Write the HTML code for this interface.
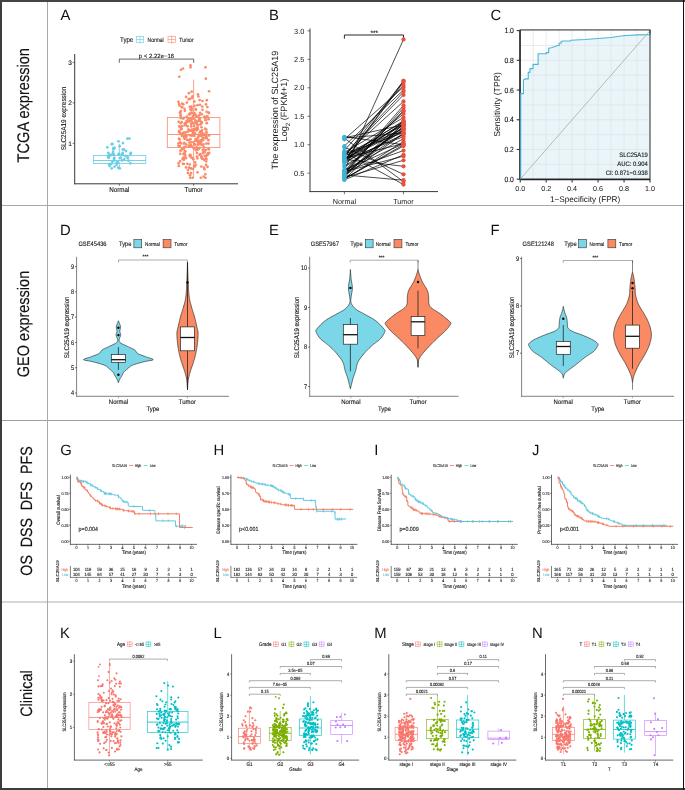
<!DOCTYPE html>
<html><head><meta charset="utf-8"><style>
html,body{margin:0;padding:0;background:#fff;width:685px;height:790px;overflow:hidden}
svg{display:block;will-change:transform}
text{font-family:"Liberation Sans",sans-serif;text-rendering:geometricPrecision}
</style></head><body>
<svg width="685" height="790" viewBox="0 0 685 790">
<rect x="0" y="0" width="685" height="790" fill="#fff" stroke="none" stroke-width="0.8"/>
<line x1="0" y1="205.5" x2="684" y2="205.5" stroke="#a8a8a8" stroke-width="1"/>
<line x1="0" y1="420.5" x2="684" y2="420.5" stroke="#a0a0a0" stroke-width="1"/>
<line x1="0" y1="602" x2="684" y2="602" stroke="#c8c8c8" stroke-width="1.6"/>
<line x1="47.5" y1="0" x2="47.5" y2="790" stroke="#a8a8a8" stroke-width="1"/>
<text transform="translate(60.4 20.4)" font-size="14.8" text-anchor="start" fill="#111">A</text>
<text transform="translate(120 42) scale(0.6100 0.7015)" font-size="10" text-anchor="start" fill="#151515" stroke="#151515" stroke-width="0.171">Type</text>
<rect x="136.3" y="36.4" width="7.4" height="6.2" fill="none" stroke="#6acce5" stroke-width="0.6"/>
<line x1="136.3" y1="39.5" x2="143.7" y2="39.5" stroke="#6acce5" stroke-width="0.6"/>
<line x1="140" y1="35.4" x2="140" y2="43.6" stroke="#6acce5" stroke-width="0.6"/>
<text transform="translate(147.6 42) scale(0.5000 0.6250)" font-size="10" text-anchor="start" fill="#151515" stroke="#151515" stroke-width="0.192">Normal</text>
<rect x="168" y="36.4" width="7.4" height="6.2" fill="none" stroke="#f98b6a" stroke-width="0.6"/>
<line x1="168" y1="39.5" x2="175.4" y2="39.5" stroke="#f98b6a" stroke-width="0.6"/>
<line x1="171.7" y1="35.4" x2="171.7" y2="43.6" stroke="#f98b6a" stroke-width="0.6"/>
<text transform="translate(179.3 42) scale(0.5000 0.6250)" font-size="10" text-anchor="start" fill="#151515" stroke="#151515" stroke-width="0.192">Tumor</text>
<line x1="74.7" y1="54" x2="74.7" y2="184.3" stroke="#383838" stroke-width="1.0"/>
<line x1="74.2" y1="183.8" x2="238" y2="183.8" stroke="#383838" stroke-width="1.0"/>
<line x1="72.6" y1="62.45" x2="74.7" y2="62.45" stroke="#383838" stroke-width="0.7"/>
<text transform="translate(71.8 64.75) scale(0.6600 0.6600)" font-size="10" text-anchor="end" fill="#151515" stroke="#151515" stroke-width="0.182">3</text>
<line x1="72.6" y1="102.9" x2="74.7" y2="102.9" stroke="#383838" stroke-width="0.7"/>
<text transform="translate(71.8 105.2) scale(0.6600 0.6600)" font-size="10" text-anchor="end" fill="#151515" stroke="#151515" stroke-width="0.182">2</text>
<line x1="72.6" y1="143.35" x2="74.7" y2="143.35" stroke="#383838" stroke-width="0.7"/>
<text transform="translate(71.8 145.65) scale(0.6600 0.6600)" font-size="10" text-anchor="end" fill="#151515" stroke="#151515" stroke-width="0.182">1</text>
<line x1="119.3" y1="183.8" x2="119.3" y2="185.8" stroke="#383838" stroke-width="0.7"/>
<line x1="193.6" y1="183.8" x2="193.6" y2="185.8" stroke="#383838" stroke-width="0.7"/>
<text transform="translate(119.3 192) scale(0.6300 0.7056)" font-size="10" text-anchor="middle" fill="#151515" stroke="#151515" stroke-width="0.170">Normal</text>
<text transform="translate(193.6 192) scale(0.6300 0.7056)" font-size="10" text-anchor="middle" fill="#151515" stroke="#151515" stroke-width="0.170">Tumor</text>
<text transform="translate(66.2 118.5) rotate(-90) scale(0.6400 0.7040)" font-size="10" text-anchor="middle" fill="#151515" stroke="#151515" stroke-width="0.170">SLC25A19 expression</text>
<path d="M119.3 62.8 V59.1 H193.7 V62.8" fill="none" stroke="#444" stroke-width="0.8"/>
<text transform="translate(156.5 58.2) scale(0.6000 0.6000)" font-size="10" text-anchor="middle" fill="#151515" stroke="#151515" stroke-width="0.200">p &lt; 2.22e−16</text>
<rect x="93.4" y="155.4" width="52.4" height="8" fill="none" stroke="#6acce5" stroke-width="0.8"/>
<line x1="93.4" y1="160.5" x2="145.8" y2="160.5" stroke="#6acce5" stroke-width="0.9"/>
<line x1="119.3" y1="143.7" x2="119.3" y2="155.4" stroke="#6acce5" stroke-width="0.8"/>
<line x1="119.3" y1="163.4" x2="119.3" y2="168.5" stroke="#6acce5" stroke-width="0.8"/>
<circle cx="129.48" cy="138.5" r="1.35" fill="#6acce5"/>
<circle cx="118.48" cy="141.33" r="1.35" fill="#6acce5"/>
<circle cx="111.73" cy="144.16" r="1.35" fill="#6acce5"/>
<circle cx="119.59" cy="146.18" r="1.35" fill="#6acce5"/>
<circle cx="109.56" cy="166.1" r="1.35" fill="#6acce5"/>
<circle cx="114.58" cy="166.57" r="1.35" fill="#6acce5"/>
<circle cx="123.94" cy="149.41" r="1.35" fill="#6acce5"/>
<circle cx="108.31" cy="152.76" r="1.35" fill="#6acce5"/>
<circle cx="122.99" cy="143.12" r="1.35" fill="#6acce5"/>
<circle cx="122.07" cy="160.47" r="1.35" fill="#6acce5"/>
<circle cx="119.98" cy="158.14" r="1.35" fill="#6acce5"/>
<circle cx="108.73" cy="157.84" r="1.35" fill="#6acce5"/>
<circle cx="108.02" cy="157.06" r="1.35" fill="#6acce5"/>
<circle cx="118.43" cy="154.52" r="1.35" fill="#6acce5"/>
<circle cx="119.76" cy="168.43" r="1.35" fill="#6acce5"/>
<circle cx="122.67" cy="154.46" r="1.35" fill="#6acce5"/>
<circle cx="118.28" cy="167.66" r="1.35" fill="#6acce5"/>
<circle cx="113.98" cy="158.71" r="1.35" fill="#6acce5"/>
<circle cx="127.47" cy="138.7" r="1.35" fill="#6acce5"/>
<circle cx="124.29" cy="159.02" r="1.35" fill="#6acce5"/>
<circle cx="114.24" cy="160.47" r="1.35" fill="#6acce5"/>
<circle cx="108.99" cy="154.7" r="1.35" fill="#6acce5"/>
<circle cx="127.62" cy="158.09" r="1.35" fill="#6acce5"/>
<circle cx="116.58" cy="164.83" r="1.35" fill="#6acce5"/>
<circle cx="107.31" cy="147.36" r="1.35" fill="#6acce5"/>
<circle cx="112.33" cy="161.79" r="1.35" fill="#6acce5"/>
<circle cx="130.83" cy="152.94" r="1.35" fill="#6acce5"/>
<circle cx="116.84" cy="162.37" r="1.35" fill="#6acce5"/>
<circle cx="125.98" cy="151.06" r="1.35" fill="#6acce5"/>
<circle cx="113.77" cy="154.93" r="1.35" fill="#6acce5"/>
<circle cx="130.44" cy="154.06" r="1.35" fill="#6acce5"/>
<circle cx="125.49" cy="155.88" r="1.35" fill="#6acce5"/>
<circle cx="109.73" cy="155.35" r="1.35" fill="#6acce5"/>
<circle cx="108.74" cy="155.64" r="1.35" fill="#6acce5"/>
<circle cx="120.72" cy="157.62" r="1.35" fill="#6acce5"/>
<circle cx="118.04" cy="162.35" r="1.35" fill="#6acce5"/>
<circle cx="110.44" cy="155.14" r="1.35" fill="#6acce5"/>
<circle cx="122.75" cy="149.55" r="1.35" fill="#6acce5"/>
<circle cx="112.41" cy="154" r="1.35" fill="#6acce5"/>
<circle cx="113.78" cy="154.48" r="1.35" fill="#6acce5"/>
<circle cx="114.6" cy="147.96" r="1.35" fill="#6acce5"/>
<circle cx="128.54" cy="160.71" r="1.35" fill="#6acce5"/>
<circle cx="127.81" cy="157.24" r="1.35" fill="#6acce5"/>
<circle cx="122.7" cy="152.83" r="1.35" fill="#6acce5"/>
<circle cx="112.42" cy="143.96" r="1.35" fill="#6acce5"/>
<circle cx="113.5" cy="147.95" r="1.35" fill="#6acce5"/>
<circle cx="114.41" cy="157.95" r="1.35" fill="#6acce5"/>
<circle cx="109.06" cy="164.09" r="1.35" fill="#6acce5"/>
<circle cx="113.13" cy="151.95" r="1.35" fill="#6acce5"/>
<circle cx="121.73" cy="154.42" r="1.35" fill="#6acce5"/>
<circle cx="130.32" cy="163.34" r="1.35" fill="#6acce5"/>
<circle cx="118.91" cy="153.91" r="1.35" fill="#6acce5"/>
<circle cx="111.69" cy="168.43" r="1.35" fill="#6acce5"/>
<circle cx="111" cy="164.22" r="1.35" fill="#6acce5"/>
<circle cx="113.29" cy="149.33" r="1.35" fill="#6acce5"/>
<rect x="167.3" y="117.4" width="52.6" height="30.2" fill="none" stroke="#f98b6a" stroke-width="0.8"/>
<line x1="167.3" y1="134.5" x2="219.9" y2="134.5" stroke="#f98b6a" stroke-width="0.9"/>
<line x1="193.6" y1="79.6" x2="193.6" y2="117.4" stroke="#f98b6a" stroke-width="0.8"/>
<line x1="193.6" y1="147.6" x2="193.6" y2="177.3" stroke="#f98b6a" stroke-width="0.8"/>
<circle cx="183.98" cy="153.55" r="1.35" fill="#f98b6a"/>
<circle cx="184.19" cy="136.43" r="1.35" fill="#f98b6a"/>
<circle cx="205.45" cy="177.73" r="1.35" fill="#f98b6a"/>
<circle cx="181.32" cy="150.08" r="1.35" fill="#f98b6a"/>
<circle cx="179.3" cy="146.05" r="1.35" fill="#f98b6a"/>
<circle cx="199.94" cy="118.72" r="1.35" fill="#f98b6a"/>
<circle cx="186.07" cy="136.71" r="1.35" fill="#f98b6a"/>
<circle cx="187.2" cy="121.06" r="1.35" fill="#f98b6a"/>
<circle cx="183.54" cy="157.61" r="1.35" fill="#f98b6a"/>
<circle cx="185.18" cy="134.65" r="1.35" fill="#f98b6a"/>
<circle cx="195.44" cy="140.74" r="1.35" fill="#f98b6a"/>
<circle cx="186.79" cy="116.49" r="1.35" fill="#f98b6a"/>
<circle cx="206.54" cy="155.57" r="1.35" fill="#f98b6a"/>
<circle cx="186.45" cy="132.18" r="1.35" fill="#f98b6a"/>
<circle cx="191.92" cy="129.69" r="1.35" fill="#f98b6a"/>
<circle cx="189.53" cy="121.54" r="1.35" fill="#f98b6a"/>
<circle cx="195.84" cy="128.57" r="1.35" fill="#f98b6a"/>
<circle cx="205.72" cy="120.25" r="1.35" fill="#f98b6a"/>
<circle cx="208.5" cy="119.13" r="1.35" fill="#f98b6a"/>
<circle cx="196.22" cy="150.35" r="1.35" fill="#f98b6a"/>
<circle cx="182.45" cy="159.09" r="1.35" fill="#f98b6a"/>
<circle cx="206.32" cy="129.49" r="1.35" fill="#f98b6a"/>
<circle cx="199.83" cy="132.4" r="1.35" fill="#f98b6a"/>
<circle cx="197.82" cy="129.16" r="1.35" fill="#f98b6a"/>
<circle cx="193.05" cy="134.21" r="1.35" fill="#f98b6a"/>
<circle cx="209.08" cy="135.4" r="1.35" fill="#f98b6a"/>
<circle cx="180.43" cy="150.83" r="1.35" fill="#f98b6a"/>
<circle cx="206.01" cy="164.92" r="1.35" fill="#f98b6a"/>
<circle cx="200.95" cy="142.68" r="1.35" fill="#f98b6a"/>
<circle cx="206.47" cy="143.54" r="1.35" fill="#f98b6a"/>
<circle cx="189.01" cy="167.64" r="1.35" fill="#f98b6a"/>
<circle cx="205.1" cy="150.47" r="1.35" fill="#f98b6a"/>
<circle cx="191.03" cy="173.16" r="1.35" fill="#f98b6a"/>
<circle cx="195.86" cy="123.07" r="1.35" fill="#f98b6a"/>
<circle cx="197.47" cy="172.3" r="1.35" fill="#f98b6a"/>
<circle cx="196.97" cy="153" r="1.35" fill="#f98b6a"/>
<circle cx="180.59" cy="115.22" r="1.35" fill="#f98b6a"/>
<circle cx="205.37" cy="174.23" r="1.35" fill="#f98b6a"/>
<circle cx="190.14" cy="177.73" r="1.35" fill="#f98b6a"/>
<circle cx="191.76" cy="135.74" r="1.35" fill="#f98b6a"/>
<circle cx="204.09" cy="159.79" r="1.35" fill="#f98b6a"/>
<circle cx="179.02" cy="104.11" r="1.35" fill="#f98b6a"/>
<circle cx="196.74" cy="116.31" r="1.35" fill="#f98b6a"/>
<circle cx="199.75" cy="147.76" r="1.35" fill="#f98b6a"/>
<circle cx="193.51" cy="131.49" r="1.35" fill="#f98b6a"/>
<circle cx="186.03" cy="167.47" r="1.35" fill="#f98b6a"/>
<circle cx="178.45" cy="163.23" r="1.35" fill="#f98b6a"/>
<circle cx="184.38" cy="142.84" r="1.35" fill="#f98b6a"/>
<circle cx="183.36" cy="104.34" r="1.35" fill="#f98b6a"/>
<circle cx="191.8" cy="108.59" r="1.35" fill="#f98b6a"/>
<circle cx="205.74" cy="149.82" r="1.35" fill="#f98b6a"/>
<circle cx="184.25" cy="147.16" r="1.35" fill="#f98b6a"/>
<circle cx="191.46" cy="106.72" r="1.35" fill="#f98b6a"/>
<circle cx="205.39" cy="117.79" r="1.35" fill="#f98b6a"/>
<circle cx="190.02" cy="175.32" r="1.35" fill="#f98b6a"/>
<circle cx="182.32" cy="148.53" r="1.35" fill="#f98b6a"/>
<circle cx="193.49" cy="142.04" r="1.35" fill="#f98b6a"/>
<circle cx="200.15" cy="112.78" r="1.35" fill="#f98b6a"/>
<circle cx="207.55" cy="166.8" r="1.35" fill="#f98b6a"/>
<circle cx="192.07" cy="135.3" r="1.35" fill="#f98b6a"/>
<circle cx="186.63" cy="121.1" r="1.35" fill="#f98b6a"/>
<circle cx="197.5" cy="128.56" r="1.35" fill="#f98b6a"/>
<circle cx="193.41" cy="112.86" r="1.35" fill="#f98b6a"/>
<circle cx="208.54" cy="148.67" r="1.35" fill="#f98b6a"/>
<circle cx="192.13" cy="97.79" r="1.35" fill="#f98b6a"/>
<circle cx="205.16" cy="128.67" r="1.35" fill="#f98b6a"/>
<circle cx="179.39" cy="130.92" r="1.35" fill="#f98b6a"/>
<circle cx="187.68" cy="140" r="1.35" fill="#f98b6a"/>
<circle cx="202.64" cy="158.65" r="1.35" fill="#f98b6a"/>
<circle cx="192.2" cy="122.39" r="1.35" fill="#f98b6a"/>
<circle cx="178.87" cy="131.93" r="1.35" fill="#f98b6a"/>
<circle cx="182.47" cy="126.09" r="1.35" fill="#f98b6a"/>
<circle cx="179.56" cy="146.3" r="1.35" fill="#f98b6a"/>
<circle cx="197.63" cy="148.38" r="1.35" fill="#f98b6a"/>
<circle cx="198.41" cy="149.19" r="1.35" fill="#f98b6a"/>
<circle cx="199.32" cy="115.24" r="1.35" fill="#f98b6a"/>
<circle cx="178.43" cy="143.27" r="1.35" fill="#f98b6a"/>
<circle cx="192.74" cy="131.26" r="1.35" fill="#f98b6a"/>
<circle cx="186.54" cy="136.07" r="1.35" fill="#f98b6a"/>
<circle cx="188.82" cy="145.62" r="1.35" fill="#f98b6a"/>
<circle cx="197.15" cy="141.21" r="1.35" fill="#f98b6a"/>
<circle cx="201.54" cy="156.43" r="1.35" fill="#f98b6a"/>
<circle cx="206.19" cy="161.35" r="1.35" fill="#f98b6a"/>
<circle cx="180.8" cy="111.01" r="1.35" fill="#f98b6a"/>
<circle cx="182.13" cy="103.72" r="1.35" fill="#f98b6a"/>
<circle cx="192.16" cy="146.54" r="1.35" fill="#f98b6a"/>
<circle cx="189.78" cy="164.51" r="1.35" fill="#f98b6a"/>
<circle cx="195.73" cy="164.73" r="1.35" fill="#f98b6a"/>
<circle cx="207.37" cy="107.02" r="1.35" fill="#f98b6a"/>
<circle cx="192.47" cy="158.07" r="1.35" fill="#f98b6a"/>
<circle cx="200.48" cy="141.2" r="1.35" fill="#f98b6a"/>
<circle cx="203.47" cy="144.38" r="1.35" fill="#f98b6a"/>
<circle cx="184.71" cy="153.49" r="1.35" fill="#f98b6a"/>
<circle cx="206" cy="158.23" r="1.35" fill="#f98b6a"/>
<circle cx="202.61" cy="138.68" r="1.35" fill="#f98b6a"/>
<circle cx="204.63" cy="152.23" r="1.35" fill="#f98b6a"/>
<circle cx="188.9" cy="93.13" r="1.35" fill="#f98b6a"/>
<circle cx="195.16" cy="114.31" r="1.35" fill="#f98b6a"/>
<circle cx="201.92" cy="122.4" r="1.35" fill="#f98b6a"/>
<circle cx="203.18" cy="138.08" r="1.35" fill="#f98b6a"/>
<circle cx="180.09" cy="132.85" r="1.35" fill="#f98b6a"/>
<circle cx="188.49" cy="129.4" r="1.35" fill="#f98b6a"/>
<circle cx="202.53" cy="145.09" r="1.35" fill="#f98b6a"/>
<circle cx="194.11" cy="125.95" r="1.35" fill="#f98b6a"/>
<circle cx="200.53" cy="124.37" r="1.35" fill="#f98b6a"/>
<circle cx="207.42" cy="116.67" r="1.35" fill="#f98b6a"/>
<circle cx="193.37" cy="159.35" r="1.35" fill="#f98b6a"/>
<circle cx="184.96" cy="125.09" r="1.35" fill="#f98b6a"/>
<circle cx="194.43" cy="135.93" r="1.35" fill="#f98b6a"/>
<circle cx="197.91" cy="141.4" r="1.35" fill="#f98b6a"/>
<circle cx="194.31" cy="101.6" r="1.35" fill="#f98b6a"/>
<circle cx="187.76" cy="118.86" r="1.35" fill="#f98b6a"/>
<circle cx="189.92" cy="154.8" r="1.35" fill="#f98b6a"/>
<circle cx="184.56" cy="108.76" r="1.35" fill="#f98b6a"/>
<circle cx="204.47" cy="169.14" r="1.35" fill="#f98b6a"/>
<circle cx="195.86" cy="109.07" r="1.35" fill="#f98b6a"/>
<circle cx="184.33" cy="138.09" r="1.35" fill="#f98b6a"/>
<circle cx="196.86" cy="156.55" r="1.35" fill="#f98b6a"/>
<circle cx="178.96" cy="138.59" r="1.35" fill="#f98b6a"/>
<circle cx="190.52" cy="109.32" r="1.35" fill="#f98b6a"/>
<circle cx="202.93" cy="137.89" r="1.35" fill="#f98b6a"/>
<circle cx="199.52" cy="154.93" r="1.35" fill="#f98b6a"/>
<circle cx="180.14" cy="142.28" r="1.35" fill="#f98b6a"/>
<circle cx="207.76" cy="153.52" r="1.35" fill="#f98b6a"/>
<circle cx="206.73" cy="138.27" r="1.35" fill="#f98b6a"/>
<circle cx="182.04" cy="136" r="1.35" fill="#f98b6a"/>
<circle cx="191.54" cy="110.51" r="1.35" fill="#f98b6a"/>
<circle cx="192.87" cy="115.8" r="1.35" fill="#f98b6a"/>
<circle cx="187.93" cy="173.04" r="1.35" fill="#f98b6a"/>
<circle cx="206.78" cy="123.15" r="1.35" fill="#f98b6a"/>
<circle cx="182.11" cy="107.06" r="1.35" fill="#f98b6a"/>
<circle cx="184.12" cy="132.44" r="1.35" fill="#f98b6a"/>
<circle cx="185.15" cy="137.51" r="1.35" fill="#f98b6a"/>
<circle cx="189.12" cy="140.11" r="1.35" fill="#f98b6a"/>
<circle cx="197.31" cy="149.69" r="1.35" fill="#f98b6a"/>
<circle cx="181.91" cy="107.33" r="1.35" fill="#f98b6a"/>
<circle cx="193.92" cy="113.17" r="1.35" fill="#f98b6a"/>
<circle cx="194.54" cy="133.28" r="1.35" fill="#f98b6a"/>
<circle cx="191.64" cy="119.81" r="1.35" fill="#f98b6a"/>
<circle cx="194.51" cy="148.08" r="1.35" fill="#f98b6a"/>
<circle cx="183.05" cy="118.53" r="1.35" fill="#f98b6a"/>
<circle cx="197.89" cy="125.14" r="1.35" fill="#f98b6a"/>
<circle cx="194.52" cy="105.84" r="1.35" fill="#f98b6a"/>
<circle cx="204.66" cy="116.71" r="1.35" fill="#f98b6a"/>
<circle cx="185.31" cy="155.61" r="1.35" fill="#f98b6a"/>
<circle cx="206.08" cy="135.38" r="1.35" fill="#f98b6a"/>
<circle cx="187.89" cy="170.07" r="1.35" fill="#f98b6a"/>
<circle cx="184.86" cy="151.41" r="1.35" fill="#f98b6a"/>
<circle cx="209.05" cy="91.23" r="1.35" fill="#f98b6a"/>
<circle cx="185.52" cy="124.99" r="1.35" fill="#f98b6a"/>
<circle cx="200.62" cy="140.28" r="1.35" fill="#f98b6a"/>
<circle cx="203.9" cy="133.78" r="1.35" fill="#f98b6a"/>
<circle cx="191.17" cy="124.12" r="1.35" fill="#f98b6a"/>
<circle cx="190.59" cy="130.63" r="1.35" fill="#f98b6a"/>
<circle cx="199.34" cy="143.41" r="1.35" fill="#f98b6a"/>
<circle cx="199.25" cy="119.78" r="1.35" fill="#f98b6a"/>
<circle cx="206.35" cy="131.73" r="1.35" fill="#f98b6a"/>
<circle cx="193.78" cy="123.42" r="1.35" fill="#f98b6a"/>
<circle cx="201.6" cy="135.21" r="1.35" fill="#f98b6a"/>
<circle cx="183.96" cy="164" r="1.35" fill="#f98b6a"/>
<circle cx="180.29" cy="133.78" r="1.35" fill="#f98b6a"/>
<circle cx="195.2" cy="128.85" r="1.35" fill="#f98b6a"/>
<circle cx="194.06" cy="129.78" r="1.35" fill="#f98b6a"/>
<circle cx="183.82" cy="143.58" r="1.35" fill="#f98b6a"/>
<circle cx="184.42" cy="138" r="1.35" fill="#f98b6a"/>
<circle cx="206.83" cy="100.17" r="1.35" fill="#f98b6a"/>
<circle cx="192.42" cy="96.41" r="1.35" fill="#f98b6a"/>
<circle cx="201.81" cy="114.36" r="1.35" fill="#f98b6a"/>
<circle cx="194.07" cy="143.77" r="1.35" fill="#f98b6a"/>
<circle cx="191.43" cy="113.14" r="1.35" fill="#f98b6a"/>
<circle cx="199.83" cy="135.9" r="1.35" fill="#f98b6a"/>
<circle cx="204.27" cy="135.19" r="1.35" fill="#f98b6a"/>
<circle cx="201.02" cy="123.93" r="1.35" fill="#f98b6a"/>
<circle cx="190.66" cy="113.03" r="1.35" fill="#f98b6a"/>
<circle cx="193.99" cy="129.13" r="1.35" fill="#f98b6a"/>
<circle cx="178.58" cy="121.8" r="1.35" fill="#f98b6a"/>
<circle cx="199.94" cy="104.75" r="1.35" fill="#f98b6a"/>
<circle cx="204.78" cy="155.86" r="1.35" fill="#f98b6a"/>
<circle cx="196.69" cy="147.39" r="1.35" fill="#f98b6a"/>
<circle cx="193.73" cy="148.19" r="1.35" fill="#f98b6a"/>
<circle cx="186.11" cy="96.89" r="1.35" fill="#f98b6a"/>
<circle cx="206.35" cy="137.21" r="1.35" fill="#f98b6a"/>
<circle cx="203.35" cy="134.46" r="1.35" fill="#f98b6a"/>
<circle cx="190.67" cy="168.31" r="1.35" fill="#f98b6a"/>
<circle cx="199.64" cy="100.09" r="1.35" fill="#f98b6a"/>
<circle cx="201.89" cy="158.44" r="1.35" fill="#f98b6a"/>
<circle cx="200.5" cy="131.27" r="1.35" fill="#f98b6a"/>
<circle cx="180.29" cy="153.78" r="1.35" fill="#f98b6a"/>
<circle cx="178.43" cy="145.63" r="1.35" fill="#f98b6a"/>
<circle cx="189.12" cy="114.16" r="1.35" fill="#f98b6a"/>
<circle cx="185.3" cy="151.45" r="1.35" fill="#f98b6a"/>
<circle cx="207.38" cy="154.89" r="1.35" fill="#f98b6a"/>
<circle cx="198.55" cy="142.48" r="1.35" fill="#f98b6a"/>
<circle cx="195.76" cy="149.11" r="1.35" fill="#f98b6a"/>
<circle cx="209.1" cy="152.9" r="1.35" fill="#f98b6a"/>
<circle cx="198.01" cy="137.38" r="1.35" fill="#f98b6a"/>
<circle cx="208.48" cy="143.57" r="1.35" fill="#f98b6a"/>
<circle cx="178.81" cy="165.9" r="1.35" fill="#f98b6a"/>
<circle cx="186.06" cy="158.04" r="1.35" fill="#f98b6a"/>
<circle cx="190.55" cy="155.22" r="1.35" fill="#f98b6a"/>
<circle cx="189.75" cy="120.56" r="1.35" fill="#f98b6a"/>
<circle cx="181.15" cy="129.08" r="1.35" fill="#f98b6a"/>
<circle cx="195.15" cy="133.48" r="1.35" fill="#f98b6a"/>
<circle cx="208.95" cy="112.72" r="1.35" fill="#f98b6a"/>
<circle cx="197.88" cy="138.61" r="1.35" fill="#f98b6a"/>
<circle cx="196.62" cy="130.3" r="1.35" fill="#f98b6a"/>
<circle cx="201.64" cy="140.73" r="1.35" fill="#f98b6a"/>
<circle cx="192.72" cy="122.8" r="1.35" fill="#f98b6a"/>
<circle cx="197.05" cy="121.73" r="1.35" fill="#f98b6a"/>
<circle cx="179.91" cy="112.57" r="1.35" fill="#f98b6a"/>
<circle cx="194.43" cy="113.34" r="1.35" fill="#f98b6a"/>
<circle cx="196.63" cy="140.36" r="1.35" fill="#f98b6a"/>
<circle cx="198.41" cy="144.26" r="1.35" fill="#f98b6a"/>
<circle cx="195.48" cy="120.83" r="1.35" fill="#f98b6a"/>
<circle cx="187.28" cy="139.95" r="1.35" fill="#f98b6a"/>
<circle cx="178.53" cy="101.83" r="1.35" fill="#f98b6a"/>
<circle cx="182.95" cy="133.05" r="1.35" fill="#f98b6a"/>
<circle cx="201.49" cy="127.26" r="1.35" fill="#f98b6a"/>
<circle cx="201.3" cy="166.49" r="1.35" fill="#f98b6a"/>
<circle cx="179.65" cy="105.71" r="1.35" fill="#f98b6a"/>
<circle cx="206.17" cy="135.98" r="1.35" fill="#f98b6a"/>
<circle cx="208.27" cy="154.06" r="1.35" fill="#f98b6a"/>
<circle cx="185.65" cy="123.36" r="1.35" fill="#f98b6a"/>
<circle cx="192.62" cy="177.73" r="1.35" fill="#f98b6a"/>
<circle cx="208.44" cy="140.2" r="1.35" fill="#f98b6a"/>
<circle cx="181.67" cy="122.04" r="1.35" fill="#f98b6a"/>
<circle cx="197.45" cy="158.37" r="1.35" fill="#f98b6a"/>
<circle cx="179.71" cy="146.36" r="1.35" fill="#f98b6a"/>
<circle cx="194.47" cy="129.49" r="1.35" fill="#f98b6a"/>
<circle cx="198.8" cy="117.7" r="1.35" fill="#f98b6a"/>
<circle cx="192.22" cy="117.83" r="1.35" fill="#f98b6a"/>
<circle cx="191.11" cy="135.27" r="1.35" fill="#f98b6a"/>
<circle cx="202.22" cy="106.59" r="1.35" fill="#f98b6a"/>
<circle cx="200.86" cy="177.73" r="1.35" fill="#f98b6a"/>
<circle cx="185.49" cy="146.75" r="1.35" fill="#f98b6a"/>
<circle cx="202.41" cy="100.98" r="1.35" fill="#f98b6a"/>
<circle cx="197.47" cy="105.21" r="1.35" fill="#f98b6a"/>
<circle cx="199.34" cy="143.44" r="1.35" fill="#f98b6a"/>
<circle cx="195.61" cy="120.78" r="1.35" fill="#f98b6a"/>
<circle cx="201.45" cy="157.26" r="1.35" fill="#f98b6a"/>
<circle cx="183.98" cy="148.84" r="1.35" fill="#f98b6a"/>
<circle cx="206.49" cy="132.87" r="1.35" fill="#f98b6a"/>
<circle cx="179.32" cy="76.77" r="1.35" fill="#f98b6a"/>
<circle cx="191.28" cy="118.32" r="1.35" fill="#f98b6a"/>
<circle cx="197.42" cy="127.24" r="1.35" fill="#f98b6a"/>
<circle cx="180.35" cy="113.03" r="1.35" fill="#f98b6a"/>
<circle cx="180.78" cy="118.07" r="1.35" fill="#f98b6a"/>
<circle cx="197.66" cy="144.67" r="1.35" fill="#f98b6a"/>
<circle cx="189.67" cy="156.12" r="1.35" fill="#f98b6a"/>
<circle cx="188.75" cy="147.02" r="1.35" fill="#f98b6a"/>
<circle cx="201.19" cy="131.37" r="1.35" fill="#f98b6a"/>
<circle cx="181.81" cy="129.04" r="1.35" fill="#f98b6a"/>
<circle cx="203.18" cy="139.99" r="1.35" fill="#f98b6a"/>
<circle cx="184.71" cy="157.91" r="1.35" fill="#f98b6a"/>
<circle cx="191.26" cy="157.52" r="1.35" fill="#f98b6a"/>
<circle cx="189.54" cy="135.11" r="1.35" fill="#f98b6a"/>
<circle cx="198.36" cy="96.43" r="1.35" fill="#f98b6a"/>
<circle cx="195.11" cy="115.33" r="1.35" fill="#f98b6a"/>
<circle cx="201.23" cy="134.46" r="1.35" fill="#f98b6a"/>
<circle cx="189.55" cy="114.46" r="1.35" fill="#f98b6a"/>
<circle cx="181.11" cy="143.43" r="1.35" fill="#f98b6a"/>
<circle cx="180.67" cy="127.45" r="1.35" fill="#f98b6a"/>
<circle cx="195.59" cy="139.01" r="1.35" fill="#f98b6a"/>
<circle cx="187.36" cy="163.85" r="1.35" fill="#f98b6a"/>
<circle cx="202.14" cy="130.32" r="1.35" fill="#f98b6a"/>
<circle cx="198.63" cy="120.8" r="1.35" fill="#f98b6a"/>
<circle cx="180.63" cy="126.79" r="1.35" fill="#f98b6a"/>
<circle cx="199.61" cy="144.02" r="1.35" fill="#f98b6a"/>
<circle cx="186.87" cy="102.58" r="1.35" fill="#f98b6a"/>
<circle cx="200.61" cy="121.38" r="1.35" fill="#f98b6a"/>
<circle cx="189.46" cy="118.35" r="1.35" fill="#f98b6a"/>
<circle cx="195.75" cy="109.71" r="1.35" fill="#f98b6a"/>
<circle cx="206.58" cy="111.86" r="1.35" fill="#f98b6a"/>
<circle cx="191.68" cy="91.65" r="1.35" fill="#f98b6a"/>
<circle cx="202.99" cy="149.72" r="1.35" fill="#f98b6a"/>
<circle cx="190.49" cy="139.2" r="1.35" fill="#f98b6a"/>
<circle cx="207.07" cy="116.59" r="1.35" fill="#f98b6a"/>
<circle cx="189.31" cy="121.18" r="1.35" fill="#f98b6a"/>
<circle cx="189.43" cy="142.62" r="1.35" fill="#f98b6a"/>
<circle cx="190.11" cy="146.5" r="1.35" fill="#f98b6a"/>
<circle cx="184.14" cy="117.87" r="1.35" fill="#f98b6a"/>
<circle cx="194.86" cy="166.5" r="1.35" fill="#f98b6a"/>
<circle cx="204.03" cy="147.33" r="1.35" fill="#f98b6a"/>
<circle cx="201.63" cy="144.88" r="1.35" fill="#f98b6a"/>
<circle cx="205.41" cy="138.08" r="1.35" fill="#f98b6a"/>
<circle cx="194.08" cy="134.08" r="1.35" fill="#f98b6a"/>
<circle cx="194.97" cy="129.03" r="1.35" fill="#f98b6a"/>
<circle cx="203.03" cy="150.58" r="1.35" fill="#f98b6a"/>
<circle cx="202.53" cy="109.82" r="1.35" fill="#f98b6a"/>
<circle cx="180.71" cy="123.27" r="1.35" fill="#f98b6a"/>
<circle cx="205.97" cy="104.44" r="1.35" fill="#f98b6a"/>
<circle cx="180.73" cy="117.01" r="1.35" fill="#f98b6a"/>
<circle cx="201.22" cy="140.74" r="1.35" fill="#f98b6a"/>
<circle cx="198.22" cy="141.65" r="1.35" fill="#f98b6a"/>
<circle cx="201.83" cy="132.83" r="1.35" fill="#f98b6a"/>
<circle cx="194.27" cy="118.97" r="1.35" fill="#f98b6a"/>
<circle cx="188.57" cy="131.37" r="1.35" fill="#f98b6a"/>
<circle cx="208.12" cy="153.41" r="1.35" fill="#f98b6a"/>
<circle cx="194.76" cy="144.29" r="1.35" fill="#f98b6a"/>
<circle cx="200.45" cy="154.08" r="1.35" fill="#f98b6a"/>
<circle cx="190.83" cy="144.91" r="1.35" fill="#f98b6a"/>
<circle cx="203.71" cy="176.6" r="1.35" fill="#f98b6a"/>
<circle cx="203.08" cy="153.04" r="1.35" fill="#f98b6a"/>
<circle cx="203.95" cy="167.58" r="1.35" fill="#f98b6a"/>
<circle cx="197.95" cy="94.31" r="1.35" fill="#f98b6a"/>
<circle cx="194.34" cy="166.01" r="1.35" fill="#f98b6a"/>
<circle cx="191.17" cy="142.27" r="1.35" fill="#f98b6a"/>
<circle cx="191.13" cy="168.51" r="1.35" fill="#f98b6a"/>
<circle cx="208.82" cy="113.05" r="1.35" fill="#f98b6a"/>
<circle cx="189.74" cy="106.81" r="1.35" fill="#f98b6a"/>
<circle cx="191.27" cy="126.47" r="1.35" fill="#f98b6a"/>
<circle cx="187.15" cy="121.35" r="1.35" fill="#f98b6a"/>
<circle cx="187.66" cy="126.3" r="1.35" fill="#f98b6a"/>
<circle cx="181.66" cy="134.57" r="1.35" fill="#f98b6a"/>
<circle cx="183.66" cy="154.16" r="1.35" fill="#f98b6a"/>
<circle cx="180.03" cy="161.28" r="1.35" fill="#f98b6a"/>
<circle cx="206.29" cy="159.13" r="1.35" fill="#f98b6a"/>
<circle cx="179.23" cy="126.37" r="1.35" fill="#f98b6a"/>
<circle cx="184.84" cy="123.22" r="1.35" fill="#f98b6a"/>
<circle cx="185.4" cy="125.09" r="1.35" fill="#f98b6a"/>
<circle cx="185.04" cy="138.79" r="1.35" fill="#f98b6a"/>
<circle cx="183.83" cy="159.85" r="1.35" fill="#f98b6a"/>
<circle cx="201.58" cy="135.65" r="1.35" fill="#f98b6a"/>
<circle cx="187.76" cy="121.03" r="1.35" fill="#f98b6a"/>
<circle cx="192.96" cy="168.82" r="1.35" fill="#f98b6a"/>
<circle cx="186.17" cy="144.36" r="1.35" fill="#f98b6a"/>
<circle cx="188.7" cy="99.16" r="1.35" fill="#f98b6a"/>
<circle cx="195.07" cy="162.37" r="1.35" fill="#f98b6a"/>
<circle cx="184.95" cy="110.86" r="1.35" fill="#f98b6a"/>
<circle cx="179.64" cy="139.43" r="1.35" fill="#f98b6a"/>
<circle cx="190.03" cy="98.83" r="1.35" fill="#f98b6a"/>
<circle cx="194.46" cy="145.01" r="1.35" fill="#f98b6a"/>
<circle cx="208.8" cy="149.36" r="1.35" fill="#f98b6a"/>
<circle cx="198.48" cy="134.85" r="1.35" fill="#f98b6a"/>
<circle cx="192.75" cy="133" r="1.35" fill="#f98b6a"/>
<circle cx="189.62" cy="130.26" r="1.35" fill="#f98b6a"/>
<circle cx="196.89" cy="123.98" r="1.35" fill="#f98b6a"/>
<circle cx="182.98" cy="163.84" r="1.35" fill="#f98b6a"/>
<circle cx="186.14" cy="123.4" r="1.35" fill="#f98b6a"/>
<circle cx="205.05" cy="118.38" r="1.35" fill="#f98b6a"/>
<circle cx="181" cy="69.73" r="1.35" fill="#f98b6a"/>
<circle cx="183" cy="68.52" r="1.35" fill="#f98b6a"/>
<circle cx="190.5" cy="65.28" r="1.35" fill="#f98b6a"/>
<circle cx="190.5" cy="67.3" r="1.35" fill="#f98b6a"/>
<circle cx="205.5" cy="67.3" r="1.35" fill="#f98b6a"/>
<circle cx="205.8" cy="78.63" r="1.35" fill="#f98b6a"/>
<text transform="translate(269 20.4)" font-size="14.8" text-anchor="start" fill="#111">B</text>
<line x1="310" y1="28.5" x2="310" y2="192.1" stroke="#383838" stroke-width="1.0"/>
<line x1="309.5" y1="191.6" x2="438" y2="191.6" stroke="#383838" stroke-width="1.0"/>
<line x1="307.5" y1="30.9" x2="310" y2="30.9" stroke="#383838" stroke-width="0.7"/>
<text transform="translate(304.4 33.5)" font-size="7.4" text-anchor="end" fill="#151515">3.0</text>
<line x1="307.5" y1="59.35" x2="310" y2="59.35" stroke="#383838" stroke-width="0.7"/>
<text transform="translate(304.4 61.95)" font-size="7.4" text-anchor="end" fill="#151515">2.5</text>
<line x1="307.5" y1="87.8" x2="310" y2="87.8" stroke="#383838" stroke-width="0.7"/>
<text transform="translate(304.4 90.4)" font-size="7.4" text-anchor="end" fill="#151515">2.0</text>
<line x1="307.5" y1="116.25" x2="310" y2="116.25" stroke="#383838" stroke-width="0.7"/>
<text transform="translate(304.4 118.85)" font-size="7.4" text-anchor="end" fill="#151515">1.5</text>
<line x1="307.5" y1="144.7" x2="310" y2="144.7" stroke="#383838" stroke-width="0.7"/>
<text transform="translate(304.4 147.3)" font-size="7.4" text-anchor="end" fill="#151515">1.0</text>
<line x1="307.5" y1="173.15" x2="310" y2="173.15" stroke="#383838" stroke-width="0.7"/>
<text transform="translate(304.4 175.75)" font-size="7.4" text-anchor="end" fill="#151515">0.5</text>
<line x1="344.4" y1="191.6" x2="344.4" y2="194.2" stroke="#383838" stroke-width="0.7"/>
<line x1="403.5" y1="191.6" x2="403.5" y2="194.2" stroke="#383838" stroke-width="0.7"/>
<text transform="translate(344.4 204)" font-size="7.2" text-anchor="middle" fill="#151515">Normal</text>
<text transform="translate(403.5 204)" font-size="7.2" text-anchor="middle" fill="#151515">Tumor</text>
<text transform="translate(278.2 110) rotate(-90)" font-size="9.1" text-anchor="middle" fill="#151515">The expression of SLC25A19</text>
<text transform="translate(287.3 110) rotate(-90)" font-size="9.1" text-anchor="middle" fill="#222">Log<tspan font-size="6.2" dy="2.2">2</tspan><tspan dy="-2.2"> (FPKM+1)</tspan></text>
<path d="M344.4 38.7 V35 H403.5 V37.7" fill="none" stroke="#111" stroke-width="0.9"/>
<text transform="translate(374.3 35.2) scale(0.6500 0.6500)" font-size="10" text-anchor="middle" fill="#151515" stroke="#151515" stroke-width="0.185">***</text>
<line x1="344.4" y1="152.33" x2="403.5" y2="184.53" stroke="#000" stroke-width="0.7"/>
<line x1="344.4" y1="138.15" x2="403.5" y2="181.69" stroke="#000" stroke-width="0.7"/>
<line x1="344.4" y1="147.14" x2="403.5" y2="174.29" stroke="#000" stroke-width="0.7"/>
<line x1="344.4" y1="159.31" x2="403.5" y2="166.32" stroke="#000" stroke-width="0.7"/>
<line x1="344.4" y1="138.11" x2="403.5" y2="132.99" stroke="#000" stroke-width="0.7"/>
<line x1="344.4" y1="174.95" x2="403.5" y2="180.22" stroke="#000" stroke-width="0.7"/>
<line x1="344.4" y1="159.16" x2="403.5" y2="124.41" stroke="#000" stroke-width="0.7"/>
<line x1="344.4" y1="154.51" x2="403.5" y2="91.86" stroke="#000" stroke-width="0.7"/>
<line x1="344.4" y1="179.4" x2="403.5" y2="141.43" stroke="#000" stroke-width="0.7"/>
<line x1="344.4" y1="139.31" x2="403.5" y2="87.14" stroke="#000" stroke-width="0.7"/>
<line x1="344.4" y1="145.99" x2="403.5" y2="89.98" stroke="#000" stroke-width="0.7"/>
<line x1="344.4" y1="173.82" x2="403.5" y2="105.41" stroke="#000" stroke-width="0.7"/>
<line x1="344.4" y1="152.57" x2="403.5" y2="117.49" stroke="#000" stroke-width="0.7"/>
<line x1="344.4" y1="156.67" x2="403.5" y2="121.56" stroke="#000" stroke-width="0.7"/>
<line x1="344.4" y1="174.38" x2="403.5" y2="126.31" stroke="#000" stroke-width="0.7"/>
<line x1="344.4" y1="156.65" x2="403.5" y2="80.97" stroke="#000" stroke-width="0.7"/>
<line x1="344.4" y1="172.24" x2="403.5" y2="110.59" stroke="#000" stroke-width="0.7"/>
<line x1="344.4" y1="161.85" x2="403.5" y2="134.5" stroke="#000" stroke-width="0.7"/>
<line x1="344.4" y1="174.5" x2="403.5" y2="107.87" stroke="#000" stroke-width="0.7"/>
<line x1="344.4" y1="154.13" x2="403.5" y2="132.62" stroke="#000" stroke-width="0.7"/>
<line x1="344.4" y1="156.08" x2="403.5" y2="128.44" stroke="#000" stroke-width="0.7"/>
<line x1="344.4" y1="175.54" x2="403.5" y2="120.86" stroke="#000" stroke-width="0.7"/>
<line x1="344.4" y1="176.08" x2="403.5" y2="124.26" stroke="#000" stroke-width="0.7"/>
<line x1="344.4" y1="163.85" x2="403.5" y2="122.04" stroke="#000" stroke-width="0.7"/>
<line x1="344.4" y1="179.89" x2="403.5" y2="154.79" stroke="#000" stroke-width="0.7"/>
<line x1="344.4" y1="171.69" x2="403.5" y2="156.13" stroke="#000" stroke-width="0.7"/>
<line x1="344.4" y1="158.09" x2="403.5" y2="143.63" stroke="#000" stroke-width="0.7"/>
<line x1="344.4" y1="167.11" x2="403.5" y2="130.58" stroke="#000" stroke-width="0.7"/>
<line x1="344.4" y1="161.13" x2="403.5" y2="80.97" stroke="#000" stroke-width="0.7"/>
<line x1="344.4" y1="179.37" x2="403.5" y2="123.54" stroke="#000" stroke-width="0.7"/>
<line x1="344.4" y1="159.93" x2="403.5" y2="123.35" stroke="#000" stroke-width="0.7"/>
<line x1="344.4" y1="158.91" x2="403.5" y2="128.37" stroke="#000" stroke-width="0.7"/>
<line x1="344.4" y1="170.19" x2="403.5" y2="138.75" stroke="#000" stroke-width="0.7"/>
<line x1="344.4" y1="178.73" x2="403.5" y2="146.04" stroke="#000" stroke-width="0.7"/>
<line x1="344.4" y1="175.14" x2="403.5" y2="126.54" stroke="#000" stroke-width="0.7"/>
<line x1="344.4" y1="159.77" x2="403.5" y2="129.81" stroke="#000" stroke-width="0.7"/>
<line x1="344.4" y1="155.12" x2="403.5" y2="101.43" stroke="#000" stroke-width="0.7"/>
<line x1="344.4" y1="170.49" x2="403.5" y2="143.8" stroke="#000" stroke-width="0.7"/>
<line x1="344.4" y1="165.95" x2="403.5" y2="130.06" stroke="#000" stroke-width="0.7"/>
<line x1="344.4" y1="159.96" x2="403.5" y2="136.57" stroke="#000" stroke-width="0.7"/>
<line x1="344.4" y1="158.66" x2="403.5" y2="120.56" stroke="#000" stroke-width="0.7"/>
<line x1="344.4" y1="154.68" x2="403.5" y2="125.34" stroke="#000" stroke-width="0.7"/>
<line x1="344.4" y1="177.54" x2="403.5" y2="160.28" stroke="#000" stroke-width="0.7"/>
<line x1="344.4" y1="155.43" x2="403.5" y2="94.96" stroke="#000" stroke-width="0.7"/>
<line x1="344.4" y1="170.89" x2="403.5" y2="111.36" stroke="#000" stroke-width="0.7"/>
<line x1="344.4" y1="171.62" x2="403.5" y2="150.58" stroke="#000" stroke-width="0.7"/>
<line x1="344.4" y1="171.51" x2="403.5" y2="133.32" stroke="#000" stroke-width="0.7"/>
<line x1="344.4" y1="176" x2="403.5" y2="133.61" stroke="#000" stroke-width="0.7"/>
<line x1="344.4" y1="161.55" x2="403.5" y2="113.9" stroke="#000" stroke-width="0.7"/>
<line x1="344.4" y1="178.68" x2="403.5" y2="144.82" stroke="#000" stroke-width="0.7"/>
<line x1="344.4" y1="170.3" x2="403.5" y2="39.43" stroke="#000" stroke-width="0.7"/>
<line x1="344.4" y1="150.39" x2="403.5" y2="84.95" stroke="#000" stroke-width="0.7"/>
<line x1="344.4" y1="161.77" x2="403.5" y2="82.11" stroke="#000" stroke-width="0.7"/>
<line x1="344.4" y1="136.73" x2="403.5" y2="144.7" stroke="#000" stroke-width="0.7"/>
<line x1="344.4" y1="137.87" x2="403.5" y2="124.78" stroke="#000" stroke-width="0.7"/>
<circle cx="344.4" cy="152.33" r="2.1" fill="#3fb2d6"/>
<circle cx="344.4" cy="138.15" r="2.1" fill="#3fb2d6"/>
<circle cx="344.4" cy="147.14" r="2.1" fill="#3fb2d6"/>
<circle cx="344.4" cy="159.31" r="2.1" fill="#3fb2d6"/>
<circle cx="344.4" cy="138.11" r="2.1" fill="#3fb2d6"/>
<circle cx="344.4" cy="174.95" r="2.1" fill="#3fb2d6"/>
<circle cx="344.4" cy="159.16" r="2.1" fill="#3fb2d6"/>
<circle cx="344.4" cy="154.51" r="2.1" fill="#3fb2d6"/>
<circle cx="344.4" cy="179.4" r="2.1" fill="#3fb2d6"/>
<circle cx="344.4" cy="139.31" r="2.1" fill="#3fb2d6"/>
<circle cx="344.4" cy="145.99" r="2.1" fill="#3fb2d6"/>
<circle cx="344.4" cy="173.82" r="2.1" fill="#3fb2d6"/>
<circle cx="344.4" cy="152.57" r="2.1" fill="#3fb2d6"/>
<circle cx="344.4" cy="156.67" r="2.1" fill="#3fb2d6"/>
<circle cx="344.4" cy="174.38" r="2.1" fill="#3fb2d6"/>
<circle cx="344.4" cy="156.65" r="2.1" fill="#3fb2d6"/>
<circle cx="344.4" cy="172.24" r="2.1" fill="#3fb2d6"/>
<circle cx="344.4" cy="161.85" r="2.1" fill="#3fb2d6"/>
<circle cx="344.4" cy="174.5" r="2.1" fill="#3fb2d6"/>
<circle cx="344.4" cy="154.13" r="2.1" fill="#3fb2d6"/>
<circle cx="344.4" cy="156.08" r="2.1" fill="#3fb2d6"/>
<circle cx="344.4" cy="175.54" r="2.1" fill="#3fb2d6"/>
<circle cx="344.4" cy="176.08" r="2.1" fill="#3fb2d6"/>
<circle cx="344.4" cy="163.85" r="2.1" fill="#3fb2d6"/>
<circle cx="344.4" cy="179.89" r="2.1" fill="#3fb2d6"/>
<circle cx="344.4" cy="171.69" r="2.1" fill="#3fb2d6"/>
<circle cx="344.4" cy="158.09" r="2.1" fill="#3fb2d6"/>
<circle cx="344.4" cy="167.11" r="2.1" fill="#3fb2d6"/>
<circle cx="344.4" cy="161.13" r="2.1" fill="#3fb2d6"/>
<circle cx="344.4" cy="179.37" r="2.1" fill="#3fb2d6"/>
<circle cx="344.4" cy="159.93" r="2.1" fill="#3fb2d6"/>
<circle cx="344.4" cy="158.91" r="2.1" fill="#3fb2d6"/>
<circle cx="344.4" cy="170.19" r="2.1" fill="#3fb2d6"/>
<circle cx="344.4" cy="178.73" r="2.1" fill="#3fb2d6"/>
<circle cx="344.4" cy="175.14" r="2.1" fill="#3fb2d6"/>
<circle cx="344.4" cy="159.77" r="2.1" fill="#3fb2d6"/>
<circle cx="344.4" cy="155.12" r="2.1" fill="#3fb2d6"/>
<circle cx="344.4" cy="170.49" r="2.1" fill="#3fb2d6"/>
<circle cx="344.4" cy="165.95" r="2.1" fill="#3fb2d6"/>
<circle cx="344.4" cy="159.96" r="2.1" fill="#3fb2d6"/>
<circle cx="344.4" cy="158.66" r="2.1" fill="#3fb2d6"/>
<circle cx="344.4" cy="154.68" r="2.1" fill="#3fb2d6"/>
<circle cx="344.4" cy="177.54" r="2.1" fill="#3fb2d6"/>
<circle cx="344.4" cy="155.43" r="2.1" fill="#3fb2d6"/>
<circle cx="344.4" cy="170.89" r="2.1" fill="#3fb2d6"/>
<circle cx="344.4" cy="171.62" r="2.1" fill="#3fb2d6"/>
<circle cx="344.4" cy="171.51" r="2.1" fill="#3fb2d6"/>
<circle cx="344.4" cy="176" r="2.1" fill="#3fb2d6"/>
<circle cx="344.4" cy="161.55" r="2.1" fill="#3fb2d6"/>
<circle cx="344.4" cy="178.68" r="2.1" fill="#3fb2d6"/>
<circle cx="344.4" cy="170.3" r="2.1" fill="#3fb2d6"/>
<circle cx="344.4" cy="150.39" r="2.1" fill="#3fb2d6"/>
<circle cx="344.4" cy="161.77" r="2.1" fill="#3fb2d6"/>
<circle cx="344.4" cy="136.73" r="2.1" fill="#3fb2d6"/>
<circle cx="344.4" cy="137.87" r="2.1" fill="#3fb2d6"/>
<circle cx="403.5" cy="184.53" r="2.1" fill="#e8513e"/>
<circle cx="403.5" cy="181.69" r="2.1" fill="#e8513e"/>
<circle cx="403.5" cy="174.29" r="2.1" fill="#e8513e"/>
<circle cx="403.5" cy="166.32" r="2.1" fill="#e8513e"/>
<circle cx="403.5" cy="132.99" r="2.1" fill="#e8513e"/>
<circle cx="403.5" cy="180.22" r="2.1" fill="#e8513e"/>
<circle cx="403.5" cy="124.41" r="2.1" fill="#e8513e"/>
<circle cx="403.5" cy="91.86" r="2.1" fill="#e8513e"/>
<circle cx="403.5" cy="141.43" r="2.1" fill="#e8513e"/>
<circle cx="403.5" cy="87.14" r="2.1" fill="#e8513e"/>
<circle cx="403.5" cy="89.98" r="2.1" fill="#e8513e"/>
<circle cx="403.5" cy="105.41" r="2.1" fill="#e8513e"/>
<circle cx="403.5" cy="117.49" r="2.1" fill="#e8513e"/>
<circle cx="403.5" cy="121.56" r="2.1" fill="#e8513e"/>
<circle cx="403.5" cy="126.31" r="2.1" fill="#e8513e"/>
<circle cx="403.5" cy="80.97" r="2.1" fill="#e8513e"/>
<circle cx="403.5" cy="110.59" r="2.1" fill="#e8513e"/>
<circle cx="403.5" cy="134.5" r="2.1" fill="#e8513e"/>
<circle cx="403.5" cy="107.87" r="2.1" fill="#e8513e"/>
<circle cx="403.5" cy="132.62" r="2.1" fill="#e8513e"/>
<circle cx="403.5" cy="128.44" r="2.1" fill="#e8513e"/>
<circle cx="403.5" cy="120.86" r="2.1" fill="#e8513e"/>
<circle cx="403.5" cy="124.26" r="2.1" fill="#e8513e"/>
<circle cx="403.5" cy="122.04" r="2.1" fill="#e8513e"/>
<circle cx="403.5" cy="154.79" r="2.1" fill="#e8513e"/>
<circle cx="403.5" cy="156.13" r="2.1" fill="#e8513e"/>
<circle cx="403.5" cy="143.63" r="2.1" fill="#e8513e"/>
<circle cx="403.5" cy="130.58" r="2.1" fill="#e8513e"/>
<circle cx="403.5" cy="80.97" r="2.1" fill="#e8513e"/>
<circle cx="403.5" cy="123.54" r="2.1" fill="#e8513e"/>
<circle cx="403.5" cy="123.35" r="2.1" fill="#e8513e"/>
<circle cx="403.5" cy="128.37" r="2.1" fill="#e8513e"/>
<circle cx="403.5" cy="138.75" r="2.1" fill="#e8513e"/>
<circle cx="403.5" cy="146.04" r="2.1" fill="#e8513e"/>
<circle cx="403.5" cy="126.54" r="2.1" fill="#e8513e"/>
<circle cx="403.5" cy="129.81" r="2.1" fill="#e8513e"/>
<circle cx="403.5" cy="101.43" r="2.1" fill="#e8513e"/>
<circle cx="403.5" cy="143.8" r="2.1" fill="#e8513e"/>
<circle cx="403.5" cy="130.06" r="2.1" fill="#e8513e"/>
<circle cx="403.5" cy="136.57" r="2.1" fill="#e8513e"/>
<circle cx="403.5" cy="120.56" r="2.1" fill="#e8513e"/>
<circle cx="403.5" cy="125.34" r="2.1" fill="#e8513e"/>
<circle cx="403.5" cy="160.28" r="2.1" fill="#e8513e"/>
<circle cx="403.5" cy="94.96" r="2.1" fill="#e8513e"/>
<circle cx="403.5" cy="111.36" r="2.1" fill="#e8513e"/>
<circle cx="403.5" cy="150.58" r="2.1" fill="#e8513e"/>
<circle cx="403.5" cy="133.32" r="2.1" fill="#e8513e"/>
<circle cx="403.5" cy="133.61" r="2.1" fill="#e8513e"/>
<circle cx="403.5" cy="113.9" r="2.1" fill="#e8513e"/>
<circle cx="403.5" cy="144.82" r="2.1" fill="#e8513e"/>
<circle cx="403.5" cy="39.43" r="2.1" fill="#e8513e"/>
<circle cx="403.5" cy="84.95" r="2.1" fill="#e8513e"/>
<circle cx="403.5" cy="82.11" r="2.1" fill="#e8513e"/>
<circle cx="403.5" cy="144.7" r="2.1" fill="#e8513e"/>
<circle cx="403.5" cy="124.78" r="2.1" fill="#e8513e"/>
<text transform="translate(490.6 20.4)" font-size="14.8" text-anchor="start" fill="#111">C</text>
<path d="M520.2 179.2 L520.2 93.61 L523.45 93.61 L523.45 79.79 L525.52 78.89 L528.25 78.89 L528.25 72.36 L529.94 72.36 L529.94 68.64 L533.05 68.64 L533.05 64.33 L538.11 64.33 L538.11 53.78 L546.16 53.78 L546.16 52.59 L548.63 52.59 L548.63 48.28 L551.35 47.69 L557.84 45.46 L559.14 45.46 L559.14 43.23 L561.09 43.23 L561.09 41.74 L563.03 41 L570.17 41 L570.82 40.26 L585.1 39.52 L598.08 38.48 L611.06 37.44 L622.74 35.8 L637.67 34.91 L650 34.61 L650 30.6 L650 179.2" fill="#e9f5f9" stroke="none" stroke-width="0"/>
<line x1="520.2" y1="29.9" x2="520.2" y2="179.2" stroke="#dfe3e6" stroke-width="0.7"/>
<line x1="520.2" y1="179.2" x2="650" y2="179.2" stroke="#dfe3e6" stroke-width="0.7"/>
<line x1="533.18" y1="29.9" x2="533.18" y2="179.2" stroke="#dfe3e6" stroke-width="0.7"/>
<line x1="520.2" y1="164.34" x2="650" y2="164.34" stroke="#dfe3e6" stroke-width="0.7"/>
<line x1="546.16" y1="29.9" x2="546.16" y2="179.2" stroke="#dfe3e6" stroke-width="0.7"/>
<line x1="520.2" y1="149.48" x2="650" y2="149.48" stroke="#dfe3e6" stroke-width="0.7"/>
<line x1="559.14" y1="29.9" x2="559.14" y2="179.2" stroke="#dfe3e6" stroke-width="0.7"/>
<line x1="520.2" y1="134.62" x2="650" y2="134.62" stroke="#dfe3e6" stroke-width="0.7"/>
<line x1="572.12" y1="29.9" x2="572.12" y2="179.2" stroke="#dfe3e6" stroke-width="0.7"/>
<line x1="520.2" y1="119.76" x2="650" y2="119.76" stroke="#dfe3e6" stroke-width="0.7"/>
<line x1="585.1" y1="29.9" x2="585.1" y2="179.2" stroke="#dfe3e6" stroke-width="0.7"/>
<line x1="520.2" y1="104.9" x2="650" y2="104.9" stroke="#dfe3e6" stroke-width="0.7"/>
<line x1="598.08" y1="29.9" x2="598.08" y2="179.2" stroke="#dfe3e6" stroke-width="0.7"/>
<line x1="520.2" y1="90.04" x2="650" y2="90.04" stroke="#dfe3e6" stroke-width="0.7"/>
<line x1="611.06" y1="29.9" x2="611.06" y2="179.2" stroke="#dfe3e6" stroke-width="0.7"/>
<line x1="520.2" y1="75.18" x2="650" y2="75.18" stroke="#dfe3e6" stroke-width="0.7"/>
<line x1="624.04" y1="29.9" x2="624.04" y2="179.2" stroke="#dfe3e6" stroke-width="0.7"/>
<line x1="520.2" y1="60.32" x2="650" y2="60.32" stroke="#dfe3e6" stroke-width="0.7"/>
<line x1="637.02" y1="29.9" x2="637.02" y2="179.2" stroke="#dfe3e6" stroke-width="0.7"/>
<line x1="520.2" y1="45.46" x2="650" y2="45.46" stroke="#dfe3e6" stroke-width="0.7"/>
<line x1="650" y1="29.9" x2="650" y2="179.2" stroke="#dfe3e6" stroke-width="0.7"/>
<line x1="520.2" y1="30.6" x2="650" y2="30.6" stroke="#dfe3e6" stroke-width="0.7"/>
<line x1="520.2" y1="179.2" x2="650" y2="30.6" stroke="#a9a9a9" stroke-width="0.8"/>
<rect x="520.2" y="29.9" width="129.8" height="149.3" fill="none" stroke="#333" stroke-width="1.0"/>
<line x1="519.9" y1="29.9" x2="519.9" y2="179.2" stroke="#222" stroke-width="1.3"/>
<line x1="520.2" y1="179.5" x2="650" y2="179.5" stroke="#222" stroke-width="1.3"/>
<path d="M520.7 179.2 L520.7 93.61 L523.45 93.61 L523.45 79.79 L525.52 78.89 L528.25 78.89 L528.25 72.36 L529.94 72.36 L529.94 68.64 L533.05 68.64 L533.05 64.33 L538.11 64.33 L538.11 53.78 L546.16 53.78 L546.16 52.59 L548.63 52.59 L548.63 48.28 L551.35 47.69 L557.84 45.46 L559.14 45.46 L559.14 43.23 L561.09 43.23 L561.09 41.74 L563.03 41 L570.17 41 L570.82 40.26 L585.1 39.52 L598.08 38.48 L611.06 37.44 L622.74 35.8 L637.67 34.91 L650 34.61 L650 30.6" fill="none" stroke="#4ab6d6" stroke-width="1.1"/>
<line x1="650" y1="29.9" x2="650" y2="34.61" stroke="#333" stroke-width="1.0"/>
<line x1="516.7" y1="179.2" x2="520.2" y2="179.2" stroke="#333" stroke-width="1.1"/>
<text transform="translate(513.9 181.7) scale(0.6800 0.7480)" font-size="10" text-anchor="end" fill="#151515" stroke="#151515" stroke-width="0.160">0.0</text>
<line x1="520.2" y1="179.2" x2="520.2" y2="182.4" stroke="#333" stroke-width="1.1"/>
<text transform="translate(520.2 190.8)" font-size="7.2" text-anchor="middle" fill="#151515">0.0</text>
<line x1="516.7" y1="149.48" x2="520.2" y2="149.48" stroke="#333" stroke-width="1.1"/>
<text transform="translate(513.9 151.98) scale(0.6800 0.7480)" font-size="10" text-anchor="end" fill="#151515" stroke="#151515" stroke-width="0.160">0.2</text>
<line x1="546.16" y1="179.2" x2="546.16" y2="182.4" stroke="#333" stroke-width="1.1"/>
<text transform="translate(546.16 190.8)" font-size="7.2" text-anchor="middle" fill="#151515">0.2</text>
<line x1="516.7" y1="119.76" x2="520.2" y2="119.76" stroke="#333" stroke-width="1.1"/>
<text transform="translate(513.9 122.26) scale(0.6800 0.7480)" font-size="10" text-anchor="end" fill="#151515" stroke="#151515" stroke-width="0.160">0.4</text>
<line x1="572.12" y1="179.2" x2="572.12" y2="182.4" stroke="#333" stroke-width="1.1"/>
<text transform="translate(572.12 190.8)" font-size="7.2" text-anchor="middle" fill="#151515">0.4</text>
<line x1="516.7" y1="90.04" x2="520.2" y2="90.04" stroke="#333" stroke-width="1.1"/>
<text transform="translate(513.9 92.54) scale(0.6800 0.7480)" font-size="10" text-anchor="end" fill="#151515" stroke="#151515" stroke-width="0.160">0.6</text>
<line x1="598.08" y1="179.2" x2="598.08" y2="182.4" stroke="#333" stroke-width="1.1"/>
<text transform="translate(598.08 190.8)" font-size="7.2" text-anchor="middle" fill="#151515">0.6</text>
<line x1="516.7" y1="60.32" x2="520.2" y2="60.32" stroke="#333" stroke-width="1.1"/>
<text transform="translate(513.9 62.82) scale(0.6800 0.7480)" font-size="10" text-anchor="end" fill="#151515" stroke="#151515" stroke-width="0.160">0.8</text>
<line x1="624.04" y1="179.2" x2="624.04" y2="182.4" stroke="#333" stroke-width="1.1"/>
<text transform="translate(624.04 190.8)" font-size="7.2" text-anchor="middle" fill="#151515">0.8</text>
<line x1="516.7" y1="30.6" x2="520.2" y2="30.6" stroke="#333" stroke-width="1.1"/>
<text transform="translate(513.9 33.1) scale(0.6800 0.7480)" font-size="10" text-anchor="end" fill="#151515" stroke="#151515" stroke-width="0.160">1.0</text>
<line x1="650" y1="179.2" x2="650" y2="182.4" stroke="#333" stroke-width="1.1"/>
<text transform="translate(650 190.8)" font-size="7.2" text-anchor="middle" fill="#151515">1.0</text>
<text transform="translate(585.1 202.2)" font-size="8.2" text-anchor="middle" fill="#151515">1−Specificity (FPR)</text>
<text transform="translate(499.5 104.5) rotate(-90)" font-size="8.7" text-anchor="middle" fill="#151515">Sensitivity (TPR)</text>
<text transform="translate(647.8 156.8) scale(0.5900 0.6490)" font-size="10" text-anchor="end" fill="#151515" stroke="#151515" stroke-width="0.185">SLC25A19</text>
<text transform="translate(647.8 165.8) scale(0.5900 0.6490)" font-size="10" text-anchor="end" fill="#151515" stroke="#151515" stroke-width="0.185">AUC: 0.904</text>
<text transform="translate(647.8 174.7) scale(0.5900 0.6490)" font-size="10" text-anchor="end" fill="#151515" stroke="#151515" stroke-width="0.185">CI: 0.871−0.938</text>
<text transform="translate(59.9 234.6)" font-size="14.8" text-anchor="start" fill="#111">D</text>
<text transform="translate(78.4 245.9) scale(0.5750 0.6440)" font-size="10" text-anchor="start" fill="#151515" stroke="#151515" stroke-width="0.186">GSE45436</text>
<text transform="translate(119 245.9) scale(0.5800 0.6496)" font-size="10" text-anchor="start" fill="#151515" stroke="#151515" stroke-width="0.185">Type</text>
<rect x="133.9" y="239.4" width="7.8" height="8.4" fill="#7bd7e8" stroke="#333" stroke-width="0.6"/>
<text transform="translate(145.1 245.7) scale(0.4600 0.5520)" font-size="10" text-anchor="start" fill="#151515" stroke="#151515" stroke-width="0.217">Normal</text>
<rect x="163.1" y="239.4" width="7.9" height="8.4" fill="#f98a63" stroke="#333" stroke-width="0.6"/>
<text transform="translate(174.3 245.7) scale(0.4600 0.5520)" font-size="10" text-anchor="start" fill="#151515" stroke="#151515" stroke-width="0.217">Tumor</text>
<line x1="76.6" y1="256.8" x2="76.6" y2="396.75" stroke="#7a7a7a" stroke-width="0.95"/>
<line x1="76.15" y1="396.3" x2="229" y2="396.3" stroke="#7a7a7a" stroke-width="0.95"/>
<line x1="75" y1="266.6" x2="76.6" y2="266.6" stroke="#333" stroke-width="0.7"/>
<text transform="translate(74.1 268.85) scale(0.5600 0.6720)" font-size="10" text-anchor="end" fill="#151515" stroke="#151515" stroke-width="0.179">9</text>
<line x1="75" y1="291.88" x2="76.6" y2="291.88" stroke="#333" stroke-width="0.7"/>
<text transform="translate(74.1 294.13) scale(0.5600 0.6720)" font-size="10" text-anchor="end" fill="#151515" stroke="#151515" stroke-width="0.179">8</text>
<line x1="75" y1="317.16" x2="76.6" y2="317.16" stroke="#333" stroke-width="0.7"/>
<text transform="translate(74.1 319.41) scale(0.5600 0.6720)" font-size="10" text-anchor="end" fill="#151515" stroke="#151515" stroke-width="0.179">7</text>
<line x1="75" y1="342.44" x2="76.6" y2="342.44" stroke="#333" stroke-width="0.7"/>
<text transform="translate(74.1 344.69) scale(0.5600 0.6720)" font-size="10" text-anchor="end" fill="#151515" stroke="#151515" stroke-width="0.179">6</text>
<line x1="75" y1="367.72" x2="76.6" y2="367.72" stroke="#333" stroke-width="0.7"/>
<text transform="translate(74.1 369.97) scale(0.5600 0.6720)" font-size="10" text-anchor="end" fill="#151515" stroke="#151515" stroke-width="0.179">5</text>
<line x1="75" y1="393" x2="76.6" y2="393" stroke="#333" stroke-width="0.7"/>
<text transform="translate(74.1 395.25) scale(0.5600 0.6720)" font-size="10" text-anchor="end" fill="#151515" stroke="#151515" stroke-width="0.179">4</text>
<line x1="118.5" y1="396.3" x2="118.5" y2="398.3" stroke="#7a7a7a" stroke-width="0.6"/>
<line x1="187.4" y1="396.3" x2="187.4" y2="398.3" stroke="#7a7a7a" stroke-width="0.6"/>
<text transform="translate(118.5 403.8) scale(0.6000 0.6600)" font-size="10" text-anchor="middle" fill="#151515" stroke="#151515" stroke-width="0.182">Normal</text>
<text transform="translate(187.4 403.8) scale(0.6000 0.6600)" font-size="10" text-anchor="middle" fill="#151515" stroke="#151515" stroke-width="0.182">Tumor</text>
<text transform="translate(152.95 411.3) scale(0.6000 0.6600)" font-size="10" text-anchor="middle" fill="#151515" stroke="#151515" stroke-width="0.182">Type</text>
<path d="M118.5 262.4 V260 H187.4 V262.4" fill="none" stroke="#8a8a8a" stroke-width="0.7"/>
<text transform="translate(145.5 258.4) scale(0.5000 0.5000)" font-size="10" text-anchor="middle" fill="#151515" stroke="#151515" stroke-width="0.240">***</text>
<text transform="translate(68.7 327.3) rotate(-90) scale(0.6200 0.6820)" font-size="10" text-anchor="middle" fill="#151515" stroke="#151515" stroke-width="0.176">SLC25A19 expression</text>
<path d="M118.4 320.8 L118.58 321.26 L118.84 321.89 L119.16 322.63 L119.49 323.46 L119.83 324.32 L120.12 325.17 L120.36 325.98 L120.5 326.7 L120.54 327.35 L120.48 327.99 L120.37 328.6 L120.23 329.2 L120.07 329.78 L119.93 330.34 L119.83 330.88 L119.8 331.4 L119.85 331.88 L119.97 332.32 L120.13 332.73 L120.31 333.12 L120.48 333.52 L120.61 333.93 L120.7 334.39 L120.7 334.9 L120.6 335.48 L120.4 336.13 L120.14 336.83 L119.86 337.54 L119.58 338.24 L119.33 338.92 L119.16 339.55 L119.1 340.1 L119.11 340.57 L119.15 340.97 L119.23 341.33 L119.36 341.66 L119.56 341.97 L119.85 342.29 L120.22 342.62 L120.7 343 L121.32 343.41 L122.07 343.83 L122.93 344.27 L123.86 344.71 L124.83 345.16 L125.82 345.61 L126.78 346.06 L127.7 346.5 L128.61 346.94 L129.57 347.38 L130.54 347.81 L131.51 348.25 L132.44 348.69 L133.32 349.12 L134.11 349.56 L134.8 350 L135.32 350.44 L135.68 350.88 L135.94 351.31 L136.15 351.75 L136.37 352.19 L136.67 352.62 L137.09 353.06 L137.7 353.5 L138.52 353.94 L139.51 354.39 L140.62 354.85 L141.81 355.3 L143.02 355.75 L144.22 356.18 L145.36 356.6 L146.4 357 L147.45 357.38 L148.61 357.75 L149.79 358.1 L150.91 358.44 L151.9 358.77 L152.66 359.09 L153.12 359.4 L153.2 359.7 L152.84 359.97 L152.1 360.21 L151.07 360.44 L149.81 360.65 L148.4 360.87 L146.93 361.11 L145.47 361.38 L144.1 361.7 L142.71 362.07 L141.19 362.47 L139.6 362.9 L137.97 363.36 L136.39 363.82 L134.89 364.29 L133.55 364.75 L132.4 365.2 L131.47 365.64 L130.72 366.07 L130.09 366.51 L129.57 366.95 L129.1 367.39 L128.66 367.82 L128.21 368.26 L127.7 368.7 L127.15 369.14 L126.6 369.57 L126.05 370.01 L125.52 370.45 L125.01 370.89 L124.53 371.32 L124.09 371.76 L123.7 372.2 L123.37 372.64 L123.1 373.07 L122.88 373.51 L122.68 373.95 L122.5 374.39 L122.32 374.82 L122.12 375.26 L121.9 375.7 L121.65 376.14 L121.38 376.57 L121.1 377.01 L120.83 377.45 L120.55 377.89 L120.28 378.32 L120.03 378.76 L119.8 379.2 L119.58 379.66 L119.37 380.16 L119.16 380.67 L118.97 381.17 L118.79 381.64 L118.64 382.07 L118.5 382.43 L118.4 382.7 L118.4 382.7 L118.3 382.43 L118.16 382.07 L118.01 381.64 L117.83 381.17 L117.64 380.67 L117.43 380.16 L117.22 379.66 L117 379.2 L116.77 378.76 L116.52 378.32 L116.25 377.89 L115.98 377.45 L115.7 377.01 L115.42 376.57 L115.15 376.14 L114.9 375.7 L114.68 375.26 L114.48 374.82 L114.3 374.39 L114.12 373.95 L113.92 373.51 L113.7 373.07 L113.43 372.64 L113.1 372.2 L112.71 371.76 L112.27 371.32 L111.79 370.89 L111.28 370.45 L110.75 370.01 L110.2 369.57 L109.65 369.14 L109.1 368.7 L108.59 368.26 L108.14 367.82 L107.7 367.39 L107.23 366.95 L106.71 366.51 L106.08 366.07 L105.33 365.64 L104.4 365.2 L103.25 364.75 L101.91 364.29 L100.41 363.82 L98.83 363.36 L97.2 362.9 L95.61 362.47 L94.09 362.07 L92.7 361.7 L91.33 361.38 L89.87 361.11 L88.4 360.87 L86.99 360.65 L85.73 360.44 L84.7 360.21 L83.96 359.97 L83.6 359.7 L83.68 359.4 L84.14 359.09 L84.9 358.77 L85.89 358.44 L87.01 358.1 L88.19 357.75 L89.35 357.38 L90.4 357 L91.44 356.6 L92.58 356.18 L93.78 355.75 L94.99 355.3 L96.18 354.85 L97.29 354.39 L98.28 353.94 L99.1 353.5 L99.71 353.06 L100.13 352.62 L100.43 352.19 L100.65 351.75 L100.86 351.31 L101.12 350.88 L101.48 350.44 L102 350 L102.69 349.56 L103.48 349.12 L104.36 348.69 L105.29 348.25 L106.26 347.81 L107.23 347.38 L108.19 346.94 L109.1 346.5 L110.02 346.06 L110.98 345.61 L111.97 345.16 L112.94 344.71 L113.87 344.27 L114.73 343.83 L115.48 343.41 L116.1 343 L116.58 342.62 L116.95 342.29 L117.24 341.97 L117.44 341.66 L117.57 341.33 L117.65 340.97 L117.69 340.57 L117.7 340.1 L117.64 339.55 L117.47 338.92 L117.22 338.24 L116.94 337.54 L116.66 336.83 L116.4 336.13 L116.2 335.48 L116.1 334.9 L116.1 334.39 L116.19 333.93 L116.32 333.52 L116.49 333.12 L116.67 332.73 L116.83 332.32 L116.95 331.88 L117 331.4 L116.97 330.88 L116.87 330.34 L116.73 329.78 L116.58 329.2 L116.43 328.6 L116.32 327.99 L116.26 327.35 L116.3 326.7 L116.44 325.98 L116.68 325.17 L116.97 324.32 L117.31 323.46 L117.64 322.63 L117.96 321.89 L118.22 321.26 L118.4 320.8 Z" fill="#7bd7e8" stroke="#1a1a1a" stroke-width="0.6"/>
<line x1="118.4" y1="347.1" x2="118.4" y2="369.9" stroke="#111" stroke-width="0.7"/>
<rect x="111.3" y="354.5" width="14.2" height="7.8" fill="#fff" stroke="#222" stroke-width="0.7"/>
<line x1="111.3" y1="359.7" x2="125.5" y2="359.7" stroke="#111" stroke-width="1.3"/>
<circle cx="118.4" cy="327.8" r="1.2" fill="#000"/>
<circle cx="118.4" cy="335.1" r="1.2" fill="#000"/>
<circle cx="118.4" cy="374.8" r="1.2" fill="#000"/>
<path d="M187.5 262.1 L187.53 262.93 L187.56 264.04 L187.61 265.37 L187.65 266.84 L187.7 268.38 L187.75 269.92 L187.8 271.38 L187.85 272.7 L187.89 273.89 L187.94 275.04 L187.98 276.16 L188.02 277.26 L188.07 278.34 L188.11 279.41 L188.15 280.5 L188.2 281.6 L188.24 282.71 L188.28 283.83 L188.32 284.94 L188.36 286.05 L188.4 287.16 L188.46 288.28 L188.52 289.39 L188.6 290.5 L188.69 291.61 L188.78 292.73 L188.87 293.84 L188.98 294.96 L189.1 296.07 L189.24 297.18 L189.41 298.29 L189.6 299.4 L189.82 300.5 L190.07 301.6 L190.35 302.7 L190.64 303.8 L190.95 304.9 L191.27 306 L191.58 307.1 L191.9 308.2 L192.22 309.31 L192.56 310.42 L192.91 311.53 L193.26 312.64 L193.61 313.76 L193.96 314.87 L194.29 315.99 L194.6 317.1 L194.9 318.22 L195.18 319.37 L195.46 320.52 L195.73 321.66 L195.99 322.79 L196.24 323.9 L196.48 324.97 L196.7 326 L196.92 326.95 L197.15 327.82 L197.37 328.64 L197.57 329.44 L197.76 330.26 L197.91 331.12 L198.03 332.06 L198.1 333.1 L198.12 334.27 L198.09 335.54 L198.02 336.89 L197.93 338.29 L197.81 339.7 L197.67 341.09 L197.54 342.43 L197.4 343.7 L197.26 344.89 L197.12 346.04 L196.97 347.16 L196.8 348.26 L196.62 349.34 L196.43 350.41 L196.22 351.5 L196 352.6 L195.76 353.71 L195.5 354.83 L195.23 355.94 L194.95 357.06 L194.65 358.17 L194.35 359.28 L194.03 360.39 L193.7 361.5 L193.35 362.6 L192.98 363.7 L192.6 364.8 L192.2 365.9 L191.8 367 L191.42 368.1 L191.05 369.2 L190.7 370.3 L190.37 371.4 L190.04 372.48 L189.72 373.56 L189.42 374.64 L189.13 375.73 L188.86 376.85 L188.62 378.01 L188.4 379.2 L188.21 380.52 L188.06 381.98 L187.92 383.52 L187.81 385.06 L187.71 386.53 L187.63 387.86 L187.56 388.97 L187.5 389.8 L187.5 389.8 L187.44 388.97 L187.37 387.86 L187.29 386.53 L187.19 385.06 L187.08 383.52 L186.94 381.98 L186.79 380.52 L186.6 379.2 L186.38 378.01 L186.14 376.85 L185.87 375.73 L185.58 374.64 L185.28 373.56 L184.96 372.48 L184.63 371.4 L184.3 370.3 L183.95 369.2 L183.58 368.1 L183.2 367 L182.8 365.9 L182.4 364.8 L182.02 363.7 L181.65 362.6 L181.3 361.5 L180.97 360.39 L180.65 359.28 L180.35 358.17 L180.05 357.06 L179.77 355.94 L179.5 354.83 L179.24 353.71 L179 352.6 L178.78 351.5 L178.57 350.41 L178.38 349.34 L178.2 348.26 L178.03 347.16 L177.88 346.04 L177.74 344.89 L177.6 343.7 L177.46 342.43 L177.33 341.09 L177.19 339.7 L177.07 338.29 L176.98 336.89 L176.91 335.54 L176.88 334.27 L176.9 333.1 L176.97 332.06 L177.09 331.12 L177.24 330.26 L177.43 329.44 L177.63 328.64 L177.85 327.82 L178.08 326.95 L178.3 326 L178.52 324.97 L178.76 323.9 L179.01 322.79 L179.27 321.66 L179.54 320.52 L179.82 319.37 L180.1 318.22 L180.4 317.1 L180.71 315.99 L181.04 314.87 L181.39 313.76 L181.74 312.64 L182.09 311.53 L182.44 310.42 L182.78 309.31 L183.1 308.2 L183.42 307.1 L183.73 306 L184.05 304.9 L184.36 303.8 L184.65 302.7 L184.93 301.6 L185.18 300.5 L185.4 299.4 L185.59 298.29 L185.76 297.18 L185.9 296.07 L186.02 294.96 L186.13 293.84 L186.22 292.73 L186.31 291.61 L186.4 290.5 L186.48 289.39 L186.54 288.28 L186.6 287.16 L186.64 286.05 L186.68 284.94 L186.72 283.83 L186.76 282.71 L186.8 281.6 L186.85 280.5 L186.89 279.41 L186.93 278.34 L186.98 277.26 L187.02 276.16 L187.06 275.04 L187.11 273.89 L187.15 272.7 L187.2 271.38 L187.25 269.92 L187.3 268.38 L187.35 266.84 L187.39 265.37 L187.44 264.04 L187.47 262.93 L187.5 262.1 Z" fill="#f98a63" stroke="#1a1a1a" stroke-width="0.6"/>
<line x1="187.5" y1="262" x2="187.5" y2="389.8" stroke="#111" stroke-width="0.7"/>
<rect x="180.4" y="326.9" width="14.2" height="23.9" fill="#fff" stroke="#222" stroke-width="0.7"/>
<line x1="180.4" y1="337.5" x2="194.6" y2="337.5" stroke="#111" stroke-width="1.3"/>
<circle cx="187.5" cy="282.5" r="1.2" fill="#000"/>
<text transform="translate(268.9 234.6)" font-size="14.8" text-anchor="start" fill="#111">E</text>
<text transform="translate(310.8 245.9) scale(0.5750 0.6440)" font-size="10" text-anchor="start" fill="#151515" stroke="#151515" stroke-width="0.186">GSE57967</text>
<text transform="translate(350.2 245.9) scale(0.5800 0.6496)" font-size="10" text-anchor="start" fill="#151515" stroke="#151515" stroke-width="0.185">Type</text>
<rect x="365.3" y="239.4" width="7.8" height="8.4" fill="#7bd7e8" stroke="#333" stroke-width="0.6"/>
<text transform="translate(375.8 245.7) scale(0.4600 0.5520)" font-size="10" text-anchor="start" fill="#151515" stroke="#151515" stroke-width="0.217">Normal</text>
<rect x="394" y="239.4" width="7.9" height="8.4" fill="#f98a63" stroke="#333" stroke-width="0.6"/>
<text transform="translate(405.4 245.7) scale(0.4600 0.5520)" font-size="10" text-anchor="start" fill="#151515" stroke="#151515" stroke-width="0.217">Tumor</text>
<line x1="309.7" y1="256.8" x2="309.7" y2="396.75" stroke="#7a7a7a" stroke-width="0.95"/>
<line x1="309.25" y1="396.3" x2="458.5" y2="396.3" stroke="#7a7a7a" stroke-width="0.95"/>
<line x1="308.1" y1="268" x2="309.7" y2="268" stroke="#333" stroke-width="0.7"/>
<text transform="translate(307.2 270.25) scale(0.5600 0.6720)" font-size="10" text-anchor="end" fill="#151515" stroke="#151515" stroke-width="0.179">10</text>
<line x1="308.1" y1="307.5" x2="309.7" y2="307.5" stroke="#333" stroke-width="0.7"/>
<text transform="translate(307.2 309.75) scale(0.5600 0.6720)" font-size="10" text-anchor="end" fill="#151515" stroke="#151515" stroke-width="0.179">9</text>
<line x1="308.1" y1="347" x2="309.7" y2="347" stroke="#333" stroke-width="0.7"/>
<text transform="translate(307.2 349.25) scale(0.5600 0.6720)" font-size="10" text-anchor="end" fill="#151515" stroke="#151515" stroke-width="0.179">8</text>
<line x1="308.1" y1="386.5" x2="309.7" y2="386.5" stroke="#333" stroke-width="0.7"/>
<text transform="translate(307.2 388.75) scale(0.5600 0.6720)" font-size="10" text-anchor="end" fill="#151515" stroke="#151515" stroke-width="0.179">7</text>
<line x1="350.8" y1="396.3" x2="350.8" y2="398.3" stroke="#7a7a7a" stroke-width="0.6"/>
<line x1="418.1" y1="396.3" x2="418.1" y2="398.3" stroke="#7a7a7a" stroke-width="0.6"/>
<text transform="translate(350.8 403.8) scale(0.6000 0.6600)" font-size="10" text-anchor="middle" fill="#151515" stroke="#151515" stroke-width="0.182">Normal</text>
<text transform="translate(418.1 403.8) scale(0.6000 0.6600)" font-size="10" text-anchor="middle" fill="#151515" stroke="#151515" stroke-width="0.182">Tumor</text>
<text transform="translate(384.45 411.3) scale(0.6000 0.6600)" font-size="10" text-anchor="middle" fill="#151515" stroke="#151515" stroke-width="0.182">Type</text>
<path d="M350.2 262.6 V260.2 H418.1 V262.6" fill="none" stroke="#8a8a8a" stroke-width="0.7"/>
<text transform="translate(381.6 258.6) scale(0.5000 0.5000)" font-size="10" text-anchor="middle" fill="#151515" stroke="#151515" stroke-width="0.240">***</text>
<text transform="translate(299 327.3) rotate(-90) scale(0.6200 0.6820)" font-size="10" text-anchor="middle" fill="#151515" stroke="#151515" stroke-width="0.176">SLC25A19 expression</text>
<path d="M350.4 269.5 L350.45 270.21 L350.51 271.15 L350.58 272.28 L350.67 273.53 L350.76 274.85 L350.87 276.18 L350.98 277.49 L351.1 278.7 L351.25 279.85 L351.44 281 L351.66 282.15 L351.88 283.3 L352.08 284.45 L352.24 285.6 L352.36 286.75 L352.4 287.9 L352.35 289.07 L352.23 290.28 L352.05 291.5 L351.83 292.71 L351.61 293.9 L351.39 295.04 L351.22 296.11 L351.1 297.1 L351.01 297.99 L350.91 298.79 L350.82 299.52 L350.75 300.21 L350.73 300.87 L350.77 301.52 L350.89 302.19 L351.1 302.9 L351.4 303.64 L351.78 304.39 L352.22 305.14 L352.72 305.9 L353.3 306.65 L353.94 307.39 L354.64 308.1 L355.4 308.8 L356.23 309.46 L357.14 310.07 L358.11 310.67 L359.14 311.25 L360.24 311.84 L361.38 312.45 L362.57 313.1 L363.8 313.8 L365.12 314.55 L366.55 315.32 L368.06 316.12 L369.6 316.94 L371.14 317.8 L372.65 318.67 L374.08 319.57 L375.4 320.5 L376.66 321.5 L377.9 322.58 L379.12 323.72 L380.27 324.86 L381.35 325.98 L382.31 327.04 L383.14 327.99 L383.8 328.8 L384.3 329.43 L384.65 329.9 L384.88 330.25 L384.99 330.55 L385 330.83 L384.93 331.15 L384.79 331.56 L384.6 332.1 L384.34 332.77 L384 333.54 L383.57 334.36 L383.07 335.24 L382.5 336.14 L381.86 337.05 L381.16 337.94 L380.4 338.8 L379.56 339.63 L378.61 340.44 L377.59 341.24 L376.51 342.04 L375.39 342.86 L374.27 343.71 L373.17 344.58 L372.1 345.5 L371.05 346.47 L369.97 347.48 L368.88 348.53 L367.8 349.6 L366.74 350.68 L365.71 351.77 L364.72 352.84 L363.8 353.9 L362.92 354.94 L362.07 355.98 L361.25 357.02 L360.47 358.05 L359.74 359.08 L359.06 360.12 L358.44 361.16 L357.9 362.2 L357.45 363.25 L357.1 364.3 L356.83 365.35 L356.61 366.4 L356.41 367.45 L356.21 368.5 L355.98 369.55 L355.7 370.6 L355.38 371.63 L355.04 372.64 L354.68 373.65 L354.32 374.65 L353.95 375.67 L353.59 376.71 L353.24 377.78 L352.9 378.9 L352.56 380.14 L352.2 381.51 L351.83 382.96 L351.47 384.42 L351.14 385.81 L350.84 387.06 L350.59 388.12 L350.4 388.9 L350.4 388.9 L350.21 388.12 L349.96 387.06 L349.66 385.81 L349.32 384.42 L348.97 382.96 L348.6 381.51 L348.24 380.14 L347.9 378.9 L347.56 377.78 L347.21 376.71 L346.85 375.67 L346.48 374.65 L346.12 373.65 L345.76 372.64 L345.42 371.63 L345.1 370.6 L344.82 369.55 L344.59 368.5 L344.39 367.45 L344.19 366.4 L343.97 365.35 L343.7 364.3 L343.35 363.25 L342.9 362.2 L342.36 361.16 L341.74 360.12 L341.06 359.08 L340.33 358.05 L339.55 357.02 L338.73 355.98 L337.88 354.94 L337 353.9 L336.08 352.84 L335.09 351.77 L334.06 350.68 L333 349.6 L331.92 348.53 L330.83 347.48 L329.75 346.47 L328.7 345.5 L327.63 344.58 L326.53 343.71 L325.41 342.86 L324.29 342.04 L323.21 341.24 L322.19 340.44 L321.24 339.63 L320.4 338.8 L319.64 337.94 L318.94 337.05 L318.3 336.14 L317.73 335.24 L317.23 334.36 L316.8 333.54 L316.46 332.77 L316.2 332.1 L316.01 331.56 L315.87 331.15 L315.8 330.83 L315.81 330.55 L315.92 330.25 L316.15 329.9 L316.5 329.43 L317 328.8 L317.66 327.99 L318.49 327.04 L319.45 325.98 L320.52 324.86 L321.68 323.72 L322.9 322.58 L324.14 321.5 L325.4 320.5 L326.72 319.57 L328.15 318.67 L329.66 317.8 L331.2 316.94 L332.74 316.12 L334.25 315.32 L335.68 314.55 L337 313.8 L338.23 313.1 L339.42 312.45 L340.56 311.84 L341.66 311.25 L342.69 310.67 L343.66 310.07 L344.57 309.46 L345.4 308.8 L346.16 308.1 L346.86 307.39 L347.5 306.65 L348.07 305.9 L348.58 305.14 L349.02 304.39 L349.4 303.64 L349.7 302.9 L349.91 302.19 L350.03 301.52 L350.07 300.87 L350.05 300.21 L349.98 299.52 L349.89 298.79 L349.79 297.99 L349.7 297.1 L349.58 296.11 L349.41 295.04 L349.19 293.9 L348.97 292.71 L348.75 291.5 L348.57 290.28 L348.45 289.07 L348.4 287.9 L348.44 286.75 L348.56 285.6 L348.72 284.45 L348.92 283.3 L349.14 282.15 L349.36 281 L349.55 279.85 L349.7 278.7 L349.82 277.49 L349.93 276.18 L350.04 274.85 L350.13 273.53 L350.22 272.28 L350.29 271.15 L350.35 270.21 L350.4 269.5 Z" fill="#7bd7e8" stroke="#1a1a1a" stroke-width="0.6"/>
<line x1="350.4" y1="318" x2="350.4" y2="371.4" stroke="#111" stroke-width="0.7"/>
<rect x="343.3" y="324.6" width="14.2" height="19.6" fill="#fff" stroke="#222" stroke-width="0.7"/>
<line x1="343.3" y1="334.7" x2="357.5" y2="334.7" stroke="#111" stroke-width="1.3"/>
<circle cx="350.4" cy="287.9" r="1.2" fill="#000"/>
<path d="M418 269.4 L418.1 269.79 L418.23 270.3 L418.38 270.9 L418.56 271.57 L418.75 272.31 L418.98 273.09 L419.23 273.89 L419.5 274.7 L419.8 275.54 L420.13 276.44 L420.48 277.38 L420.86 278.36 L421.26 279.35 L421.69 280.35 L422.13 281.33 L422.6 282.3 L423.12 283.26 L423.7 284.24 L424.32 285.22 L424.95 286.19 L425.57 287.16 L426.15 288.11 L426.67 289.02 L427.1 289.9 L427.44 290.72 L427.71 291.5 L427.93 292.23 L428.11 292.95 L428.26 293.67 L428.38 294.4 L428.49 295.18 L428.6 296 L428.68 296.9 L428.7 297.87 L428.69 298.88 L428.67 299.9 L428.66 300.91 L428.68 301.88 L428.75 302.79 L428.9 303.6 L429.09 304.3 L429.28 304.91 L429.49 305.44 L429.75 305.94 L430.08 306.43 L430.5 306.94 L431.03 307.48 L431.7 308.1 L432.54 308.78 L433.53 309.48 L434.65 310.2 L435.86 310.96 L437.11 311.73 L438.38 312.53 L439.62 313.35 L440.8 314.2 L442 315.11 L443.28 316.1 L444.6 317.14 L445.9 318.19 L447.13 319.22 L448.24 320.19 L449.18 321.06 L449.9 321.8 L450.39 322.37 L450.72 322.8 L450.89 323.13 L450.93 323.39 L450.86 323.65 L450.7 323.94 L450.47 324.31 L450.2 324.8 L449.86 325.4 L449.42 326.07 L448.89 326.79 L448.29 327.56 L447.62 328.37 L446.89 329.2 L446.11 330.04 L445.3 330.9 L444.42 331.78 L443.45 332.69 L442.41 333.64 L441.32 334.61 L440.21 335.58 L439.11 336.56 L438.03 337.54 L437 338.5 L436.01 339.45 L435.03 340.4 L434.06 341.35 L433.11 342.3 L432.16 343.25 L431.23 344.2 L430.31 345.15 L429.4 346.1 L428.49 347.06 L427.57 348.04 L426.66 349.02 L425.76 350 L424.9 350.97 L424.07 351.91 L423.3 352.83 L422.6 353.7 L421.96 354.52 L421.37 355.27 L420.82 356 L420.32 356.7 L419.87 357.4 L419.47 358.12 L419.11 358.88 L418.8 359.7 L418.55 360.63 L418.37 361.67 L418.25 362.77 L418.16 363.88 L418.11 364.94 L418.07 365.9 L418.04 366.7 L418 367.3 L418 367.3 L417.96 366.7 L417.93 365.9 L417.89 364.94 L417.84 363.88 L417.75 362.77 L417.63 361.67 L417.45 360.63 L417.2 359.7 L416.89 358.88 L416.53 358.12 L416.13 357.4 L415.68 356.7 L415.18 356 L414.63 355.27 L414.04 354.52 L413.4 353.7 L412.7 352.83 L411.93 351.91 L411.1 350.97 L410.24 350 L409.34 349.02 L408.43 348.04 L407.51 347.06 L406.6 346.1 L405.69 345.15 L404.77 344.2 L403.84 343.25 L402.89 342.3 L401.94 341.35 L400.97 340.4 L399.99 339.45 L399 338.5 L397.97 337.54 L396.89 336.56 L395.79 335.58 L394.68 334.61 L393.59 333.64 L392.55 332.69 L391.58 331.78 L390.7 330.9 L389.89 330.04 L389.11 329.2 L388.38 328.37 L387.71 327.56 L387.11 326.79 L386.58 326.07 L386.14 325.4 L385.8 324.8 L385.53 324.31 L385.3 323.94 L385.14 323.65 L385.07 323.39 L385.11 323.13 L385.28 322.8 L385.61 322.37 L386.1 321.8 L386.82 321.06 L387.76 320.19 L388.87 319.22 L390.1 318.19 L391.4 317.14 L392.72 316.1 L394 315.11 L395.2 314.2 L396.38 313.35 L397.62 312.53 L398.89 311.73 L400.14 310.96 L401.35 310.2 L402.47 309.48 L403.46 308.78 L404.3 308.1 L404.97 307.48 L405.5 306.94 L405.92 306.43 L406.25 305.94 L406.51 305.44 L406.72 304.91 L406.91 304.3 L407.1 303.6 L407.25 302.79 L407.32 301.88 L407.34 300.91 L407.33 299.9 L407.31 298.88 L407.3 297.87 L407.32 296.9 L407.4 296 L407.51 295.18 L407.62 294.4 L407.74 293.67 L407.89 292.95 L408.07 292.23 L408.29 291.5 L408.56 290.72 L408.9 289.9 L409.33 289.02 L409.85 288.11 L410.43 287.16 L411.05 286.19 L411.68 285.22 L412.3 284.24 L412.88 283.26 L413.4 282.3 L413.87 281.33 L414.31 280.35 L414.74 279.35 L415.14 278.36 L415.52 277.38 L415.87 276.44 L416.2 275.54 L416.5 274.7 L416.77 273.89 L417.02 273.09 L417.25 272.31 L417.44 271.57 L417.62 270.9 L417.77 270.3 L417.9 269.79 L418 269.4 Z" fill="#f98a63" stroke="#1a1a1a" stroke-width="0.6"/>
<line x1="418" y1="260.2" x2="418" y2="269.4" stroke="#333" stroke-width="0.6"/>
<line x1="418" y1="359.7" x2="418" y2="367.3" stroke="#333" stroke-width="0.6"/>
<line x1="418" y1="290.7" x2="418" y2="348.4" stroke="#111" stroke-width="0.7"/>
<rect x="411.15" y="316.5" width="13.7" height="19" fill="#fff" stroke="#222" stroke-width="0.7"/>
<line x1="411.15" y1="321.8" x2="424.85" y2="321.8" stroke="#111" stroke-width="1.3"/>
<circle cx="418" cy="282" r="1.2" fill="#000"/>
<text transform="translate(490.4 234.6)" font-size="14.8" text-anchor="start" fill="#111">F</text>
<text transform="translate(522.6 245.9) scale(0.5750 0.6440)" font-size="10" text-anchor="start" fill="#151515" stroke="#151515" stroke-width="0.186">GSE121248</text>
<text transform="translate(564.2 245.9) scale(0.5800 0.6496)" font-size="10" text-anchor="start" fill="#151515" stroke="#151515" stroke-width="0.185">Type</text>
<rect x="578.5" y="239.4" width="7.8" height="8.4" fill="#7bd7e8" stroke="#333" stroke-width="0.6"/>
<text transform="translate(589.5 245.7) scale(0.4600 0.5520)" font-size="10" text-anchor="start" fill="#151515" stroke="#151515" stroke-width="0.217">Normal</text>
<rect x="607.9" y="239.4" width="7.9" height="8.4" fill="#f98a63" stroke="#333" stroke-width="0.6"/>
<text transform="translate(619.1 245.7) scale(0.4600 0.5520)" font-size="10" text-anchor="start" fill="#151515" stroke="#151515" stroke-width="0.217">Tumor</text>
<line x1="521.6" y1="256.8" x2="521.6" y2="396.75" stroke="#7a7a7a" stroke-width="0.95"/>
<line x1="521.15" y1="396.3" x2="674" y2="396.3" stroke="#7a7a7a" stroke-width="0.95"/>
<line x1="520" y1="258.6" x2="521.6" y2="258.6" stroke="#333" stroke-width="0.7"/>
<text transform="translate(519.1 260.85) scale(0.5600 0.6720)" font-size="10" text-anchor="end" fill="#151515" stroke="#151515" stroke-width="0.179">9</text>
<line x1="520" y1="305.9" x2="521.6" y2="305.9" stroke="#333" stroke-width="0.7"/>
<text transform="translate(519.1 308.15) scale(0.5600 0.6720)" font-size="10" text-anchor="end" fill="#151515" stroke="#151515" stroke-width="0.179">8</text>
<line x1="520" y1="353.2" x2="521.6" y2="353.2" stroke="#333" stroke-width="0.7"/>
<text transform="translate(519.1 355.45) scale(0.5600 0.6720)" font-size="10" text-anchor="end" fill="#151515" stroke="#151515" stroke-width="0.179">7</text>
<line x1="563.2" y1="396.3" x2="563.2" y2="398.3" stroke="#7a7a7a" stroke-width="0.6"/>
<line x1="632.4" y1="396.3" x2="632.4" y2="398.3" stroke="#7a7a7a" stroke-width="0.6"/>
<text transform="translate(563.2 403.8) scale(0.6000 0.6600)" font-size="10" text-anchor="middle" fill="#151515" stroke="#151515" stroke-width="0.182">Normal</text>
<text transform="translate(632.4 403.8) scale(0.6000 0.6600)" font-size="10" text-anchor="middle" fill="#151515" stroke="#151515" stroke-width="0.182">Tumor</text>
<text transform="translate(597.8 411.3) scale(0.6000 0.6600)" font-size="10" text-anchor="middle" fill="#151515" stroke="#151515" stroke-width="0.182">Type</text>
<path d="M563.2 262.9 V260.5 H632.6 V262.9" fill="none" stroke="#8a8a8a" stroke-width="0.7"/>
<text transform="translate(595.3 258.9) scale(0.5000 0.5000)" font-size="10" text-anchor="middle" fill="#151515" stroke="#151515" stroke-width="0.240">***</text>
<text transform="translate(513.7 327.3) rotate(-90) scale(0.6200 0.6820)" font-size="10" text-anchor="middle" fill="#151515" stroke="#151515" stroke-width="0.176">SLC25A19 expression</text>
<path d="M563.3 306.4 L563.39 306.81 L563.49 307.34 L563.62 307.98 L563.77 308.69 L563.93 309.44 L564.11 310.22 L564.3 310.98 L564.5 311.7 L564.73 312.4 L564.99 313.11 L565.28 313.83 L565.57 314.56 L565.87 315.3 L566.15 316.03 L566.39 316.77 L566.6 317.5 L566.76 318.24 L566.9 319 L567 319.76 L567.09 320.53 L567.17 321.28 L567.24 322.01 L567.32 322.72 L567.4 323.4 L567.46 324.04 L567.47 324.67 L567.46 325.27 L567.46 325.85 L567.49 326.41 L567.57 326.96 L567.73 327.49 L568 328 L568.35 328.49 L568.76 328.95 L569.22 329.39 L569.75 329.82 L570.35 330.24 L571.02 330.65 L571.77 331.07 L572.6 331.5 L573.54 331.93 L574.59 332.35 L575.73 332.76 L576.93 333.18 L578.18 333.6 L579.46 334.04 L580.74 334.51 L582 335 L583.3 335.53 L584.67 336.1 L586.09 336.7 L587.51 337.31 L588.9 337.93 L590.21 338.54 L591.43 339.13 L592.5 339.7 L593.45 340.25 L594.33 340.8 L595.13 341.33 L595.84 341.86 L596.47 342.38 L597.01 342.87 L597.46 343.35 L597.8 343.8 L598.03 344.21 L598.13 344.57 L598.13 344.9 L598.05 345.21 L597.9 345.53 L597.69 345.88 L597.45 346.26 L597.2 346.7 L596.93 347.2 L596.61 347.75 L596.25 348.33 L595.85 348.94 L595.4 349.56 L594.89 350.18 L594.32 350.8 L593.7 351.4 L592.98 351.99 L592.17 352.58 L591.28 353.17 L590.35 353.76 L589.4 354.34 L588.45 354.93 L587.55 355.52 L586.7 356.1 L585.91 356.68 L585.15 357.25 L584.4 357.83 L583.67 358.4 L582.96 358.97 L582.24 359.55 L581.53 360.12 L580.8 360.7 L580.07 361.28 L579.36 361.87 L578.64 362.46 L577.93 363.04 L577.21 363.63 L576.49 364.22 L575.75 364.81 L575 365.4 L574.21 366 L573.38 366.6 L572.53 367.22 L571.68 367.82 L570.84 368.43 L570.04 369.01 L569.28 369.57 L568.6 370.1 L567.98 370.59 L567.39 371.03 L566.84 371.45 L566.34 371.86 L565.87 372.26 L565.44 372.68 L565.05 373.12 L564.7 373.6 L564.4 374.15 L564.14 374.78 L563.93 375.45 L563.76 376.12 L563.61 376.76 L563.49 377.35 L563.39 377.84 L563.3 378.2 L563.3 378.2 L563.21 377.84 L563.11 377.35 L562.99 376.76 L562.84 376.12 L562.67 375.45 L562.46 374.78 L562.2 374.15 L561.9 373.6 L561.55 373.12 L561.16 372.68 L560.73 372.26 L560.26 371.86 L559.76 371.45 L559.21 371.03 L558.62 370.59 L558 370.1 L557.32 369.57 L556.56 369.01 L555.76 368.43 L554.92 367.82 L554.07 367.22 L553.22 366.6 L552.39 366 L551.6 365.4 L550.85 364.81 L550.11 364.22 L549.39 363.63 L548.67 363.04 L547.96 362.46 L547.24 361.87 L546.53 361.28 L545.8 360.7 L545.07 360.12 L544.36 359.55 L543.64 358.97 L542.92 358.4 L542.2 357.83 L541.45 357.25 L540.69 356.68 L539.9 356.1 L539.05 355.52 L538.15 354.93 L537.2 354.34 L536.25 353.76 L535.32 353.17 L534.43 352.58 L533.62 351.99 L532.9 351.4 L532.28 350.8 L531.71 350.18 L531.2 349.56 L530.75 348.94 L530.35 348.33 L529.99 347.75 L529.67 347.2 L529.4 346.7 L529.15 346.26 L528.91 345.88 L528.7 345.53 L528.55 345.21 L528.47 344.9 L528.47 344.57 L528.57 344.21 L528.8 343.8 L529.14 343.35 L529.59 342.87 L530.13 342.38 L530.76 341.86 L531.47 341.33 L532.27 340.8 L533.15 340.25 L534.1 339.7 L535.17 339.13 L536.39 338.54 L537.7 337.93 L539.09 337.31 L540.51 336.7 L541.93 336.1 L543.3 335.53 L544.6 335 L545.86 334.51 L547.14 334.04 L548.42 333.6 L549.67 333.18 L550.87 332.76 L552.01 332.35 L553.06 331.93 L554 331.5 L554.83 331.07 L555.58 330.65 L556.25 330.24 L556.85 329.82 L557.38 329.39 L557.84 328.95 L558.25 328.49 L558.6 328 L558.87 327.49 L559.03 326.96 L559.11 326.41 L559.14 325.85 L559.14 325.27 L559.13 324.67 L559.14 324.04 L559.2 323.4 L559.28 322.72 L559.36 322.01 L559.43 321.28 L559.51 320.53 L559.6 319.76 L559.7 319 L559.84 318.24 L560 317.5 L560.21 316.77 L560.45 316.03 L560.73 315.3 L561.02 314.56 L561.32 313.83 L561.61 313.11 L561.87 312.4 L562.1 311.7 L562.3 310.98 L562.49 310.22 L562.67 309.44 L562.83 308.69 L562.98 307.98 L563.11 307.34 L563.21 306.81 L563.3 306.4 Z" fill="#7bd7e8" stroke="#1a1a1a" stroke-width="0.6"/>
<line x1="563.3" y1="325.1" x2="563.3" y2="366" stroke="#111" stroke-width="0.7"/>
<rect x="556.3" y="341.5" width="14" height="12.8" fill="#fff" stroke="#222" stroke-width="0.7"/>
<line x1="556.3" y1="346.5" x2="570.3" y2="346.5" stroke="#111" stroke-width="1.3"/>
<circle cx="563.3" cy="318.7" r="1.2" fill="#000"/>
<path d="M632.5 271.9 L632.61 272.36 L632.76 272.95 L632.94 273.66 L633.13 274.45 L633.34 275.31 L633.54 276.22 L633.73 277.16 L633.9 278.1 L634.05 279.07 L634.21 280.11 L634.35 281.21 L634.49 282.33 L634.63 283.48 L634.76 284.63 L634.88 285.78 L635 286.9 L635.09 288.01 L635.15 289.12 L635.19 290.23 L635.23 291.34 L635.29 292.46 L635.37 293.57 L635.51 294.69 L635.7 295.8 L635.95 296.91 L636.23 298.03 L636.56 299.14 L636.91 300.25 L637.31 301.36 L637.73 302.48 L638.2 303.59 L638.7 304.7 L639.26 305.81 L639.88 306.93 L640.55 308.04 L641.26 309.16 L641.97 310.27 L642.68 311.38 L643.36 312.49 L644 313.6 L644.61 314.7 L645.23 315.8 L645.83 316.9 L646.42 318 L646.99 319.1 L647.53 320.2 L648.03 321.3 L648.5 322.4 L648.93 323.52 L649.34 324.66 L649.73 325.81 L650.08 326.96 L650.4 328.09 L650.68 329.2 L650.91 330.27 L651.1 331.3 L651.24 332.26 L651.34 333.16 L651.4 334.02 L651.42 334.85 L651.4 335.68 L651.34 336.54 L651.24 337.44 L651.1 338.4 L650.91 339.43 L650.68 340.5 L650.4 341.61 L650.08 342.74 L649.73 343.89 L649.34 345.04 L648.93 346.18 L648.5 347.3 L648.03 348.4 L647.53 349.5 L646.99 350.6 L646.42 351.7 L645.83 352.8 L645.23 353.9 L644.61 355 L644 356.1 L643.37 357.2 L642.72 358.28 L642.05 359.35 L641.37 360.43 L640.69 361.53 L640.01 362.65 L639.34 363.8 L638.7 365 L638.05 366.28 L637.39 367.63 L636.71 369.04 L636.06 370.46 L635.43 371.87 L634.85 373.24 L634.33 374.52 L633.9 375.7 L633.55 376.81 L633.28 377.89 L633.06 378.94 L632.9 379.92 L632.77 380.82 L632.67 381.61 L632.58 382.28 L632.5 382.8 L632.5 382.8 L632.42 382.28 L632.33 381.61 L632.23 380.82 L632.1 379.92 L631.94 378.94 L631.72 377.89 L631.45 376.81 L631.1 375.7 L630.67 374.52 L630.15 373.24 L629.57 371.87 L628.94 370.46 L628.29 369.04 L627.61 367.63 L626.95 366.28 L626.3 365 L625.66 363.8 L624.99 362.65 L624.31 361.53 L623.63 360.43 L622.95 359.35 L622.28 358.28 L621.63 357.2 L621 356.1 L620.39 355 L619.77 353.9 L619.17 352.8 L618.58 351.7 L618.01 350.6 L617.47 349.5 L616.97 348.4 L616.5 347.3 L616.07 346.18 L615.66 345.04 L615.27 343.89 L614.92 342.74 L614.6 341.61 L614.32 340.5 L614.09 339.43 L613.9 338.4 L613.76 337.44 L613.66 336.54 L613.6 335.68 L613.58 334.85 L613.6 334.02 L613.66 333.16 L613.76 332.26 L613.9 331.3 L614.09 330.27 L614.32 329.2 L614.6 328.09 L614.92 326.96 L615.27 325.81 L615.66 324.66 L616.07 323.52 L616.5 322.4 L616.97 321.3 L617.47 320.2 L618.01 319.1 L618.58 318 L619.17 316.9 L619.77 315.8 L620.39 314.7 L621 313.6 L621.64 312.49 L622.32 311.38 L623.03 310.27 L623.74 309.16 L624.45 308.04 L625.12 306.93 L625.74 305.81 L626.3 304.7 L626.8 303.59 L627.27 302.48 L627.69 301.36 L628.09 300.25 L628.44 299.14 L628.77 298.03 L629.05 296.91 L629.3 295.8 L629.49 294.69 L629.63 293.57 L629.71 292.46 L629.77 291.34 L629.81 290.23 L629.85 289.12 L629.91 288.01 L630 286.9 L630.12 285.78 L630.24 284.63 L630.37 283.48 L630.51 282.33 L630.65 281.21 L630.79 280.11 L630.95 279.07 L631.1 278.1 L631.27 277.16 L631.46 276.22 L631.66 275.31 L631.87 274.45 L632.06 273.66 L632.24 272.95 L632.39 272.36 L632.5 271.9 Z" fill="#f98a63" stroke="#1a1a1a" stroke-width="0.6"/>
<line x1="632.5" y1="260.5" x2="632.5" y2="271.9" stroke="#333" stroke-width="0.6"/>
<line x1="632.5" y1="382.8" x2="632.5" y2="389.8" stroke="#333" stroke-width="0.6"/>
<line x1="632.5" y1="290.5" x2="632.5" y2="368.6" stroke="#111" stroke-width="0.7"/>
<rect x="625.65" y="325.1" width="13.7" height="23.1" fill="#fff" stroke="#222" stroke-width="0.7"/>
<line x1="625.65" y1="336.3" x2="639.35" y2="336.3" stroke="#111" stroke-width="1.3"/>
<circle cx="632.5" cy="283" r="1.2" fill="#000"/>
<circle cx="632.5" cy="288.2" r="1.2" fill="#000"/>
<text transform="translate(60.3 455.3)" font-size="14.8" text-anchor="start" fill="#111">G</text>
<text transform="translate(111.9 466.9) scale(0.3100 0.4030)" font-size="10" text-anchor="start" fill="#151515" stroke="#151515" stroke-width="0.298">SLC25A19</text>
<line x1="129.1" y1="465.5" x2="133.1" y2="465.5" stroke="#f5775a" stroke-width="0.8"/>
<text transform="translate(134.9 466.9) scale(0.3100 0.4030)" font-size="10" text-anchor="start" fill="#151515" stroke="#151515" stroke-width="0.298">High</text>
<line x1="143.7" y1="465.5" x2="147.7" y2="465.5" stroke="#5bc6df" stroke-width="0.8"/>
<text transform="translate(149.8 466.9) scale(0.3100 0.4030)" font-size="10" text-anchor="start" fill="#151515" stroke="#151515" stroke-width="0.298">Low</text>
<line x1="70.4" y1="474.7" x2="70.4" y2="544.7" stroke="#2a2a2a" stroke-width="0.7"/>
<line x1="70.05" y1="544.35" x2="197" y2="544.35" stroke="#2a2a2a" stroke-width="0.7"/>
<line x1="68.9" y1="477.4" x2="70.4" y2="477.4" stroke="#2a2a2a" stroke-width="0.5"/>
<text transform="translate(68.4 478.7) scale(0.3600 0.3960)" font-size="10" text-anchor="end" fill="#151515" stroke="#151515" stroke-width="0.303">1.00</text>
<line x1="68.9" y1="493.37" x2="70.4" y2="493.37" stroke="#2a2a2a" stroke-width="0.5"/>
<text transform="translate(68.4 494.67) scale(0.3600 0.3960)" font-size="10" text-anchor="end" fill="#151515" stroke="#151515" stroke-width="0.303">0.75</text>
<line x1="68.9" y1="509.35" x2="70.4" y2="509.35" stroke="#2a2a2a" stroke-width="0.5"/>
<text transform="translate(68.4 510.65) scale(0.3600 0.3960)" font-size="10" text-anchor="end" fill="#151515" stroke="#151515" stroke-width="0.303">0.50</text>
<line x1="68.9" y1="525.32" x2="70.4" y2="525.32" stroke="#2a2a2a" stroke-width="0.5"/>
<text transform="translate(68.4 526.62) scale(0.3600 0.3960)" font-size="10" text-anchor="end" fill="#151515" stroke="#151515" stroke-width="0.303">0.25</text>
<line x1="68.9" y1="541.3" x2="70.4" y2="541.3" stroke="#2a2a2a" stroke-width="0.5"/>
<text transform="translate(68.4 542.6) scale(0.3600 0.3960)" font-size="10" text-anchor="end" fill="#151515" stroke="#151515" stroke-width="0.303">0.00</text>
<line x1="76.4" y1="544.1" x2="76.4" y2="545.6" stroke="#2a2a2a" stroke-width="0.5"/>
<text transform="translate(76.4 548.8) scale(0.3600 0.3960)" font-size="10" text-anchor="middle" fill="#151515" stroke="#151515" stroke-width="0.303">0</text>
<line x1="76.4" y1="577.4" x2="76.4" y2="578.6" stroke="#2a2a2a" stroke-width="0.5"/>
<text transform="translate(76.4 581.7) scale(0.3600 0.3960)" font-size="10" text-anchor="middle" fill="#151515" stroke="#151515" stroke-width="0.303">0</text>
<line x1="87.92" y1="544.1" x2="87.92" y2="545.6" stroke="#2a2a2a" stroke-width="0.5"/>
<text transform="translate(87.92 548.8) scale(0.3600 0.3960)" font-size="10" text-anchor="middle" fill="#151515" stroke="#151515" stroke-width="0.303">1</text>
<line x1="87.92" y1="577.4" x2="87.92" y2="578.6" stroke="#2a2a2a" stroke-width="0.5"/>
<text transform="translate(87.92 581.7) scale(0.3600 0.3960)" font-size="10" text-anchor="middle" fill="#151515" stroke="#151515" stroke-width="0.303">1</text>
<line x1="99.44" y1="544.1" x2="99.44" y2="545.6" stroke="#2a2a2a" stroke-width="0.5"/>
<text transform="translate(99.44 548.8) scale(0.3600 0.3960)" font-size="10" text-anchor="middle" fill="#151515" stroke="#151515" stroke-width="0.303">2</text>
<line x1="99.44" y1="577.4" x2="99.44" y2="578.6" stroke="#2a2a2a" stroke-width="0.5"/>
<text transform="translate(99.44 581.7) scale(0.3600 0.3960)" font-size="10" text-anchor="middle" fill="#151515" stroke="#151515" stroke-width="0.303">2</text>
<line x1="110.96" y1="544.1" x2="110.96" y2="545.6" stroke="#2a2a2a" stroke-width="0.5"/>
<text transform="translate(110.96 548.8) scale(0.3600 0.3960)" font-size="10" text-anchor="middle" fill="#151515" stroke="#151515" stroke-width="0.303">3</text>
<line x1="110.96" y1="577.4" x2="110.96" y2="578.6" stroke="#2a2a2a" stroke-width="0.5"/>
<text transform="translate(110.96 581.7) scale(0.3600 0.3960)" font-size="10" text-anchor="middle" fill="#151515" stroke="#151515" stroke-width="0.303">3</text>
<line x1="122.48" y1="544.1" x2="122.48" y2="545.6" stroke="#2a2a2a" stroke-width="0.5"/>
<text transform="translate(122.48 548.8) scale(0.3600 0.3960)" font-size="10" text-anchor="middle" fill="#151515" stroke="#151515" stroke-width="0.303">4</text>
<line x1="122.48" y1="577.4" x2="122.48" y2="578.6" stroke="#2a2a2a" stroke-width="0.5"/>
<text transform="translate(122.48 581.7) scale(0.3600 0.3960)" font-size="10" text-anchor="middle" fill="#151515" stroke="#151515" stroke-width="0.303">4</text>
<line x1="134" y1="544.1" x2="134" y2="545.6" stroke="#2a2a2a" stroke-width="0.5"/>
<text transform="translate(134 548.8) scale(0.3600 0.3960)" font-size="10" text-anchor="middle" fill="#151515" stroke="#151515" stroke-width="0.303">5</text>
<line x1="134" y1="577.4" x2="134" y2="578.6" stroke="#2a2a2a" stroke-width="0.5"/>
<text transform="translate(134 581.7) scale(0.3600 0.3960)" font-size="10" text-anchor="middle" fill="#151515" stroke="#151515" stroke-width="0.303">5</text>
<line x1="145.52" y1="544.1" x2="145.52" y2="545.6" stroke="#2a2a2a" stroke-width="0.5"/>
<text transform="translate(145.52 548.8) scale(0.3600 0.3960)" font-size="10" text-anchor="middle" fill="#151515" stroke="#151515" stroke-width="0.303">6</text>
<line x1="145.52" y1="577.4" x2="145.52" y2="578.6" stroke="#2a2a2a" stroke-width="0.5"/>
<text transform="translate(145.52 581.7) scale(0.3600 0.3960)" font-size="10" text-anchor="middle" fill="#151515" stroke="#151515" stroke-width="0.303">6</text>
<line x1="157.04" y1="544.1" x2="157.04" y2="545.6" stroke="#2a2a2a" stroke-width="0.5"/>
<text transform="translate(157.04 548.8) scale(0.3600 0.3960)" font-size="10" text-anchor="middle" fill="#151515" stroke="#151515" stroke-width="0.303">7</text>
<line x1="157.04" y1="577.4" x2="157.04" y2="578.6" stroke="#2a2a2a" stroke-width="0.5"/>
<text transform="translate(157.04 581.7) scale(0.3600 0.3960)" font-size="10" text-anchor="middle" fill="#151515" stroke="#151515" stroke-width="0.303">7</text>
<line x1="168.56" y1="544.1" x2="168.56" y2="545.6" stroke="#2a2a2a" stroke-width="0.5"/>
<text transform="translate(168.56 548.8) scale(0.3600 0.3960)" font-size="10" text-anchor="middle" fill="#151515" stroke="#151515" stroke-width="0.303">8</text>
<line x1="168.56" y1="577.4" x2="168.56" y2="578.6" stroke="#2a2a2a" stroke-width="0.5"/>
<text transform="translate(168.56 581.7) scale(0.3600 0.3960)" font-size="10" text-anchor="middle" fill="#151515" stroke="#151515" stroke-width="0.303">8</text>
<line x1="180.08" y1="544.1" x2="180.08" y2="545.6" stroke="#2a2a2a" stroke-width="0.5"/>
<text transform="translate(180.08 548.8) scale(0.3600 0.3960)" font-size="10" text-anchor="middle" fill="#151515" stroke="#151515" stroke-width="0.303">9</text>
<line x1="180.08" y1="577.4" x2="180.08" y2="578.6" stroke="#2a2a2a" stroke-width="0.5"/>
<text transform="translate(180.08 581.7) scale(0.3600 0.3960)" font-size="10" text-anchor="middle" fill="#151515" stroke="#151515" stroke-width="0.303">9</text>
<line x1="191.6" y1="544.1" x2="191.6" y2="545.6" stroke="#2a2a2a" stroke-width="0.5"/>
<text transform="translate(191.6 548.8) scale(0.3600 0.3960)" font-size="10" text-anchor="middle" fill="#151515" stroke="#151515" stroke-width="0.303">10</text>
<line x1="191.6" y1="577.4" x2="191.6" y2="578.6" stroke="#2a2a2a" stroke-width="0.5"/>
<text transform="translate(191.6 581.7) scale(0.3600 0.3960)" font-size="10" text-anchor="middle" fill="#151515" stroke="#151515" stroke-width="0.303">10</text>
<text transform="translate(133.9 554) scale(0.4300 0.4945)" font-size="10" text-anchor="middle" fill="#151515" stroke="#151515" stroke-width="0.243">Time (years)</text>
<text transform="translate(133.9 587.8) scale(0.4300 0.4945)" font-size="10" text-anchor="middle" fill="#151515" stroke="#151515" stroke-width="0.243">Time (years)</text>
<text transform="translate(59.8 510) rotate(-90) scale(0.4300 0.4945)" font-size="10" text-anchor="middle" fill="#151515" stroke="#151515" stroke-width="0.243">Overall survival</text>
<text transform="translate(78.6 530.8) scale(0.5300 0.5936)" font-size="10" text-anchor="start" fill="#151515" stroke="#151515" stroke-width="0.202">p=0.004</text>
<path d="M76.4 477.4 L76.93 477.4 L76.93 477.55 L77.57 477.55 L77.57 479.19 L78.35 479.19 L78.35 480.54 L79.62 480.54 L79.62 480.79 L79.63 480.79 L80.23 480.79 L80.23 480.82 L81.3 480.82 L81.3 481.12 L82.51 481.12 L82.51 481.39 L83.16 481.39 L83.16 481.41 L84.32 481.41 L84.32 481.43 L84.46 481.43 L84.79 481.43 L84.79 481.58 L85.69 481.58 L85.69 481.64 L86.39 481.64 L86.39 482.53 L87.37 482.53 L87.37 482.95 L88.07 482.95 L88.07 483.49 L89.11 483.49 L89.11 483.59 L90.2 483.59 L90.2 484.81 L90.22 484.81 L90.77 484.81 L90.77 485.1 L91.49 485.1 L91.49 485.21 L92.39 485.21 L92.39 485.66 L93.28 485.66 L93.28 486.37 L93.96 486.37 L93.96 487.03 L94.75 487.03 L94.75 487.28 L95.53 487.28 L95.53 487.6 L96.66 487.6 L96.66 488 L97.2 488 L97.2 488.85 L98.12 488.85 L98.12 489.27 L99.01 489.27 L99.01 489.54 L99.44 489.54 L99.99 489.54 L99.99 490.23 L100.97 490.23 L100.97 491.02 L101.86 491.02 L101.86 491.52 L102.73 491.52 L102.73 491.63 L104.03 491.63 L104.03 493.37 L104.05 493.37 L104.86 493.37 L104.86 493.43 L105.32 493.43 L105.32 493.54 L106.26 493.54 L106.26 493.63 L107.41 493.63 L107.41 493.73 L108.27 493.73 L108.27 493.82 L108.96 493.82 L108.96 493.84 L110.08 493.84 L110.08 493.94 L110.85 493.94 L110.85 494.01 L110.96 494.01 L111.73 494.01 L111.73 494.23 L112.28 494.23 L112.28 494.3 L113.42 494.3 L113.42 494.59 L113.93 494.59 L113.93 495.09 L115.15 495.09 L115.15 495.13 L115.91 495.13 L115.91 495.16 L116.81 495.16 L116.81 495.21 L117.84 495.21 L117.84 495.61 L117.87 495.61 L118.27 495.61 L118.27 497 L119.53 497 L119.53 497.24 L120.34 497.24 L120.34 498.57 L120.63 498.57 L120.63 498.82 L121.92 498.82 L121.92 500.4 L122.02 500.4 L122.6 500.4 L122.6 501.15 L123.31 501.15 L123.31 501.56 L124.35 501.56 L124.35 501.79 L124.85 501.79 L124.85 501.94 L126.02 501.94 L126.02 502.07 L126.6 502.07 L126.6 502.13 L127.5 502.13 L127.5 502.51 L127.89 502.51 L128.25 502.51 L128.25 505.86 L129.43 505.86 L129.43 506.47 L129.74 506.47 L141.72 506.47 L142.53 506.47 L142.53 510.08 L143.42 510.08 L143.42 510.44 L143.56 510.44 L154.51 510.44 L154.9 510.44 L154.9 514.34 L155.32 514.34 L155.32 515.29 L155.54 515.29 L155.89 515.29 L155.89 520.85 L175.24 520.85 L175.47 520.85 L175.47 526.22 L176.2 526.22 L176.2 526.2 L176.66 526.2 L176.66 526.2 L177.5 526.2 L177.5 526.19 L178.76 526.19 L178.76 526.19 L179.29 526.19 L179.29 526.15 L180.6 526.15 L180.6 526.11 L181.5 526.11 L181.5 526.07 L182.13 526.07 L182.13 526.06 L183.1 526.06 L183.1 526.03 L184.05 526.03 L184.05 526 L184.75 526 L184.75 525.99 L185.29 525.99 L185.29 525.96 L185.84 525.96" fill="none" stroke="#5bc6df" stroke-width="0.95"/>
<line x1="77.46" y1="476.25" x2="77.46" y2="478.85" stroke="#5bc6df" stroke-width="0.7"/>
<line x1="77.81" y1="477.89" x2="77.81" y2="480.49" stroke="#5bc6df" stroke-width="0.7"/>
<line x1="78.93" y1="479.24" x2="78.93" y2="481.84" stroke="#5bc6df" stroke-width="0.7"/>
<line x1="80.19" y1="479.49" x2="80.19" y2="482.09" stroke="#5bc6df" stroke-width="0.7"/>
<line x1="81.73" y1="479.82" x2="81.73" y2="482.42" stroke="#5bc6df" stroke-width="0.7"/>
<line x1="82.94" y1="480.09" x2="82.94" y2="482.69" stroke="#5bc6df" stroke-width="0.7"/>
<line x1="83.5" y1="480.11" x2="83.5" y2="482.71" stroke="#5bc6df" stroke-width="0.7"/>
<line x1="85.18" y1="480.28" x2="85.18" y2="482.88" stroke="#5bc6df" stroke-width="0.7"/>
<line x1="87.01" y1="481.23" x2="87.01" y2="483.83" stroke="#5bc6df" stroke-width="0.7"/>
<line x1="87.87" y1="481.65" x2="87.87" y2="484.25" stroke="#5bc6df" stroke-width="0.7"/>
<line x1="90.8" y1="483.51" x2="90.8" y2="486.11" stroke="#5bc6df" stroke-width="0.7"/>
<line x1="91.03" y1="483.8" x2="91.03" y2="486.4" stroke="#5bc6df" stroke-width="0.7"/>
<line x1="92.7" y1="484.36" x2="92.7" y2="486.96" stroke="#5bc6df" stroke-width="0.7"/>
<line x1="95.21" y1="485.98" x2="95.21" y2="488.58" stroke="#5bc6df" stroke-width="0.7"/>
<line x1="97.14" y1="486.7" x2="97.14" y2="489.3" stroke="#5bc6df" stroke-width="0.7"/>
<line x1="97.79" y1="487.55" x2="97.79" y2="490.15" stroke="#5bc6df" stroke-width="0.7"/>
<line x1="100.46" y1="488.93" x2="100.46" y2="491.53" stroke="#5bc6df" stroke-width="0.7"/>
<line x1="101.36" y1="489.72" x2="101.36" y2="492.32" stroke="#5bc6df" stroke-width="0.7"/>
<line x1="104.34" y1="492.07" x2="104.34" y2="494.67" stroke="#5bc6df" stroke-width="0.7"/>
<line x1="105.1" y1="492.13" x2="105.1" y2="494.73" stroke="#5bc6df" stroke-width="0.7"/>
<line x1="105.6" y1="492.24" x2="105.6" y2="494.84" stroke="#5bc6df" stroke-width="0.7"/>
<line x1="106.52" y1="492.33" x2="106.52" y2="494.93" stroke="#5bc6df" stroke-width="0.7"/>
<line x1="108.82" y1="492.52" x2="108.82" y2="495.12" stroke="#5bc6df" stroke-width="0.7"/>
<line x1="109.41" y1="492.54" x2="109.41" y2="495.14" stroke="#5bc6df" stroke-width="0.7"/>
<line x1="110.51" y1="492.64" x2="110.51" y2="495.24" stroke="#5bc6df" stroke-width="0.7"/>
<line x1="111.49" y1="492.71" x2="111.49" y2="495.31" stroke="#5bc6df" stroke-width="0.7"/>
<line x1="118.51" y1="494.31" x2="118.51" y2="496.91" stroke="#5bc6df" stroke-width="0.7"/>
<line x1="118.62" y1="495.7" x2="118.62" y2="498.3" stroke="#5bc6df" stroke-width="0.7"/>
<line x1="122.88" y1="499.85" x2="122.88" y2="502.45" stroke="#5bc6df" stroke-width="0.7"/>
<line x1="123.77" y1="500.26" x2="123.77" y2="502.86" stroke="#5bc6df" stroke-width="0.7"/>
<line x1="125.17" y1="500.64" x2="125.17" y2="503.24" stroke="#5bc6df" stroke-width="0.7"/>
<line x1="126.92" y1="500.83" x2="126.92" y2="503.43" stroke="#5bc6df" stroke-width="0.7"/>
<line x1="133.82" y1="505.17" x2="133.82" y2="507.77" stroke="#5bc6df" stroke-width="0.7"/>
<line x1="149.69" y1="509.14" x2="149.69" y2="511.74" stroke="#5bc6df" stroke-width="0.7"/>
<line x1="155.53" y1="513.04" x2="155.53" y2="515.64" stroke="#5bc6df" stroke-width="0.7"/>
<line x1="162.97" y1="519.55" x2="162.97" y2="522.15" stroke="#5bc6df" stroke-width="0.7"/>
<line x1="168.29" y1="519.55" x2="168.29" y2="522.15" stroke="#5bc6df" stroke-width="0.7"/>
<line x1="176.55" y1="524.9" x2="176.55" y2="527.5" stroke="#5bc6df" stroke-width="0.7"/>
<line x1="179.83" y1="524.85" x2="179.83" y2="527.45" stroke="#5bc6df" stroke-width="0.7"/>
<line x1="181.24" y1="524.81" x2="181.24" y2="527.41" stroke="#5bc6df" stroke-width="0.7"/>
<line x1="182.18" y1="524.77" x2="182.18" y2="527.37" stroke="#5bc6df" stroke-width="0.7"/>
<line x1="182.44" y1="524.76" x2="182.44" y2="527.36" stroke="#5bc6df" stroke-width="0.7"/>
<line x1="185.64" y1="524.66" x2="185.64" y2="527.26" stroke="#5bc6df" stroke-width="0.7"/>
<path d="M76.4 477.4 L76.75 477.4 L76.75 479.53 L77.68 479.53 L77.68 481.63 L78.55 481.63 L78.55 481.75 L79.65 481.75 L79.65 481.87 L79.74 481.87 L80.51 481.87 L80.51 482.92 L81.32 482.92 L81.32 484.81 L81.99 484.81 L81.99 486.54 L83.15 486.54 L83.15 487.17 L84.25 487.17 L84.25 487.62 L84.46 487.62 L84.86 487.62 L84.86 489.43 L85.96 489.43 L85.96 490.3 L86.46 490.3 L86.46 490.45 L87.46 490.45 L87.46 491.91 L88.43 491.91 L88.43 493.09 L89.04 493.09 L89.04 494.11 L89.96 494.11 L89.96 495.61 L90.45 495.61 L91.22 495.61 L91.22 496.9 L92.03 496.9 L92.03 497.29 L92.88 497.29 L92.88 497.85 L93.51 497.85 L93.51 499.2 L94.49 499.2 L94.49 500.06 L95.32 500.06 L95.32 500.49 L96.24 500.49 L96.24 500.64 L97.04 500.64 L97.04 500.87 L97.85 500.87 L97.85 501.68 L98.29 501.68 L98.61 501.68 L98.61 501.91 L99.45 501.91 L99.45 503.51 L100.26 503.51 L100.26 503.66 L101.57 503.66 L101.57 504.92 L102.03 504.92 L102.03 505.25 L103.23 505.25 L103.23 505.52 L103.24 505.52 L103.85 505.52 L103.85 505.56 L104.44 505.56 L104.44 505.68 L105.64 505.68 L105.64 506.37 L106.05 506.37 L106.05 506.44 L106.85 506.44 L106.85 506.52 L107.68 506.52 L107.68 507.03 L108.76 507.03 L108.76 507.22 L109.51 507.22 L109.51 507.27 L110.01 507.27 L110.01 508.27 L111.08 508.27 L111.08 508.34 L112.03 508.34 L112.03 508.39 L112.11 508.39 L112.37 508.39 L112.37 508.45 L113.64 508.45 L113.64 508.65 L114.26 508.65 L114.26 508.76 L115.05 508.76 L115.05 508.79 L116 508.79 L116 508.96 L116.91 508.96 L116.91 509 L117.85 509 L117.85 509.02 L118.69 509.02 L118.69 509.05 L119.39 509.05 L119.39 509.09 L120.38 509.09 L120.38 509.12 L120.78 509.12 L120.78 509.34 L121.93 509.34 L121.93 509.49 L122.68 509.49 L122.68 509.99 L123.55 509.99 L123.55 510.44 L123.86 510.44 L124.2 510.44 L124.2 510.58 L125.5 510.58 L125.5 510.62 L126.1 510.62 L126.1 510.68 L127.04 510.68 L127.04 510.87 L127.95 510.87 L127.95 510.96 L128.28 510.96 L128.28 510.99 L129.53 510.99 L129.53 511.2 L130.24 511.2 L130.24 511.23 L130.86 511.23 L130.86 511.25 L132.05 511.25 L132.05 511.35 L132.57 511.35 L132.57 511.37 L133.37 511.37 L133.37 511.39 L133.77 511.39 L134.11 511.39 L134.11 512.69 L134.52 512.69 L134.52 513.82 L134.81 513.82 L178.93 513.82 L179.5 513.82 L179.5 527.5 L192.75 527.5" fill="none" stroke="#f5775a" stroke-width="0.95"/>
<line x1="78.19" y1="480.33" x2="78.19" y2="482.93" stroke="#f5775a" stroke-width="0.7"/>
<line x1="80.06" y1="480.57" x2="80.06" y2="483.17" stroke="#f5775a" stroke-width="0.7"/>
<line x1="80.75" y1="481.62" x2="80.75" y2="484.22" stroke="#f5775a" stroke-width="0.7"/>
<line x1="81.73" y1="483.51" x2="81.73" y2="486.11" stroke="#f5775a" stroke-width="0.7"/>
<line x1="83.39" y1="485.87" x2="83.39" y2="488.47" stroke="#f5775a" stroke-width="0.7"/>
<line x1="84.71" y1="486.32" x2="84.71" y2="488.92" stroke="#f5775a" stroke-width="0.7"/>
<line x1="87.03" y1="489.15" x2="87.03" y2="491.75" stroke="#f5775a" stroke-width="0.7"/>
<line x1="90.59" y1="494.31" x2="90.59" y2="496.91" stroke="#f5775a" stroke-width="0.7"/>
<line x1="95.64" y1="499.19" x2="95.64" y2="501.79" stroke="#f5775a" stroke-width="0.7"/>
<line x1="97.65" y1="499.57" x2="97.65" y2="502.17" stroke="#f5775a" stroke-width="0.7"/>
<line x1="99.08" y1="500.61" x2="99.08" y2="503.21" stroke="#f5775a" stroke-width="0.7"/>
<line x1="99.77" y1="502.21" x2="99.77" y2="504.81" stroke="#f5775a" stroke-width="0.7"/>
<line x1="100.82" y1="502.36" x2="100.82" y2="504.96" stroke="#f5775a" stroke-width="0.7"/>
<line x1="101.88" y1="503.62" x2="101.88" y2="506.22" stroke="#f5775a" stroke-width="0.7"/>
<line x1="102.7" y1="503.95" x2="102.7" y2="506.55" stroke="#f5775a" stroke-width="0.7"/>
<line x1="104.82" y1="504.38" x2="104.82" y2="506.98" stroke="#f5775a" stroke-width="0.7"/>
<line x1="106.23" y1="505.07" x2="106.23" y2="507.67" stroke="#f5775a" stroke-width="0.7"/>
<line x1="109.95" y1="505.97" x2="109.95" y2="508.57" stroke="#f5775a" stroke-width="0.7"/>
<line x1="110.51" y1="506.97" x2="110.51" y2="509.57" stroke="#f5775a" stroke-width="0.7"/>
<line x1="112.8" y1="507.15" x2="112.8" y2="509.75" stroke="#f5775a" stroke-width="0.7"/>
<line x1="115.48" y1="507.49" x2="115.48" y2="510.09" stroke="#f5775a" stroke-width="0.7"/>
<line x1="116.25" y1="507.66" x2="116.25" y2="510.26" stroke="#f5775a" stroke-width="0.7"/>
<line x1="117.47" y1="507.7" x2="117.47" y2="510.3" stroke="#f5775a" stroke-width="0.7"/>
<line x1="118.16" y1="507.72" x2="118.16" y2="510.32" stroke="#f5775a" stroke-width="0.7"/>
<line x1="119.16" y1="507.75" x2="119.16" y2="510.35" stroke="#f5775a" stroke-width="0.7"/>
<line x1="119.92" y1="507.79" x2="119.92" y2="510.39" stroke="#f5775a" stroke-width="0.7"/>
<line x1="123.1" y1="508.69" x2="123.1" y2="511.29" stroke="#f5775a" stroke-width="0.7"/>
<line x1="123.83" y1="509.14" x2="123.83" y2="511.74" stroke="#f5775a" stroke-width="0.7"/>
<line x1="128.35" y1="509.66" x2="128.35" y2="512.26" stroke="#f5775a" stroke-width="0.7"/>
<line x1="128.85" y1="509.69" x2="128.85" y2="512.29" stroke="#f5775a" stroke-width="0.7"/>
<line x1="131.14" y1="509.95" x2="131.14" y2="512.55" stroke="#f5775a" stroke-width="0.7"/>
<line x1="132.67" y1="510.05" x2="132.67" y2="512.65" stroke="#f5775a" stroke-width="0.7"/>
<line x1="133.9" y1="510.09" x2="133.9" y2="512.69" stroke="#f5775a" stroke-width="0.7"/>
<line x1="134.55" y1="511.39" x2="134.55" y2="513.99" stroke="#f5775a" stroke-width="0.7"/>
<line x1="134.99" y1="512.52" x2="134.99" y2="515.12" stroke="#f5775a" stroke-width="0.7"/>
<line x1="139.1" y1="512.52" x2="139.1" y2="515.12" stroke="#f5775a" stroke-width="0.7"/>
<line x1="150.45" y1="512.52" x2="150.45" y2="515.12" stroke="#f5775a" stroke-width="0.7"/>
<line x1="158.48" y1="512.52" x2="158.48" y2="515.12" stroke="#f5775a" stroke-width="0.7"/>
<line x1="167.98" y1="512.52" x2="167.98" y2="515.12" stroke="#f5775a" stroke-width="0.7"/>
<line x1="176.29" y1="512.52" x2="176.29" y2="515.12" stroke="#f5775a" stroke-width="0.7"/>
<line x1="184.51" y1="526.2" x2="184.51" y2="528.8" stroke="#f5775a" stroke-width="0.7"/>
<text transform="translate(58.5 571.2) rotate(-90) scale(0.4500 0.4275)" font-size="10" text-anchor="middle" fill="#151515" stroke="#151515" stroke-width="0.281">SLC25A19</text>
<text transform="translate(68.2 570.8) scale(0.3300 0.3960)" font-size="10" text-anchor="end" fill="#f5775a" stroke="#f5775a" stroke-width="0.303">High</text>
<text transform="translate(68.2 575.6) scale(0.3300 0.3960)" font-size="10" text-anchor="end" fill="#5bc6df" stroke="#5bc6df" stroke-width="0.303">Low</text>
<line x1="70.4" y1="566" x2="70.4" y2="577.6" stroke="#2a2a2a" stroke-width="0.6"/>
<line x1="70.1" y1="577.4" x2="196.6" y2="577.4" stroke="#2a2a2a" stroke-width="0.6"/>
<text transform="translate(76.4 571) scale(0.4100 0.4715)" font-size="10" text-anchor="middle" fill="#151515" stroke="#151515" stroke-width="0.255">104</text>
<text transform="translate(76.4 576.1) scale(0.4100 0.4715)" font-size="10" text-anchor="middle" fill="#151515" stroke="#151515" stroke-width="0.255">104</text>
<text transform="translate(87.92 571) scale(0.4100 0.4715)" font-size="10" text-anchor="middle" fill="#151515" stroke="#151515" stroke-width="0.255">119</text>
<text transform="translate(87.92 576.1) scale(0.4100 0.4715)" font-size="10" text-anchor="middle" fill="#151515" stroke="#151515" stroke-width="0.255">145</text>
<text transform="translate(99.44 571) scale(0.4100 0.4715)" font-size="10" text-anchor="middle" fill="#151515" stroke="#151515" stroke-width="0.255">59</text>
<text transform="translate(99.44 576.1) scale(0.4100 0.4715)" font-size="10" text-anchor="middle" fill="#151515" stroke="#151515" stroke-width="0.255">84</text>
<text transform="translate(110.96 571) scale(0.4100 0.4715)" font-size="10" text-anchor="middle" fill="#151515" stroke="#151515" stroke-width="0.255">36</text>
<text transform="translate(110.96 576.1) scale(0.4100 0.4715)" font-size="10" text-anchor="middle" fill="#151515" stroke="#151515" stroke-width="0.255">57</text>
<text transform="translate(122.48 571) scale(0.4100 0.4715)" font-size="10" text-anchor="middle" fill="#151515" stroke="#151515" stroke-width="0.255">25</text>
<text transform="translate(122.48 576.1) scale(0.4100 0.4715)" font-size="10" text-anchor="middle" fill="#151515" stroke="#151515" stroke-width="0.255">41</text>
<text transform="translate(134 571) scale(0.4100 0.4715)" font-size="10" text-anchor="middle" fill="#151515" stroke="#151515" stroke-width="0.255">16</text>
<text transform="translate(134 576.1) scale(0.4100 0.4715)" font-size="10" text-anchor="middle" fill="#151515" stroke="#151515" stroke-width="0.255">27</text>
<text transform="translate(145.52 571) scale(0.4100 0.4715)" font-size="10" text-anchor="middle" fill="#151515" stroke="#151515" stroke-width="0.255">9</text>
<text transform="translate(145.52 576.1) scale(0.4100 0.4715)" font-size="10" text-anchor="middle" fill="#151515" stroke="#151515" stroke-width="0.255">20</text>
<text transform="translate(157.04 571) scale(0.4100 0.4715)" font-size="10" text-anchor="middle" fill="#151515" stroke="#151515" stroke-width="0.255">2</text>
<text transform="translate(157.04 576.1) scale(0.4100 0.4715)" font-size="10" text-anchor="middle" fill="#151515" stroke="#151515" stroke-width="0.255">7</text>
<text transform="translate(168.56 571) scale(0.4100 0.4715)" font-size="10" text-anchor="middle" fill="#151515" stroke="#151515" stroke-width="0.255">2</text>
<text transform="translate(168.56 576.1) scale(0.4100 0.4715)" font-size="10" text-anchor="middle" fill="#151515" stroke="#151515" stroke-width="0.255">4</text>
<text transform="translate(180.08 571) scale(0.4100 0.4715)" font-size="10" text-anchor="middle" fill="#151515" stroke="#151515" stroke-width="0.255">1</text>
<text transform="translate(180.08 576.1) scale(0.4100 0.4715)" font-size="10" text-anchor="middle" fill="#151515" stroke="#151515" stroke-width="0.255">3</text>
<text transform="translate(191.6 571) scale(0.4100 0.4715)" font-size="10" text-anchor="middle" fill="#151515" stroke="#151515" stroke-width="0.255">1</text>
<text transform="translate(191.6 576.1) scale(0.4100 0.4715)" font-size="10" text-anchor="middle" fill="#151515" stroke="#151515" stroke-width="0.255">0</text>
<text transform="translate(213.5 455.3)" font-size="14.8" text-anchor="start" fill="#111">H</text>
<text transform="translate(272.4 466.9) scale(0.3100 0.4030)" font-size="10" text-anchor="start" fill="#151515" stroke="#151515" stroke-width="0.298">SLC25A19</text>
<line x1="289.6" y1="465.5" x2="293.6" y2="465.5" stroke="#f5775a" stroke-width="0.8"/>
<text transform="translate(295.4 466.9) scale(0.3100 0.4030)" font-size="10" text-anchor="start" fill="#151515" stroke="#151515" stroke-width="0.298">High</text>
<line x1="304.2" y1="465.5" x2="308.2" y2="465.5" stroke="#5bc6df" stroke-width="0.8"/>
<text transform="translate(310.3 466.9) scale(0.3100 0.4030)" font-size="10" text-anchor="start" fill="#151515" stroke="#151515" stroke-width="0.298">Low</text>
<line x1="230.9" y1="474.7" x2="230.9" y2="544.7" stroke="#2a2a2a" stroke-width="0.7"/>
<line x1="230.55" y1="544.35" x2="357.5" y2="544.35" stroke="#2a2a2a" stroke-width="0.7"/>
<line x1="229.4" y1="477.4" x2="230.9" y2="477.4" stroke="#2a2a2a" stroke-width="0.5"/>
<text transform="translate(228.9 478.7) scale(0.3600 0.3960)" font-size="10" text-anchor="end" fill="#151515" stroke="#151515" stroke-width="0.303">1.00</text>
<line x1="229.4" y1="493.37" x2="230.9" y2="493.37" stroke="#2a2a2a" stroke-width="0.5"/>
<text transform="translate(228.9 494.67) scale(0.3600 0.3960)" font-size="10" text-anchor="end" fill="#151515" stroke="#151515" stroke-width="0.303">0.75</text>
<line x1="229.4" y1="509.35" x2="230.9" y2="509.35" stroke="#2a2a2a" stroke-width="0.5"/>
<text transform="translate(228.9 510.65) scale(0.3600 0.3960)" font-size="10" text-anchor="end" fill="#151515" stroke="#151515" stroke-width="0.303">0.50</text>
<line x1="229.4" y1="525.32" x2="230.9" y2="525.32" stroke="#2a2a2a" stroke-width="0.5"/>
<text transform="translate(228.9 526.62) scale(0.3600 0.3960)" font-size="10" text-anchor="end" fill="#151515" stroke="#151515" stroke-width="0.303">0.25</text>
<line x1="229.4" y1="541.3" x2="230.9" y2="541.3" stroke="#2a2a2a" stroke-width="0.5"/>
<text transform="translate(228.9 542.6) scale(0.3600 0.3960)" font-size="10" text-anchor="end" fill="#151515" stroke="#151515" stroke-width="0.303">0.00</text>
<line x1="236.9" y1="544.1" x2="236.9" y2="545.6" stroke="#2a2a2a" stroke-width="0.5"/>
<text transform="translate(236.9 548.8) scale(0.3600 0.3960)" font-size="10" text-anchor="middle" fill="#151515" stroke="#151515" stroke-width="0.303">0</text>
<line x1="236.9" y1="577.4" x2="236.9" y2="578.6" stroke="#2a2a2a" stroke-width="0.5"/>
<text transform="translate(236.9 581.7) scale(0.3600 0.3960)" font-size="10" text-anchor="middle" fill="#151515" stroke="#151515" stroke-width="0.303">0</text>
<line x1="248.42" y1="544.1" x2="248.42" y2="545.6" stroke="#2a2a2a" stroke-width="0.5"/>
<text transform="translate(248.42 548.8) scale(0.3600 0.3960)" font-size="10" text-anchor="middle" fill="#151515" stroke="#151515" stroke-width="0.303">1</text>
<line x1="248.42" y1="577.4" x2="248.42" y2="578.6" stroke="#2a2a2a" stroke-width="0.5"/>
<text transform="translate(248.42 581.7) scale(0.3600 0.3960)" font-size="10" text-anchor="middle" fill="#151515" stroke="#151515" stroke-width="0.303">1</text>
<line x1="259.94" y1="544.1" x2="259.94" y2="545.6" stroke="#2a2a2a" stroke-width="0.5"/>
<text transform="translate(259.94 548.8) scale(0.3600 0.3960)" font-size="10" text-anchor="middle" fill="#151515" stroke="#151515" stroke-width="0.303">2</text>
<line x1="259.94" y1="577.4" x2="259.94" y2="578.6" stroke="#2a2a2a" stroke-width="0.5"/>
<text transform="translate(259.94 581.7) scale(0.3600 0.3960)" font-size="10" text-anchor="middle" fill="#151515" stroke="#151515" stroke-width="0.303">2</text>
<line x1="271.46" y1="544.1" x2="271.46" y2="545.6" stroke="#2a2a2a" stroke-width="0.5"/>
<text transform="translate(271.46 548.8) scale(0.3600 0.3960)" font-size="10" text-anchor="middle" fill="#151515" stroke="#151515" stroke-width="0.303">3</text>
<line x1="271.46" y1="577.4" x2="271.46" y2="578.6" stroke="#2a2a2a" stroke-width="0.5"/>
<text transform="translate(271.46 581.7) scale(0.3600 0.3960)" font-size="10" text-anchor="middle" fill="#151515" stroke="#151515" stroke-width="0.303">3</text>
<line x1="282.98" y1="544.1" x2="282.98" y2="545.6" stroke="#2a2a2a" stroke-width="0.5"/>
<text transform="translate(282.98 548.8) scale(0.3600 0.3960)" font-size="10" text-anchor="middle" fill="#151515" stroke="#151515" stroke-width="0.303">4</text>
<line x1="282.98" y1="577.4" x2="282.98" y2="578.6" stroke="#2a2a2a" stroke-width="0.5"/>
<text transform="translate(282.98 581.7) scale(0.3600 0.3960)" font-size="10" text-anchor="middle" fill="#151515" stroke="#151515" stroke-width="0.303">4</text>
<line x1="294.5" y1="544.1" x2="294.5" y2="545.6" stroke="#2a2a2a" stroke-width="0.5"/>
<text transform="translate(294.5 548.8) scale(0.3600 0.3960)" font-size="10" text-anchor="middle" fill="#151515" stroke="#151515" stroke-width="0.303">5</text>
<line x1="294.5" y1="577.4" x2="294.5" y2="578.6" stroke="#2a2a2a" stroke-width="0.5"/>
<text transform="translate(294.5 581.7) scale(0.3600 0.3960)" font-size="10" text-anchor="middle" fill="#151515" stroke="#151515" stroke-width="0.303">5</text>
<line x1="306.02" y1="544.1" x2="306.02" y2="545.6" stroke="#2a2a2a" stroke-width="0.5"/>
<text transform="translate(306.02 548.8) scale(0.3600 0.3960)" font-size="10" text-anchor="middle" fill="#151515" stroke="#151515" stroke-width="0.303">6</text>
<line x1="306.02" y1="577.4" x2="306.02" y2="578.6" stroke="#2a2a2a" stroke-width="0.5"/>
<text transform="translate(306.02 581.7) scale(0.3600 0.3960)" font-size="10" text-anchor="middle" fill="#151515" stroke="#151515" stroke-width="0.303">6</text>
<line x1="317.54" y1="544.1" x2="317.54" y2="545.6" stroke="#2a2a2a" stroke-width="0.5"/>
<text transform="translate(317.54 548.8) scale(0.3600 0.3960)" font-size="10" text-anchor="middle" fill="#151515" stroke="#151515" stroke-width="0.303">7</text>
<line x1="317.54" y1="577.4" x2="317.54" y2="578.6" stroke="#2a2a2a" stroke-width="0.5"/>
<text transform="translate(317.54 581.7) scale(0.3600 0.3960)" font-size="10" text-anchor="middle" fill="#151515" stroke="#151515" stroke-width="0.303">7</text>
<line x1="329.06" y1="544.1" x2="329.06" y2="545.6" stroke="#2a2a2a" stroke-width="0.5"/>
<text transform="translate(329.06 548.8) scale(0.3600 0.3960)" font-size="10" text-anchor="middle" fill="#151515" stroke="#151515" stroke-width="0.303">8</text>
<line x1="329.06" y1="577.4" x2="329.06" y2="578.6" stroke="#2a2a2a" stroke-width="0.5"/>
<text transform="translate(329.06 581.7) scale(0.3600 0.3960)" font-size="10" text-anchor="middle" fill="#151515" stroke="#151515" stroke-width="0.303">8</text>
<line x1="340.58" y1="544.1" x2="340.58" y2="545.6" stroke="#2a2a2a" stroke-width="0.5"/>
<text transform="translate(340.58 548.8) scale(0.3600 0.3960)" font-size="10" text-anchor="middle" fill="#151515" stroke="#151515" stroke-width="0.303">9</text>
<line x1="340.58" y1="577.4" x2="340.58" y2="578.6" stroke="#2a2a2a" stroke-width="0.5"/>
<text transform="translate(340.58 581.7) scale(0.3600 0.3960)" font-size="10" text-anchor="middle" fill="#151515" stroke="#151515" stroke-width="0.303">9</text>
<line x1="352.1" y1="544.1" x2="352.1" y2="545.6" stroke="#2a2a2a" stroke-width="0.5"/>
<text transform="translate(352.1 548.8) scale(0.3600 0.3960)" font-size="10" text-anchor="middle" fill="#151515" stroke="#151515" stroke-width="0.303">10</text>
<line x1="352.1" y1="577.4" x2="352.1" y2="578.6" stroke="#2a2a2a" stroke-width="0.5"/>
<text transform="translate(352.1 581.7) scale(0.3600 0.3960)" font-size="10" text-anchor="middle" fill="#151515" stroke="#151515" stroke-width="0.303">10</text>
<text transform="translate(294.4 554) scale(0.4300 0.4945)" font-size="10" text-anchor="middle" fill="#151515" stroke="#151515" stroke-width="0.243">Time (years)</text>
<text transform="translate(294.4 587.8) scale(0.4300 0.4945)" font-size="10" text-anchor="middle" fill="#151515" stroke="#151515" stroke-width="0.243">Time (years)</text>
<text transform="translate(220.3 510) rotate(-90) scale(0.4300 0.4945)" font-size="10" text-anchor="middle" fill="#151515" stroke="#151515" stroke-width="0.243">Disease specific survival</text>
<text transform="translate(239.1 530.8) scale(0.5300 0.5936)" font-size="10" text-anchor="start" fill="#151515" stroke="#151515" stroke-width="0.202">p&lt;0.001</text>
<path d="M236.9 477.4 L237.62 477.4 L237.62 477.43 L238.33 477.43 L238.33 477.52 L239.19 477.52 L239.19 477.57 L240.24 477.57 L240.24 477.67 L240.67 477.67 L240.67 477.79 L241.6 477.79 L241.6 477.8 L242.86 477.8 L242.86 477.81 L243.41 477.81 L243.41 478.01 L244.1 478.01 L244.1 478.04 L244.62 478.04 L244.91 478.04 L244.91 478.43 L246.24 478.43 L246.24 478.99 L246.57 478.99 L246.57 479.38 L247.8 479.38 L247.8 480 L248.59 480 L248.59 480.14 L249.31 480.14 L249.31 480.62 L250.09 480.62 L250.09 480.79 L250.49 480.79 L250.98 480.79 L250.98 481.13 L251.62 481.13 L251.62 481.59 L252.86 481.59 L252.86 481.81 L253.49 481.81 L253.49 481.84 L254.09 481.84 L254.09 482.19 L255.31 482.19 L255.31 482.63 L256.11 482.63 L256.11 483.01 L256.76 483.01 L256.76 483.17 L257.2 483.17 L257.2 483.42 L257.99 483.42 L257.99 483.46 L259.03 483.46 L259.03 483.79 L259.36 483.79 L259.84 483.79 L259.84 483.86 L260.76 483.86 L260.76 484.01 L261.77 484.01 L261.77 484.04 L262.44 484.04 L262.44 484.05 L263.59 484.05 L263.59 484.33 L264.44 484.33 L264.44 484.38 L264.92 484.38 L264.92 484.72 L265.87 484.72 L265.87 485.01 L266.78 485.01 L266.78 485.08 L267.4 485.08 L267.4 485.17 L268.29 485.17 L268.29 485.28 L269.39 485.28 L269.39 485.44 L270.03 485.44 L270.03 485.58 L271.04 485.58 L271.04 485.71 L271.23 485.71 L272 485.71 L272 485.92 L272.41 485.92 L272.41 486.22 L273.63 486.22 L273.63 487.21 L274.05 487.21 L274.05 487.29 L275.26 487.29 L275.26 487.87 L276.12 487.87 L276.12 488.77 L276.57 488.77 L276.57 489 L277.42 489 L277.42 489.15 L278.26 489.15 L278.26 490.22 L279.39 490.22 L279.39 490.39 L280.23 490.39 L280.23 490.52 L280.98 490.52 L280.98 490.89 L281.97 490.89 L281.97 491.71 L282.06 491.71 L282.61 491.71 L282.61 492.12 L283.66 492.12 L283.66 492.64 L284.49 492.64 L284.49 492.75 L285.51 492.75 L285.51 493.23 L285.99 493.23 L285.99 493.68 L286.73 493.68 L286.73 493.73 L287.8 493.73 L287.8 494.03 L288.92 494.03 L288.92 494.41 L289.57 494.41 L289.57 494.65 L289.89 494.65 L290.32 494.65 L290.32 497.41 L290.76 497.41 L290.76 498.49 L290.93 498.49 L302.68 498.49 L302.9 498.49 L302.9 498.89 L303.38 498.89 L303.38 500.4 L303.72 500.4 L314.54 500.4 L314.75 500.4 L314.75 500.73 L315.48 500.73 L315.48 503.6 L315.58 503.6 L315.79 503.6 L315.79 507.09 L316.46 507.09 L316.46 511.27 L316.5 511.27 L334.24 511.27 L334.65 511.27 L334.65 512.54 L335.05 512.54 L335.05 519.25 L335.28 519.25 L335.65 519.25 L335.65 519.24 L336.7 519.24 L336.7 519.23 L337.37 519.23 L337.37 519.21 L338.34 519.21 L338.34 519.21 L339.04 519.21 L339.04 519.17 L340.03 519.17 L340.03 519.11 L340.57 519.11 L340.57 519.09 L341.48 519.09 L341.48 519.09 L342.71 519.09 L342.71 519.08 L343.22 519.08 L343.22 519.06 L343.98 519.06 L343.98 519.02 L344.85 519.02 L344.85 518.95 L346.05 518.95 L346.05 518.93 L346.11 518.93" fill="none" stroke="#5bc6df" stroke-width="0.95"/>
<line x1="243.65" y1="476.71" x2="243.65" y2="479.31" stroke="#5bc6df" stroke-width="0.7"/>
<line x1="246.57" y1="477.69" x2="246.57" y2="480.29" stroke="#5bc6df" stroke-width="0.7"/>
<line x1="247.09" y1="478.08" x2="247.09" y2="480.68" stroke="#5bc6df" stroke-width="0.7"/>
<line x1="249.09" y1="478.84" x2="249.09" y2="481.44" stroke="#5bc6df" stroke-width="0.7"/>
<line x1="251.24" y1="479.83" x2="251.24" y2="482.43" stroke="#5bc6df" stroke-width="0.7"/>
<line x1="253.85" y1="480.54" x2="253.85" y2="483.14" stroke="#5bc6df" stroke-width="0.7"/>
<line x1="258.26" y1="482.16" x2="258.26" y2="484.76" stroke="#5bc6df" stroke-width="0.7"/>
<line x1="259.35" y1="482.49" x2="259.35" y2="485.09" stroke="#5bc6df" stroke-width="0.7"/>
<line x1="261.32" y1="482.71" x2="261.32" y2="485.31" stroke="#5bc6df" stroke-width="0.7"/>
<line x1="262.45" y1="482.74" x2="262.45" y2="485.34" stroke="#5bc6df" stroke-width="0.7"/>
<line x1="264.09" y1="483.03" x2="264.09" y2="485.63" stroke="#5bc6df" stroke-width="0.7"/>
<line x1="265.44" y1="483.42" x2="265.44" y2="486.02" stroke="#5bc6df" stroke-width="0.7"/>
<line x1="267.66" y1="483.87" x2="267.66" y2="486.47" stroke="#5bc6df" stroke-width="0.7"/>
<line x1="270.43" y1="484.28" x2="270.43" y2="486.88" stroke="#5bc6df" stroke-width="0.7"/>
<line x1="271.55" y1="484.41" x2="271.55" y2="487.01" stroke="#5bc6df" stroke-width="0.7"/>
<line x1="272.39" y1="484.62" x2="272.39" y2="487.22" stroke="#5bc6df" stroke-width="0.7"/>
<line x1="273.03" y1="484.92" x2="273.03" y2="487.52" stroke="#5bc6df" stroke-width="0.7"/>
<line x1="274.16" y1="485.91" x2="274.16" y2="488.51" stroke="#5bc6df" stroke-width="0.7"/>
<line x1="275.74" y1="486.57" x2="275.74" y2="489.17" stroke="#5bc6df" stroke-width="0.7"/>
<line x1="276.93" y1="487.7" x2="276.93" y2="490.3" stroke="#5bc6df" stroke-width="0.7"/>
<line x1="278.55" y1="488.92" x2="278.55" y2="491.52" stroke="#5bc6df" stroke-width="0.7"/>
<line x1="280.66" y1="489.22" x2="280.66" y2="491.82" stroke="#5bc6df" stroke-width="0.7"/>
<line x1="281.64" y1="489.59" x2="281.64" y2="492.19" stroke="#5bc6df" stroke-width="0.7"/>
<line x1="282.63" y1="490.41" x2="282.63" y2="493.01" stroke="#5bc6df" stroke-width="0.7"/>
<line x1="283" y1="490.82" x2="283" y2="493.42" stroke="#5bc6df" stroke-width="0.7"/>
<line x1="284.16" y1="491.34" x2="284.16" y2="493.94" stroke="#5bc6df" stroke-width="0.7"/>
<line x1="288.37" y1="492.73" x2="288.37" y2="495.33" stroke="#5bc6df" stroke-width="0.7"/>
<line x1="289.45" y1="493.11" x2="289.45" y2="495.71" stroke="#5bc6df" stroke-width="0.7"/>
<line x1="290.24" y1="493.35" x2="290.24" y2="495.95" stroke="#5bc6df" stroke-width="0.7"/>
<line x1="295.76" y1="497.19" x2="295.76" y2="499.79" stroke="#5bc6df" stroke-width="0.7"/>
<line x1="303.5" y1="497.59" x2="303.5" y2="500.19" stroke="#5bc6df" stroke-width="0.7"/>
<line x1="311.23" y1="499.1" x2="311.23" y2="501.7" stroke="#5bc6df" stroke-width="0.7"/>
<line x1="315.11" y1="499.43" x2="315.11" y2="502.03" stroke="#5bc6df" stroke-width="0.7"/>
<line x1="316.05" y1="505.79" x2="316.05" y2="508.39" stroke="#5bc6df" stroke-width="0.7"/>
<line x1="316.72" y1="509.97" x2="316.72" y2="512.57" stroke="#5bc6df" stroke-width="0.7"/>
<line x1="323.46" y1="509.97" x2="323.46" y2="512.57" stroke="#5bc6df" stroke-width="0.7"/>
<line x1="331.7" y1="509.97" x2="331.7" y2="512.57" stroke="#5bc6df" stroke-width="0.7"/>
<line x1="335.04" y1="511.24" x2="335.04" y2="513.84" stroke="#5bc6df" stroke-width="0.7"/>
<line x1="337.15" y1="517.93" x2="337.15" y2="520.53" stroke="#5bc6df" stroke-width="0.7"/>
<line x1="337.92" y1="517.91" x2="337.92" y2="520.51" stroke="#5bc6df" stroke-width="0.7"/>
<line x1="338.82" y1="517.91" x2="338.82" y2="520.51" stroke="#5bc6df" stroke-width="0.7"/>
<line x1="339.47" y1="517.87" x2="339.47" y2="520.47" stroke="#5bc6df" stroke-width="0.7"/>
<line x1="341.21" y1="517.79" x2="341.21" y2="520.39" stroke="#5bc6df" stroke-width="0.7"/>
<line x1="341.93" y1="517.79" x2="341.93" y2="520.39" stroke="#5bc6df" stroke-width="0.7"/>
<path d="M236.9 477.4 L237.62 477.4 L237.62 477.47 L238.45 477.47 L238.45 477.51 L239.34 477.51 L239.34 477.64 L239.83 477.64 L239.83 477.69 L240.71 477.69 L240.71 477.73 L241.67 477.73 L241.67 477.87 L242.39 477.87 L242.39 478.45 L243.71 478.45 L243.71 478.9 L244.22 478.9 L244.22 479.32 L244.62 479.32 L244.96 479.32 L244.96 480.39 L246.23 480.39 L246.23 483.99 L247.21 483.99 L247.21 484.75 L247.61 484.75 L248.45 484.75 L248.45 485.86 L249.17 485.86 L249.17 486.31 L249.92 486.31 L249.92 486.63 L250.95 486.63 L250.95 487.22 L251.55 487.22 L251.55 487.56 L252.35 487.56 L252.35 487.67 L253.11 487.67 L253.11 487.88 L254.39 487.88 L254.39 488.9 L254.53 488.9 L255.46 488.9 L255.46 491.68 L255.85 491.68 L255.85 492.36 L256.93 492.36 L256.93 493.4 L258.38 493.4 L258.38 493.92 L258.84 493.92 L258.84 495.61 L259.36 495.61 L260.04 495.61 L260.04 497.13 L260.66 497.13 L260.66 499.63 L262.27 499.63 L262.27 500.1 L263.03 500.1 L263.03 500.4 L263.28 500.4 L263.52 500.4 L263.52 501.24 L264.46 501.24 L264.46 501.43 L265.43 501.43 L265.43 501.51 L266.49 501.51 L266.49 501.55 L266.81 501.55 L266.81 501.59 L267.84 501.59 L267.84 501.66 L268.79 501.66 L268.79 502.08 L269.24 502.08 L269.24 502.14 L270.01 502.14 L270.01 502.18 L270.79 502.18 L270.79 502.42 L271.78 502.42 L271.78 502.51 L272.15 502.51 L272.67 502.51 L272.67 502.71 L273.41 502.71 L273.41 502.8 L274.08 502.8 L274.08 502.82 L274.9 502.82 L274.9 502.85 L276.25 502.85 L276.25 503.11 L277.03 503.11 L277.03 503.39 L277.54 503.39 L277.54 503.68 L278.39 503.68 L278.39 503.74 L279.15 503.74 L279.15 503.89 L280.28 503.89 L280.28 504.11 L281.23 504.11 L281.23 504.26 L281.99 504.26 L281.99 504.49 L282.06 504.49 L282.54 504.49 L282.54 504.61 L283.22 504.61 L283.22 504.76 L284.48 504.76 L284.48 504.83 L285.09 504.83 L285.09 504.98 L285.74 504.98 L285.74 505 L286.83 505 L286.83 505.09 L287.71 505.09 L287.71 505.12 L288.16 505.12 L288.16 505.27 L289.19 505.27 L289.19 505.39 L290.09 505.39 L290.09 505.44 L290.77 505.44 L290.77 505.5 L291.94 505.5 L291.94 505.51 L292.64 505.51 L292.64 505.52 L292.89 505.52 L293.75 505.52 L293.75 505.85 L294.61 505.85 L294.61 509.35 L294.85 509.35 L353.25 509.35" fill="none" stroke="#f5775a" stroke-width="0.95"/>
<line x1="238.73" y1="476.21" x2="238.73" y2="478.81" stroke="#f5775a" stroke-width="0.7"/>
<line x1="241.08" y1="476.43" x2="241.08" y2="479.03" stroke="#f5775a" stroke-width="0.7"/>
<line x1="246.88" y1="482.69" x2="246.88" y2="485.29" stroke="#f5775a" stroke-width="0.7"/>
<line x1="248.97" y1="484.56" x2="248.97" y2="487.16" stroke="#f5775a" stroke-width="0.7"/>
<line x1="250.61" y1="485.33" x2="250.61" y2="487.93" stroke="#f5775a" stroke-width="0.7"/>
<line x1="251.28" y1="485.92" x2="251.28" y2="488.52" stroke="#f5775a" stroke-width="0.7"/>
<line x1="251.95" y1="486.26" x2="251.95" y2="488.86" stroke="#f5775a" stroke-width="0.7"/>
<line x1="252.83" y1="486.37" x2="252.83" y2="488.97" stroke="#f5775a" stroke-width="0.7"/>
<line x1="253.37" y1="486.58" x2="253.37" y2="489.18" stroke="#f5775a" stroke-width="0.7"/>
<line x1="259.06" y1="492.62" x2="259.06" y2="495.22" stroke="#f5775a" stroke-width="0.7"/>
<line x1="259.5" y1="494.31" x2="259.5" y2="496.91" stroke="#f5775a" stroke-width="0.7"/>
<line x1="260.45" y1="495.83" x2="260.45" y2="498.43" stroke="#f5775a" stroke-width="0.7"/>
<line x1="260.9" y1="498.33" x2="260.9" y2="500.93" stroke="#f5775a" stroke-width="0.7"/>
<line x1="262.86" y1="498.8" x2="262.86" y2="501.4" stroke="#f5775a" stroke-width="0.7"/>
<line x1="263.31" y1="499.1" x2="263.31" y2="501.7" stroke="#f5775a" stroke-width="0.7"/>
<line x1="264" y1="499.94" x2="264" y2="502.54" stroke="#f5775a" stroke-width="0.7"/>
<line x1="265.14" y1="500.13" x2="265.14" y2="502.73" stroke="#f5775a" stroke-width="0.7"/>
<line x1="265.85" y1="500.21" x2="265.85" y2="502.81" stroke="#f5775a" stroke-width="0.7"/>
<line x1="266.83" y1="500.25" x2="266.83" y2="502.85" stroke="#f5775a" stroke-width="0.7"/>
<line x1="268.19" y1="500.36" x2="268.19" y2="502.96" stroke="#f5775a" stroke-width="0.7"/>
<line x1="269.13" y1="500.78" x2="269.13" y2="503.38" stroke="#f5775a" stroke-width="0.7"/>
<line x1="269.5" y1="500.84" x2="269.5" y2="503.44" stroke="#f5775a" stroke-width="0.7"/>
<line x1="271.43" y1="501.12" x2="271.43" y2="503.72" stroke="#f5775a" stroke-width="0.7"/>
<line x1="274.06" y1="501.5" x2="274.06" y2="504.1" stroke="#f5775a" stroke-width="0.7"/>
<line x1="274.75" y1="501.52" x2="274.75" y2="504.12" stroke="#f5775a" stroke-width="0.7"/>
<line x1="277.85" y1="502.38" x2="277.85" y2="504.98" stroke="#f5775a" stroke-width="0.7"/>
<line x1="280.94" y1="502.81" x2="280.94" y2="505.41" stroke="#f5775a" stroke-width="0.7"/>
<line x1="285.06" y1="503.53" x2="285.06" y2="506.13" stroke="#f5775a" stroke-width="0.7"/>
<line x1="285.7" y1="503.68" x2="285.7" y2="506.28" stroke="#f5775a" stroke-width="0.7"/>
<line x1="286.22" y1="503.7" x2="286.22" y2="506.3" stroke="#f5775a" stroke-width="0.7"/>
<line x1="288.16" y1="503.82" x2="288.16" y2="506.42" stroke="#f5775a" stroke-width="0.7"/>
<line x1="288.44" y1="503.97" x2="288.44" y2="506.57" stroke="#f5775a" stroke-width="0.7"/>
<line x1="290.72" y1="504.14" x2="290.72" y2="506.74" stroke="#f5775a" stroke-width="0.7"/>
<line x1="291.4" y1="504.2" x2="291.4" y2="506.8" stroke="#f5775a" stroke-width="0.7"/>
<line x1="292.56" y1="504.21" x2="292.56" y2="506.81" stroke="#f5775a" stroke-width="0.7"/>
<line x1="294.2" y1="504.55" x2="294.2" y2="507.15" stroke="#f5775a" stroke-width="0.7"/>
<line x1="301.04" y1="508.05" x2="301.04" y2="510.65" stroke="#f5775a" stroke-width="0.7"/>
<line x1="308.42" y1="508.05" x2="308.42" y2="510.65" stroke="#f5775a" stroke-width="0.7"/>
<line x1="313.23" y1="508.05" x2="313.23" y2="510.65" stroke="#f5775a" stroke-width="0.7"/>
<line x1="323.11" y1="508.05" x2="323.11" y2="510.65" stroke="#f5775a" stroke-width="0.7"/>
<line x1="332.62" y1="508.05" x2="332.62" y2="510.65" stroke="#f5775a" stroke-width="0.7"/>
<line x1="340.67" y1="508.05" x2="340.67" y2="510.65" stroke="#f5775a" stroke-width="0.7"/>
<line x1="350.16" y1="508.05" x2="350.16" y2="510.65" stroke="#f5775a" stroke-width="0.7"/>
<text transform="translate(219 571.2) rotate(-90) scale(0.4500 0.4275)" font-size="10" text-anchor="middle" fill="#151515" stroke="#151515" stroke-width="0.281">SLC25A19</text>
<text transform="translate(228.7 570.8) scale(0.3300 0.3960)" font-size="10" text-anchor="end" fill="#f5775a" stroke="#f5775a" stroke-width="0.303">High</text>
<text transform="translate(228.7 575.6) scale(0.3300 0.3960)" font-size="10" text-anchor="end" fill="#5bc6df" stroke="#5bc6df" stroke-width="0.303">Low</text>
<line x1="230.9" y1="566" x2="230.9" y2="577.6" stroke="#2a2a2a" stroke-width="0.6"/>
<line x1="230.6" y1="577.4" x2="357.1" y2="577.4" stroke="#2a2a2a" stroke-width="0.6"/>
<text transform="translate(236.9 571) scale(0.4100 0.4715)" font-size="10" text-anchor="middle" fill="#151515" stroke="#151515" stroke-width="0.255">182</text>
<text transform="translate(236.9 576.1) scale(0.4100 0.4715)" font-size="10" text-anchor="middle" fill="#151515" stroke="#151515" stroke-width="0.255">182</text>
<text transform="translate(248.42 571) scale(0.4100 0.4715)" font-size="10" text-anchor="middle" fill="#151515" stroke="#151515" stroke-width="0.255">116</text>
<text transform="translate(248.42 576.1) scale(0.4100 0.4715)" font-size="10" text-anchor="middle" fill="#151515" stroke="#151515" stroke-width="0.255">144</text>
<text transform="translate(259.94 571) scale(0.4100 0.4715)" font-size="10" text-anchor="middle" fill="#151515" stroke="#151515" stroke-width="0.255">57</text>
<text transform="translate(259.94 576.1) scale(0.4100 0.4715)" font-size="10" text-anchor="middle" fill="#151515" stroke="#151515" stroke-width="0.255">83</text>
<text transform="translate(271.46 571) scale(0.4100 0.4715)" font-size="10" text-anchor="middle" fill="#151515" stroke="#151515" stroke-width="0.255">34</text>
<text transform="translate(271.46 576.1) scale(0.4100 0.4715)" font-size="10" text-anchor="middle" fill="#151515" stroke="#151515" stroke-width="0.255">50</text>
<text transform="translate(282.98 571) scale(0.4100 0.4715)" font-size="10" text-anchor="middle" fill="#151515" stroke="#151515" stroke-width="0.255">23</text>
<text transform="translate(282.98 576.1) scale(0.4100 0.4715)" font-size="10" text-anchor="middle" fill="#151515" stroke="#151515" stroke-width="0.255">42</text>
<text transform="translate(294.5 571) scale(0.4100 0.4715)" font-size="10" text-anchor="middle" fill="#151515" stroke="#151515" stroke-width="0.255">14</text>
<text transform="translate(294.5 576.1) scale(0.4100 0.4715)" font-size="10" text-anchor="middle" fill="#151515" stroke="#151515" stroke-width="0.255">20</text>
<text transform="translate(306.02 571) scale(0.4100 0.4715)" font-size="10" text-anchor="middle" fill="#151515" stroke="#151515" stroke-width="0.255">8</text>
<text transform="translate(306.02 576.1) scale(0.4100 0.4715)" font-size="10" text-anchor="middle" fill="#151515" stroke="#151515" stroke-width="0.255">20</text>
<text transform="translate(317.54 571) scale(0.4100 0.4715)" font-size="10" text-anchor="middle" fill="#151515" stroke="#151515" stroke-width="0.255">2</text>
<text transform="translate(317.54 576.1) scale(0.4100 0.4715)" font-size="10" text-anchor="middle" fill="#151515" stroke="#151515" stroke-width="0.255">7</text>
<text transform="translate(329.06 571) scale(0.4100 0.4715)" font-size="10" text-anchor="middle" fill="#151515" stroke="#151515" stroke-width="0.255">2</text>
<text transform="translate(329.06 576.1) scale(0.4100 0.4715)" font-size="10" text-anchor="middle" fill="#151515" stroke="#151515" stroke-width="0.255">4</text>
<text transform="translate(340.58 571) scale(0.4100 0.4715)" font-size="10" text-anchor="middle" fill="#151515" stroke="#151515" stroke-width="0.255">1</text>
<text transform="translate(340.58 576.1) scale(0.4100 0.4715)" font-size="10" text-anchor="middle" fill="#151515" stroke="#151515" stroke-width="0.255">3</text>
<text transform="translate(352.1 571) scale(0.4100 0.4715)" font-size="10" text-anchor="middle" fill="#151515" stroke="#151515" stroke-width="0.255">1</text>
<text transform="translate(352.1 576.1) scale(0.4100 0.4715)" font-size="10" text-anchor="middle" fill="#151515" stroke="#151515" stroke-width="0.255">0</text>
<text transform="translate(374.2 455.3)" font-size="14.8" text-anchor="start" fill="#111">I</text>
<text transform="translate(432.7 466.9) scale(0.3100 0.4030)" font-size="10" text-anchor="start" fill="#151515" stroke="#151515" stroke-width="0.298">SLC25A19</text>
<line x1="449.9" y1="465.5" x2="453.9" y2="465.5" stroke="#f5775a" stroke-width="0.8"/>
<text transform="translate(455.7 466.9) scale(0.3100 0.4030)" font-size="10" text-anchor="start" fill="#151515" stroke="#151515" stroke-width="0.298">High</text>
<line x1="464.5" y1="465.5" x2="468.5" y2="465.5" stroke="#5bc6df" stroke-width="0.8"/>
<text transform="translate(470.6 466.9) scale(0.3100 0.4030)" font-size="10" text-anchor="start" fill="#151515" stroke="#151515" stroke-width="0.298">Low</text>
<line x1="391.2" y1="474.7" x2="391.2" y2="544.7" stroke="#2a2a2a" stroke-width="0.7"/>
<line x1="390.85" y1="544.35" x2="517.8" y2="544.35" stroke="#2a2a2a" stroke-width="0.7"/>
<line x1="389.7" y1="477.4" x2="391.2" y2="477.4" stroke="#2a2a2a" stroke-width="0.5"/>
<text transform="translate(389.2 478.7) scale(0.3600 0.3960)" font-size="10" text-anchor="end" fill="#151515" stroke="#151515" stroke-width="0.303">1.00</text>
<line x1="389.7" y1="493.37" x2="391.2" y2="493.37" stroke="#2a2a2a" stroke-width="0.5"/>
<text transform="translate(389.2 494.67) scale(0.3600 0.3960)" font-size="10" text-anchor="end" fill="#151515" stroke="#151515" stroke-width="0.303">0.75</text>
<line x1="389.7" y1="509.35" x2="391.2" y2="509.35" stroke="#2a2a2a" stroke-width="0.5"/>
<text transform="translate(389.2 510.65) scale(0.3600 0.3960)" font-size="10" text-anchor="end" fill="#151515" stroke="#151515" stroke-width="0.303">0.50</text>
<line x1="389.7" y1="525.32" x2="391.2" y2="525.32" stroke="#2a2a2a" stroke-width="0.5"/>
<text transform="translate(389.2 526.62) scale(0.3600 0.3960)" font-size="10" text-anchor="end" fill="#151515" stroke="#151515" stroke-width="0.303">0.25</text>
<line x1="389.7" y1="541.3" x2="391.2" y2="541.3" stroke="#2a2a2a" stroke-width="0.5"/>
<text transform="translate(389.2 542.6) scale(0.3600 0.3960)" font-size="10" text-anchor="end" fill="#151515" stroke="#151515" stroke-width="0.303">0.00</text>
<line x1="397.2" y1="544.1" x2="397.2" y2="545.6" stroke="#2a2a2a" stroke-width="0.5"/>
<text transform="translate(397.2 548.8) scale(0.3600 0.3960)" font-size="10" text-anchor="middle" fill="#151515" stroke="#151515" stroke-width="0.303">0</text>
<line x1="397.2" y1="577.4" x2="397.2" y2="578.6" stroke="#2a2a2a" stroke-width="0.5"/>
<text transform="translate(397.2 581.7) scale(0.3600 0.3960)" font-size="10" text-anchor="middle" fill="#151515" stroke="#151515" stroke-width="0.303">0</text>
<line x1="408.72" y1="544.1" x2="408.72" y2="545.6" stroke="#2a2a2a" stroke-width="0.5"/>
<text transform="translate(408.72 548.8) scale(0.3600 0.3960)" font-size="10" text-anchor="middle" fill="#151515" stroke="#151515" stroke-width="0.303">1</text>
<line x1="408.72" y1="577.4" x2="408.72" y2="578.6" stroke="#2a2a2a" stroke-width="0.5"/>
<text transform="translate(408.72 581.7) scale(0.3600 0.3960)" font-size="10" text-anchor="middle" fill="#151515" stroke="#151515" stroke-width="0.303">1</text>
<line x1="420.24" y1="544.1" x2="420.24" y2="545.6" stroke="#2a2a2a" stroke-width="0.5"/>
<text transform="translate(420.24 548.8) scale(0.3600 0.3960)" font-size="10" text-anchor="middle" fill="#151515" stroke="#151515" stroke-width="0.303">2</text>
<line x1="420.24" y1="577.4" x2="420.24" y2="578.6" stroke="#2a2a2a" stroke-width="0.5"/>
<text transform="translate(420.24 581.7) scale(0.3600 0.3960)" font-size="10" text-anchor="middle" fill="#151515" stroke="#151515" stroke-width="0.303">2</text>
<line x1="431.76" y1="544.1" x2="431.76" y2="545.6" stroke="#2a2a2a" stroke-width="0.5"/>
<text transform="translate(431.76 548.8) scale(0.3600 0.3960)" font-size="10" text-anchor="middle" fill="#151515" stroke="#151515" stroke-width="0.303">3</text>
<line x1="431.76" y1="577.4" x2="431.76" y2="578.6" stroke="#2a2a2a" stroke-width="0.5"/>
<text transform="translate(431.76 581.7) scale(0.3600 0.3960)" font-size="10" text-anchor="middle" fill="#151515" stroke="#151515" stroke-width="0.303">3</text>
<line x1="443.28" y1="544.1" x2="443.28" y2="545.6" stroke="#2a2a2a" stroke-width="0.5"/>
<text transform="translate(443.28 548.8) scale(0.3600 0.3960)" font-size="10" text-anchor="middle" fill="#151515" stroke="#151515" stroke-width="0.303">4</text>
<line x1="443.28" y1="577.4" x2="443.28" y2="578.6" stroke="#2a2a2a" stroke-width="0.5"/>
<text transform="translate(443.28 581.7) scale(0.3600 0.3960)" font-size="10" text-anchor="middle" fill="#151515" stroke="#151515" stroke-width="0.303">4</text>
<line x1="454.8" y1="544.1" x2="454.8" y2="545.6" stroke="#2a2a2a" stroke-width="0.5"/>
<text transform="translate(454.8 548.8) scale(0.3600 0.3960)" font-size="10" text-anchor="middle" fill="#151515" stroke="#151515" stroke-width="0.303">5</text>
<line x1="454.8" y1="577.4" x2="454.8" y2="578.6" stroke="#2a2a2a" stroke-width="0.5"/>
<text transform="translate(454.8 581.7) scale(0.3600 0.3960)" font-size="10" text-anchor="middle" fill="#151515" stroke="#151515" stroke-width="0.303">5</text>
<line x1="466.32" y1="544.1" x2="466.32" y2="545.6" stroke="#2a2a2a" stroke-width="0.5"/>
<text transform="translate(466.32 548.8) scale(0.3600 0.3960)" font-size="10" text-anchor="middle" fill="#151515" stroke="#151515" stroke-width="0.303">6</text>
<line x1="466.32" y1="577.4" x2="466.32" y2="578.6" stroke="#2a2a2a" stroke-width="0.5"/>
<text transform="translate(466.32 581.7) scale(0.3600 0.3960)" font-size="10" text-anchor="middle" fill="#151515" stroke="#151515" stroke-width="0.303">6</text>
<line x1="477.84" y1="544.1" x2="477.84" y2="545.6" stroke="#2a2a2a" stroke-width="0.5"/>
<text transform="translate(477.84 548.8) scale(0.3600 0.3960)" font-size="10" text-anchor="middle" fill="#151515" stroke="#151515" stroke-width="0.303">7</text>
<line x1="477.84" y1="577.4" x2="477.84" y2="578.6" stroke="#2a2a2a" stroke-width="0.5"/>
<text transform="translate(477.84 581.7) scale(0.3600 0.3960)" font-size="10" text-anchor="middle" fill="#151515" stroke="#151515" stroke-width="0.303">7</text>
<line x1="489.36" y1="544.1" x2="489.36" y2="545.6" stroke="#2a2a2a" stroke-width="0.5"/>
<text transform="translate(489.36 548.8) scale(0.3600 0.3960)" font-size="10" text-anchor="middle" fill="#151515" stroke="#151515" stroke-width="0.303">8</text>
<line x1="489.36" y1="577.4" x2="489.36" y2="578.6" stroke="#2a2a2a" stroke-width="0.5"/>
<text transform="translate(489.36 581.7) scale(0.3600 0.3960)" font-size="10" text-anchor="middle" fill="#151515" stroke="#151515" stroke-width="0.303">8</text>
<line x1="500.88" y1="544.1" x2="500.88" y2="545.6" stroke="#2a2a2a" stroke-width="0.5"/>
<text transform="translate(500.88 548.8) scale(0.3600 0.3960)" font-size="10" text-anchor="middle" fill="#151515" stroke="#151515" stroke-width="0.303">9</text>
<line x1="500.88" y1="577.4" x2="500.88" y2="578.6" stroke="#2a2a2a" stroke-width="0.5"/>
<text transform="translate(500.88 581.7) scale(0.3600 0.3960)" font-size="10" text-anchor="middle" fill="#151515" stroke="#151515" stroke-width="0.303">9</text>
<line x1="512.4" y1="544.1" x2="512.4" y2="545.6" stroke="#2a2a2a" stroke-width="0.5"/>
<text transform="translate(512.4 548.8) scale(0.3600 0.3960)" font-size="10" text-anchor="middle" fill="#151515" stroke="#151515" stroke-width="0.303">10</text>
<line x1="512.4" y1="577.4" x2="512.4" y2="578.6" stroke="#2a2a2a" stroke-width="0.5"/>
<text transform="translate(512.4 581.7) scale(0.3600 0.3960)" font-size="10" text-anchor="middle" fill="#151515" stroke="#151515" stroke-width="0.303">10</text>
<text transform="translate(454.7 554) scale(0.4300 0.4945)" font-size="10" text-anchor="middle" fill="#151515" stroke="#151515" stroke-width="0.243">Time (years)</text>
<text transform="translate(454.7 587.8) scale(0.4300 0.4945)" font-size="10" text-anchor="middle" fill="#151515" stroke="#151515" stroke-width="0.243">Time (years)</text>
<text transform="translate(380.6 510) rotate(-90) scale(0.4300 0.4945)" font-size="10" text-anchor="middle" fill="#151515" stroke="#151515" stroke-width="0.243">Disease Free Survival</text>
<text transform="translate(399.4 530.8) scale(0.5300 0.5936)" font-size="10" text-anchor="start" fill="#151515" stroke="#151515" stroke-width="0.202">p=0.009</text>
<path d="M397.2 477.4 L398.05 477.4 L398.05 480.35 L398.93 480.35 L398.93 483.51 L400.04 483.51 L400.04 484.75 L400.31 484.75 L400.9 484.75 L400.9 485.58 L402.08 485.58 L402.08 490.22 L402.63 490.22 L402.63 494.13 L403.66 494.13 L403.66 495.61 L404.11 495.61 L404.81 495.61 L404.81 496.61 L405.68 496.61 L405.68 496.97 L406.72 496.97 L406.72 501.22 L407.89 501.22 L407.89 505.52 L408.14 505.52 L408.83 505.52 L408.83 506.47 L409.83 506.47 L409.83 506.81 L410.44 506.81 L410.44 507.31 L411.44 507.31 L411.44 507.89 L412.41 507.89 L412.41 508.65 L412.94 508.65 L412.94 509.74 L414.23 509.74 L414.23 509.79 L414.73 509.79 L414.73 509.99 L415.74 509.99 L415.74 510.44 L415.98 510.44 L416.24 510.44 L416.24 510.51 L417.24 510.51 L417.24 510.82 L418.2 510.82 L418.2 511.64 L418.82 511.64 L418.82 511.92 L419.83 511.92 L419.83 513.29 L420.69 513.29 L420.69 513.44 L420.93 513.44 L421.67 513.44 L421.67 513.46 L422.11 513.46 L422.11 513.52 L422.83 513.52 L422.83 513.64 L423.99 513.64 L423.99 513.66 L424.84 513.66 L424.84 513.67 L425.39 513.67 L425.39 513.68 L426.5 513.68 L426.5 513.76 L427.45 513.76 L427.45 513.79 L428.24 513.79 L428.24 513.81 L428.92 513.81 L428.92 513.86 L429.45 513.86 L429.45 514.03 L430.22 514.03 L430.22 514.06 L431.34 514.06 L431.34 514.1 L431.93 514.1 L431.93 514.25 L432.95 514.25 L432.95 514.33 L433.96 514.33 L433.96 514.36 L434.51 514.36 L434.51 514.41 L435.62 514.41 L435.62 514.46 L435.68 514.46 L436.16 514.46 L436.16 514.69 L436.84 514.69 L436.84 515.43 L437.97 515.43 L437.97 515.81 L438.63 515.81 L438.63 516.27 L439.41 516.27 L439.41 516.33 L440.54 516.33 L440.54 516.97 L441.63 516.97 L441.63 517.02 L441.67 517.02 L442.25 517.02 L442.25 517.34 L443.33 517.34 L443.33 517.38 L443.81 517.38 L443.81 517.68 L445.01 517.68 L445.01 517.69 L445.83 517.69 L445.83 517.94 L446.25 517.94 L446.25 517.98 L447.13 517.98 L447.13 518.3 L447.54 518.3 L448.15 518.3 L448.15 521.18 L449.16 521.18 L449.16 521.49 L449.5 521.49 L512.98 521.49" fill="none" stroke="#f5775a" stroke-width="0.95"/>
<line x1="398.58" y1="479.05" x2="398.58" y2="481.65" stroke="#f5775a" stroke-width="0.7"/>
<line x1="403.23" y1="492.83" x2="403.23" y2="495.43" stroke="#f5775a" stroke-width="0.7"/>
<line x1="405.13" y1="495.31" x2="405.13" y2="497.91" stroke="#f5775a" stroke-width="0.7"/>
<line x1="406.35" y1="495.67" x2="406.35" y2="498.27" stroke="#f5775a" stroke-width="0.7"/>
<line x1="407.25" y1="499.92" x2="407.25" y2="502.52" stroke="#f5775a" stroke-width="0.7"/>
<line x1="410.97" y1="506.01" x2="410.97" y2="508.61" stroke="#f5775a" stroke-width="0.7"/>
<line x1="411.89" y1="506.59" x2="411.89" y2="509.19" stroke="#f5775a" stroke-width="0.7"/>
<line x1="413.04" y1="507.35" x2="413.04" y2="509.95" stroke="#f5775a" stroke-width="0.7"/>
<line x1="413.53" y1="508.44" x2="413.53" y2="511.04" stroke="#f5775a" stroke-width="0.7"/>
<line x1="414.87" y1="508.49" x2="414.87" y2="511.09" stroke="#f5775a" stroke-width="0.7"/>
<line x1="415.13" y1="508.69" x2="415.13" y2="511.29" stroke="#f5775a" stroke-width="0.7"/>
<line x1="416.43" y1="509.14" x2="416.43" y2="511.74" stroke="#f5775a" stroke-width="0.7"/>
<line x1="421.27" y1="512.14" x2="421.27" y2="514.74" stroke="#f5775a" stroke-width="0.7"/>
<line x1="422.04" y1="512.16" x2="422.04" y2="514.76" stroke="#f5775a" stroke-width="0.7"/>
<line x1="422.64" y1="512.22" x2="422.64" y2="514.82" stroke="#f5775a" stroke-width="0.7"/>
<line x1="425.3" y1="512.37" x2="425.3" y2="514.97" stroke="#f5775a" stroke-width="0.7"/>
<line x1="426.94" y1="512.46" x2="426.94" y2="515.06" stroke="#f5775a" stroke-width="0.7"/>
<line x1="428.04" y1="512.49" x2="428.04" y2="515.09" stroke="#f5775a" stroke-width="0.7"/>
<line x1="429.77" y1="512.73" x2="429.77" y2="515.33" stroke="#f5775a" stroke-width="0.7"/>
<line x1="433.35" y1="513.03" x2="433.35" y2="515.63" stroke="#f5775a" stroke-width="0.7"/>
<line x1="435.03" y1="513.11" x2="435.03" y2="515.71" stroke="#f5775a" stroke-width="0.7"/>
<line x1="436.15" y1="513.16" x2="436.15" y2="515.76" stroke="#f5775a" stroke-width="0.7"/>
<line x1="439.29" y1="514.97" x2="439.29" y2="517.57" stroke="#f5775a" stroke-width="0.7"/>
<line x1="440" y1="515.03" x2="440" y2="517.63" stroke="#f5775a" stroke-width="0.7"/>
<line x1="441.1" y1="515.67" x2="441.1" y2="518.27" stroke="#f5775a" stroke-width="0.7"/>
<line x1="443.93" y1="516.08" x2="443.93" y2="518.68" stroke="#f5775a" stroke-width="0.7"/>
<line x1="445.41" y1="516.39" x2="445.41" y2="518.99" stroke="#f5775a" stroke-width="0.7"/>
<line x1="447.4" y1="517" x2="447.4" y2="519.6" stroke="#f5775a" stroke-width="0.7"/>
<line x1="449.43" y1="520.19" x2="449.43" y2="522.79" stroke="#f5775a" stroke-width="0.7"/>
<line x1="454.15" y1="520.19" x2="454.15" y2="522.79" stroke="#f5775a" stroke-width="0.7"/>
<line x1="460.55" y1="520.19" x2="460.55" y2="522.79" stroke="#f5775a" stroke-width="0.7"/>
<line x1="472.31" y1="520.19" x2="472.31" y2="522.79" stroke="#f5775a" stroke-width="0.7"/>
<line x1="479.34" y1="520.19" x2="479.34" y2="522.79" stroke="#f5775a" stroke-width="0.7"/>
<line x1="489.12" y1="520.19" x2="489.12" y2="522.79" stroke="#f5775a" stroke-width="0.7"/>
<line x1="497.48" y1="520.19" x2="497.48" y2="522.79" stroke="#f5775a" stroke-width="0.7"/>
<line x1="508.81" y1="520.19" x2="508.81" y2="522.79" stroke="#f5775a" stroke-width="0.7"/>
<path d="M397.2 477.4 L397.55 477.4 L397.55 478.26 L398.6 478.26 L398.6 479.44 L399.63 479.44 L399.63 480.79 L400.31 480.79 L400.62 480.79 L400.62 484.06 L401.95 484.06 L401.95 484.3 L402.84 484.3 L402.84 485.32 L403.71 485.32 L403.71 485.74 L404.53 485.74 L404.53 487.06 L405 487.06 L405 488.5 L406.07 488.5 L406.07 488.69 L407.15 488.69 L407.15 489.05 L407.72 489.05 L407.72 489.54 L408.14 489.54 L408.6 489.54 L408.6 493.85 L409.39 493.85 L409.39 494.56 L410.56 494.56 L410.56 495.47 L411.2 495.47 L411.2 495.87 L412.48 495.87 L412.48 496.23 L412.85 496.23 L412.85 496.5 L414.01 496.5 L414.01 497.22 L415.1 497.22 L415.1 499.32 L415.4 499.32 L415.4 499.57 L415.98 499.57 L416.33 499.57 L416.33 500.57 L417.69 500.57 L417.69 501.58 L418.06 501.58 L418.06 501.77 L419.17 501.77 L419.17 501.96 L420.28 501.96 L420.28 502.31 L420.85 502.31 L420.85 503.02 L422.06 503.02 L422.06 503.09 L422.71 503.09 L422.71 503.75 L423.56 503.75 L423.56 504.49 L423.93 504.49 L424.22 504.49 L424.22 505.05 L425.19 505.05 L425.19 505.55 L426.45 505.55 L426.45 505.66 L427.23 505.66 L427.23 507.59 L427.67 507.59 L427.67 507.71 L428.55 507.71 L428.55 508.34 L429.72 508.34 L429.72 509.98 L430.6 509.98 L430.6 510.12 L431.67 510.12 L431.67 511.39 L431.76 511.39 L432.39 511.39 L432.39 512.25 L433.29 512.25 L433.29 512.64 L433.85 512.64 L433.85 512.9 L434.98 512.9 L434.98 513.05 L435.61 513.05 L435.61 513.1 L436.84 513.1 L436.84 513.21 L437.54 513.21 L437.54 513.79 L438.27 513.79 L438.27 514.5 L439 514.5 L439 514.66 L440.03 514.66 L440.03 515.25 L440.65 515.25 L440.65 515.82 L441.72 515.82 L441.72 516.29 L442.26 516.29 L442.26 516.72 L443.05 516.72 L443.05 517.27 L443.63 517.27 L444.39 517.27 L444.39 517.42 L445.01 517.42 L445.01 517.58 L445.98 517.58 L445.98 517.61 L446.64 517.61 L446.64 517.97 L447.54 517.97 L447.54 518.4 L448.58 518.4 L448.58 518.53 L449.58 518.53 L449.58 518.78 L450.2 518.78 L450.2 519.04 L451.32 519.04 L451.32 519.32 L451.46 519.32 L452.12 519.32 L452.12 519.43 L452.63 519.43 L452.63 519.49 L453.58 519.49 L453.58 519.56 L454.57 519.56 L454.57 519.6 L455.03 519.6 L455.03 519.8 L456.17 519.8 L456.17 519.94 L456.87 519.94 L456.87 520.26 L457.72 520.26 L457.72 520.56 L458.34 520.56 L458.34 520.64 L459.36 520.64 L459.36 521.29 L460.54 521.29 L460.54 521.33 L461.01 521.33 L461.01 521.49 L461.37 521.49 L512.4 521.49" fill="none" stroke="#5bc6df" stroke-width="0.95"/>
<line x1="399.05" y1="478.14" x2="399.05" y2="480.74" stroke="#5bc6df" stroke-width="0.7"/>
<line x1="404.35" y1="484.44" x2="404.35" y2="487.04" stroke="#5bc6df" stroke-width="0.7"/>
<line x1="405.22" y1="485.76" x2="405.22" y2="488.36" stroke="#5bc6df" stroke-width="0.7"/>
<line x1="405.67" y1="487.2" x2="405.67" y2="489.8" stroke="#5bc6df" stroke-width="0.7"/>
<line x1="408.97" y1="492.55" x2="408.97" y2="495.15" stroke="#5bc6df" stroke-width="0.7"/>
<line x1="411.88" y1="494.57" x2="411.88" y2="497.17" stroke="#5bc6df" stroke-width="0.7"/>
<line x1="413.45" y1="495.2" x2="413.45" y2="497.8" stroke="#5bc6df" stroke-width="0.7"/>
<line x1="415.42" y1="498.02" x2="415.42" y2="500.62" stroke="#5bc6df" stroke-width="0.7"/>
<line x1="415.97" y1="498.27" x2="415.97" y2="500.87" stroke="#5bc6df" stroke-width="0.7"/>
<line x1="417" y1="499.27" x2="417" y2="501.87" stroke="#5bc6df" stroke-width="0.7"/>
<line x1="418.2" y1="500.28" x2="418.2" y2="502.88" stroke="#5bc6df" stroke-width="0.7"/>
<line x1="418.72" y1="500.47" x2="418.72" y2="503.07" stroke="#5bc6df" stroke-width="0.7"/>
<line x1="419.55" y1="500.66" x2="419.55" y2="503.26" stroke="#5bc6df" stroke-width="0.7"/>
<line x1="420.58" y1="501.01" x2="420.58" y2="503.61" stroke="#5bc6df" stroke-width="0.7"/>
<line x1="422.75" y1="501.79" x2="422.75" y2="504.39" stroke="#5bc6df" stroke-width="0.7"/>
<line x1="423.05" y1="502.45" x2="423.05" y2="505.05" stroke="#5bc6df" stroke-width="0.7"/>
<line x1="425.62" y1="504.25" x2="425.62" y2="506.85" stroke="#5bc6df" stroke-width="0.7"/>
<line x1="431.01" y1="508.82" x2="431.01" y2="511.42" stroke="#5bc6df" stroke-width="0.7"/>
<line x1="432.36" y1="510.09" x2="432.36" y2="512.69" stroke="#5bc6df" stroke-width="0.7"/>
<line x1="447.84" y1="517.1" x2="447.84" y2="519.7" stroke="#5bc6df" stroke-width="0.7"/>
<line x1="450.65" y1="517.74" x2="450.65" y2="520.34" stroke="#5bc6df" stroke-width="0.7"/>
<line x1="451.61" y1="518.02" x2="451.61" y2="520.62" stroke="#5bc6df" stroke-width="0.7"/>
<line x1="452.41" y1="518.13" x2="452.41" y2="520.73" stroke="#5bc6df" stroke-width="0.7"/>
<line x1="452.88" y1="518.19" x2="452.88" y2="520.79" stroke="#5bc6df" stroke-width="0.7"/>
<line x1="454.06" y1="518.26" x2="454.06" y2="520.86" stroke="#5bc6df" stroke-width="0.7"/>
<line x1="457.16" y1="518.96" x2="457.16" y2="521.56" stroke="#5bc6df" stroke-width="0.7"/>
<line x1="460.01" y1="519.99" x2="460.01" y2="522.59" stroke="#5bc6df" stroke-width="0.7"/>
<line x1="461.03" y1="520.03" x2="461.03" y2="522.63" stroke="#5bc6df" stroke-width="0.7"/>
<line x1="461.53" y1="520.19" x2="461.53" y2="522.79" stroke="#5bc6df" stroke-width="0.7"/>
<line x1="467.62" y1="520.19" x2="467.62" y2="522.79" stroke="#5bc6df" stroke-width="0.7"/>
<line x1="473.49" y1="520.19" x2="473.49" y2="522.79" stroke="#5bc6df" stroke-width="0.7"/>
<line x1="482.28" y1="520.19" x2="482.28" y2="522.79" stroke="#5bc6df" stroke-width="0.7"/>
<line x1="489.74" y1="520.19" x2="489.74" y2="522.79" stroke="#5bc6df" stroke-width="0.7"/>
<line x1="498.58" y1="520.19" x2="498.58" y2="522.79" stroke="#5bc6df" stroke-width="0.7"/>
<line x1="510.56" y1="520.19" x2="510.56" y2="522.79" stroke="#5bc6df" stroke-width="0.7"/>
<text transform="translate(379.3 571.2) rotate(-90) scale(0.4500 0.4275)" font-size="10" text-anchor="middle" fill="#151515" stroke="#151515" stroke-width="0.281">SLC25A19</text>
<text transform="translate(389 570.8) scale(0.3300 0.3960)" font-size="10" text-anchor="end" fill="#f5775a" stroke="#f5775a" stroke-width="0.303">High</text>
<text transform="translate(389 575.6) scale(0.3300 0.3960)" font-size="10" text-anchor="end" fill="#5bc6df" stroke="#5bc6df" stroke-width="0.303">Low</text>
<line x1="391.2" y1="566" x2="391.2" y2="577.6" stroke="#2a2a2a" stroke-width="0.6"/>
<line x1="390.9" y1="577.4" x2="517.4" y2="577.4" stroke="#2a2a2a" stroke-width="0.6"/>
<text transform="translate(397.2 571) scale(0.4100 0.4715)" font-size="10" text-anchor="middle" fill="#151515" stroke="#151515" stroke-width="0.255">159</text>
<text transform="translate(397.2 576.1) scale(0.4100 0.4715)" font-size="10" text-anchor="middle" fill="#151515" stroke="#151515" stroke-width="0.255">159</text>
<text transform="translate(408.72 571) scale(0.4100 0.4715)" font-size="10" text-anchor="middle" fill="#151515" stroke="#151515" stroke-width="0.255">67</text>
<text transform="translate(408.72 576.1) scale(0.4100 0.4715)" font-size="10" text-anchor="middle" fill="#151515" stroke="#151515" stroke-width="0.255">106</text>
<text transform="translate(420.24 571) scale(0.4100 0.4715)" font-size="10" text-anchor="middle" fill="#151515" stroke="#151515" stroke-width="0.255">30</text>
<text transform="translate(420.24 576.1) scale(0.4100 0.4715)" font-size="10" text-anchor="middle" fill="#151515" stroke="#151515" stroke-width="0.255">53</text>
<text transform="translate(431.76 571) scale(0.4100 0.4715)" font-size="10" text-anchor="middle" fill="#151515" stroke="#151515" stroke-width="0.255">21</text>
<text transform="translate(431.76 576.1) scale(0.4100 0.4715)" font-size="10" text-anchor="middle" fill="#151515" stroke="#151515" stroke-width="0.255">30</text>
<text transform="translate(443.28 571) scale(0.4100 0.4715)" font-size="10" text-anchor="middle" fill="#151515" stroke="#151515" stroke-width="0.255">13</text>
<text transform="translate(443.28 576.1) scale(0.4100 0.4715)" font-size="10" text-anchor="middle" fill="#151515" stroke="#151515" stroke-width="0.255">18</text>
<text transform="translate(454.8 571) scale(0.4100 0.4715)" font-size="10" text-anchor="middle" fill="#151515" stroke="#151515" stroke-width="0.255">6</text>
<text transform="translate(454.8 576.1) scale(0.4100 0.4715)" font-size="10" text-anchor="middle" fill="#151515" stroke="#151515" stroke-width="0.255">12</text>
<text transform="translate(466.32 571) scale(0.4100 0.4715)" font-size="10" text-anchor="middle" fill="#151515" stroke="#151515" stroke-width="0.255">3</text>
<text transform="translate(466.32 576.1) scale(0.4100 0.4715)" font-size="10" text-anchor="middle" fill="#151515" stroke="#151515" stroke-width="0.255">6</text>
<text transform="translate(477.84 571) scale(0.4100 0.4715)" font-size="10" text-anchor="middle" fill="#151515" stroke="#151515" stroke-width="0.255">2</text>
<text transform="translate(477.84 576.1) scale(0.4100 0.4715)" font-size="10" text-anchor="middle" fill="#151515" stroke="#151515" stroke-width="0.255">2</text>
<text transform="translate(489.36 571) scale(0.4100 0.4715)" font-size="10" text-anchor="middle" fill="#151515" stroke="#151515" stroke-width="0.255">2</text>
<text transform="translate(489.36 576.1) scale(0.4100 0.4715)" font-size="10" text-anchor="middle" fill="#151515" stroke="#151515" stroke-width="0.255">1</text>
<text transform="translate(500.88 571) scale(0.4100 0.4715)" font-size="10" text-anchor="middle" fill="#151515" stroke="#151515" stroke-width="0.255">1</text>
<text transform="translate(500.88 576.1) scale(0.4100 0.4715)" font-size="10" text-anchor="middle" fill="#151515" stroke="#151515" stroke-width="0.255">1</text>
<text transform="translate(512.4 571) scale(0.4100 0.4715)" font-size="10" text-anchor="middle" fill="#151515" stroke="#151515" stroke-width="0.255">1</text>
<text transform="translate(512.4 576.1) scale(0.4100 0.4715)" font-size="10" text-anchor="middle" fill="#151515" stroke="#151515" stroke-width="0.255">0</text>
<text transform="translate(531.9 455.3)" font-size="14.8" text-anchor="start" fill="#111">J</text>
<text transform="translate(593 466.9) scale(0.3100 0.4030)" font-size="10" text-anchor="start" fill="#151515" stroke="#151515" stroke-width="0.298">SLC25A19</text>
<line x1="610.2" y1="465.5" x2="614.2" y2="465.5" stroke="#f5775a" stroke-width="0.8"/>
<text transform="translate(616 466.9) scale(0.3100 0.4030)" font-size="10" text-anchor="start" fill="#151515" stroke="#151515" stroke-width="0.298">High</text>
<line x1="624.8" y1="465.5" x2="628.8" y2="465.5" stroke="#5bc6df" stroke-width="0.8"/>
<text transform="translate(630.9 466.9) scale(0.3100 0.4030)" font-size="10" text-anchor="start" fill="#151515" stroke="#151515" stroke-width="0.298">Low</text>
<line x1="551.5" y1="474.7" x2="551.5" y2="544.7" stroke="#2a2a2a" stroke-width="0.7"/>
<line x1="551.15" y1="544.35" x2="678.1" y2="544.35" stroke="#2a2a2a" stroke-width="0.7"/>
<line x1="550" y1="477.4" x2="551.5" y2="477.4" stroke="#2a2a2a" stroke-width="0.5"/>
<text transform="translate(549.5 478.7) scale(0.3600 0.3960)" font-size="10" text-anchor="end" fill="#151515" stroke="#151515" stroke-width="0.303">1.00</text>
<line x1="550" y1="493.37" x2="551.5" y2="493.37" stroke="#2a2a2a" stroke-width="0.5"/>
<text transform="translate(549.5 494.67) scale(0.3600 0.3960)" font-size="10" text-anchor="end" fill="#151515" stroke="#151515" stroke-width="0.303">0.75</text>
<line x1="550" y1="509.35" x2="551.5" y2="509.35" stroke="#2a2a2a" stroke-width="0.5"/>
<text transform="translate(549.5 510.65) scale(0.3600 0.3960)" font-size="10" text-anchor="end" fill="#151515" stroke="#151515" stroke-width="0.303">0.50</text>
<line x1="550" y1="525.32" x2="551.5" y2="525.32" stroke="#2a2a2a" stroke-width="0.5"/>
<text transform="translate(549.5 526.62) scale(0.3600 0.3960)" font-size="10" text-anchor="end" fill="#151515" stroke="#151515" stroke-width="0.303">0.25</text>
<line x1="550" y1="541.3" x2="551.5" y2="541.3" stroke="#2a2a2a" stroke-width="0.5"/>
<text transform="translate(549.5 542.6) scale(0.3600 0.3960)" font-size="10" text-anchor="end" fill="#151515" stroke="#151515" stroke-width="0.303">0.00</text>
<line x1="557.5" y1="544.1" x2="557.5" y2="545.6" stroke="#2a2a2a" stroke-width="0.5"/>
<text transform="translate(557.5 548.8) scale(0.3600 0.3960)" font-size="10" text-anchor="middle" fill="#151515" stroke="#151515" stroke-width="0.303">0</text>
<line x1="557.5" y1="577.4" x2="557.5" y2="578.6" stroke="#2a2a2a" stroke-width="0.5"/>
<text transform="translate(557.5 581.7) scale(0.3600 0.3960)" font-size="10" text-anchor="middle" fill="#151515" stroke="#151515" stroke-width="0.303">0</text>
<line x1="569.02" y1="544.1" x2="569.02" y2="545.6" stroke="#2a2a2a" stroke-width="0.5"/>
<text transform="translate(569.02 548.8) scale(0.3600 0.3960)" font-size="10" text-anchor="middle" fill="#151515" stroke="#151515" stroke-width="0.303">1</text>
<line x1="569.02" y1="577.4" x2="569.02" y2="578.6" stroke="#2a2a2a" stroke-width="0.5"/>
<text transform="translate(569.02 581.7) scale(0.3600 0.3960)" font-size="10" text-anchor="middle" fill="#151515" stroke="#151515" stroke-width="0.303">1</text>
<line x1="580.54" y1="544.1" x2="580.54" y2="545.6" stroke="#2a2a2a" stroke-width="0.5"/>
<text transform="translate(580.54 548.8) scale(0.3600 0.3960)" font-size="10" text-anchor="middle" fill="#151515" stroke="#151515" stroke-width="0.303">2</text>
<line x1="580.54" y1="577.4" x2="580.54" y2="578.6" stroke="#2a2a2a" stroke-width="0.5"/>
<text transform="translate(580.54 581.7) scale(0.3600 0.3960)" font-size="10" text-anchor="middle" fill="#151515" stroke="#151515" stroke-width="0.303">2</text>
<line x1="592.06" y1="544.1" x2="592.06" y2="545.6" stroke="#2a2a2a" stroke-width="0.5"/>
<text transform="translate(592.06 548.8) scale(0.3600 0.3960)" font-size="10" text-anchor="middle" fill="#151515" stroke="#151515" stroke-width="0.303">3</text>
<line x1="592.06" y1="577.4" x2="592.06" y2="578.6" stroke="#2a2a2a" stroke-width="0.5"/>
<text transform="translate(592.06 581.7) scale(0.3600 0.3960)" font-size="10" text-anchor="middle" fill="#151515" stroke="#151515" stroke-width="0.303">3</text>
<line x1="603.58" y1="544.1" x2="603.58" y2="545.6" stroke="#2a2a2a" stroke-width="0.5"/>
<text transform="translate(603.58 548.8) scale(0.3600 0.3960)" font-size="10" text-anchor="middle" fill="#151515" stroke="#151515" stroke-width="0.303">4</text>
<line x1="603.58" y1="577.4" x2="603.58" y2="578.6" stroke="#2a2a2a" stroke-width="0.5"/>
<text transform="translate(603.58 581.7) scale(0.3600 0.3960)" font-size="10" text-anchor="middle" fill="#151515" stroke="#151515" stroke-width="0.303">4</text>
<line x1="615.1" y1="544.1" x2="615.1" y2="545.6" stroke="#2a2a2a" stroke-width="0.5"/>
<text transform="translate(615.1 548.8) scale(0.3600 0.3960)" font-size="10" text-anchor="middle" fill="#151515" stroke="#151515" stroke-width="0.303">5</text>
<line x1="615.1" y1="577.4" x2="615.1" y2="578.6" stroke="#2a2a2a" stroke-width="0.5"/>
<text transform="translate(615.1 581.7) scale(0.3600 0.3960)" font-size="10" text-anchor="middle" fill="#151515" stroke="#151515" stroke-width="0.303">5</text>
<line x1="626.62" y1="544.1" x2="626.62" y2="545.6" stroke="#2a2a2a" stroke-width="0.5"/>
<text transform="translate(626.62 548.8) scale(0.3600 0.3960)" font-size="10" text-anchor="middle" fill="#151515" stroke="#151515" stroke-width="0.303">6</text>
<line x1="626.62" y1="577.4" x2="626.62" y2="578.6" stroke="#2a2a2a" stroke-width="0.5"/>
<text transform="translate(626.62 581.7) scale(0.3600 0.3960)" font-size="10" text-anchor="middle" fill="#151515" stroke="#151515" stroke-width="0.303">6</text>
<line x1="638.14" y1="544.1" x2="638.14" y2="545.6" stroke="#2a2a2a" stroke-width="0.5"/>
<text transform="translate(638.14 548.8) scale(0.3600 0.3960)" font-size="10" text-anchor="middle" fill="#151515" stroke="#151515" stroke-width="0.303">7</text>
<line x1="638.14" y1="577.4" x2="638.14" y2="578.6" stroke="#2a2a2a" stroke-width="0.5"/>
<text transform="translate(638.14 581.7) scale(0.3600 0.3960)" font-size="10" text-anchor="middle" fill="#151515" stroke="#151515" stroke-width="0.303">7</text>
<line x1="649.66" y1="544.1" x2="649.66" y2="545.6" stroke="#2a2a2a" stroke-width="0.5"/>
<text transform="translate(649.66 548.8) scale(0.3600 0.3960)" font-size="10" text-anchor="middle" fill="#151515" stroke="#151515" stroke-width="0.303">8</text>
<line x1="649.66" y1="577.4" x2="649.66" y2="578.6" stroke="#2a2a2a" stroke-width="0.5"/>
<text transform="translate(649.66 581.7) scale(0.3600 0.3960)" font-size="10" text-anchor="middle" fill="#151515" stroke="#151515" stroke-width="0.303">8</text>
<line x1="661.18" y1="544.1" x2="661.18" y2="545.6" stroke="#2a2a2a" stroke-width="0.5"/>
<text transform="translate(661.18 548.8) scale(0.3600 0.3960)" font-size="10" text-anchor="middle" fill="#151515" stroke="#151515" stroke-width="0.303">9</text>
<line x1="661.18" y1="577.4" x2="661.18" y2="578.6" stroke="#2a2a2a" stroke-width="0.5"/>
<text transform="translate(661.18 581.7) scale(0.3600 0.3960)" font-size="10" text-anchor="middle" fill="#151515" stroke="#151515" stroke-width="0.303">9</text>
<line x1="672.7" y1="544.1" x2="672.7" y2="545.6" stroke="#2a2a2a" stroke-width="0.5"/>
<text transform="translate(672.7 548.8) scale(0.3600 0.3960)" font-size="10" text-anchor="middle" fill="#151515" stroke="#151515" stroke-width="0.303">10</text>
<line x1="672.7" y1="577.4" x2="672.7" y2="578.6" stroke="#2a2a2a" stroke-width="0.5"/>
<text transform="translate(672.7 581.7) scale(0.3600 0.3960)" font-size="10" text-anchor="middle" fill="#151515" stroke="#151515" stroke-width="0.303">10</text>
<text transform="translate(615 554) scale(0.4300 0.4945)" font-size="10" text-anchor="middle" fill="#151515" stroke="#151515" stroke-width="0.243">Time (years)</text>
<text transform="translate(615 587.8) scale(0.4300 0.4945)" font-size="10" text-anchor="middle" fill="#151515" stroke="#151515" stroke-width="0.243">Time (years)</text>
<text transform="translate(540.9 510) rotate(-90) scale(0.4300 0.4945)" font-size="10" text-anchor="middle" fill="#151515" stroke="#151515" stroke-width="0.243">Progression free survival</text>
<text transform="translate(559.7 530.8) scale(0.5300 0.5936)" font-size="10" text-anchor="start" fill="#151515" stroke="#151515" stroke-width="0.202">p&lt;0.001</text>
<path d="M557.5 477.4 L558.02 477.4 L558.02 478.18 L558.87 478.18 L558.87 478.55 L559.96 478.55 L559.96 480.95 L560.36 480.95 L560.36 481.23 L560.84 481.23 L561.66 481.23 L561.66 482.22 L562.52 482.22 L562.52 484.32 L563.13 484.32 L563.13 485.17 L564.39 485.17 L564.39 485.64 L564.89 485.64 L564.89 487.86 L565.85 487.86 L565.85 487.98 L566.92 487.98 L566.92 489.73 L567.57 489.73 L567.57 490.02 L568.58 490.02 L568.58 490.18 L568.9 490.18 L569.29 490.18 L569.29 491.75 L570.06 491.75 L570.06 492.11 L571.05 492.11 L571.05 494.84 L571.96 494.84 L571.96 495.01 L572.5 495.01 L572.5 495.62 L573.5 495.62 L573.5 497.31 L574.34 497.31 L574.34 497.5 L575.06 497.5 L575.06 498.28 L575.98 498.28 L575.98 498.42 L577.1 498.42 L577.1 499.76 L577.2 499.76 L577.52 499.76 L577.52 500.88 L578.63 500.88 L578.63 500.99 L579.1 500.99 L579.1 501.19 L580.34 501.19 L580.34 501.54 L580.95 501.54 L580.95 502.95 L581.87 502.95 L581.87 503.05 L582.38 503.05 L582.38 503.48 L583.45 503.48 L583.45 504.1 L584.17 504.1 L584.17 505.54 L584.93 505.54 L584.93 506.79 L585.38 506.79 L586.18 506.79 L586.18 509.28 L586.66 509.28 L586.66 510.01 L587.62 510.01 L587.62 510.77 L588.15 510.77 L588.15 510.99 L589.18 510.99 L589.18 512.62 L590.21 512.62 L590.21 512.82 L590.93 512.82 L590.93 513.02 L591.8 513.02 L591.8 513.35 L592.4 513.35 L592.4 513.63 L593.5 513.63 L593.5 514.23 L593.78 514.23 L593.78 514.42 L594.75 514.42 L594.75 514.6 L595.87 514.6 L595.87 514.86 L596.47 514.86 L596.47 515.08 L597.4 515.08 L597.4 515.74 L597.59 515.74 L597.87 515.74 L597.87 516.39 L599.14 516.39 L599.14 516.88 L599.74 516.88 L599.74 517.33 L600.46 517.33 L600.46 517.78 L601.41 517.78 L601.41 518.16 L602.58 518.16 L602.58 518.23 L602.94 518.23 L602.94 518.43 L603.87 518.43 L603.87 518.54 L605.05 518.54 L605.05 518.57 L605.8 518.57 L605.8 518.6 L606.26 518.6 L606.26 518.69 L607.12 518.69 L607.12 518.76 L608.41 518.76 L608.41 519.1 L608.82 519.1 L608.82 519.71 L610.11 519.71 L610.11 519.87 L610.46 519.87 L610.46 520.46 L611.67 520.46 L611.67 521.11 L611.87 521.11 L612.58 521.11 L612.58 521.15 L613.41 521.15 L613.41 521.18 L613.87 521.18 L613.87 521.77 L614.91 521.77 L614.91 522.05 L615.85 522.05 L615.85 522.24 L616.65 522.24 L616.65 522.79 L617.48 522.79 L617.48 522.93 L618.52 522.93 L618.52 523.41 L619.38 523.41 L619.38 523.84 L619.89 523.84 L619.89 523.9 L620.97 523.9 L620.97 523.97 L621.68 523.97 L621.68 524.05 L622.01 524.05 L622.59 524.05 L622.59 525.32 L666.94 525.32" fill="none" stroke="#5bc6df" stroke-width="0.95"/>
<line x1="558.28" y1="476.88" x2="558.28" y2="479.48" stroke="#5bc6df" stroke-width="0.7"/>
<line x1="559.3" y1="477.25" x2="559.3" y2="479.85" stroke="#5bc6df" stroke-width="0.7"/>
<line x1="560.39" y1="479.65" x2="560.39" y2="482.25" stroke="#5bc6df" stroke-width="0.7"/>
<line x1="560.69" y1="479.93" x2="560.69" y2="482.53" stroke="#5bc6df" stroke-width="0.7"/>
<line x1="562.27" y1="480.92" x2="562.27" y2="483.52" stroke="#5bc6df" stroke-width="0.7"/>
<line x1="563.61" y1="483.87" x2="563.61" y2="486.47" stroke="#5bc6df" stroke-width="0.7"/>
<line x1="564.71" y1="484.34" x2="564.71" y2="486.94" stroke="#5bc6df" stroke-width="0.7"/>
<line x1="565.27" y1="486.56" x2="565.27" y2="489.16" stroke="#5bc6df" stroke-width="0.7"/>
<line x1="568.07" y1="488.72" x2="568.07" y2="491.32" stroke="#5bc6df" stroke-width="0.7"/>
<line x1="570.61" y1="490.81" x2="570.61" y2="493.41" stroke="#5bc6df" stroke-width="0.7"/>
<line x1="574.05" y1="496.01" x2="574.05" y2="498.61" stroke="#5bc6df" stroke-width="0.7"/>
<line x1="575.47" y1="496.98" x2="575.47" y2="499.58" stroke="#5bc6df" stroke-width="0.7"/>
<line x1="576.42" y1="497.12" x2="576.42" y2="499.72" stroke="#5bc6df" stroke-width="0.7"/>
<line x1="577.36" y1="498.46" x2="577.36" y2="501.06" stroke="#5bc6df" stroke-width="0.7"/>
<line x1="577.94" y1="499.58" x2="577.94" y2="502.18" stroke="#5bc6df" stroke-width="0.7"/>
<line x1="579.42" y1="499.89" x2="579.42" y2="502.49" stroke="#5bc6df" stroke-width="0.7"/>
<line x1="580.79" y1="500.24" x2="580.79" y2="502.84" stroke="#5bc6df" stroke-width="0.7"/>
<line x1="581.18" y1="501.65" x2="581.18" y2="504.25" stroke="#5bc6df" stroke-width="0.7"/>
<line x1="582.36" y1="501.75" x2="582.36" y2="504.35" stroke="#5bc6df" stroke-width="0.7"/>
<line x1="584.82" y1="504.24" x2="584.82" y2="506.84" stroke="#5bc6df" stroke-width="0.7"/>
<line x1="587" y1="508.71" x2="587" y2="511.31" stroke="#5bc6df" stroke-width="0.7"/>
<line x1="587.91" y1="509.47" x2="587.91" y2="512.07" stroke="#5bc6df" stroke-width="0.7"/>
<line x1="590.6" y1="511.52" x2="590.6" y2="514.12" stroke="#5bc6df" stroke-width="0.7"/>
<line x1="592.47" y1="512.05" x2="592.47" y2="514.65" stroke="#5bc6df" stroke-width="0.7"/>
<line x1="592.88" y1="512.33" x2="592.88" y2="514.93" stroke="#5bc6df" stroke-width="0.7"/>
<line x1="595.15" y1="513.3" x2="595.15" y2="515.9" stroke="#5bc6df" stroke-width="0.7"/>
<line x1="598.01" y1="514.44" x2="598.01" y2="517.04" stroke="#5bc6df" stroke-width="0.7"/>
<line x1="598.2" y1="515.09" x2="598.2" y2="517.69" stroke="#5bc6df" stroke-width="0.7"/>
<line x1="599.46" y1="515.58" x2="599.46" y2="518.18" stroke="#5bc6df" stroke-width="0.7"/>
<line x1="606.68" y1="517.39" x2="606.68" y2="519.99" stroke="#5bc6df" stroke-width="0.7"/>
<line x1="608.71" y1="517.8" x2="608.71" y2="520.4" stroke="#5bc6df" stroke-width="0.7"/>
<line x1="613.7" y1="519.88" x2="613.7" y2="522.48" stroke="#5bc6df" stroke-width="0.7"/>
<line x1="614.31" y1="520.47" x2="614.31" y2="523.07" stroke="#5bc6df" stroke-width="0.7"/>
<line x1="617.91" y1="521.63" x2="617.91" y2="524.23" stroke="#5bc6df" stroke-width="0.7"/>
<line x1="619.12" y1="522.11" x2="619.12" y2="524.71" stroke="#5bc6df" stroke-width="0.7"/>
<line x1="624.93" y1="524.02" x2="624.93" y2="526.62" stroke="#5bc6df" stroke-width="0.7"/>
<line x1="636.21" y1="524.02" x2="636.21" y2="526.62" stroke="#5bc6df" stroke-width="0.7"/>
<line x1="643.43" y1="524.02" x2="643.43" y2="526.62" stroke="#5bc6df" stroke-width="0.7"/>
<line x1="652.45" y1="524.02" x2="652.45" y2="526.62" stroke="#5bc6df" stroke-width="0.7"/>
<line x1="663.95" y1="524.02" x2="663.95" y2="526.62" stroke="#5bc6df" stroke-width="0.7"/>
<path d="M557.5 477.4 L558.29 477.4 L558.29 477.94 L559.05 477.94 L559.05 483.1 L559.74 483.1 L559.74 483.45 L560.55 483.45 L560.55 486.35 L560.84 486.35 L561.14 486.35 L561.14 487.63 L562.31 487.63 L562.31 489.94 L563.22 489.94 L563.22 491.05 L563.85 491.05 L563.85 493.72 L564.68 493.72 L564.68 498.49 L564.87 498.49 L565.78 498.49 L565.78 499.99 L566.54 499.99 L566.54 502.38 L567.49 502.38 L567.49 506.75 L568.28 506.75 L568.28 508.71 L568.9 508.71 L569.65 508.71 L569.65 509.97 L570.27 509.97 L570.27 510.07 L571.1 510.07 L571.1 511.04 L572.09 511.04 L572.09 511.13 L572.85 511.13 L572.85 511.94 L573.66 511.94 L573.66 512.77 L574.19 512.77 L574.19 514.23 L575.44 514.23 L575.44 515.39 L575.8 515.39 L575.8 515.86 L577.02 515.86 L577.02 516 L577.2 516 L577.97 516 L577.97 516.45 L578.63 516.45 L578.63 516.67 L579.36 516.67 L579.36 517.32 L579.91 517.32 L579.91 517.61 L581.21 517.61 L581.21 518.2 L581.68 518.2 L581.68 518.88 L582.92 518.88 L582.92 519.5 L583.62 519.5 L583.62 520.58 L584.54 520.58 L584.54 520.95 L584.94 520.95 L584.94 521.11 L585.38 521.11 L586.15 521.11 L586.15 521.17 L586.64 521.17 L586.64 521.18 L587.68 521.18 L587.68 521.35 L588.64 521.35 L588.64 521.39 L589.17 521.39 L589.17 521.39 L590.09 521.39 L590.09 521.46 L591.04 521.46 L591.04 521.51 L591.69 521.51 L591.69 521.56 L592.56 521.56 L592.56 521.57 L593.52 521.57 L593.52 521.58 L594.29 521.58 L594.29 521.64 L594.98 521.64 L594.98 521.68 L595.52 521.68 L595.98 521.68 L595.98 522.08 L596.72 522.08 L596.72 522.52 L597.89 522.52 L597.89 522.56 L598.34 522.56 L598.34 522.62 L599.31 522.62 L599.31 522.78 L600.1 522.78 L600.1 523.21 L600.9 523.21 L600.9 523.29 L601.8 523.29 L601.8 523.7 L602.7 523.7 L602.7 524.04 L603.32 524.04 L603.32 524.17 L603.81 524.17 L604.19 524.17 L604.19 524.79 L605.39 524.79 L605.39 524.92 L606.18 524.92 L606.18 525.16 L606.82 525.16 L606.82 525.23 L608.02 525.23 L608.02 526.01 L608.68 526.01 L608.68 526.14 L609.69 526.14 L609.69 526.28 L609.92 526.28 L673.28 526.28" fill="none" stroke="#f5775a" stroke-width="0.95"/>
<line x1="558.98" y1="476.64" x2="558.98" y2="479.24" stroke="#f5775a" stroke-width="0.7"/>
<line x1="561.16" y1="485.05" x2="561.16" y2="487.65" stroke="#f5775a" stroke-width="0.7"/>
<line x1="561.42" y1="486.33" x2="561.42" y2="488.93" stroke="#f5775a" stroke-width="0.7"/>
<line x1="566.45" y1="498.69" x2="566.45" y2="501.29" stroke="#f5775a" stroke-width="0.7"/>
<line x1="567.21" y1="501.08" x2="567.21" y2="503.68" stroke="#f5775a" stroke-width="0.7"/>
<line x1="568.68" y1="507.41" x2="568.68" y2="510.01" stroke="#f5775a" stroke-width="0.7"/>
<line x1="570.91" y1="508.77" x2="570.91" y2="511.37" stroke="#f5775a" stroke-width="0.7"/>
<line x1="572.33" y1="509.83" x2="572.33" y2="512.43" stroke="#f5775a" stroke-width="0.7"/>
<line x1="573.28" y1="510.64" x2="573.28" y2="513.24" stroke="#f5775a" stroke-width="0.7"/>
<line x1="574.61" y1="512.93" x2="574.61" y2="515.53" stroke="#f5775a" stroke-width="0.7"/>
<line x1="576.39" y1="514.56" x2="576.39" y2="517.16" stroke="#f5775a" stroke-width="0.7"/>
<line x1="577.61" y1="514.7" x2="577.61" y2="517.3" stroke="#f5775a" stroke-width="0.7"/>
<line x1="578.44" y1="515.15" x2="578.44" y2="517.75" stroke="#f5775a" stroke-width="0.7"/>
<line x1="580.15" y1="516.31" x2="580.15" y2="518.91" stroke="#f5775a" stroke-width="0.7"/>
<line x1="581.7" y1="516.9" x2="581.7" y2="519.5" stroke="#f5775a" stroke-width="0.7"/>
<line x1="582.36" y1="517.58" x2="582.36" y2="520.18" stroke="#f5775a" stroke-width="0.7"/>
<line x1="586.71" y1="519.87" x2="586.71" y2="522.47" stroke="#f5775a" stroke-width="0.7"/>
<line x1="588.01" y1="520.05" x2="588.01" y2="522.65" stroke="#f5775a" stroke-width="0.7"/>
<line x1="588.92" y1="520.09" x2="588.92" y2="522.69" stroke="#f5775a" stroke-width="0.7"/>
<line x1="590.48" y1="520.16" x2="590.48" y2="522.76" stroke="#f5775a" stroke-width="0.7"/>
<line x1="591.71" y1="520.21" x2="591.71" y2="522.81" stroke="#f5775a" stroke-width="0.7"/>
<line x1="592.9" y1="520.27" x2="592.9" y2="522.87" stroke="#f5775a" stroke-width="0.7"/>
<line x1="594.8" y1="520.34" x2="594.8" y2="522.94" stroke="#f5775a" stroke-width="0.7"/>
<line x1="597.34" y1="521.22" x2="597.34" y2="523.82" stroke="#f5775a" stroke-width="0.7"/>
<line x1="598.56" y1="521.26" x2="598.56" y2="523.86" stroke="#f5775a" stroke-width="0.7"/>
<line x1="598.71" y1="521.32" x2="598.71" y2="523.92" stroke="#f5775a" stroke-width="0.7"/>
<line x1="602.23" y1="522.4" x2="602.23" y2="525" stroke="#f5775a" stroke-width="0.7"/>
<line x1="603.59" y1="522.87" x2="603.59" y2="525.47" stroke="#f5775a" stroke-width="0.7"/>
<line x1="606.85" y1="523.86" x2="606.85" y2="526.46" stroke="#f5775a" stroke-width="0.7"/>
<line x1="616.04" y1="524.98" x2="616.04" y2="527.58" stroke="#f5775a" stroke-width="0.7"/>
<line x1="622.88" y1="524.98" x2="622.88" y2="527.58" stroke="#f5775a" stroke-width="0.7"/>
<line x1="633.38" y1="524.98" x2="633.38" y2="527.58" stroke="#f5775a" stroke-width="0.7"/>
<line x1="643.12" y1="524.98" x2="643.12" y2="527.58" stroke="#f5775a" stroke-width="0.7"/>
<line x1="653.33" y1="524.98" x2="653.33" y2="527.58" stroke="#f5775a" stroke-width="0.7"/>
<line x1="661.98" y1="524.98" x2="661.98" y2="527.58" stroke="#f5775a" stroke-width="0.7"/>
<line x1="670.3" y1="524.98" x2="670.3" y2="527.58" stroke="#f5775a" stroke-width="0.7"/>
<text transform="translate(539.6 571.2) rotate(-90) scale(0.4500 0.4275)" font-size="10" text-anchor="middle" fill="#151515" stroke="#151515" stroke-width="0.281">SLC25A19</text>
<text transform="translate(549.3 570.8) scale(0.3300 0.3960)" font-size="10" text-anchor="end" fill="#f5775a" stroke="#f5775a" stroke-width="0.303">High</text>
<text transform="translate(549.3 575.6) scale(0.3300 0.3960)" font-size="10" text-anchor="end" fill="#5bc6df" stroke="#5bc6df" stroke-width="0.303">Low</text>
<line x1="551.5" y1="566" x2="551.5" y2="577.6" stroke="#2a2a2a" stroke-width="0.6"/>
<line x1="551.2" y1="577.4" x2="677.7" y2="577.4" stroke="#2a2a2a" stroke-width="0.6"/>
<text transform="translate(557.5 571) scale(0.4100 0.4715)" font-size="10" text-anchor="middle" fill="#151515" stroke="#151515" stroke-width="0.255">165</text>
<text transform="translate(557.5 576.1) scale(0.4100 0.4715)" font-size="10" text-anchor="middle" fill="#151515" stroke="#151515" stroke-width="0.255">166</text>
<text transform="translate(569.02 571) scale(0.4100 0.4715)" font-size="10" text-anchor="middle" fill="#151515" stroke="#151515" stroke-width="0.255">71</text>
<text transform="translate(569.02 576.1) scale(0.4100 0.4715)" font-size="10" text-anchor="middle" fill="#151515" stroke="#151515" stroke-width="0.255">117</text>
<text transform="translate(580.54 571) scale(0.4100 0.4715)" font-size="10" text-anchor="middle" fill="#151515" stroke="#151515" stroke-width="0.255">30</text>
<text transform="translate(580.54 576.1) scale(0.4100 0.4715)" font-size="10" text-anchor="middle" fill="#151515" stroke="#151515" stroke-width="0.255">56</text>
<text transform="translate(592.06 571) scale(0.4100 0.4715)" font-size="10" text-anchor="middle" fill="#151515" stroke="#151515" stroke-width="0.255">26</text>
<text transform="translate(592.06 576.1) scale(0.4100 0.4715)" font-size="10" text-anchor="middle" fill="#151515" stroke="#151515" stroke-width="0.255">31</text>
<text transform="translate(603.58 571) scale(0.4100 0.4715)" font-size="10" text-anchor="middle" fill="#151515" stroke="#151515" stroke-width="0.255">12</text>
<text transform="translate(603.58 576.1) scale(0.4100 0.4715)" font-size="10" text-anchor="middle" fill="#151515" stroke="#151515" stroke-width="0.255">20</text>
<text transform="translate(615.1 571) scale(0.4100 0.4715)" font-size="10" text-anchor="middle" fill="#151515" stroke="#151515" stroke-width="0.255">5</text>
<text transform="translate(615.1 576.1) scale(0.4100 0.4715)" font-size="10" text-anchor="middle" fill="#151515" stroke="#151515" stroke-width="0.255">13</text>
<text transform="translate(626.62 571) scale(0.4100 0.4715)" font-size="10" text-anchor="middle" fill="#151515" stroke="#151515" stroke-width="0.255">3</text>
<text transform="translate(626.62 576.1) scale(0.4100 0.4715)" font-size="10" text-anchor="middle" fill="#151515" stroke="#151515" stroke-width="0.255">7</text>
<text transform="translate(638.14 571) scale(0.4100 0.4715)" font-size="10" text-anchor="middle" fill="#151515" stroke="#151515" stroke-width="0.255">2</text>
<text transform="translate(638.14 576.1) scale(0.4100 0.4715)" font-size="10" text-anchor="middle" fill="#151515" stroke="#151515" stroke-width="0.255">1</text>
<text transform="translate(649.66 571) scale(0.4100 0.4715)" font-size="10" text-anchor="middle" fill="#151515" stroke="#151515" stroke-width="0.255">2</text>
<text transform="translate(649.66 576.1) scale(0.4100 0.4715)" font-size="10" text-anchor="middle" fill="#151515" stroke="#151515" stroke-width="0.255">1</text>
<text transform="translate(661.18 571) scale(0.4100 0.4715)" font-size="10" text-anchor="middle" fill="#151515" stroke="#151515" stroke-width="0.255">1</text>
<text transform="translate(661.18 576.1) scale(0.4100 0.4715)" font-size="10" text-anchor="middle" fill="#151515" stroke="#151515" stroke-width="0.255">1</text>
<text transform="translate(672.7 571) scale(0.4100 0.4715)" font-size="10" text-anchor="middle" fill="#151515" stroke="#151515" stroke-width="0.255">1</text>
<text transform="translate(672.7 576.1) scale(0.4100 0.4715)" font-size="10" text-anchor="middle" fill="#151515" stroke="#151515" stroke-width="0.255">0</text>
<text transform="translate(59.9 637.5)" font-size="14.8" text-anchor="start" fill="#111">K</text>
<text transform="translate(117 645.7) scale(0.4500 0.5400)" font-size="10" text-anchor="start" fill="#151515" stroke="#151515" stroke-width="0.222">Age</text>
<rect x="127.2" y="642" width="4.9" height="4.4" fill="none" stroke="#f8766d" stroke-width="0.5"/>
<line x1="127.2" y1="644.4" x2="132.1" y2="644.4" stroke="#f8766d" stroke-width="0.5"/>
<line x1="129.65" y1="641.3" x2="129.65" y2="647.1" stroke="#f8766d" stroke-width="0.5"/>
<text transform="translate(135.3 645.7) scale(0.3900 0.4680)" font-size="10" text-anchor="start" fill="#151515" stroke="#151515" stroke-width="0.256">&lt;=65</text>
<rect x="146" y="642" width="4.9" height="4.4" fill="none" stroke="#00bfc4" stroke-width="0.5"/>
<line x1="146" y1="644.4" x2="150.9" y2="644.4" stroke="#00bfc4" stroke-width="0.5"/>
<line x1="148.45" y1="641.3" x2="148.45" y2="647.1" stroke="#00bfc4" stroke-width="0.5"/>
<text transform="translate(153.9 645.7) scale(0.3900 0.4680)" font-size="10" text-anchor="start" fill="#151515" stroke="#151515" stroke-width="0.256">&gt;65</text>
<line x1="74.4" y1="654.2" x2="74.4" y2="760.4" stroke="#444" stroke-width="0.8"/>
<line x1="74" y1="760.1" x2="202.8" y2="760.1" stroke="#444" stroke-width="0.8"/>
<line x1="72.8" y1="661.2" x2="74.4" y2="661.2" stroke="#444" stroke-width="0.5"/>
<text transform="translate(72.1 662.8) scale(0.4400 0.4840)" font-size="10" text-anchor="end" fill="#151515" stroke="#151515" stroke-width="0.248">3</text>
<line x1="72.8" y1="694.3" x2="74.4" y2="694.3" stroke="#444" stroke-width="0.5"/>
<text transform="translate(72.1 695.9) scale(0.4400 0.4840)" font-size="10" text-anchor="end" fill="#151515" stroke="#151515" stroke-width="0.248">2</text>
<line x1="72.8" y1="727.4" x2="74.4" y2="727.4" stroke="#444" stroke-width="0.5"/>
<text transform="translate(72.1 729) scale(0.4400 0.4840)" font-size="10" text-anchor="end" fill="#151515" stroke="#151515" stroke-width="0.248">1</text>
<line x1="109.5" y1="760.1" x2="109.5" y2="761.7" stroke="#444" stroke-width="0.5"/>
<text transform="translate(109.5 765.9) scale(0.4500 0.5175)" font-size="10" text-anchor="middle" fill="#151515" stroke="#151515" stroke-width="0.232">&lt;=65</text>
<line x1="167.7" y1="760.1" x2="167.7" y2="761.7" stroke="#444" stroke-width="0.5"/>
<text transform="translate(167.7 765.9) scale(0.4500 0.5175)" font-size="10" text-anchor="middle" fill="#151515" stroke="#151515" stroke-width="0.232">&gt;65</text>
<text transform="translate(138.4 771.2) scale(0.4500 0.5175)" font-size="10" text-anchor="middle" fill="#151515" stroke="#151515" stroke-width="0.232">Age</text>
<text transform="translate(66.2 712) rotate(-90) scale(0.3900 0.4875)" font-size="10" text-anchor="middle" fill="#151515" stroke="#151515" stroke-width="0.246">SLC25A19 expression</text>
<path d="M109.5 660.9 V659.1 H167.4 V660.9" fill="none" stroke="#777" stroke-width="0.6"/>
<text transform="translate(138.45 657.9) scale(0.3900 0.4680)" font-size="10" text-anchor="middle" fill="#151515" stroke="#151515" stroke-width="0.256">0.0082</text>
<circle cx="112.74" cy="701.8" r="1.05" fill="#f8766d"/>
<circle cx="109" cy="691" r="1.05" fill="#f8766d"/>
<circle cx="116.89" cy="709.91" r="1.05" fill="#f8766d"/>
<circle cx="109.8" cy="682.62" r="1.05" fill="#f8766d"/>
<circle cx="97.58" cy="732.22" r="1.05" fill="#f8766d"/>
<circle cx="106.41" cy="717.94" r="1.05" fill="#f8766d"/>
<circle cx="116.55" cy="724.02" r="1.05" fill="#f8766d"/>
<circle cx="103.07" cy="721.36" r="1.05" fill="#f8766d"/>
<circle cx="121.44" cy="716.83" r="1.05" fill="#f8766d"/>
<circle cx="115.23" cy="711.59" r="1.05" fill="#f8766d"/>
<circle cx="98.32" cy="697.8" r="1.05" fill="#f8766d"/>
<circle cx="105.39" cy="737.13" r="1.05" fill="#f8766d"/>
<circle cx="120.35" cy="727.44" r="1.05" fill="#f8766d"/>
<circle cx="106.34" cy="717.32" r="1.05" fill="#f8766d"/>
<circle cx="100.5" cy="696.59" r="1.05" fill="#f8766d"/>
<circle cx="119.77" cy="686.82" r="1.05" fill="#f8766d"/>
<circle cx="105.73" cy="741.85" r="1.05" fill="#f8766d"/>
<circle cx="109.13" cy="710.07" r="1.05" fill="#f8766d"/>
<circle cx="118.28" cy="715.33" r="1.05" fill="#f8766d"/>
<circle cx="103.14" cy="712.37" r="1.05" fill="#f8766d"/>
<circle cx="120.75" cy="714.87" r="1.05" fill="#f8766d"/>
<circle cx="118.96" cy="730.97" r="1.05" fill="#f8766d"/>
<circle cx="111.44" cy="716.44" r="1.05" fill="#f8766d"/>
<circle cx="115.01" cy="751.56" r="1.05" fill="#f8766d"/>
<circle cx="117.35" cy="701.05" r="1.05" fill="#f8766d"/>
<circle cx="102.33" cy="701.56" r="1.05" fill="#f8766d"/>
<circle cx="107.33" cy="680.24" r="1.05" fill="#f8766d"/>
<circle cx="106.27" cy="736.98" r="1.05" fill="#f8766d"/>
<circle cx="121.38" cy="736.4" r="1.05" fill="#f8766d"/>
<circle cx="106.78" cy="711.49" r="1.05" fill="#f8766d"/>
<circle cx="114.73" cy="708.7" r="1.05" fill="#f8766d"/>
<circle cx="121.33" cy="715.98" r="1.05" fill="#f8766d"/>
<circle cx="110.71" cy="740.85" r="1.05" fill="#f8766d"/>
<circle cx="115.46" cy="716.88" r="1.05" fill="#f8766d"/>
<circle cx="110.86" cy="712.65" r="1.05" fill="#f8766d"/>
<circle cx="112.44" cy="690.35" r="1.05" fill="#f8766d"/>
<circle cx="105.86" cy="712.29" r="1.05" fill="#f8766d"/>
<circle cx="119.75" cy="706.34" r="1.05" fill="#f8766d"/>
<circle cx="104.86" cy="732.94" r="1.05" fill="#f8766d"/>
<circle cx="99.98" cy="695.2" r="1.05" fill="#f8766d"/>
<circle cx="116.15" cy="683.7" r="1.05" fill="#f8766d"/>
<circle cx="106.5" cy="702.7" r="1.05" fill="#f8766d"/>
<circle cx="119.07" cy="729.74" r="1.05" fill="#f8766d"/>
<circle cx="120.5" cy="745.04" r="1.05" fill="#f8766d"/>
<circle cx="111.67" cy="694.13" r="1.05" fill="#f8766d"/>
<circle cx="106.51" cy="700.12" r="1.05" fill="#f8766d"/>
<circle cx="103.43" cy="733.12" r="1.05" fill="#f8766d"/>
<circle cx="99.16" cy="708.95" r="1.05" fill="#f8766d"/>
<circle cx="116.83" cy="725.87" r="1.05" fill="#f8766d"/>
<circle cx="117.59" cy="714.01" r="1.05" fill="#f8766d"/>
<circle cx="98.75" cy="740.31" r="1.05" fill="#f8766d"/>
<circle cx="107.57" cy="718.3" r="1.05" fill="#f8766d"/>
<circle cx="101.6" cy="700.86" r="1.05" fill="#f8766d"/>
<circle cx="119.08" cy="700.92" r="1.05" fill="#f8766d"/>
<circle cx="121.1" cy="709.75" r="1.05" fill="#f8766d"/>
<circle cx="103.55" cy="718.07" r="1.05" fill="#f8766d"/>
<circle cx="120.51" cy="740.42" r="1.05" fill="#f8766d"/>
<circle cx="98.18" cy="749.52" r="1.05" fill="#f8766d"/>
<circle cx="102.59" cy="722.68" r="1.05" fill="#f8766d"/>
<circle cx="118.65" cy="698.62" r="1.05" fill="#f8766d"/>
<circle cx="111.93" cy="747.91" r="1.05" fill="#f8766d"/>
<circle cx="117.88" cy="741.18" r="1.05" fill="#f8766d"/>
<circle cx="104.89" cy="705.59" r="1.05" fill="#f8766d"/>
<circle cx="115.94" cy="733.25" r="1.05" fill="#f8766d"/>
<circle cx="97.75" cy="720.93" r="1.05" fill="#f8766d"/>
<circle cx="98.06" cy="737.2" r="1.05" fill="#f8766d"/>
<circle cx="111.52" cy="734.48" r="1.05" fill="#f8766d"/>
<circle cx="103.67" cy="748.33" r="1.05" fill="#f8766d"/>
<circle cx="100.7" cy="697.61" r="1.05" fill="#f8766d"/>
<circle cx="98.11" cy="710.08" r="1.05" fill="#f8766d"/>
<circle cx="108.22" cy="712.46" r="1.05" fill="#f8766d"/>
<circle cx="113.23" cy="691.87" r="1.05" fill="#f8766d"/>
<circle cx="100.54" cy="686.2" r="1.05" fill="#f8766d"/>
<circle cx="109.35" cy="734.75" r="1.05" fill="#f8766d"/>
<circle cx="102.77" cy="721.75" r="1.05" fill="#f8766d"/>
<circle cx="106.57" cy="711.02" r="1.05" fill="#f8766d"/>
<circle cx="114.54" cy="706.39" r="1.05" fill="#f8766d"/>
<circle cx="114.56" cy="723.35" r="1.05" fill="#f8766d"/>
<circle cx="118.47" cy="719.38" r="1.05" fill="#f8766d"/>
<circle cx="97.69" cy="712.07" r="1.05" fill="#f8766d"/>
<circle cx="108.63" cy="752.62" r="1.05" fill="#f8766d"/>
<circle cx="101.71" cy="685.99" r="1.05" fill="#f8766d"/>
<circle cx="114.58" cy="704.2" r="1.05" fill="#f8766d"/>
<circle cx="105.03" cy="718.04" r="1.05" fill="#f8766d"/>
<circle cx="98.51" cy="686.42" r="1.05" fill="#f8766d"/>
<circle cx="119.12" cy="730.72" r="1.05" fill="#f8766d"/>
<circle cx="104.58" cy="706.35" r="1.05" fill="#f8766d"/>
<circle cx="120.26" cy="742.85" r="1.05" fill="#f8766d"/>
<circle cx="99.87" cy="717.97" r="1.05" fill="#f8766d"/>
<circle cx="115.13" cy="736.74" r="1.05" fill="#f8766d"/>
<circle cx="120.71" cy="731.69" r="1.05" fill="#f8766d"/>
<circle cx="110.12" cy="728.97" r="1.05" fill="#f8766d"/>
<circle cx="110.96" cy="688.5" r="1.05" fill="#f8766d"/>
<circle cx="120.94" cy="683.47" r="1.05" fill="#f8766d"/>
<circle cx="106.03" cy="703.08" r="1.05" fill="#f8766d"/>
<circle cx="100.08" cy="743.83" r="1.05" fill="#f8766d"/>
<circle cx="117.04" cy="748.74" r="1.05" fill="#f8766d"/>
<circle cx="112.41" cy="716.11" r="1.05" fill="#f8766d"/>
<circle cx="97.97" cy="739.35" r="1.05" fill="#f8766d"/>
<circle cx="109.92" cy="730.83" r="1.05" fill="#f8766d"/>
<circle cx="106.85" cy="734.62" r="1.05" fill="#f8766d"/>
<circle cx="98.67" cy="729.18" r="1.05" fill="#f8766d"/>
<circle cx="107.91" cy="709.13" r="1.05" fill="#f8766d"/>
<circle cx="117.12" cy="716.89" r="1.05" fill="#f8766d"/>
<circle cx="114.87" cy="686.1" r="1.05" fill="#f8766d"/>
<circle cx="106.75" cy="731.68" r="1.05" fill="#f8766d"/>
<circle cx="109.18" cy="713.44" r="1.05" fill="#f8766d"/>
<circle cx="99.55" cy="752.4" r="1.05" fill="#f8766d"/>
<circle cx="109.01" cy="755.53" r="1.05" fill="#f8766d"/>
<circle cx="118.87" cy="749.38" r="1.05" fill="#f8766d"/>
<circle cx="116.21" cy="715.84" r="1.05" fill="#f8766d"/>
<circle cx="113.53" cy="741.16" r="1.05" fill="#f8766d"/>
<circle cx="118.11" cy="741.71" r="1.05" fill="#f8766d"/>
<circle cx="103.39" cy="727.06" r="1.05" fill="#f8766d"/>
<circle cx="119.5" cy="746.4" r="1.05" fill="#f8766d"/>
<circle cx="117.3" cy="738.41" r="1.05" fill="#f8766d"/>
<circle cx="120.63" cy="699.23" r="1.05" fill="#f8766d"/>
<circle cx="105" cy="715.2" r="1.05" fill="#f8766d"/>
<circle cx="104.98" cy="717.62" r="1.05" fill="#f8766d"/>
<circle cx="110.78" cy="726.21" r="1.05" fill="#f8766d"/>
<circle cx="99.41" cy="710.35" r="1.05" fill="#f8766d"/>
<circle cx="115.32" cy="733.11" r="1.05" fill="#f8766d"/>
<circle cx="108.6" cy="671.88" r="1.05" fill="#f8766d"/>
<circle cx="114.39" cy="678.39" r="1.05" fill="#f8766d"/>
<circle cx="102.44" cy="685.87" r="1.05" fill="#f8766d"/>
<circle cx="113.86" cy="732.18" r="1.05" fill="#f8766d"/>
<circle cx="103.76" cy="692.71" r="1.05" fill="#f8766d"/>
<circle cx="103.6" cy="700.57" r="1.05" fill="#f8766d"/>
<circle cx="117.79" cy="722.82" r="1.05" fill="#f8766d"/>
<circle cx="102.3" cy="700.13" r="1.05" fill="#f8766d"/>
<circle cx="111.85" cy="692.5" r="1.05" fill="#f8766d"/>
<circle cx="120.08" cy="720.83" r="1.05" fill="#f8766d"/>
<circle cx="108.71" cy="698.14" r="1.05" fill="#f8766d"/>
<circle cx="104.24" cy="743.17" r="1.05" fill="#f8766d"/>
<circle cx="101.68" cy="706.71" r="1.05" fill="#f8766d"/>
<circle cx="102.02" cy="729.47" r="1.05" fill="#f8766d"/>
<circle cx="120.56" cy="706.84" r="1.05" fill="#f8766d"/>
<circle cx="119.93" cy="681.66" r="1.05" fill="#f8766d"/>
<circle cx="114.41" cy="709.61" r="1.05" fill="#f8766d"/>
<circle cx="98.44" cy="693.93" r="1.05" fill="#f8766d"/>
<circle cx="112.09" cy="714.65" r="1.05" fill="#f8766d"/>
<circle cx="97.68" cy="722.04" r="1.05" fill="#f8766d"/>
<circle cx="110.57" cy="731.66" r="1.05" fill="#f8766d"/>
<circle cx="108.4" cy="703.14" r="1.05" fill="#f8766d"/>
<circle cx="118.97" cy="707.8" r="1.05" fill="#f8766d"/>
<circle cx="116.5" cy="724.88" r="1.05" fill="#f8766d"/>
<circle cx="117.24" cy="709.58" r="1.05" fill="#f8766d"/>
<circle cx="102" cy="723.75" r="1.05" fill="#f8766d"/>
<circle cx="107.17" cy="718.64" r="1.05" fill="#f8766d"/>
<circle cx="116.76" cy="731.07" r="1.05" fill="#f8766d"/>
<circle cx="117.74" cy="722.07" r="1.05" fill="#f8766d"/>
<circle cx="97.92" cy="680.3" r="1.05" fill="#f8766d"/>
<circle cx="111.47" cy="736.36" r="1.05" fill="#f8766d"/>
<circle cx="115.43" cy="679.75" r="1.05" fill="#f8766d"/>
<circle cx="115.72" cy="696.59" r="1.05" fill="#f8766d"/>
<circle cx="117.06" cy="714.8" r="1.05" fill="#f8766d"/>
<circle cx="112.06" cy="710.94" r="1.05" fill="#f8766d"/>
<circle cx="116.7" cy="733.98" r="1.05" fill="#f8766d"/>
<circle cx="105.61" cy="733.03" r="1.05" fill="#f8766d"/>
<circle cx="104.65" cy="719.79" r="1.05" fill="#f8766d"/>
<circle cx="112.55" cy="698.85" r="1.05" fill="#f8766d"/>
<circle cx="99.12" cy="711.52" r="1.05" fill="#f8766d"/>
<circle cx="109.78" cy="722.38" r="1.05" fill="#f8766d"/>
<circle cx="103.98" cy="723.17" r="1.05" fill="#f8766d"/>
<circle cx="98.91" cy="729.2" r="1.05" fill="#f8766d"/>
<circle cx="113.84" cy="694.6" r="1.05" fill="#f8766d"/>
<circle cx="113.18" cy="712.03" r="1.05" fill="#f8766d"/>
<circle cx="119.84" cy="712.33" r="1.05" fill="#f8766d"/>
<circle cx="110.43" cy="709.57" r="1.05" fill="#f8766d"/>
<circle cx="114.97" cy="743.32" r="1.05" fill="#f8766d"/>
<circle cx="110.09" cy="700.7" r="1.05" fill="#f8766d"/>
<circle cx="102.63" cy="684.26" r="1.05" fill="#f8766d"/>
<circle cx="98.47" cy="699.67" r="1.05" fill="#f8766d"/>
<circle cx="112.58" cy="732.33" r="1.05" fill="#f8766d"/>
<circle cx="101.68" cy="697.62" r="1.05" fill="#f8766d"/>
<circle cx="101.39" cy="723.36" r="1.05" fill="#f8766d"/>
<circle cx="117.92" cy="740.18" r="1.05" fill="#f8766d"/>
<circle cx="113.81" cy="702.2" r="1.05" fill="#f8766d"/>
<circle cx="119.17" cy="683.46" r="1.05" fill="#f8766d"/>
<circle cx="106.86" cy="723.85" r="1.05" fill="#f8766d"/>
<circle cx="116.55" cy="673.34" r="1.05" fill="#f8766d"/>
<circle cx="97.77" cy="734.36" r="1.05" fill="#f8766d"/>
<circle cx="112.07" cy="734.04" r="1.05" fill="#f8766d"/>
<circle cx="115.64" cy="695.24" r="1.05" fill="#f8766d"/>
<circle cx="119.84" cy="724.67" r="1.05" fill="#f8766d"/>
<circle cx="110.37" cy="726.98" r="1.05" fill="#f8766d"/>
<circle cx="121.45" cy="707.39" r="1.05" fill="#f8766d"/>
<circle cx="110.82" cy="726.73" r="1.05" fill="#f8766d"/>
<circle cx="118.69" cy="712.19" r="1.05" fill="#f8766d"/>
<circle cx="106.2" cy="750.04" r="1.05" fill="#f8766d"/>
<circle cx="101.78" cy="699.68" r="1.05" fill="#f8766d"/>
<circle cx="110.46" cy="707.27" r="1.05" fill="#f8766d"/>
<circle cx="100.65" cy="709.9" r="1.05" fill="#f8766d"/>
<circle cx="98.15" cy="734.97" r="1.05" fill="#f8766d"/>
<circle cx="98.13" cy="740.92" r="1.05" fill="#f8766d"/>
<circle cx="113.47" cy="705.14" r="1.05" fill="#f8766d"/>
<circle cx="119.76" cy="715.14" r="1.05" fill="#f8766d"/>
<circle cx="110.05" cy="708.19" r="1.05" fill="#f8766d"/>
<circle cx="100.45" cy="698.38" r="1.05" fill="#f8766d"/>
<circle cx="103.26" cy="732.26" r="1.05" fill="#f8766d"/>
<circle cx="116" cy="743.05" r="1.05" fill="#f8766d"/>
<circle cx="115.53" cy="704.29" r="1.05" fill="#f8766d"/>
<circle cx="107.82" cy="726.43" r="1.05" fill="#f8766d"/>
<circle cx="106.57" cy="729.94" r="1.05" fill="#f8766d"/>
<circle cx="110.41" cy="733.23" r="1.05" fill="#f8766d"/>
<circle cx="108.51" cy="716.44" r="1.05" fill="#f8766d"/>
<circle cx="111.57" cy="680.99" r="1.05" fill="#f8766d"/>
<circle cx="116.77" cy="709.18" r="1.05" fill="#f8766d"/>
<circle cx="121.34" cy="720.22" r="1.05" fill="#f8766d"/>
<circle cx="106.54" cy="749.93" r="1.05" fill="#f8766d"/>
<circle cx="113.44" cy="718.84" r="1.05" fill="#f8766d"/>
<circle cx="111.46" cy="716.39" r="1.05" fill="#f8766d"/>
<circle cx="115.12" cy="734.47" r="1.05" fill="#f8766d"/>
<circle cx="117" cy="749.79" r="1.05" fill="#f8766d"/>
<circle cx="106.39" cy="724.19" r="1.05" fill="#f8766d"/>
<circle cx="117.33" cy="716.74" r="1.05" fill="#f8766d"/>
<circle cx="106.85" cy="739.84" r="1.05" fill="#f8766d"/>
<circle cx="112.58" cy="717.45" r="1.05" fill="#f8766d"/>
<circle cx="118.27" cy="742.64" r="1.05" fill="#f8766d"/>
<circle cx="115.53" cy="735.39" r="1.05" fill="#f8766d"/>
<circle cx="116.27" cy="728.26" r="1.05" fill="#f8766d"/>
<circle cx="116.53" cy="706.67" r="1.05" fill="#f8766d"/>
<circle cx="117.84" cy="705.43" r="1.05" fill="#f8766d"/>
<circle cx="118.87" cy="723.31" r="1.05" fill="#f8766d"/>
<circle cx="112.71" cy="702.21" r="1.05" fill="#f8766d"/>
<circle cx="101.01" cy="709.42" r="1.05" fill="#f8766d"/>
<circle cx="113.88" cy="709.77" r="1.05" fill="#f8766d"/>
<circle cx="104.6" cy="731.23" r="1.05" fill="#f8766d"/>
<circle cx="109.44" cy="714.75" r="1.05" fill="#f8766d"/>
<circle cx="114.61" cy="704.05" r="1.05" fill="#f8766d"/>
<circle cx="100" cy="664.51" r="0.95" fill="#f8766d"/>
<circle cx="98.5" cy="666.83" r="0.95" fill="#f8766d"/>
<circle cx="99" cy="676.1" r="0.95" fill="#f8766d"/>
<circle cx="109.8" cy="663.85" r="0.95" fill="#f8766d"/>
<circle cx="109.8" cy="665.17" r="0.95" fill="#f8766d"/>
<line x1="109.5" y1="661.5" x2="109.5" y2="702.4" stroke="#f8766d" stroke-width="0.6"/>
<line x1="109.5" y1="729.4" x2="109.5" y2="755" stroke="#f8766d" stroke-width="0.6"/>
<rect x="88.9" y="702.4" width="41.2" height="27" fill="none" stroke="#f8766d" stroke-width="0.6"/>
<line x1="88.9" y1="717.4" x2="130.1" y2="717.4" stroke="#f8766d" stroke-width="0.8"/>
<circle cx="156.74" cy="713.9" r="1.05" fill="#00bfc4"/>
<circle cx="179.17" cy="724.31" r="1.05" fill="#00bfc4"/>
<circle cx="171.18" cy="718.96" r="1.05" fill="#00bfc4"/>
<circle cx="164.15" cy="714.93" r="1.05" fill="#00bfc4"/>
<circle cx="178.27" cy="713.48" r="1.05" fill="#00bfc4"/>
<circle cx="163.55" cy="729.28" r="1.05" fill="#00bfc4"/>
<circle cx="177.45" cy="736.99" r="1.05" fill="#00bfc4"/>
<circle cx="176.47" cy="723.37" r="1.05" fill="#00bfc4"/>
<circle cx="169.76" cy="726.8" r="1.05" fill="#00bfc4"/>
<circle cx="175.75" cy="725.84" r="1.05" fill="#00bfc4"/>
<circle cx="169.6" cy="712.79" r="1.05" fill="#00bfc4"/>
<circle cx="178.31" cy="697.46" r="1.05" fill="#00bfc4"/>
<circle cx="169.23" cy="732.22" r="1.05" fill="#00bfc4"/>
<circle cx="162.14" cy="728.88" r="1.05" fill="#00bfc4"/>
<circle cx="178.2" cy="742.26" r="1.05" fill="#00bfc4"/>
<circle cx="178.16" cy="732.4" r="1.05" fill="#00bfc4"/>
<circle cx="171.17" cy="697.23" r="1.05" fill="#00bfc4"/>
<circle cx="171.55" cy="704.03" r="1.05" fill="#00bfc4"/>
<circle cx="160.46" cy="699.62" r="1.05" fill="#00bfc4"/>
<circle cx="156.94" cy="703.97" r="1.05" fill="#00bfc4"/>
<circle cx="177.48" cy="716.32" r="1.05" fill="#00bfc4"/>
<circle cx="165.62" cy="740.73" r="1.05" fill="#00bfc4"/>
<circle cx="171.4" cy="722.84" r="1.05" fill="#00bfc4"/>
<circle cx="164.8" cy="710.65" r="1.05" fill="#00bfc4"/>
<circle cx="169.6" cy="728.74" r="1.05" fill="#00bfc4"/>
<circle cx="168.69" cy="728.19" r="1.05" fill="#00bfc4"/>
<circle cx="166.17" cy="702.23" r="1.05" fill="#00bfc4"/>
<circle cx="158.23" cy="730.89" r="1.05" fill="#00bfc4"/>
<circle cx="179.12" cy="738.88" r="1.05" fill="#00bfc4"/>
<circle cx="165.46" cy="732.23" r="1.05" fill="#00bfc4"/>
<circle cx="177.58" cy="709.17" r="1.05" fill="#00bfc4"/>
<circle cx="165.42" cy="704.43" r="1.05" fill="#00bfc4"/>
<circle cx="158.42" cy="727.58" r="1.05" fill="#00bfc4"/>
<circle cx="168.77" cy="714.6" r="1.05" fill="#00bfc4"/>
<circle cx="164.23" cy="727.89" r="1.05" fill="#00bfc4"/>
<circle cx="160.6" cy="728.96" r="1.05" fill="#00bfc4"/>
<circle cx="157.05" cy="709.3" r="1.05" fill="#00bfc4"/>
<circle cx="171.08" cy="748.96" r="1.05" fill="#00bfc4"/>
<circle cx="160.83" cy="728.19" r="1.05" fill="#00bfc4"/>
<circle cx="165.65" cy="723.86" r="1.05" fill="#00bfc4"/>
<circle cx="175.25" cy="726.84" r="1.05" fill="#00bfc4"/>
<circle cx="175.67" cy="707.01" r="1.05" fill="#00bfc4"/>
<circle cx="167.67" cy="730.28" r="1.05" fill="#00bfc4"/>
<circle cx="179" cy="742.35" r="1.05" fill="#00bfc4"/>
<circle cx="173.3" cy="725.17" r="1.05" fill="#00bfc4"/>
<circle cx="171" cy="746.65" r="1.05" fill="#00bfc4"/>
<circle cx="164.34" cy="717.91" r="1.05" fill="#00bfc4"/>
<circle cx="170.19" cy="716.01" r="1.05" fill="#00bfc4"/>
<circle cx="170.8" cy="709.46" r="1.05" fill="#00bfc4"/>
<circle cx="164.03" cy="720.03" r="1.05" fill="#00bfc4"/>
<circle cx="166.19" cy="710.86" r="1.05" fill="#00bfc4"/>
<circle cx="162.39" cy="701.23" r="1.05" fill="#00bfc4"/>
<circle cx="164.3" cy="683.12" r="1.05" fill="#00bfc4"/>
<circle cx="158.92" cy="711.61" r="1.05" fill="#00bfc4"/>
<circle cx="176.12" cy="719.62" r="1.05" fill="#00bfc4"/>
<circle cx="160.36" cy="710.52" r="1.05" fill="#00bfc4"/>
<circle cx="167.01" cy="723.26" r="1.05" fill="#00bfc4"/>
<circle cx="160.98" cy="715.21" r="1.05" fill="#00bfc4"/>
<circle cx="177.48" cy="736.14" r="1.05" fill="#00bfc4"/>
<circle cx="175.39" cy="701.21" r="1.05" fill="#00bfc4"/>
<circle cx="175.73" cy="707.49" r="1.05" fill="#00bfc4"/>
<circle cx="156.96" cy="718.52" r="1.05" fill="#00bfc4"/>
<circle cx="165" cy="716.91" r="1.05" fill="#00bfc4"/>
<circle cx="173.46" cy="704.95" r="1.05" fill="#00bfc4"/>
<circle cx="161.93" cy="725.54" r="1.05" fill="#00bfc4"/>
<circle cx="161.51" cy="739.02" r="1.05" fill="#00bfc4"/>
<circle cx="171.51" cy="722.68" r="1.05" fill="#00bfc4"/>
<circle cx="159.83" cy="716.46" r="1.05" fill="#00bfc4"/>
<circle cx="157.51" cy="705.01" r="1.05" fill="#00bfc4"/>
<circle cx="167.67" cy="736.36" r="1.05" fill="#00bfc4"/>
<circle cx="167.39" cy="725.71" r="1.05" fill="#00bfc4"/>
<circle cx="156.89" cy="724.86" r="1.05" fill="#00bfc4"/>
<circle cx="170.74" cy="721.96" r="1.05" fill="#00bfc4"/>
<circle cx="178.87" cy="723.49" r="1.05" fill="#00bfc4"/>
<circle cx="168.49" cy="715.69" r="1.05" fill="#00bfc4"/>
<circle cx="159.42" cy="731.36" r="1.05" fill="#00bfc4"/>
<circle cx="175.01" cy="739.01" r="1.05" fill="#00bfc4"/>
<circle cx="156.41" cy="696.3" r="1.05" fill="#00bfc4"/>
<circle cx="160.24" cy="738.19" r="1.05" fill="#00bfc4"/>
<circle cx="174.66" cy="706.97" r="1.05" fill="#00bfc4"/>
<circle cx="164.53" cy="706.8" r="1.05" fill="#00bfc4"/>
<circle cx="175.72" cy="734.28" r="1.05" fill="#00bfc4"/>
<circle cx="162.59" cy="732.05" r="1.05" fill="#00bfc4"/>
<circle cx="159.86" cy="722.91" r="1.05" fill="#00bfc4"/>
<circle cx="172.22" cy="712.35" r="1.05" fill="#00bfc4"/>
<circle cx="175" cy="737.76" r="1.05" fill="#00bfc4"/>
<circle cx="165.53" cy="712.2" r="1.05" fill="#00bfc4"/>
<circle cx="176.31" cy="723.75" r="1.05" fill="#00bfc4"/>
<circle cx="171.28" cy="720.98" r="1.05" fill="#00bfc4"/>
<circle cx="160.68" cy="737.34" r="1.05" fill="#00bfc4"/>
<circle cx="164.93" cy="719.48" r="1.05" fill="#00bfc4"/>
<circle cx="161.63" cy="717.87" r="1.05" fill="#00bfc4"/>
<circle cx="176.09" cy="709.67" r="1.05" fill="#00bfc4"/>
<circle cx="169.96" cy="726.63" r="1.05" fill="#00bfc4"/>
<circle cx="156.7" cy="748.12" r="1.05" fill="#00bfc4"/>
<circle cx="178.02" cy="726.59" r="1.05" fill="#00bfc4"/>
<circle cx="175.18" cy="732.99" r="1.05" fill="#00bfc4"/>
<circle cx="158.47" cy="747.91" r="1.05" fill="#00bfc4"/>
<circle cx="167.81" cy="713.26" r="1.05" fill="#00bfc4"/>
<circle cx="177.78" cy="718.17" r="1.05" fill="#00bfc4"/>
<circle cx="170.52" cy="708.7" r="1.05" fill="#00bfc4"/>
<circle cx="173.22" cy="730.69" r="1.05" fill="#00bfc4"/>
<circle cx="177.86" cy="742.4" r="1.05" fill="#00bfc4"/>
<circle cx="172.92" cy="686.47" r="1.05" fill="#00bfc4"/>
<circle cx="171.2" cy="699.51" r="1.05" fill="#00bfc4"/>
<circle cx="163.59" cy="738.21" r="1.05" fill="#00bfc4"/>
<circle cx="157.52" cy="724.34" r="1.05" fill="#00bfc4"/>
<circle cx="177.49" cy="710.92" r="1.05" fill="#00bfc4"/>
<circle cx="163.47" cy="723.12" r="1.05" fill="#00bfc4"/>
<circle cx="158.57" cy="718.86" r="1.05" fill="#00bfc4"/>
<circle cx="160.24" cy="735.17" r="1.05" fill="#00bfc4"/>
<circle cx="167.17" cy="717.41" r="1.05" fill="#00bfc4"/>
<circle cx="174.91" cy="734.53" r="1.05" fill="#00bfc4"/>
<circle cx="163.26" cy="714.74" r="1.05" fill="#00bfc4"/>
<circle cx="164.82" cy="727.79" r="1.05" fill="#00bfc4"/>
<circle cx="168.03" cy="685.45" r="1.05" fill="#00bfc4"/>
<circle cx="161.2" cy="712.57" r="1.05" fill="#00bfc4"/>
<circle cx="163.34" cy="714.19" r="1.05" fill="#00bfc4"/>
<circle cx="159.39" cy="713.87" r="1.05" fill="#00bfc4"/>
<circle cx="158.81" cy="711.55" r="1.05" fill="#00bfc4"/>
<circle cx="167.8" cy="749.67" r="1.05" fill="#00bfc4"/>
<circle cx="157.79" cy="718.75" r="1.05" fill="#00bfc4"/>
<circle cx="177.23" cy="730.18" r="1.05" fill="#00bfc4"/>
<circle cx="169.61" cy="709.32" r="1.05" fill="#00bfc4"/>
<circle cx="157.32" cy="743.19" r="1.05" fill="#00bfc4"/>
<circle cx="171.98" cy="716.55" r="1.05" fill="#00bfc4"/>
<circle cx="164.5" cy="713.9" r="1.05" fill="#00bfc4"/>
<circle cx="162.78" cy="743.62" r="1.05" fill="#00bfc4"/>
<circle cx="159.76" cy="715.73" r="1.05" fill="#00bfc4"/>
<circle cx="166.63" cy="721.7" r="1.05" fill="#00bfc4"/>
<circle cx="167.06" cy="720.19" r="1.05" fill="#00bfc4"/>
<circle cx="170.83" cy="732.74" r="1.05" fill="#00bfc4"/>
<circle cx="177.37" cy="724.27" r="1.05" fill="#00bfc4"/>
<circle cx="169.66" cy="724.39" r="1.05" fill="#00bfc4"/>
<circle cx="172.05" cy="725.86" r="1.05" fill="#00bfc4"/>
<circle cx="177.65" cy="711.31" r="1.05" fill="#00bfc4"/>
<circle cx="169.01" cy="730.22" r="1.05" fill="#00bfc4"/>
<circle cx="160.22" cy="708.83" r="1.05" fill="#00bfc4"/>
<circle cx="175.13" cy="708.64" r="1.05" fill="#00bfc4"/>
<circle cx="174.2" cy="724.42" r="1.05" fill="#00bfc4"/>
<circle cx="161.38" cy="691.06" r="1.05" fill="#00bfc4"/>
<circle cx="169.38" cy="745.07" r="1.05" fill="#00bfc4"/>
<circle cx="170.04" cy="726.48" r="1.05" fill="#00bfc4"/>
<circle cx="164.35" cy="720.88" r="1.05" fill="#00bfc4"/>
<circle cx="174.55" cy="702.52" r="1.05" fill="#00bfc4"/>
<line x1="167.7" y1="681" x2="167.7" y2="711.5" stroke="#00bfc4" stroke-width="0.6"/>
<line x1="167.7" y1="732.3" x2="167.7" y2="749.9" stroke="#00bfc4" stroke-width="0.6"/>
<rect x="147.4" y="711.5" width="40.6" height="20.8" fill="none" stroke="#00bfc4" stroke-width="0.6"/>
<line x1="147.4" y1="722.1" x2="188" y2="722.1" stroke="#00bfc4" stroke-width="0.8"/>
<text transform="translate(213.5 637.5)" font-size="14.8" text-anchor="start" fill="#111">L</text>
<text transform="translate(258.9 645.7) scale(0.4500 0.5400)" font-size="10" text-anchor="start" fill="#151515" stroke="#151515" stroke-width="0.222">Grade</text>
<rect x="273.4" y="642" width="4.9" height="4.4" fill="none" stroke="#f8766d" stroke-width="0.5"/>
<line x1="273.4" y1="644.4" x2="278.3" y2="644.4" stroke="#f8766d" stroke-width="0.5"/>
<line x1="275.85" y1="641.3" x2="275.85" y2="647.1" stroke="#f8766d" stroke-width="0.5"/>
<text transform="translate(281.2 645.7) scale(0.3900 0.4680)" font-size="10" text-anchor="start" fill="#151515" stroke="#151515" stroke-width="0.256">G1</text>
<rect x="289" y="642" width="4.9" height="4.4" fill="none" stroke="#7cae00" stroke-width="0.5"/>
<line x1="289" y1="644.4" x2="293.9" y2="644.4" stroke="#7cae00" stroke-width="0.5"/>
<line x1="291.45" y1="641.3" x2="291.45" y2="647.1" stroke="#7cae00" stroke-width="0.5"/>
<text transform="translate(296.5 645.7) scale(0.3900 0.4680)" font-size="10" text-anchor="start" fill="#151515" stroke="#151515" stroke-width="0.256">G2</text>
<rect x="304" y="642" width="4.9" height="4.4" fill="none" stroke="#00bfc4" stroke-width="0.5"/>
<line x1="304" y1="644.4" x2="308.9" y2="644.4" stroke="#00bfc4" stroke-width="0.5"/>
<line x1="306.45" y1="641.3" x2="306.45" y2="647.1" stroke="#00bfc4" stroke-width="0.5"/>
<text transform="translate(311.9 645.7) scale(0.3900 0.4680)" font-size="10" text-anchor="start" fill="#151515" stroke="#151515" stroke-width="0.256">G3</text>
<rect x="319.2" y="642" width="4.9" height="4.4" fill="none" stroke="#c77cff" stroke-width="0.5"/>
<line x1="319.2" y1="644.4" x2="324.1" y2="644.4" stroke="#c77cff" stroke-width="0.5"/>
<line x1="321.65" y1="641.3" x2="321.65" y2="647.1" stroke="#c77cff" stroke-width="0.5"/>
<text transform="translate(327 645.7) scale(0.3900 0.4680)" font-size="10" text-anchor="start" fill="#151515" stroke="#151515" stroke-width="0.256">G4</text>
<line x1="231.6" y1="654.2" x2="231.6" y2="760.4" stroke="#444" stroke-width="0.8"/>
<line x1="231.2" y1="760.1" x2="359.1" y2="760.1" stroke="#444" stroke-width="0.8"/>
<line x1="230" y1="674" x2="231.6" y2="674" stroke="#444" stroke-width="0.5"/>
<text transform="translate(229.3 675.6) scale(0.4400 0.4840)" font-size="10" text-anchor="end" fill="#151515" stroke="#151515" stroke-width="0.248">4</text>
<line x1="230" y1="695.1" x2="231.6" y2="695.1" stroke="#444" stroke-width="0.5"/>
<text transform="translate(229.3 696.7) scale(0.4400 0.4840)" font-size="10" text-anchor="end" fill="#151515" stroke="#151515" stroke-width="0.248">3</text>
<line x1="230" y1="716.2" x2="231.6" y2="716.2" stroke="#444" stroke-width="0.5"/>
<text transform="translate(229.3 717.8) scale(0.4400 0.4840)" font-size="10" text-anchor="end" fill="#151515" stroke="#151515" stroke-width="0.248">2</text>
<line x1="230" y1="737.3" x2="231.6" y2="737.3" stroke="#444" stroke-width="0.5"/>
<text transform="translate(229.3 738.9) scale(0.4400 0.4840)" font-size="10" text-anchor="end" fill="#151515" stroke="#151515" stroke-width="0.248">1</text>
<line x1="230" y1="758.4" x2="231.6" y2="758.4" stroke="#444" stroke-width="0.5"/>
<text transform="translate(229.3 760) scale(0.4400 0.4840)" font-size="10" text-anchor="end" fill="#151515" stroke="#151515" stroke-width="0.248">0</text>
<line x1="249.4" y1="760.1" x2="249.4" y2="761.7" stroke="#444" stroke-width="0.5"/>
<text transform="translate(249.4 765.9) scale(0.4500 0.5175)" font-size="10" text-anchor="middle" fill="#151515" stroke="#151515" stroke-width="0.232">G1</text>
<line x1="280.2" y1="760.1" x2="280.2" y2="761.7" stroke="#444" stroke-width="0.5"/>
<text transform="translate(280.2 765.9) scale(0.4500 0.5175)" font-size="10" text-anchor="middle" fill="#151515" stroke="#151515" stroke-width="0.232">G2</text>
<line x1="310.4" y1="760.1" x2="310.4" y2="761.7" stroke="#444" stroke-width="0.5"/>
<text transform="translate(310.4 765.9) scale(0.4500 0.5175)" font-size="10" text-anchor="middle" fill="#151515" stroke="#151515" stroke-width="0.232">G3</text>
<line x1="341.6" y1="760.1" x2="341.6" y2="761.7" stroke="#444" stroke-width="0.5"/>
<text transform="translate(341.6 765.9) scale(0.4500 0.5175)" font-size="10" text-anchor="middle" fill="#151515" stroke="#151515" stroke-width="0.232">G4</text>
<text transform="translate(295.4 771.2) scale(0.4500 0.5175)" font-size="10" text-anchor="middle" fill="#151515" stroke="#151515" stroke-width="0.232">Grade</text>
<text transform="translate(223.4 712) rotate(-90) scale(0.3900 0.4875)" font-size="10" text-anchor="middle" fill="#151515" stroke="#151515" stroke-width="0.246">SLC25A19 expression</text>
<path d="M249.4 696 V694.2 H280.2 V696" fill="none" stroke="#777" stroke-width="0.6"/>
<text transform="translate(264.8 693) scale(0.3900 0.4680)" font-size="10" text-anchor="middle" fill="#151515" stroke="#151515" stroke-width="0.256">0.15</text>
<path d="M249.4 689.2 V687.4 H310.4 V689.2" fill="none" stroke="#777" stroke-width="0.6"/>
<text transform="translate(279.9 686.2) scale(0.3900 0.4680)" font-size="10" text-anchor="middle" fill="#151515" stroke="#151515" stroke-width="0.256">7.6e−05</text>
<path d="M249.4 682.5 V680.7 H341.6 V682.5" fill="none" stroke="#777" stroke-width="0.6"/>
<text transform="translate(295.5 679.5) scale(0.3900 0.4680)" font-size="10" text-anchor="middle" fill="#151515" stroke="#151515" stroke-width="0.256">0.099</text>
<path d="M280.2 675.2 V673.4 H310.4 V675.2" fill="none" stroke="#777" stroke-width="0.6"/>
<text transform="translate(295.3 672.2) scale(0.3900 0.4680)" font-size="10" text-anchor="middle" fill="#151515" stroke="#151515" stroke-width="0.256">3.5e−05</text>
<path d="M280.2 668.3 V666.5 H341.6 V668.3" fill="none" stroke="#777" stroke-width="0.6"/>
<text transform="translate(310.9 665.3) scale(0.3900 0.4680)" font-size="10" text-anchor="middle" fill="#151515" stroke="#151515" stroke-width="0.256">0.07</text>
<path d="M310.4 661.4 V659.6 H341.6 V661.4" fill="none" stroke="#777" stroke-width="0.6"/>
<text transform="translate(326 658.4) scale(0.3900 0.4680)" font-size="10" text-anchor="middle" fill="#151515" stroke="#151515" stroke-width="0.256">0.88</text>
<circle cx="253.46" cy="728.94" r="1.05" fill="#f8766d"/>
<circle cx="252.48" cy="726.67" r="1.05" fill="#f8766d"/>
<circle cx="253.9" cy="737.86" r="1.05" fill="#f8766d"/>
<circle cx="249.89" cy="748.43" r="1.05" fill="#f8766d"/>
<circle cx="242.62" cy="725.62" r="1.05" fill="#f8766d"/>
<circle cx="255.89" cy="730.5" r="1.05" fill="#f8766d"/>
<circle cx="246.54" cy="726.88" r="1.05" fill="#f8766d"/>
<circle cx="253.42" cy="739.82" r="1.05" fill="#f8766d"/>
<circle cx="244.73" cy="734.48" r="1.05" fill="#f8766d"/>
<circle cx="247.11" cy="729.73" r="1.05" fill="#f8766d"/>
<circle cx="250.23" cy="707.6" r="1.05" fill="#f8766d"/>
<circle cx="251.63" cy="734.57" r="1.05" fill="#f8766d"/>
<circle cx="243.76" cy="742.56" r="1.05" fill="#f8766d"/>
<circle cx="253.5" cy="725.21" r="1.05" fill="#f8766d"/>
<circle cx="250.39" cy="736.1" r="1.05" fill="#f8766d"/>
<circle cx="255.61" cy="728.88" r="1.05" fill="#f8766d"/>
<circle cx="245.46" cy="716.29" r="1.05" fill="#f8766d"/>
<circle cx="243.8" cy="732.91" r="1.05" fill="#f8766d"/>
<circle cx="252.66" cy="743.39" r="1.05" fill="#f8766d"/>
<circle cx="246.25" cy="734.41" r="1.05" fill="#f8766d"/>
<circle cx="250.76" cy="749.73" r="1.05" fill="#f8766d"/>
<circle cx="254.71" cy="746.66" r="1.05" fill="#f8766d"/>
<circle cx="247.34" cy="738.32" r="1.05" fill="#f8766d"/>
<circle cx="255.26" cy="735.12" r="1.05" fill="#f8766d"/>
<circle cx="254.61" cy="741.48" r="1.05" fill="#f8766d"/>
<circle cx="255.54" cy="743.5" r="1.05" fill="#f8766d"/>
<circle cx="249.6" cy="740.72" r="1.05" fill="#f8766d"/>
<circle cx="252.04" cy="740.36" r="1.05" fill="#f8766d"/>
<circle cx="254.82" cy="739.65" r="1.05" fill="#f8766d"/>
<circle cx="252.49" cy="726.87" r="1.05" fill="#f8766d"/>
<circle cx="243.72" cy="720.29" r="1.05" fill="#f8766d"/>
<circle cx="245.19" cy="722.12" r="1.05" fill="#f8766d"/>
<circle cx="246.55" cy="731.75" r="1.05" fill="#f8766d"/>
<circle cx="253.13" cy="748.32" r="1.05" fill="#f8766d"/>
<circle cx="250.42" cy="747.77" r="1.05" fill="#f8766d"/>
<circle cx="243.61" cy="737.4" r="1.05" fill="#f8766d"/>
<circle cx="244.79" cy="734.95" r="1.05" fill="#f8766d"/>
<circle cx="255.95" cy="732.69" r="1.05" fill="#f8766d"/>
<circle cx="247.91" cy="739.34" r="1.05" fill="#f8766d"/>
<circle cx="251.8" cy="740.08" r="1.05" fill="#f8766d"/>
<circle cx="244.32" cy="748.26" r="1.05" fill="#f8766d"/>
<circle cx="253.88" cy="741.39" r="1.05" fill="#f8766d"/>
<circle cx="244.87" cy="734.06" r="1.05" fill="#f8766d"/>
<circle cx="245.63" cy="739.01" r="1.05" fill="#f8766d"/>
<circle cx="251.52" cy="731.37" r="1.05" fill="#f8766d"/>
<circle cx="243.75" cy="733.05" r="1.05" fill="#f8766d"/>
<circle cx="247.93" cy="711.67" r="1.05" fill="#f8766d"/>
<circle cx="250.01" cy="725.42" r="1.05" fill="#f8766d"/>
<circle cx="248.71" cy="746.7" r="1.05" fill="#f8766d"/>
<circle cx="244.81" cy="734.83" r="1.05" fill="#f8766d"/>
<circle cx="244.08" cy="744.01" r="1.05" fill="#f8766d"/>
<circle cx="245.03" cy="740.61" r="1.05" fill="#f8766d"/>
<circle cx="256.61" cy="727.02" r="1.05" fill="#f8766d"/>
<circle cx="252.56" cy="743.6" r="1.05" fill="#f8766d"/>
<circle cx="244.76" cy="731.39" r="1.05" fill="#f8766d"/>
<circle cx="245.97" cy="725.3" r="1.05" fill="#f8766d"/>
<circle cx="245.97" cy="736.64" r="1.05" fill="#f8766d"/>
<circle cx="256.78" cy="745.38" r="1.05" fill="#f8766d"/>
<circle cx="250.28" cy="711.58" r="1.05" fill="#f8766d"/>
<circle cx="243.1" cy="736.32" r="1.05" fill="#f8766d"/>
<circle cx="246.37" cy="734.93" r="1.05" fill="#f8766d"/>
<circle cx="254.7" cy="746.36" r="1.05" fill="#f8766d"/>
<circle cx="254.22" cy="748.85" r="1.05" fill="#f8766d"/>
<circle cx="248.56" cy="746.63" r="1.05" fill="#f8766d"/>
<circle cx="252.82" cy="723.03" r="1.05" fill="#f8766d"/>
<circle cx="242.24" cy="724.12" r="1.05" fill="#f8766d"/>
<circle cx="251.16" cy="708.25" r="1.05" fill="#f8766d"/>
<circle cx="244.05" cy="748.64" r="1.05" fill="#f8766d"/>
<circle cx="255.26" cy="720.32" r="1.05" fill="#f8766d"/>
<circle cx="252.45" cy="718.15" r="1.05" fill="#f8766d"/>
<line x1="249.4" y1="706.6" x2="249.4" y2="728.2" stroke="#f8766d" stroke-width="0.6"/>
<line x1="249.4" y1="743.4" x2="249.4" y2="750.4" stroke="#f8766d" stroke-width="0.6"/>
<rect x="238.45" y="728.2" width="21.9" height="15.2" fill="none" stroke="#f8766d" stroke-width="0.6"/>
<line x1="238.45" y1="736.5" x2="260.35" y2="736.5" stroke="#f8766d" stroke-width="0.8"/>
<circle cx="287.18" cy="738.83" r="1.05" fill="#7cae00"/>
<circle cx="286.56" cy="736.39" r="1.05" fill="#7cae00"/>
<circle cx="275.92" cy="747.21" r="1.05" fill="#7cae00"/>
<circle cx="276.03" cy="730.39" r="1.05" fill="#7cae00"/>
<circle cx="275.89" cy="736.84" r="1.05" fill="#7cae00"/>
<circle cx="287.27" cy="718.94" r="1.05" fill="#7cae00"/>
<circle cx="274.03" cy="727.6" r="1.05" fill="#7cae00"/>
<circle cx="284.25" cy="730.6" r="1.05" fill="#7cae00"/>
<circle cx="277.59" cy="740.57" r="1.05" fill="#7cae00"/>
<circle cx="282.26" cy="725.21" r="1.05" fill="#7cae00"/>
<circle cx="279.15" cy="738.72" r="1.05" fill="#7cae00"/>
<circle cx="277.26" cy="729.56" r="1.05" fill="#7cae00"/>
<circle cx="282.9" cy="719.54" r="1.05" fill="#7cae00"/>
<circle cx="282.67" cy="721.8" r="1.05" fill="#7cae00"/>
<circle cx="278.39" cy="726.17" r="1.05" fill="#7cae00"/>
<circle cx="279.04" cy="739.8" r="1.05" fill="#7cae00"/>
<circle cx="272.8" cy="745.12" r="1.05" fill="#7cae00"/>
<circle cx="279.66" cy="725.22" r="1.05" fill="#7cae00"/>
<circle cx="273.03" cy="741.95" r="1.05" fill="#7cae00"/>
<circle cx="283.27" cy="735.24" r="1.05" fill="#7cae00"/>
<circle cx="275" cy="720.91" r="1.05" fill="#7cae00"/>
<circle cx="273.22" cy="732.56" r="1.05" fill="#7cae00"/>
<circle cx="274.96" cy="731.8" r="1.05" fill="#7cae00"/>
<circle cx="282.97" cy="730.08" r="1.05" fill="#7cae00"/>
<circle cx="282.49" cy="734.54" r="1.05" fill="#7cae00"/>
<circle cx="279.83" cy="742.36" r="1.05" fill="#7cae00"/>
<circle cx="277.37" cy="752.97" r="1.05" fill="#7cae00"/>
<circle cx="285.75" cy="733.11" r="1.05" fill="#7cae00"/>
<circle cx="272.79" cy="738.58" r="1.05" fill="#7cae00"/>
<circle cx="273.96" cy="746.92" r="1.05" fill="#7cae00"/>
<circle cx="286.89" cy="724.61" r="1.05" fill="#7cae00"/>
<circle cx="285.84" cy="731.53" r="1.05" fill="#7cae00"/>
<circle cx="283.29" cy="730.74" r="1.05" fill="#7cae00"/>
<circle cx="284.32" cy="737.41" r="1.05" fill="#7cae00"/>
<circle cx="274.8" cy="727.09" r="1.05" fill="#7cae00"/>
<circle cx="275.38" cy="749.2" r="1.05" fill="#7cae00"/>
<circle cx="286.09" cy="729.13" r="1.05" fill="#7cae00"/>
<circle cx="279.4" cy="748.51" r="1.05" fill="#7cae00"/>
<circle cx="287.06" cy="729.24" r="1.05" fill="#7cae00"/>
<circle cx="285.97" cy="736.67" r="1.05" fill="#7cae00"/>
<circle cx="280.93" cy="735.18" r="1.05" fill="#7cae00"/>
<circle cx="283.04" cy="730.23" r="1.05" fill="#7cae00"/>
<circle cx="276.88" cy="735.25" r="1.05" fill="#7cae00"/>
<circle cx="285.07" cy="730.62" r="1.05" fill="#7cae00"/>
<circle cx="276.45" cy="714.22" r="1.05" fill="#7cae00"/>
<circle cx="275.77" cy="721.08" r="1.05" fill="#7cae00"/>
<circle cx="286.22" cy="712.65" r="1.05" fill="#7cae00"/>
<circle cx="277.49" cy="715.73" r="1.05" fill="#7cae00"/>
<circle cx="286.01" cy="721.74" r="1.05" fill="#7cae00"/>
<circle cx="272.88" cy="725.38" r="1.05" fill="#7cae00"/>
<circle cx="279.58" cy="746.03" r="1.05" fill="#7cae00"/>
<circle cx="281.24" cy="747.38" r="1.05" fill="#7cae00"/>
<circle cx="276.8" cy="730.92" r="1.05" fill="#7cae00"/>
<circle cx="282.61" cy="740" r="1.05" fill="#7cae00"/>
<circle cx="277.72" cy="744.58" r="1.05" fill="#7cae00"/>
<circle cx="286.75" cy="737.15" r="1.05" fill="#7cae00"/>
<circle cx="286.11" cy="736.75" r="1.05" fill="#7cae00"/>
<circle cx="278.71" cy="719.2" r="1.05" fill="#7cae00"/>
<circle cx="273.69" cy="726.9" r="1.05" fill="#7cae00"/>
<circle cx="274.92" cy="731.03" r="1.05" fill="#7cae00"/>
<circle cx="278.25" cy="726.89" r="1.05" fill="#7cae00"/>
<circle cx="279.41" cy="727.25" r="1.05" fill="#7cae00"/>
<circle cx="283.01" cy="740.66" r="1.05" fill="#7cae00"/>
<circle cx="278.17" cy="745.76" r="1.05" fill="#7cae00"/>
<circle cx="274.61" cy="739.63" r="1.05" fill="#7cae00"/>
<circle cx="280.89" cy="743.69" r="1.05" fill="#7cae00"/>
<circle cx="283.72" cy="739.32" r="1.05" fill="#7cae00"/>
<circle cx="276.31" cy="720.16" r="1.05" fill="#7cae00"/>
<circle cx="277.15" cy="743.04" r="1.05" fill="#7cae00"/>
<circle cx="273.31" cy="729.09" r="1.05" fill="#7cae00"/>
<circle cx="283.8" cy="704.5" r="1.05" fill="#7cae00"/>
<circle cx="279.28" cy="724.02" r="1.05" fill="#7cae00"/>
<circle cx="283.36" cy="737.11" r="1.05" fill="#7cae00"/>
<circle cx="286.96" cy="739.9" r="1.05" fill="#7cae00"/>
<circle cx="287.45" cy="731.73" r="1.05" fill="#7cae00"/>
<circle cx="286.53" cy="743.96" r="1.05" fill="#7cae00"/>
<circle cx="279.48" cy="724.04" r="1.05" fill="#7cae00"/>
<circle cx="276.81" cy="729.75" r="1.05" fill="#7cae00"/>
<circle cx="283.91" cy="737.29" r="1.05" fill="#7cae00"/>
<circle cx="285.57" cy="736.88" r="1.05" fill="#7cae00"/>
<circle cx="276.69" cy="719.61" r="1.05" fill="#7cae00"/>
<circle cx="282.27" cy="727.72" r="1.05" fill="#7cae00"/>
<circle cx="284.67" cy="742.83" r="1.05" fill="#7cae00"/>
<circle cx="283.4" cy="733.78" r="1.05" fill="#7cae00"/>
<circle cx="278.96" cy="738.68" r="1.05" fill="#7cae00"/>
<circle cx="275.95" cy="733.98" r="1.05" fill="#7cae00"/>
<circle cx="284.65" cy="726.22" r="1.05" fill="#7cae00"/>
<circle cx="275.58" cy="727.54" r="1.05" fill="#7cae00"/>
<circle cx="275.07" cy="729.32" r="1.05" fill="#7cae00"/>
<circle cx="282.67" cy="734.91" r="1.05" fill="#7cae00"/>
<circle cx="286.2" cy="746.01" r="1.05" fill="#7cae00"/>
<circle cx="275.54" cy="735.84" r="1.05" fill="#7cae00"/>
<circle cx="280.45" cy="732.45" r="1.05" fill="#7cae00"/>
<circle cx="280.37" cy="737.96" r="1.05" fill="#7cae00"/>
<circle cx="276.1" cy="754.35" r="1.05" fill="#7cae00"/>
<circle cx="277.69" cy="752.09" r="1.05" fill="#7cae00"/>
<circle cx="286.67" cy="745.67" r="1.05" fill="#7cae00"/>
<circle cx="279.92" cy="722.91" r="1.05" fill="#7cae00"/>
<circle cx="274.63" cy="740.48" r="1.05" fill="#7cae00"/>
<circle cx="281.87" cy="731.16" r="1.05" fill="#7cae00"/>
<circle cx="283.39" cy="731.52" r="1.05" fill="#7cae00"/>
<circle cx="287.61" cy="720.23" r="1.05" fill="#7cae00"/>
<circle cx="278.74" cy="733.84" r="1.05" fill="#7cae00"/>
<circle cx="277.02" cy="731.05" r="1.05" fill="#7cae00"/>
<circle cx="280.66" cy="730.78" r="1.05" fill="#7cae00"/>
<circle cx="276.23" cy="725.24" r="1.05" fill="#7cae00"/>
<circle cx="283.55" cy="734" r="1.05" fill="#7cae00"/>
<circle cx="274.97" cy="742.71" r="1.05" fill="#7cae00"/>
<circle cx="285.5" cy="725.36" r="1.05" fill="#7cae00"/>
<circle cx="286.74" cy="719.18" r="1.05" fill="#7cae00"/>
<circle cx="277.69" cy="741.14" r="1.05" fill="#7cae00"/>
<circle cx="286.17" cy="725.26" r="1.05" fill="#7cae00"/>
<circle cx="279.74" cy="731.64" r="1.05" fill="#7cae00"/>
<circle cx="275.16" cy="731.61" r="1.05" fill="#7cae00"/>
<circle cx="279.29" cy="728.05" r="1.05" fill="#7cae00"/>
<circle cx="284.07" cy="715.45" r="1.05" fill="#7cae00"/>
<circle cx="284.04" cy="742.29" r="1.05" fill="#7cae00"/>
<circle cx="276.06" cy="727.24" r="1.05" fill="#7cae00"/>
<circle cx="280.59" cy="717.74" r="1.05" fill="#7cae00"/>
<circle cx="274.63" cy="713.42" r="1.05" fill="#7cae00"/>
<circle cx="281.59" cy="729.05" r="1.05" fill="#7cae00"/>
<circle cx="282.93" cy="740.55" r="1.05" fill="#7cae00"/>
<circle cx="278.24" cy="745.09" r="1.05" fill="#7cae00"/>
<circle cx="281.96" cy="727.33" r="1.05" fill="#7cae00"/>
<circle cx="282.77" cy="731.96" r="1.05" fill="#7cae00"/>
<circle cx="274.07" cy="735.94" r="1.05" fill="#7cae00"/>
<circle cx="285.52" cy="738.21" r="1.05" fill="#7cae00"/>
<circle cx="273.37" cy="741.17" r="1.05" fill="#7cae00"/>
<circle cx="273.55" cy="730.59" r="1.05" fill="#7cae00"/>
<circle cx="272.74" cy="734.25" r="1.05" fill="#7cae00"/>
<circle cx="285.23" cy="713.44" r="1.05" fill="#7cae00"/>
<circle cx="286.45" cy="713.32" r="1.05" fill="#7cae00"/>
<circle cx="284.63" cy="727.58" r="1.05" fill="#7cae00"/>
<circle cx="283.6" cy="719.77" r="1.05" fill="#7cae00"/>
<circle cx="283.62" cy="736.45" r="1.05" fill="#7cae00"/>
<circle cx="282.96" cy="707.89" r="1.05" fill="#7cae00"/>
<circle cx="284.07" cy="735.39" r="1.05" fill="#7cae00"/>
<circle cx="280.45" cy="723.84" r="1.05" fill="#7cae00"/>
<circle cx="279.01" cy="754.87" r="1.05" fill="#7cae00"/>
<circle cx="285.58" cy="731.66" r="1.05" fill="#7cae00"/>
<circle cx="283.4" cy="721.97" r="1.05" fill="#7cae00"/>
<circle cx="272.86" cy="729.87" r="1.05" fill="#7cae00"/>
<circle cx="282.08" cy="735.92" r="1.05" fill="#7cae00"/>
<circle cx="282.05" cy="740.76" r="1.05" fill="#7cae00"/>
<circle cx="276.34" cy="718.18" r="1.05" fill="#7cae00"/>
<circle cx="274.75" cy="715.83" r="1.05" fill="#7cae00"/>
<circle cx="274.22" cy="736.58" r="1.05" fill="#7cae00"/>
<circle cx="284.12" cy="732.07" r="1.05" fill="#7cae00"/>
<circle cx="285.98" cy="723.47" r="1.05" fill="#7cae00"/>
<circle cx="279.51" cy="726.38" r="1.05" fill="#7cae00"/>
<circle cx="275.17" cy="726.15" r="1.05" fill="#7cae00"/>
<circle cx="273.85" cy="749.97" r="1.05" fill="#7cae00"/>
<circle cx="285.49" cy="729.18" r="1.05" fill="#7cae00"/>
<circle cx="283.41" cy="752.18" r="1.05" fill="#7cae00"/>
<circle cx="284.14" cy="734.35" r="1.05" fill="#7cae00"/>
<circle cx="283.82" cy="730.56" r="1.05" fill="#7cae00"/>
<circle cx="281.46" cy="735" r="1.05" fill="#7cae00"/>
<circle cx="283.44" cy="725.93" r="1.05" fill="#7cae00"/>
<circle cx="280.64" cy="732.71" r="1.05" fill="#7cae00"/>
<circle cx="281.2" cy="740.62" r="1.05" fill="#7cae00"/>
<circle cx="285.88" cy="736.33" r="1.05" fill="#7cae00"/>
<circle cx="283.67" cy="721.19" r="1.05" fill="#7cae00"/>
<circle cx="274.01" cy="734.84" r="1.05" fill="#7cae00"/>
<circle cx="285.1" cy="725.46" r="1.05" fill="#7cae00"/>
<circle cx="274.49" cy="723.78" r="1.05" fill="#7cae00"/>
<circle cx="277.28" cy="726.49" r="1.05" fill="#7cae00"/>
<circle cx="274.81" cy="724.24" r="1.05" fill="#7cae00"/>
<circle cx="284.59" cy="727.8" r="1.05" fill="#7cae00"/>
<circle cx="275.27" cy="724.8" r="1.05" fill="#7cae00"/>
<circle cx="276.46" cy="731.99" r="1.05" fill="#7cae00"/>
<circle cx="282.73" cy="736.86" r="1.05" fill="#7cae00"/>
<circle cx="275.02" cy="724.82" r="1.05" fill="#7cae00"/>
<circle cx="276.16" cy="732.92" r="1.05" fill="#7cae00"/>
<circle cx="283.5" cy="729" r="1.05" fill="#7cae00"/>
<circle cx="286.35" cy="737" r="1.05" fill="#7cae00"/>
<circle cx="277.51" cy="732.83" r="1.05" fill="#7cae00"/>
<circle cx="284.29" cy="714.12" r="1.05" fill="#7cae00"/>
<circle cx="285.99" cy="741.11" r="1.05" fill="#7cae00"/>
<circle cx="283.14" cy="737.65" r="1.05" fill="#7cae00"/>
<circle cx="277.12" cy="738.59" r="1.05" fill="#7cae00"/>
<circle cx="276.99" cy="721.9" r="1.05" fill="#7cae00"/>
<circle cx="275.07" cy="709.02" r="1.05" fill="#7cae00"/>
<circle cx="286.45" cy="743.21" r="1.05" fill="#7cae00"/>
<circle cx="274.32" cy="733.62" r="1.05" fill="#7cae00"/>
<circle cx="279.24" cy="734.7" r="1.05" fill="#7cae00"/>
<circle cx="276.46" cy="718.41" r="1.05" fill="#7cae00"/>
<circle cx="279.38" cy="746.03" r="1.05" fill="#7cae00"/>
<circle cx="274.27" cy="727.41" r="1.05" fill="#7cae00"/>
<circle cx="278.92" cy="736.29" r="1.05" fill="#7cae00"/>
<circle cx="285.85" cy="741.55" r="1.05" fill="#7cae00"/>
<line x1="280.2" y1="711" x2="280.2" y2="727.4" stroke="#7cae00" stroke-width="0.6"/>
<line x1="280.2" y1="740.4" x2="280.2" y2="755.2" stroke="#7cae00" stroke-width="0.6"/>
<rect x="269.25" y="727.4" width="21.9" height="13" fill="none" stroke="#7cae00" stroke-width="0.6"/>
<line x1="269.25" y1="733.3" x2="291.15" y2="733.3" stroke="#7cae00" stroke-width="0.8"/>
<circle cx="305.45" cy="718.03" r="1.05" fill="#00bfc4"/>
<circle cx="313.59" cy="714.6" r="1.05" fill="#00bfc4"/>
<circle cx="312.16" cy="737.27" r="1.05" fill="#00bfc4"/>
<circle cx="311.39" cy="735.45" r="1.05" fill="#00bfc4"/>
<circle cx="312.19" cy="713.7" r="1.05" fill="#00bfc4"/>
<circle cx="310.69" cy="724.02" r="1.05" fill="#00bfc4"/>
<circle cx="308.56" cy="713.69" r="1.05" fill="#00bfc4"/>
<circle cx="306.3" cy="741.52" r="1.05" fill="#00bfc4"/>
<circle cx="313.25" cy="712.74" r="1.05" fill="#00bfc4"/>
<circle cx="312.04" cy="712.14" r="1.05" fill="#00bfc4"/>
<circle cx="306.23" cy="741.29" r="1.05" fill="#00bfc4"/>
<circle cx="310.86" cy="722.9" r="1.05" fill="#00bfc4"/>
<circle cx="312.35" cy="717.72" r="1.05" fill="#00bfc4"/>
<circle cx="312.95" cy="714.69" r="1.05" fill="#00bfc4"/>
<circle cx="307.89" cy="727.88" r="1.05" fill="#00bfc4"/>
<circle cx="313.21" cy="722.7" r="1.05" fill="#00bfc4"/>
<circle cx="309.37" cy="748" r="1.05" fill="#00bfc4"/>
<circle cx="308.88" cy="729.25" r="1.05" fill="#00bfc4"/>
<circle cx="306.01" cy="721.9" r="1.05" fill="#00bfc4"/>
<circle cx="311.73" cy="732" r="1.05" fill="#00bfc4"/>
<circle cx="311.27" cy="736.72" r="1.05" fill="#00bfc4"/>
<circle cx="309.51" cy="737.45" r="1.05" fill="#00bfc4"/>
<circle cx="315.28" cy="740.38" r="1.05" fill="#00bfc4"/>
<circle cx="312.49" cy="750.07" r="1.05" fill="#00bfc4"/>
<circle cx="312.29" cy="724.17" r="1.05" fill="#00bfc4"/>
<circle cx="308.76" cy="715.59" r="1.05" fill="#00bfc4"/>
<circle cx="314.05" cy="741.47" r="1.05" fill="#00bfc4"/>
<circle cx="312.25" cy="749.66" r="1.05" fill="#00bfc4"/>
<circle cx="310.91" cy="743.8" r="1.05" fill="#00bfc4"/>
<circle cx="308.88" cy="713.41" r="1.05" fill="#00bfc4"/>
<circle cx="316.97" cy="730.4" r="1.05" fill="#00bfc4"/>
<circle cx="303.99" cy="721.03" r="1.05" fill="#00bfc4"/>
<circle cx="315.77" cy="730.55" r="1.05" fill="#00bfc4"/>
<circle cx="306.72" cy="719.19" r="1.05" fill="#00bfc4"/>
<circle cx="313.17" cy="735.99" r="1.05" fill="#00bfc4"/>
<circle cx="309.62" cy="720.23" r="1.05" fill="#00bfc4"/>
<circle cx="312.84" cy="731.07" r="1.05" fill="#00bfc4"/>
<circle cx="305.04" cy="725.72" r="1.05" fill="#00bfc4"/>
<circle cx="310.1" cy="715.71" r="1.05" fill="#00bfc4"/>
<circle cx="308.74" cy="727.38" r="1.05" fill="#00bfc4"/>
<circle cx="305.15" cy="723.09" r="1.05" fill="#00bfc4"/>
<circle cx="309.17" cy="722.94" r="1.05" fill="#00bfc4"/>
<circle cx="307.67" cy="723.31" r="1.05" fill="#00bfc4"/>
<circle cx="306.55" cy="729.7" r="1.05" fill="#00bfc4"/>
<circle cx="305.72" cy="740.37" r="1.05" fill="#00bfc4"/>
<circle cx="305.92" cy="733.81" r="1.05" fill="#00bfc4"/>
<circle cx="309.88" cy="708.95" r="1.05" fill="#00bfc4"/>
<circle cx="309.84" cy="720.08" r="1.05" fill="#00bfc4"/>
<circle cx="315.54" cy="749.29" r="1.05" fill="#00bfc4"/>
<circle cx="304.29" cy="733.42" r="1.05" fill="#00bfc4"/>
<circle cx="305.45" cy="734.75" r="1.05" fill="#00bfc4"/>
<circle cx="315.46" cy="725.01" r="1.05" fill="#00bfc4"/>
<circle cx="317.41" cy="739.62" r="1.05" fill="#00bfc4"/>
<circle cx="303.01" cy="716.12" r="1.05" fill="#00bfc4"/>
<circle cx="307.05" cy="734.6" r="1.05" fill="#00bfc4"/>
<circle cx="313.43" cy="724.61" r="1.05" fill="#00bfc4"/>
<circle cx="316.72" cy="710.86" r="1.05" fill="#00bfc4"/>
<circle cx="312.47" cy="736.51" r="1.05" fill="#00bfc4"/>
<circle cx="314.58" cy="724.49" r="1.05" fill="#00bfc4"/>
<circle cx="313.81" cy="736.26" r="1.05" fill="#00bfc4"/>
<circle cx="305.73" cy="725.14" r="1.05" fill="#00bfc4"/>
<circle cx="317.15" cy="731.16" r="1.05" fill="#00bfc4"/>
<circle cx="311.93" cy="719.7" r="1.05" fill="#00bfc4"/>
<circle cx="310.13" cy="717.7" r="1.05" fill="#00bfc4"/>
<circle cx="308.02" cy="706.14" r="1.05" fill="#00bfc4"/>
<circle cx="304.92" cy="748.71" r="1.05" fill="#00bfc4"/>
<circle cx="306.63" cy="716.59" r="1.05" fill="#00bfc4"/>
<circle cx="304.97" cy="734.79" r="1.05" fill="#00bfc4"/>
<circle cx="307.12" cy="712.06" r="1.05" fill="#00bfc4"/>
<circle cx="311.25" cy="727.09" r="1.05" fill="#00bfc4"/>
<circle cx="317.2" cy="715.64" r="1.05" fill="#00bfc4"/>
<circle cx="303.9" cy="734.36" r="1.05" fill="#00bfc4"/>
<circle cx="317.28" cy="726.98" r="1.05" fill="#00bfc4"/>
<circle cx="303.36" cy="748.22" r="1.05" fill="#00bfc4"/>
<circle cx="311.87" cy="743.38" r="1.05" fill="#00bfc4"/>
<circle cx="309.97" cy="728.64" r="1.05" fill="#00bfc4"/>
<circle cx="316.07" cy="731.74" r="1.05" fill="#00bfc4"/>
<circle cx="313.42" cy="702.2" r="1.05" fill="#00bfc4"/>
<circle cx="304.09" cy="713.17" r="1.05" fill="#00bfc4"/>
<circle cx="313.31" cy="731.89" r="1.05" fill="#00bfc4"/>
<circle cx="312.63" cy="712.08" r="1.05" fill="#00bfc4"/>
<circle cx="306" cy="715.67" r="1.05" fill="#00bfc4"/>
<circle cx="305.55" cy="725.4" r="1.05" fill="#00bfc4"/>
<circle cx="317.57" cy="724.31" r="1.05" fill="#00bfc4"/>
<circle cx="304.92" cy="724.54" r="1.05" fill="#00bfc4"/>
<circle cx="307.98" cy="703.18" r="1.05" fill="#00bfc4"/>
<circle cx="317.37" cy="739.2" r="1.05" fill="#00bfc4"/>
<circle cx="306.5" cy="726.03" r="1.05" fill="#00bfc4"/>
<circle cx="304.54" cy="736.14" r="1.05" fill="#00bfc4"/>
<circle cx="313.26" cy="727.16" r="1.05" fill="#00bfc4"/>
<circle cx="313.29" cy="735.41" r="1.05" fill="#00bfc4"/>
<circle cx="304.23" cy="716.18" r="1.05" fill="#00bfc4"/>
<circle cx="317.81" cy="710.65" r="1.05" fill="#00bfc4"/>
<circle cx="303.18" cy="721.82" r="1.05" fill="#00bfc4"/>
<circle cx="317.74" cy="719.92" r="1.05" fill="#00bfc4"/>
<circle cx="315.62" cy="727.29" r="1.05" fill="#00bfc4"/>
<circle cx="308.76" cy="733.88" r="1.05" fill="#00bfc4"/>
<circle cx="308.6" cy="740.28" r="1.05" fill="#00bfc4"/>
<circle cx="315.09" cy="723.2" r="1.05" fill="#00bfc4"/>
<circle cx="307.74" cy="719.38" r="1.05" fill="#00bfc4"/>
<circle cx="314.96" cy="729.49" r="1.05" fill="#00bfc4"/>
<circle cx="313.13" cy="728.84" r="1.05" fill="#00bfc4"/>
<circle cx="316.62" cy="750.14" r="1.05" fill="#00bfc4"/>
<circle cx="307.15" cy="718.39" r="1.05" fill="#00bfc4"/>
<circle cx="304.18" cy="742.16" r="1.05" fill="#00bfc4"/>
<circle cx="316.27" cy="712.79" r="1.05" fill="#00bfc4"/>
<circle cx="306.87" cy="746.38" r="1.05" fill="#00bfc4"/>
<circle cx="306" cy="730.02" r="1.05" fill="#00bfc4"/>
<circle cx="306.18" cy="744.27" r="1.05" fill="#00bfc4"/>
<circle cx="315.18" cy="737.54" r="1.05" fill="#00bfc4"/>
<circle cx="313.24" cy="748.28" r="1.05" fill="#00bfc4"/>
<circle cx="316.72" cy="731.06" r="1.05" fill="#00bfc4"/>
<circle cx="311.68" cy="729.75" r="1.05" fill="#00bfc4"/>
<circle cx="305.46" cy="736.88" r="1.05" fill="#00bfc4"/>
<circle cx="303.05" cy="745.87" r="1.05" fill="#00bfc4"/>
<circle cx="310.95" cy="714.98" r="1.05" fill="#00bfc4"/>
<circle cx="303.87" cy="737.06" r="1.05" fill="#00bfc4"/>
<circle cx="310.75" cy="724.13" r="1.05" fill="#00bfc4"/>
<circle cx="308.92" cy="730.74" r="1.05" fill="#00bfc4"/>
<circle cx="313.09" cy="723.27" r="1.05" fill="#00bfc4"/>
<circle cx="304.15" cy="709.42" r="1.05" fill="#00bfc4"/>
<circle cx="309.96" cy="717.84" r="1.05" fill="#00bfc4"/>
<circle cx="316.29" cy="743.94" r="1.05" fill="#00bfc4"/>
<circle cx="313.96" cy="710.28" r="1.05" fill="#00bfc4"/>
<circle cx="315.27" cy="730.93" r="1.05" fill="#00bfc4"/>
<circle cx="310.55" cy="717.72" r="1.05" fill="#00bfc4"/>
<circle cx="305.78" cy="740.79" r="1.05" fill="#00bfc4"/>
<circle cx="308.67" cy="742.55" r="1.05" fill="#00bfc4"/>
<circle cx="315.63" cy="717.59" r="1.05" fill="#00bfc4"/>
<circle cx="305.22" cy="731.07" r="1.05" fill="#00bfc4"/>
<circle cx="307.15" cy="713.79" r="1.05" fill="#00bfc4"/>
<circle cx="311.84" cy="726.74" r="1.05" fill="#00bfc4"/>
<circle cx="310.39" cy="727.58" r="1.05" fill="#00bfc4"/>
<circle cx="308.5" cy="731.37" r="1.05" fill="#00bfc4"/>
<circle cx="316.17" cy="708.66" r="1.05" fill="#00bfc4"/>
<circle cx="314.02" cy="740.97" r="1.05" fill="#00bfc4"/>
<circle cx="311.06" cy="737.6" r="1.05" fill="#00bfc4"/>
<circle cx="308.42" cy="714.23" r="1.05" fill="#00bfc4"/>
<circle cx="316.34" cy="732.34" r="1.05" fill="#00bfc4"/>
<circle cx="306.53" cy="711.08" r="1.05" fill="#00bfc4"/>
<circle cx="308.38" cy="732.37" r="1.05" fill="#00bfc4"/>
<circle cx="308.73" cy="722.42" r="1.05" fill="#00bfc4"/>
<circle cx="308.06" cy="713.54" r="1.05" fill="#00bfc4"/>
<circle cx="315" cy="718.36" r="1.05" fill="#00bfc4"/>
<circle cx="317.59" cy="727.11" r="1.05" fill="#00bfc4"/>
<circle cx="305.44" cy="708.37" r="1.05" fill="#00bfc4"/>
<circle cx="308.95" cy="750.09" r="1.05" fill="#00bfc4"/>
<circle cx="307.83" cy="704.56" r="1.05" fill="#00bfc4"/>
<circle cx="307.79" cy="715.06" r="1.05" fill="#00bfc4"/>
<circle cx="316.09" cy="709.35" r="1.05" fill="#00bfc4"/>
<line x1="310.4" y1="696" x2="310.4" y2="719" stroke="#00bfc4" stroke-width="0.6"/>
<line x1="310.4" y1="735.3" x2="310.4" y2="754.3" stroke="#00bfc4" stroke-width="0.6"/>
<rect x="299.45" y="719" width="21.9" height="16.3" fill="none" stroke="#00bfc4" stroke-width="0.6"/>
<line x1="299.45" y1="728" x2="321.35" y2="728" stroke="#00bfc4" stroke-width="0.8"/>
<circle cx="344.88" cy="714.47" r="1.05" fill="#c77cff"/>
<circle cx="345.12" cy="726.96" r="1.05" fill="#c77cff"/>
<circle cx="343.14" cy="724.61" r="1.05" fill="#c77cff"/>
<circle cx="335.93" cy="721.54" r="1.05" fill="#c77cff"/>
<circle cx="347.18" cy="741.12" r="1.05" fill="#c77cff"/>
<circle cx="337.44" cy="741.03" r="1.05" fill="#c77cff"/>
<circle cx="337.48" cy="724.44" r="1.05" fill="#c77cff"/>
<circle cx="335.71" cy="727.49" r="1.05" fill="#c77cff"/>
<circle cx="336.85" cy="716.97" r="1.05" fill="#c77cff"/>
<circle cx="340.24" cy="716.68" r="1.05" fill="#c77cff"/>
<circle cx="340.33" cy="727.2" r="1.05" fill="#c77cff"/>
<line x1="341.6" y1="712.8" x2="341.6" y2="720.7" stroke="#c77cff" stroke-width="0.6"/>
<line x1="341.6" y1="734.3" x2="341.6" y2="743.5" stroke="#c77cff" stroke-width="0.6"/>
<rect x="330.8" y="720.7" width="21.6" height="13.6" fill="none" stroke="#c77cff" stroke-width="0.6"/>
<line x1="330.8" y1="725.5" x2="352.4" y2="725.5" stroke="#c77cff" stroke-width="0.8"/>
<circle cx="275.7" cy="696.79" r="0.9" fill="#7cae00"/>
<circle cx="279" cy="698.26" r="0.9" fill="#7cae00"/>
<text transform="translate(374.2 637.5)" font-size="14.8" text-anchor="start" fill="#111">M</text>
<text transform="translate(401.9 645.7) scale(0.4500 0.5400)" font-size="10" text-anchor="start" fill="#151515" stroke="#151515" stroke-width="0.222">Stage</text>
<rect x="415.7" y="642" width="4.9" height="4.4" fill="none" stroke="#f8766d" stroke-width="0.5"/>
<line x1="415.7" y1="644.4" x2="420.6" y2="644.4" stroke="#f8766d" stroke-width="0.5"/>
<line x1="418.15" y1="641.3" x2="418.15" y2="647.1" stroke="#f8766d" stroke-width="0.5"/>
<text transform="translate(423.4 645.7) scale(0.3900 0.4680)" font-size="10" text-anchor="start" fill="#151515" stroke="#151515" stroke-width="0.256">stage I</text>
<rect x="437.1" y="642" width="4.9" height="4.4" fill="none" stroke="#7cae00" stroke-width="0.5"/>
<line x1="437.1" y1="644.4" x2="442" y2="644.4" stroke="#7cae00" stroke-width="0.5"/>
<line x1="439.55" y1="641.3" x2="439.55" y2="647.1" stroke="#7cae00" stroke-width="0.5"/>
<text transform="translate(444.5 645.7) scale(0.3900 0.4680)" font-size="10" text-anchor="start" fill="#151515" stroke="#151515" stroke-width="0.256">stage II</text>
<rect x="459" y="642" width="4.9" height="4.4" fill="none" stroke="#00bfc4" stroke-width="0.5"/>
<line x1="459" y1="644.4" x2="463.9" y2="644.4" stroke="#00bfc4" stroke-width="0.5"/>
<line x1="461.45" y1="641.3" x2="461.45" y2="647.1" stroke="#00bfc4" stroke-width="0.5"/>
<text transform="translate(467 645.7) scale(0.3900 0.4680)" font-size="10" text-anchor="start" fill="#151515" stroke="#151515" stroke-width="0.256">stage III</text>
<rect x="482.4" y="642" width="4.9" height="4.4" fill="none" stroke="#c77cff" stroke-width="0.5"/>
<line x1="482.4" y1="644.4" x2="487.3" y2="644.4" stroke="#c77cff" stroke-width="0.5"/>
<line x1="484.85" y1="641.3" x2="484.85" y2="647.1" stroke="#c77cff" stroke-width="0.5"/>
<text transform="translate(489.9 645.7) scale(0.3900 0.4680)" font-size="10" text-anchor="start" fill="#151515" stroke="#151515" stroke-width="0.256">stage IV</text>
<line x1="388.8" y1="654.2" x2="388.8" y2="760.4" stroke="#444" stroke-width="0.8"/>
<line x1="388.4" y1="760.1" x2="516.3" y2="760.1" stroke="#444" stroke-width="0.8"/>
<line x1="387.2" y1="674" x2="388.8" y2="674" stroke="#444" stroke-width="0.5"/>
<text transform="translate(386.5 675.6) scale(0.4400 0.4840)" font-size="10" text-anchor="end" fill="#151515" stroke="#151515" stroke-width="0.248">4</text>
<line x1="387.2" y1="695.1" x2="388.8" y2="695.1" stroke="#444" stroke-width="0.5"/>
<text transform="translate(386.5 696.7) scale(0.4400 0.4840)" font-size="10" text-anchor="end" fill="#151515" stroke="#151515" stroke-width="0.248">3</text>
<line x1="387.2" y1="716.2" x2="388.8" y2="716.2" stroke="#444" stroke-width="0.5"/>
<text transform="translate(386.5 717.8) scale(0.4400 0.4840)" font-size="10" text-anchor="end" fill="#151515" stroke="#151515" stroke-width="0.248">2</text>
<line x1="387.2" y1="737.3" x2="388.8" y2="737.3" stroke="#444" stroke-width="0.5"/>
<text transform="translate(386.5 738.9) scale(0.4400 0.4840)" font-size="10" text-anchor="end" fill="#151515" stroke="#151515" stroke-width="0.248">1</text>
<line x1="387.2" y1="758.4" x2="388.8" y2="758.4" stroke="#444" stroke-width="0.5"/>
<text transform="translate(386.5 760) scale(0.4400 0.4840)" font-size="10" text-anchor="end" fill="#151515" stroke="#151515" stroke-width="0.248">0</text>
<line x1="406.3" y1="760.1" x2="406.3" y2="761.7" stroke="#444" stroke-width="0.5"/>
<text transform="translate(406.3 765.9) scale(0.4500 0.5175)" font-size="10" text-anchor="middle" fill="#151515" stroke="#151515" stroke-width="0.232">stage I</text>
<line x1="437.4" y1="760.1" x2="437.4" y2="761.7" stroke="#444" stroke-width="0.5"/>
<text transform="translate(437.4 765.9) scale(0.4500 0.5175)" font-size="10" text-anchor="middle" fill="#151515" stroke="#151515" stroke-width="0.232">stage II</text>
<line x1="467.6" y1="760.1" x2="467.6" y2="761.7" stroke="#444" stroke-width="0.5"/>
<text transform="translate(467.6 765.9) scale(0.4500 0.5175)" font-size="10" text-anchor="middle" fill="#151515" stroke="#151515" stroke-width="0.232">stage III</text>
<line x1="498.7" y1="760.1" x2="498.7" y2="761.7" stroke="#444" stroke-width="0.5"/>
<text transform="translate(498.7 765.9) scale(0.4500 0.5175)" font-size="10" text-anchor="middle" fill="#151515" stroke="#151515" stroke-width="0.232">stage IV</text>
<text transform="translate(452.3 771.2) scale(0.4500 0.5175)" font-size="10" text-anchor="middle" fill="#151515" stroke="#151515" stroke-width="0.232">Stage</text>
<text transform="translate(380.6 712) rotate(-90) scale(0.3900 0.4875)" font-size="10" text-anchor="middle" fill="#151515" stroke="#151515" stroke-width="0.246">SLC25A19 expression</text>
<path d="M406.3 696 V694.2 H437.4 V696" fill="none" stroke="#777" stroke-width="0.6"/>
<text transform="translate(421.85 693) scale(0.3900 0.4680)" font-size="10" text-anchor="middle" fill="#151515" stroke="#151515" stroke-width="0.256">0.0021</text>
<path d="M406.3 689.2 V687.4 H467.6 V689.2" fill="none" stroke="#777" stroke-width="0.6"/>
<text transform="translate(436.95 686.2) scale(0.3900 0.4680)" font-size="10" text-anchor="middle" fill="#151515" stroke="#151515" stroke-width="0.256">0.00082</text>
<path d="M406.3 682.5 V680.7 H498.7 V682.5" fill="none" stroke="#777" stroke-width="0.6"/>
<text transform="translate(452.5 679.5) scale(0.3900 0.4680)" font-size="10" text-anchor="middle" fill="#151515" stroke="#151515" stroke-width="0.256">0.57</text>
<path d="M437.4 675.2 V673.4 H467.6 V675.2" fill="none" stroke="#777" stroke-width="0.6"/>
<text transform="translate(452.5 672.2) scale(0.3900 0.4680)" font-size="10" text-anchor="middle" fill="#151515" stroke="#151515" stroke-width="0.256">0.8</text>
<path d="M437.4 668.3 V666.5 H498.7 V668.3" fill="none" stroke="#777" stroke-width="0.6"/>
<text transform="translate(468.05 665.3) scale(0.3900 0.4680)" font-size="10" text-anchor="middle" fill="#151515" stroke="#151515" stroke-width="0.256">0.17</text>
<path d="M467.6 661.4 V659.6 H498.7 V661.4" fill="none" stroke="#777" stroke-width="0.6"/>
<text transform="translate(483.15 658.4) scale(0.3900 0.4680)" font-size="10" text-anchor="middle" fill="#151515" stroke="#151515" stroke-width="0.256">0.11</text>
<circle cx="409.78" cy="715.25" r="1.05" fill="#f8766d"/>
<circle cx="402.21" cy="739.2" r="1.05" fill="#f8766d"/>
<circle cx="410.9" cy="741.75" r="1.05" fill="#f8766d"/>
<circle cx="399.05" cy="720.88" r="1.05" fill="#f8766d"/>
<circle cx="400.57" cy="723.99" r="1.05" fill="#f8766d"/>
<circle cx="408.63" cy="716.44" r="1.05" fill="#f8766d"/>
<circle cx="411.73" cy="741.01" r="1.05" fill="#f8766d"/>
<circle cx="407.52" cy="722.04" r="1.05" fill="#f8766d"/>
<circle cx="408.12" cy="740.93" r="1.05" fill="#f8766d"/>
<circle cx="408.22" cy="728.89" r="1.05" fill="#f8766d"/>
<circle cx="406.84" cy="743.47" r="1.05" fill="#f8766d"/>
<circle cx="402.68" cy="728.45" r="1.05" fill="#f8766d"/>
<circle cx="400.3" cy="728.92" r="1.05" fill="#f8766d"/>
<circle cx="407.77" cy="722.92" r="1.05" fill="#f8766d"/>
<circle cx="402.58" cy="728.48" r="1.05" fill="#f8766d"/>
<circle cx="405.02" cy="751.55" r="1.05" fill="#f8766d"/>
<circle cx="413.67" cy="726.32" r="1.05" fill="#f8766d"/>
<circle cx="401.8" cy="738.47" r="1.05" fill="#f8766d"/>
<circle cx="408.81" cy="732.79" r="1.05" fill="#f8766d"/>
<circle cx="410.88" cy="736.66" r="1.05" fill="#f8766d"/>
<circle cx="412.51" cy="747.42" r="1.05" fill="#f8766d"/>
<circle cx="413.74" cy="738.35" r="1.05" fill="#f8766d"/>
<circle cx="399.4" cy="729.23" r="1.05" fill="#f8766d"/>
<circle cx="404.48" cy="723.64" r="1.05" fill="#f8766d"/>
<circle cx="408.17" cy="730.79" r="1.05" fill="#f8766d"/>
<circle cx="400.07" cy="729.77" r="1.05" fill="#f8766d"/>
<circle cx="411" cy="733.53" r="1.05" fill="#f8766d"/>
<circle cx="402.46" cy="733.18" r="1.05" fill="#f8766d"/>
<circle cx="409.56" cy="722.15" r="1.05" fill="#f8766d"/>
<circle cx="408.26" cy="728.37" r="1.05" fill="#f8766d"/>
<circle cx="409.59" cy="745.77" r="1.05" fill="#f8766d"/>
<circle cx="403.45" cy="737.82" r="1.05" fill="#f8766d"/>
<circle cx="411.67" cy="726.09" r="1.05" fill="#f8766d"/>
<circle cx="412.16" cy="746.77" r="1.05" fill="#f8766d"/>
<circle cx="406.64" cy="728.03" r="1.05" fill="#f8766d"/>
<circle cx="409.81" cy="744.23" r="1.05" fill="#f8766d"/>
<circle cx="412.55" cy="736.33" r="1.05" fill="#f8766d"/>
<circle cx="401.79" cy="735.4" r="1.05" fill="#f8766d"/>
<circle cx="400.2" cy="744.9" r="1.05" fill="#f8766d"/>
<circle cx="407.47" cy="733.26" r="1.05" fill="#f8766d"/>
<circle cx="407.98" cy="749.29" r="1.05" fill="#f8766d"/>
<circle cx="403.4" cy="743.85" r="1.05" fill="#f8766d"/>
<circle cx="411.46" cy="741.11" r="1.05" fill="#f8766d"/>
<circle cx="401.97" cy="719.49" r="1.05" fill="#f8766d"/>
<circle cx="401.24" cy="733.25" r="1.05" fill="#f8766d"/>
<circle cx="400.09" cy="737.27" r="1.05" fill="#f8766d"/>
<circle cx="401.97" cy="729" r="1.05" fill="#f8766d"/>
<circle cx="410.78" cy="733.4" r="1.05" fill="#f8766d"/>
<circle cx="400.05" cy="727" r="1.05" fill="#f8766d"/>
<circle cx="406.39" cy="733.3" r="1.05" fill="#f8766d"/>
<circle cx="402.24" cy="731.21" r="1.05" fill="#f8766d"/>
<circle cx="401.75" cy="741.32" r="1.05" fill="#f8766d"/>
<circle cx="406.12" cy="735.67" r="1.05" fill="#f8766d"/>
<circle cx="407.24" cy="716.14" r="1.05" fill="#f8766d"/>
<circle cx="404.73" cy="725.53" r="1.05" fill="#f8766d"/>
<circle cx="404.71" cy="739.38" r="1.05" fill="#f8766d"/>
<circle cx="410.41" cy="732.34" r="1.05" fill="#f8766d"/>
<circle cx="408" cy="725.01" r="1.05" fill="#f8766d"/>
<circle cx="400.8" cy="737.64" r="1.05" fill="#f8766d"/>
<circle cx="404.14" cy="713.81" r="1.05" fill="#f8766d"/>
<circle cx="405.69" cy="730.78" r="1.05" fill="#f8766d"/>
<circle cx="405.21" cy="723.41" r="1.05" fill="#f8766d"/>
<circle cx="412.03" cy="725.47" r="1.05" fill="#f8766d"/>
<circle cx="399.36" cy="732.65" r="1.05" fill="#f8766d"/>
<circle cx="410.77" cy="731.73" r="1.05" fill="#f8766d"/>
<circle cx="403.41" cy="729.02" r="1.05" fill="#f8766d"/>
<circle cx="398.98" cy="740.12" r="1.05" fill="#f8766d"/>
<circle cx="405.37" cy="747.64" r="1.05" fill="#f8766d"/>
<circle cx="406.14" cy="721.55" r="1.05" fill="#f8766d"/>
<circle cx="404.33" cy="722.47" r="1.05" fill="#f8766d"/>
<circle cx="399.82" cy="727.41" r="1.05" fill="#f8766d"/>
<circle cx="400.22" cy="750.97" r="1.05" fill="#f8766d"/>
<circle cx="405.41" cy="738.02" r="1.05" fill="#f8766d"/>
<circle cx="405.21" cy="726.76" r="1.05" fill="#f8766d"/>
<circle cx="413.22" cy="720.04" r="1.05" fill="#f8766d"/>
<circle cx="408.07" cy="736.8" r="1.05" fill="#f8766d"/>
<circle cx="401.2" cy="733.01" r="1.05" fill="#f8766d"/>
<circle cx="407.56" cy="721.8" r="1.05" fill="#f8766d"/>
<circle cx="403.35" cy="720.3" r="1.05" fill="#f8766d"/>
<circle cx="412.22" cy="716.78" r="1.05" fill="#f8766d"/>
<circle cx="402.49" cy="733.07" r="1.05" fill="#f8766d"/>
<circle cx="411.15" cy="727.79" r="1.05" fill="#f8766d"/>
<circle cx="407.42" cy="726.75" r="1.05" fill="#f8766d"/>
<circle cx="400.99" cy="748.46" r="1.05" fill="#f8766d"/>
<circle cx="412.76" cy="734.12" r="1.05" fill="#f8766d"/>
<circle cx="400.72" cy="731.81" r="1.05" fill="#f8766d"/>
<circle cx="403.07" cy="734.38" r="1.05" fill="#f8766d"/>
<circle cx="407.85" cy="734.67" r="1.05" fill="#f8766d"/>
<circle cx="412.24" cy="732.79" r="1.05" fill="#f8766d"/>
<circle cx="403.11" cy="730.94" r="1.05" fill="#f8766d"/>
<circle cx="413.64" cy="719.16" r="1.05" fill="#f8766d"/>
<circle cx="406.98" cy="733.67" r="1.05" fill="#f8766d"/>
<circle cx="407.94" cy="724.46" r="1.05" fill="#f8766d"/>
<circle cx="402.47" cy="732.09" r="1.05" fill="#f8766d"/>
<circle cx="408.66" cy="748.14" r="1.05" fill="#f8766d"/>
<circle cx="411.27" cy="726.35" r="1.05" fill="#f8766d"/>
<circle cx="413.52" cy="723.13" r="1.05" fill="#f8766d"/>
<circle cx="400.56" cy="737.91" r="1.05" fill="#f8766d"/>
<circle cx="412.73" cy="748.77" r="1.05" fill="#f8766d"/>
<circle cx="405.85" cy="735.9" r="1.05" fill="#f8766d"/>
<circle cx="405.85" cy="753.16" r="1.05" fill="#f8766d"/>
<circle cx="399.67" cy="726.36" r="1.05" fill="#f8766d"/>
<circle cx="408.64" cy="741.64" r="1.05" fill="#f8766d"/>
<circle cx="411.04" cy="731.99" r="1.05" fill="#f8766d"/>
<circle cx="412.29" cy="726.2" r="1.05" fill="#f8766d"/>
<circle cx="410.94" cy="731.83" r="1.05" fill="#f8766d"/>
<circle cx="413.11" cy="732.29" r="1.05" fill="#f8766d"/>
<circle cx="411.52" cy="743.72" r="1.05" fill="#f8766d"/>
<circle cx="408.42" cy="729.2" r="1.05" fill="#f8766d"/>
<circle cx="400.78" cy="745.33" r="1.05" fill="#f8766d"/>
<circle cx="399.61" cy="732.66" r="1.05" fill="#f8766d"/>
<circle cx="406.45" cy="733.93" r="1.05" fill="#f8766d"/>
<circle cx="410.62" cy="722.35" r="1.05" fill="#f8766d"/>
<circle cx="410.12" cy="738.61" r="1.05" fill="#f8766d"/>
<circle cx="406.26" cy="726.96" r="1.05" fill="#f8766d"/>
<circle cx="412.67" cy="736.97" r="1.05" fill="#f8766d"/>
<circle cx="404.99" cy="741.54" r="1.05" fill="#f8766d"/>
<circle cx="401.1" cy="721.15" r="1.05" fill="#f8766d"/>
<circle cx="399.23" cy="731.64" r="1.05" fill="#f8766d"/>
<circle cx="412.03" cy="725.53" r="1.05" fill="#f8766d"/>
<circle cx="410.8" cy="738.72" r="1.05" fill="#f8766d"/>
<circle cx="398.88" cy="728.62" r="1.05" fill="#f8766d"/>
<circle cx="400.15" cy="733.5" r="1.05" fill="#f8766d"/>
<circle cx="404.77" cy="744.88" r="1.05" fill="#f8766d"/>
<circle cx="403.06" cy="731.55" r="1.05" fill="#f8766d"/>
<circle cx="401.47" cy="734.54" r="1.05" fill="#f8766d"/>
<circle cx="411.53" cy="739.72" r="1.05" fill="#f8766d"/>
<circle cx="404.27" cy="737.82" r="1.05" fill="#f8766d"/>
<circle cx="402.25" cy="729.6" r="1.05" fill="#f8766d"/>
<circle cx="399.2" cy="735.82" r="1.05" fill="#f8766d"/>
<circle cx="407.61" cy="728.36" r="1.05" fill="#f8766d"/>
<circle cx="407.06" cy="732.59" r="1.05" fill="#f8766d"/>
<circle cx="407.78" cy="735.35" r="1.05" fill="#f8766d"/>
<circle cx="413.57" cy="741.3" r="1.05" fill="#f8766d"/>
<circle cx="401.59" cy="737.38" r="1.05" fill="#f8766d"/>
<circle cx="413.28" cy="727.89" r="1.05" fill="#f8766d"/>
<circle cx="406.23" cy="741.71" r="1.05" fill="#f8766d"/>
<circle cx="399.99" cy="742.87" r="1.05" fill="#f8766d"/>
<circle cx="402.58" cy="731.98" r="1.05" fill="#f8766d"/>
<circle cx="406.51" cy="719.43" r="1.05" fill="#f8766d"/>
<circle cx="405.88" cy="729.21" r="1.05" fill="#f8766d"/>
<circle cx="410.24" cy="737.79" r="1.05" fill="#f8766d"/>
<circle cx="412.46" cy="734.97" r="1.05" fill="#f8766d"/>
<circle cx="407.46" cy="752.45" r="1.05" fill="#f8766d"/>
<circle cx="412.71" cy="732.54" r="1.05" fill="#f8766d"/>
<circle cx="401.77" cy="722.85" r="1.05" fill="#f8766d"/>
<circle cx="411.98" cy="736.05" r="1.05" fill="#f8766d"/>
<circle cx="400.26" cy="728.11" r="1.05" fill="#f8766d"/>
<circle cx="409.74" cy="726.59" r="1.05" fill="#f8766d"/>
<circle cx="405.13" cy="723.47" r="1.05" fill="#f8766d"/>
<circle cx="404.65" cy="734.43" r="1.05" fill="#f8766d"/>
<circle cx="399.9" cy="749.5" r="1.05" fill="#f8766d"/>
<circle cx="413.18" cy="739.18" r="1.05" fill="#f8766d"/>
<circle cx="409.32" cy="746.89" r="1.05" fill="#f8766d"/>
<circle cx="403.42" cy="728.39" r="1.05" fill="#f8766d"/>
<circle cx="409.69" cy="731.84" r="1.05" fill="#f8766d"/>
<circle cx="401.6" cy="736.87" r="1.05" fill="#f8766d"/>
<circle cx="402.87" cy="727.69" r="1.05" fill="#f8766d"/>
<circle cx="411.52" cy="749.54" r="1.05" fill="#f8766d"/>
<circle cx="400.3" cy="734.03" r="1.05" fill="#f8766d"/>
<circle cx="400.67" cy="740.17" r="1.05" fill="#f8766d"/>
<circle cx="399.4" cy="744.61" r="1.05" fill="#f8766d"/>
<circle cx="400.07" cy="749.18" r="1.05" fill="#f8766d"/>
<circle cx="400.53" cy="737.51" r="1.05" fill="#f8766d"/>
<circle cx="400.07" cy="725.64" r="1.05" fill="#f8766d"/>
<circle cx="402.95" cy="726.24" r="1.05" fill="#f8766d"/>
<circle cx="400.92" cy="726.65" r="1.05" fill="#f8766d"/>
<circle cx="400.66" cy="736.33" r="1.05" fill="#f8766d"/>
<circle cx="406.79" cy="712.95" r="1.05" fill="#f8766d"/>
<circle cx="413.51" cy="731.12" r="1.05" fill="#f8766d"/>
<circle cx="404.36" cy="737.9" r="1.05" fill="#f8766d"/>
<circle cx="403.97" cy="735.24" r="1.05" fill="#f8766d"/>
<circle cx="409.15" cy="732.14" r="1.05" fill="#f8766d"/>
<circle cx="411.87" cy="730.97" r="1.05" fill="#f8766d"/>
<circle cx="408.04" cy="727.75" r="1.05" fill="#f8766d"/>
<circle cx="402.61" cy="737.17" r="1.05" fill="#f8766d"/>
<circle cx="398.97" cy="722.37" r="1.05" fill="#f8766d"/>
<circle cx="401.65" cy="752.12" r="1.05" fill="#f8766d"/>
<circle cx="411.52" cy="715.57" r="1.05" fill="#f8766d"/>
<circle cx="410.35" cy="721.26" r="1.05" fill="#f8766d"/>
<circle cx="410.42" cy="745.27" r="1.05" fill="#f8766d"/>
<circle cx="399.69" cy="739.53" r="1.05" fill="#f8766d"/>
<circle cx="404.21" cy="741.97" r="1.05" fill="#f8766d"/>
<circle cx="408.85" cy="720.87" r="1.05" fill="#f8766d"/>
<circle cx="413.13" cy="718.93" r="1.05" fill="#f8766d"/>
<circle cx="411.62" cy="719.79" r="1.05" fill="#f8766d"/>
<circle cx="411.06" cy="737.62" r="1.05" fill="#f8766d"/>
<circle cx="408.95" cy="734.73" r="1.05" fill="#f8766d"/>
<circle cx="410.55" cy="744.36" r="1.05" fill="#f8766d"/>
<circle cx="407.84" cy="736.01" r="1.05" fill="#f8766d"/>
<circle cx="404.49" cy="717.32" r="1.05" fill="#f8766d"/>
<circle cx="399.8" cy="754.18" r="1.05" fill="#f8766d"/>
<circle cx="399.46" cy="725.53" r="1.05" fill="#f8766d"/>
<circle cx="411.63" cy="738.92" r="1.05" fill="#f8766d"/>
<circle cx="412.6" cy="734.26" r="1.05" fill="#f8766d"/>
<circle cx="408.71" cy="739.93" r="1.05" fill="#f8766d"/>
<circle cx="412.05" cy="727.25" r="1.05" fill="#f8766d"/>
<circle cx="403.93" cy="747.62" r="1.05" fill="#f8766d"/>
<circle cx="405.81" cy="749.98" r="1.05" fill="#f8766d"/>
<circle cx="404.54" cy="740.45" r="1.05" fill="#f8766d"/>
<line x1="406.3" y1="711.7" x2="406.3" y2="727.3" stroke="#f8766d" stroke-width="0.6"/>
<line x1="406.3" y1="740.4" x2="406.3" y2="754" stroke="#f8766d" stroke-width="0.6"/>
<rect x="395.1" y="727.3" width="22.4" height="13.1" fill="none" stroke="#f8766d" stroke-width="0.6"/>
<line x1="395.1" y1="734.3" x2="417.5" y2="734.3" stroke="#f8766d" stroke-width="0.8"/>
<circle cx="441.76" cy="720.8" r="1.05" fill="#7cae00"/>
<circle cx="444.17" cy="739.63" r="1.05" fill="#7cae00"/>
<circle cx="434.92" cy="739.76" r="1.05" fill="#7cae00"/>
<circle cx="432.36" cy="707.68" r="1.05" fill="#7cae00"/>
<circle cx="432.11" cy="744.28" r="1.05" fill="#7cae00"/>
<circle cx="439.79" cy="710.86" r="1.05" fill="#7cae00"/>
<circle cx="436.35" cy="735.6" r="1.05" fill="#7cae00"/>
<circle cx="435.7" cy="723.37" r="1.05" fill="#7cae00"/>
<circle cx="433.31" cy="725.28" r="1.05" fill="#7cae00"/>
<circle cx="444.3" cy="710.68" r="1.05" fill="#7cae00"/>
<circle cx="442.15" cy="731.91" r="1.05" fill="#7cae00"/>
<circle cx="443.84" cy="741.18" r="1.05" fill="#7cae00"/>
<circle cx="444.89" cy="732.16" r="1.05" fill="#7cae00"/>
<circle cx="442.25" cy="735.46" r="1.05" fill="#7cae00"/>
<circle cx="441.38" cy="735.45" r="1.05" fill="#7cae00"/>
<circle cx="444.54" cy="701.77" r="1.05" fill="#7cae00"/>
<circle cx="437.47" cy="740.07" r="1.05" fill="#7cae00"/>
<circle cx="441.31" cy="719.32" r="1.05" fill="#7cae00"/>
<circle cx="437.63" cy="749.25" r="1.05" fill="#7cae00"/>
<circle cx="438.75" cy="749.56" r="1.05" fill="#7cae00"/>
<circle cx="443.87" cy="705.61" r="1.05" fill="#7cae00"/>
<circle cx="440.38" cy="736.18" r="1.05" fill="#7cae00"/>
<circle cx="434.26" cy="719.76" r="1.05" fill="#7cae00"/>
<circle cx="433.84" cy="719.86" r="1.05" fill="#7cae00"/>
<circle cx="437.12" cy="725.55" r="1.05" fill="#7cae00"/>
<circle cx="441.64" cy="725.42" r="1.05" fill="#7cae00"/>
<circle cx="438.63" cy="705.1" r="1.05" fill="#7cae00"/>
<circle cx="430.76" cy="740.72" r="1.05" fill="#7cae00"/>
<circle cx="440.75" cy="721.87" r="1.05" fill="#7cae00"/>
<circle cx="436.67" cy="739.7" r="1.05" fill="#7cae00"/>
<circle cx="431.02" cy="740.28" r="1.05" fill="#7cae00"/>
<circle cx="444.55" cy="739.31" r="1.05" fill="#7cae00"/>
<circle cx="433.92" cy="740.5" r="1.05" fill="#7cae00"/>
<circle cx="436.11" cy="728.75" r="1.05" fill="#7cae00"/>
<circle cx="431.14" cy="697.95" r="1.05" fill="#7cae00"/>
<circle cx="437.28" cy="721.18" r="1.05" fill="#7cae00"/>
<circle cx="435" cy="704.41" r="1.05" fill="#7cae00"/>
<circle cx="443.12" cy="730.28" r="1.05" fill="#7cae00"/>
<circle cx="433.43" cy="726.11" r="1.05" fill="#7cae00"/>
<circle cx="440.4" cy="720.45" r="1.05" fill="#7cae00"/>
<circle cx="444.85" cy="721.02" r="1.05" fill="#7cae00"/>
<circle cx="433.95" cy="725.59" r="1.05" fill="#7cae00"/>
<circle cx="442.83" cy="711.07" r="1.05" fill="#7cae00"/>
<circle cx="437.92" cy="729.19" r="1.05" fill="#7cae00"/>
<circle cx="432.39" cy="732.35" r="1.05" fill="#7cae00"/>
<circle cx="440.29" cy="730.04" r="1.05" fill="#7cae00"/>
<circle cx="430.64" cy="729.12" r="1.05" fill="#7cae00"/>
<circle cx="441.1" cy="749.23" r="1.05" fill="#7cae00"/>
<circle cx="441.16" cy="713.9" r="1.05" fill="#7cae00"/>
<circle cx="432.75" cy="735.98" r="1.05" fill="#7cae00"/>
<circle cx="439.55" cy="719.35" r="1.05" fill="#7cae00"/>
<circle cx="433.38" cy="744.29" r="1.05" fill="#7cae00"/>
<circle cx="433.85" cy="708.22" r="1.05" fill="#7cae00"/>
<circle cx="441.57" cy="720.4" r="1.05" fill="#7cae00"/>
<circle cx="442.28" cy="724.43" r="1.05" fill="#7cae00"/>
<circle cx="440.18" cy="727.07" r="1.05" fill="#7cae00"/>
<circle cx="438.34" cy="732.32" r="1.05" fill="#7cae00"/>
<circle cx="440.13" cy="750.38" r="1.05" fill="#7cae00"/>
<circle cx="434.6" cy="702.76" r="1.05" fill="#7cae00"/>
<circle cx="436.96" cy="722.85" r="1.05" fill="#7cae00"/>
<circle cx="437.05" cy="743.98" r="1.05" fill="#7cae00"/>
<circle cx="442.2" cy="733.65" r="1.05" fill="#7cae00"/>
<circle cx="434.43" cy="729.89" r="1.05" fill="#7cae00"/>
<circle cx="438.42" cy="738.91" r="1.05" fill="#7cae00"/>
<circle cx="430.96" cy="727.64" r="1.05" fill="#7cae00"/>
<circle cx="443.08" cy="720.69" r="1.05" fill="#7cae00"/>
<circle cx="440.14" cy="728.56" r="1.05" fill="#7cae00"/>
<circle cx="436.67" cy="731.5" r="1.05" fill="#7cae00"/>
<circle cx="440.94" cy="736.62" r="1.05" fill="#7cae00"/>
<circle cx="431.05" cy="730.92" r="1.05" fill="#7cae00"/>
<circle cx="435.59" cy="746.1" r="1.05" fill="#7cae00"/>
<circle cx="439.11" cy="701.78" r="1.05" fill="#7cae00"/>
<circle cx="435.19" cy="740.07" r="1.05" fill="#7cae00"/>
<circle cx="436.83" cy="745.5" r="1.05" fill="#7cae00"/>
<circle cx="442.69" cy="741.62" r="1.05" fill="#7cae00"/>
<circle cx="440.88" cy="736.37" r="1.05" fill="#7cae00"/>
<circle cx="440.38" cy="732.92" r="1.05" fill="#7cae00"/>
<circle cx="444.57" cy="716.33" r="1.05" fill="#7cae00"/>
<circle cx="439.61" cy="719.96" r="1.05" fill="#7cae00"/>
<circle cx="436.27" cy="737.94" r="1.05" fill="#7cae00"/>
<circle cx="444.7" cy="744.95" r="1.05" fill="#7cae00"/>
<circle cx="431.32" cy="733.5" r="1.05" fill="#7cae00"/>
<circle cx="437.61" cy="714.65" r="1.05" fill="#7cae00"/>
<circle cx="444.57" cy="741.89" r="1.05" fill="#7cae00"/>
<circle cx="433.84" cy="749.19" r="1.05" fill="#7cae00"/>
<line x1="437.4" y1="695" x2="437.4" y2="719.3" stroke="#7cae00" stroke-width="0.6"/>
<line x1="437.4" y1="738.7" x2="437.4" y2="751.1" stroke="#7cae00" stroke-width="0.6"/>
<rect x="426.65" y="719.3" width="21.5" height="19.4" fill="none" stroke="#7cae00" stroke-width="0.6"/>
<line x1="426.65" y1="730.4" x2="448.15" y2="730.4" stroke="#7cae00" stroke-width="0.8"/>
<circle cx="460.35" cy="736.1" r="1.05" fill="#00bfc4"/>
<circle cx="472.19" cy="727.85" r="1.05" fill="#00bfc4"/>
<circle cx="472.17" cy="733.24" r="1.05" fill="#00bfc4"/>
<circle cx="465.56" cy="715.87" r="1.05" fill="#00bfc4"/>
<circle cx="471.3" cy="737.19" r="1.05" fill="#00bfc4"/>
<circle cx="464.27" cy="745.71" r="1.05" fill="#00bfc4"/>
<circle cx="464.22" cy="736.29" r="1.05" fill="#00bfc4"/>
<circle cx="467.46" cy="728.48" r="1.05" fill="#00bfc4"/>
<circle cx="472.33" cy="718.36" r="1.05" fill="#00bfc4"/>
<circle cx="462.78" cy="723.72" r="1.05" fill="#00bfc4"/>
<circle cx="471.16" cy="732.51" r="1.05" fill="#00bfc4"/>
<circle cx="461.6" cy="727.73" r="1.05" fill="#00bfc4"/>
<circle cx="466.73" cy="720.19" r="1.05" fill="#00bfc4"/>
<circle cx="468.4" cy="709.48" r="1.05" fill="#00bfc4"/>
<circle cx="466.47" cy="741.09" r="1.05" fill="#00bfc4"/>
<circle cx="462.4" cy="738.93" r="1.05" fill="#00bfc4"/>
<circle cx="463.77" cy="723.65" r="1.05" fill="#00bfc4"/>
<circle cx="464.92" cy="722.3" r="1.05" fill="#00bfc4"/>
<circle cx="462.07" cy="722.13" r="1.05" fill="#00bfc4"/>
<circle cx="464.13" cy="734.91" r="1.05" fill="#00bfc4"/>
<circle cx="474.4" cy="712.54" r="1.05" fill="#00bfc4"/>
<circle cx="471.59" cy="711.04" r="1.05" fill="#00bfc4"/>
<circle cx="466.89" cy="713.34" r="1.05" fill="#00bfc4"/>
<circle cx="465.87" cy="733.97" r="1.05" fill="#00bfc4"/>
<circle cx="467.95" cy="734.77" r="1.05" fill="#00bfc4"/>
<circle cx="465.94" cy="737.14" r="1.05" fill="#00bfc4"/>
<circle cx="469.97" cy="742.23" r="1.05" fill="#00bfc4"/>
<circle cx="462.19" cy="752.34" r="1.05" fill="#00bfc4"/>
<circle cx="468.17" cy="746.89" r="1.05" fill="#00bfc4"/>
<circle cx="461.09" cy="740.98" r="1.05" fill="#00bfc4"/>
<circle cx="470.86" cy="715.66" r="1.05" fill="#00bfc4"/>
<circle cx="467.52" cy="720.11" r="1.05" fill="#00bfc4"/>
<circle cx="472.45" cy="731.42" r="1.05" fill="#00bfc4"/>
<circle cx="463.34" cy="745.61" r="1.05" fill="#00bfc4"/>
<circle cx="461.81" cy="718.52" r="1.05" fill="#00bfc4"/>
<circle cx="463.48" cy="748.19" r="1.05" fill="#00bfc4"/>
<circle cx="469.67" cy="735.42" r="1.05" fill="#00bfc4"/>
<circle cx="461.12" cy="707.03" r="1.05" fill="#00bfc4"/>
<circle cx="473.05" cy="730.23" r="1.05" fill="#00bfc4"/>
<circle cx="464.27" cy="740.38" r="1.05" fill="#00bfc4"/>
<circle cx="467.02" cy="719.77" r="1.05" fill="#00bfc4"/>
<circle cx="466.54" cy="722.17" r="1.05" fill="#00bfc4"/>
<circle cx="464.2" cy="735.29" r="1.05" fill="#00bfc4"/>
<circle cx="460.72" cy="730.65" r="1.05" fill="#00bfc4"/>
<circle cx="464.4" cy="714.1" r="1.05" fill="#00bfc4"/>
<circle cx="462.62" cy="730.44" r="1.05" fill="#00bfc4"/>
<circle cx="462.47" cy="730.23" r="1.05" fill="#00bfc4"/>
<circle cx="470.12" cy="730" r="1.05" fill="#00bfc4"/>
<circle cx="472.82" cy="749.45" r="1.05" fill="#00bfc4"/>
<circle cx="464.97" cy="732.78" r="1.05" fill="#00bfc4"/>
<circle cx="472.5" cy="727.25" r="1.05" fill="#00bfc4"/>
<circle cx="468.13" cy="752.84" r="1.05" fill="#00bfc4"/>
<circle cx="462.97" cy="728.91" r="1.05" fill="#00bfc4"/>
<circle cx="468.75" cy="732.64" r="1.05" fill="#00bfc4"/>
<circle cx="466.32" cy="746.15" r="1.05" fill="#00bfc4"/>
<circle cx="460.85" cy="735.29" r="1.05" fill="#00bfc4"/>
<circle cx="470.1" cy="732.94" r="1.05" fill="#00bfc4"/>
<circle cx="463.64" cy="721.28" r="1.05" fill="#00bfc4"/>
<circle cx="465.94" cy="728.19" r="1.05" fill="#00bfc4"/>
<circle cx="469.31" cy="745.42" r="1.05" fill="#00bfc4"/>
<circle cx="460.95" cy="720.17" r="1.05" fill="#00bfc4"/>
<circle cx="473.01" cy="736.76" r="1.05" fill="#00bfc4"/>
<circle cx="467.25" cy="736.03" r="1.05" fill="#00bfc4"/>
<circle cx="466.21" cy="702.4" r="1.05" fill="#00bfc4"/>
<circle cx="473.07" cy="725.66" r="1.05" fill="#00bfc4"/>
<circle cx="464.26" cy="734.6" r="1.05" fill="#00bfc4"/>
<circle cx="472.66" cy="723.9" r="1.05" fill="#00bfc4"/>
<circle cx="464.56" cy="718.18" r="1.05" fill="#00bfc4"/>
<circle cx="465.58" cy="732.42" r="1.05" fill="#00bfc4"/>
<circle cx="466.77" cy="713.27" r="1.05" fill="#00bfc4"/>
<circle cx="468.54" cy="719.79" r="1.05" fill="#00bfc4"/>
<circle cx="460.52" cy="718.43" r="1.05" fill="#00bfc4"/>
<circle cx="469.09" cy="738.66" r="1.05" fill="#00bfc4"/>
<circle cx="468.24" cy="714.09" r="1.05" fill="#00bfc4"/>
<circle cx="466.82" cy="720" r="1.05" fill="#00bfc4"/>
<circle cx="465.48" cy="732.21" r="1.05" fill="#00bfc4"/>
<circle cx="463.2" cy="733.97" r="1.05" fill="#00bfc4"/>
<circle cx="463.42" cy="727.77" r="1.05" fill="#00bfc4"/>
<circle cx="472.92" cy="722.75" r="1.05" fill="#00bfc4"/>
<circle cx="471.74" cy="711.24" r="1.05" fill="#00bfc4"/>
<circle cx="460.32" cy="731.73" r="1.05" fill="#00bfc4"/>
<circle cx="473.71" cy="740.33" r="1.05" fill="#00bfc4"/>
<circle cx="460.9" cy="711.45" r="1.05" fill="#00bfc4"/>
<circle cx="473.8" cy="731.83" r="1.05" fill="#00bfc4"/>
<circle cx="465.26" cy="731.13" r="1.05" fill="#00bfc4"/>
<line x1="467.6" y1="695" x2="467.6" y2="720" stroke="#00bfc4" stroke-width="0.6"/>
<line x1="467.6" y1="737.7" x2="467.6" y2="755.2" stroke="#00bfc4" stroke-width="0.6"/>
<rect x="456.4" y="720" width="22.4" height="17.7" fill="none" stroke="#00bfc4" stroke-width="0.6"/>
<line x1="456.4" y1="729.2" x2="478.8" y2="729.2" stroke="#00bfc4" stroke-width="0.8"/>
<circle cx="505.78" cy="738.02" r="1.05" fill="#c77cff"/>
<circle cx="501.07" cy="730.09" r="1.05" fill="#c77cff"/>
<circle cx="493.27" cy="743.45" r="1.05" fill="#c77cff"/>
<circle cx="506.18" cy="737.62" r="1.05" fill="#c77cff"/>
<circle cx="500.12" cy="738.07" r="1.05" fill="#c77cff"/>
<circle cx="501.83" cy="742.86" r="1.05" fill="#c77cff"/>
<line x1="498.7" y1="728.5" x2="498.7" y2="731.1" stroke="#c77cff" stroke-width="0.6"/>
<line x1="498.7" y1="739.4" x2="498.7" y2="745.5" stroke="#c77cff" stroke-width="0.6"/>
<rect x="487.9" y="731.1" width="21.6" height="8.3" fill="none" stroke="#c77cff" stroke-width="0.6"/>
<line x1="487.9" y1="738.2" x2="509.5" y2="738.2" stroke="#c77cff" stroke-width="0.8"/>
<circle cx="410.3" cy="698.9" r="1.05" fill="#f8766d"/>
<text transform="translate(532 637.5)" font-size="14.8" text-anchor="start" fill="#111">N</text>
<text transform="translate(579.4 645.7) scale(0.4500 0.5400)" font-size="10" text-anchor="start" fill="#151515" stroke="#151515" stroke-width="0.222">T</text>
<rect x="584.3" y="642" width="4.9" height="4.4" fill="none" stroke="#f8766d" stroke-width="0.5"/>
<line x1="584.3" y1="644.4" x2="589.2" y2="644.4" stroke="#f8766d" stroke-width="0.5"/>
<line x1="586.75" y1="641.3" x2="586.75" y2="647.1" stroke="#f8766d" stroke-width="0.5"/>
<text transform="translate(591.8 645.7) scale(0.3900 0.4680)" font-size="10" text-anchor="start" fill="#151515" stroke="#151515" stroke-width="0.256">T1</text>
<rect x="599" y="642" width="4.9" height="4.4" fill="none" stroke="#7cae00" stroke-width="0.5"/>
<line x1="599" y1="644.4" x2="603.9" y2="644.4" stroke="#7cae00" stroke-width="0.5"/>
<line x1="601.45" y1="641.3" x2="601.45" y2="647.1" stroke="#7cae00" stroke-width="0.5"/>
<text transform="translate(606.4 645.7) scale(0.3900 0.4680)" font-size="10" text-anchor="start" fill="#151515" stroke="#151515" stroke-width="0.256">T2</text>
<rect x="613.6" y="642" width="4.9" height="4.4" fill="none" stroke="#00bfc4" stroke-width="0.5"/>
<line x1="613.6" y1="644.4" x2="618.5" y2="644.4" stroke="#00bfc4" stroke-width="0.5"/>
<line x1="616.05" y1="641.3" x2="616.05" y2="647.1" stroke="#00bfc4" stroke-width="0.5"/>
<text transform="translate(621 645.7) scale(0.3900 0.4680)" font-size="10" text-anchor="start" fill="#151515" stroke="#151515" stroke-width="0.256">T3</text>
<rect x="628.3" y="642" width="4.9" height="4.4" fill="none" stroke="#c77cff" stroke-width="0.5"/>
<line x1="628.3" y1="644.4" x2="633.2" y2="644.4" stroke="#c77cff" stroke-width="0.5"/>
<line x1="630.75" y1="641.3" x2="630.75" y2="647.1" stroke="#c77cff" stroke-width="0.5"/>
<text transform="translate(635.8 645.7) scale(0.3900 0.4680)" font-size="10" text-anchor="start" fill="#151515" stroke="#151515" stroke-width="0.256">T4</text>
<line x1="545.5" y1="654.2" x2="545.5" y2="760.4" stroke="#444" stroke-width="0.8"/>
<line x1="545.1" y1="760.1" x2="673.3" y2="760.1" stroke="#444" stroke-width="0.8"/>
<line x1="543.9" y1="674" x2="545.5" y2="674" stroke="#444" stroke-width="0.5"/>
<text transform="translate(543.2 675.6) scale(0.4400 0.4840)" font-size="10" text-anchor="end" fill="#151515" stroke="#151515" stroke-width="0.248">4</text>
<line x1="543.9" y1="695.1" x2="545.5" y2="695.1" stroke="#444" stroke-width="0.5"/>
<text transform="translate(543.2 696.7) scale(0.4400 0.4840)" font-size="10" text-anchor="end" fill="#151515" stroke="#151515" stroke-width="0.248">3</text>
<line x1="543.9" y1="716.2" x2="545.5" y2="716.2" stroke="#444" stroke-width="0.5"/>
<text transform="translate(543.2 717.8) scale(0.4400 0.4840)" font-size="10" text-anchor="end" fill="#151515" stroke="#151515" stroke-width="0.248">2</text>
<line x1="543.9" y1="737.3" x2="545.5" y2="737.3" stroke="#444" stroke-width="0.5"/>
<text transform="translate(543.2 738.9) scale(0.4400 0.4840)" font-size="10" text-anchor="end" fill="#151515" stroke="#151515" stroke-width="0.248">1</text>
<line x1="543.9" y1="758.4" x2="545.5" y2="758.4" stroke="#444" stroke-width="0.5"/>
<text transform="translate(543.2 760) scale(0.4400 0.4840)" font-size="10" text-anchor="end" fill="#151515" stroke="#151515" stroke-width="0.248">0</text>
<line x1="563.4" y1="760.1" x2="563.4" y2="761.7" stroke="#444" stroke-width="0.5"/>
<text transform="translate(563.4 765.9) scale(0.4500 0.5175)" font-size="10" text-anchor="middle" fill="#151515" stroke="#151515" stroke-width="0.232">T1</text>
<line x1="594.5" y1="760.1" x2="594.5" y2="761.7" stroke="#444" stroke-width="0.5"/>
<text transform="translate(594.5 765.9) scale(0.4500 0.5175)" font-size="10" text-anchor="middle" fill="#151515" stroke="#151515" stroke-width="0.232">T2</text>
<line x1="624.4" y1="760.1" x2="624.4" y2="761.7" stroke="#444" stroke-width="0.5"/>
<text transform="translate(624.4 765.9) scale(0.4500 0.5175)" font-size="10" text-anchor="middle" fill="#151515" stroke="#151515" stroke-width="0.232">T3</text>
<line x1="655.5" y1="760.1" x2="655.5" y2="761.7" stroke="#444" stroke-width="0.5"/>
<text transform="translate(655.5 765.9) scale(0.4500 0.5175)" font-size="10" text-anchor="middle" fill="#151515" stroke="#151515" stroke-width="0.232">T4</text>
<text transform="translate(609.3 771.2) scale(0.4500 0.5175)" font-size="10" text-anchor="middle" fill="#151515" stroke="#151515" stroke-width="0.232">T</text>
<text transform="translate(537.3 712) rotate(-90) scale(0.3900 0.4875)" font-size="10" text-anchor="middle" fill="#151515" stroke="#151515" stroke-width="0.246">SLC25A19 expression</text>
<path d="M563.4 696 V694.2 H594.5 V696" fill="none" stroke="#777" stroke-width="0.6"/>
<text transform="translate(578.95 693) scale(0.3900 0.4680)" font-size="10" text-anchor="middle" fill="#151515" stroke="#151515" stroke-width="0.256">0.00022</text>
<path d="M563.4 689.2 V687.4 H624.4 V689.2" fill="none" stroke="#777" stroke-width="0.6"/>
<text transform="translate(593.9 686.2) scale(0.3900 0.4680)" font-size="10" text-anchor="middle" fill="#151515" stroke="#151515" stroke-width="0.256">0.0049</text>
<path d="M563.4 682.5 V680.7 H655.5 V682.5" fill="none" stroke="#777" stroke-width="0.6"/>
<text transform="translate(609.45 679.5) scale(0.3900 0.4680)" font-size="10" text-anchor="middle" fill="#151515" stroke="#151515" stroke-width="0.256">0.21</text>
<path d="M594.5 675.2 V673.4 H624.4 V675.2" fill="none" stroke="#777" stroke-width="0.6"/>
<text transform="translate(609.45 672.2) scale(0.3900 0.4680)" font-size="10" text-anchor="middle" fill="#151515" stroke="#151515" stroke-width="0.256">0.88</text>
<path d="M594.5 668.3 V666.5 H655.5 V668.3" fill="none" stroke="#777" stroke-width="0.6"/>
<text transform="translate(625 665.3) scale(0.3900 0.4680)" font-size="10" text-anchor="middle" fill="#151515" stroke="#151515" stroke-width="0.256">0.68</text>
<path d="M624.4 661.4 V659.6 H655.5 V661.4" fill="none" stroke="#777" stroke-width="0.6"/>
<text transform="translate(639.95 658.4) scale(0.3900 0.4680)" font-size="10" text-anchor="middle" fill="#151515" stroke="#151515" stroke-width="0.256">0.92</text>
<circle cx="569.11" cy="722.13" r="1.05" fill="#f8766d"/>
<circle cx="561.68" cy="721.25" r="1.05" fill="#f8766d"/>
<circle cx="557.11" cy="735.36" r="1.05" fill="#f8766d"/>
<circle cx="559.12" cy="727.98" r="1.05" fill="#f8766d"/>
<circle cx="558.76" cy="728.65" r="1.05" fill="#f8766d"/>
<circle cx="558.75" cy="716.13" r="1.05" fill="#f8766d"/>
<circle cx="557.43" cy="714.83" r="1.05" fill="#f8766d"/>
<circle cx="560.74" cy="743.78" r="1.05" fill="#f8766d"/>
<circle cx="565.31" cy="724.67" r="1.05" fill="#f8766d"/>
<circle cx="566.27" cy="734.99" r="1.05" fill="#f8766d"/>
<circle cx="566.74" cy="736.27" r="1.05" fill="#f8766d"/>
<circle cx="568.1" cy="736.91" r="1.05" fill="#f8766d"/>
<circle cx="566.74" cy="742.76" r="1.05" fill="#f8766d"/>
<circle cx="570.74" cy="731.43" r="1.05" fill="#f8766d"/>
<circle cx="567.29" cy="728.21" r="1.05" fill="#f8766d"/>
<circle cx="563.25" cy="736.6" r="1.05" fill="#f8766d"/>
<circle cx="563.16" cy="708.62" r="1.05" fill="#f8766d"/>
<circle cx="569.43" cy="736.39" r="1.05" fill="#f8766d"/>
<circle cx="561.99" cy="730.77" r="1.05" fill="#f8766d"/>
<circle cx="570.1" cy="737.43" r="1.05" fill="#f8766d"/>
<circle cx="565.34" cy="733.3" r="1.05" fill="#f8766d"/>
<circle cx="561.19" cy="723.92" r="1.05" fill="#f8766d"/>
<circle cx="564.86" cy="732.95" r="1.05" fill="#f8766d"/>
<circle cx="564.18" cy="740.31" r="1.05" fill="#f8766d"/>
<circle cx="567.75" cy="717.36" r="1.05" fill="#f8766d"/>
<circle cx="568.68" cy="731.39" r="1.05" fill="#f8766d"/>
<circle cx="558.16" cy="729.96" r="1.05" fill="#f8766d"/>
<circle cx="566.9" cy="723.17" r="1.05" fill="#f8766d"/>
<circle cx="557.94" cy="749.68" r="1.05" fill="#f8766d"/>
<circle cx="559.69" cy="747.77" r="1.05" fill="#f8766d"/>
<circle cx="565.58" cy="714.33" r="1.05" fill="#f8766d"/>
<circle cx="558.01" cy="724.62" r="1.05" fill="#f8766d"/>
<circle cx="561.93" cy="735.04" r="1.05" fill="#f8766d"/>
<circle cx="567.63" cy="744.82" r="1.05" fill="#f8766d"/>
<circle cx="560.29" cy="735.6" r="1.05" fill="#f8766d"/>
<circle cx="561.71" cy="745.4" r="1.05" fill="#f8766d"/>
<circle cx="558.48" cy="739.05" r="1.05" fill="#f8766d"/>
<circle cx="564.3" cy="730.29" r="1.05" fill="#f8766d"/>
<circle cx="561.96" cy="721.67" r="1.05" fill="#f8766d"/>
<circle cx="556.35" cy="736.61" r="1.05" fill="#f8766d"/>
<circle cx="560.32" cy="726.87" r="1.05" fill="#f8766d"/>
<circle cx="566.68" cy="738.38" r="1.05" fill="#f8766d"/>
<circle cx="556.96" cy="730.83" r="1.05" fill="#f8766d"/>
<circle cx="559.14" cy="737.46" r="1.05" fill="#f8766d"/>
<circle cx="557.44" cy="722.65" r="1.05" fill="#f8766d"/>
<circle cx="565.66" cy="734.69" r="1.05" fill="#f8766d"/>
<circle cx="556.9" cy="738.88" r="1.05" fill="#f8766d"/>
<circle cx="561.48" cy="734.34" r="1.05" fill="#f8766d"/>
<circle cx="570.77" cy="724.26" r="1.05" fill="#f8766d"/>
<circle cx="561.54" cy="736.34" r="1.05" fill="#f8766d"/>
<circle cx="564.98" cy="736.31" r="1.05" fill="#f8766d"/>
<circle cx="558.33" cy="730.29" r="1.05" fill="#f8766d"/>
<circle cx="556.22" cy="721.4" r="1.05" fill="#f8766d"/>
<circle cx="565.19" cy="738.53" r="1.05" fill="#f8766d"/>
<circle cx="564.97" cy="748.34" r="1.05" fill="#f8766d"/>
<circle cx="557.59" cy="731.91" r="1.05" fill="#f8766d"/>
<circle cx="557.17" cy="747.95" r="1.05" fill="#f8766d"/>
<circle cx="569.04" cy="732.49" r="1.05" fill="#f8766d"/>
<circle cx="557.03" cy="735.79" r="1.05" fill="#f8766d"/>
<circle cx="561.95" cy="740.46" r="1.05" fill="#f8766d"/>
<circle cx="557.68" cy="743.73" r="1.05" fill="#f8766d"/>
<circle cx="564.83" cy="744.19" r="1.05" fill="#f8766d"/>
<circle cx="563.45" cy="739.97" r="1.05" fill="#f8766d"/>
<circle cx="565.35" cy="736.17" r="1.05" fill="#f8766d"/>
<circle cx="557" cy="734.9" r="1.05" fill="#f8766d"/>
<circle cx="566.49" cy="739" r="1.05" fill="#f8766d"/>
<circle cx="569.26" cy="721.91" r="1.05" fill="#f8766d"/>
<circle cx="561.6" cy="735.3" r="1.05" fill="#f8766d"/>
<circle cx="560.06" cy="726.65" r="1.05" fill="#f8766d"/>
<circle cx="568.78" cy="722.18" r="1.05" fill="#f8766d"/>
<circle cx="560.57" cy="734.37" r="1.05" fill="#f8766d"/>
<circle cx="567.78" cy="737.43" r="1.05" fill="#f8766d"/>
<circle cx="556.45" cy="727.8" r="1.05" fill="#f8766d"/>
<circle cx="566.3" cy="731.97" r="1.05" fill="#f8766d"/>
<circle cx="569.28" cy="719.41" r="1.05" fill="#f8766d"/>
<circle cx="558.86" cy="737.58" r="1.05" fill="#f8766d"/>
<circle cx="568.21" cy="723.37" r="1.05" fill="#f8766d"/>
<circle cx="570.01" cy="739.75" r="1.05" fill="#f8766d"/>
<circle cx="559.82" cy="737.8" r="1.05" fill="#f8766d"/>
<circle cx="556.5" cy="743.63" r="1.05" fill="#f8766d"/>
<circle cx="558.03" cy="732.16" r="1.05" fill="#f8766d"/>
<circle cx="557.83" cy="747.21" r="1.05" fill="#f8766d"/>
<circle cx="556" cy="712.77" r="1.05" fill="#f8766d"/>
<circle cx="558.43" cy="735.62" r="1.05" fill="#f8766d"/>
<circle cx="568.77" cy="726.64" r="1.05" fill="#f8766d"/>
<circle cx="563.19" cy="741.59" r="1.05" fill="#f8766d"/>
<circle cx="560.58" cy="751.94" r="1.05" fill="#f8766d"/>
<circle cx="570.01" cy="717.6" r="1.05" fill="#f8766d"/>
<circle cx="569.86" cy="733.5" r="1.05" fill="#f8766d"/>
<circle cx="570.2" cy="739.34" r="1.05" fill="#f8766d"/>
<circle cx="563.25" cy="725.59" r="1.05" fill="#f8766d"/>
<circle cx="559.68" cy="725.99" r="1.05" fill="#f8766d"/>
<circle cx="569.08" cy="736.16" r="1.05" fill="#f8766d"/>
<circle cx="568.77" cy="742.7" r="1.05" fill="#f8766d"/>
<circle cx="560.76" cy="727.1" r="1.05" fill="#f8766d"/>
<circle cx="569.48" cy="734" r="1.05" fill="#f8766d"/>
<circle cx="561.21" cy="744.65" r="1.05" fill="#f8766d"/>
<circle cx="558.08" cy="744.48" r="1.05" fill="#f8766d"/>
<circle cx="563.23" cy="737.34" r="1.05" fill="#f8766d"/>
<circle cx="569.98" cy="735.53" r="1.05" fill="#f8766d"/>
<circle cx="567.79" cy="747.84" r="1.05" fill="#f8766d"/>
<circle cx="562.61" cy="726.09" r="1.05" fill="#f8766d"/>
<circle cx="556.16" cy="726.38" r="1.05" fill="#f8766d"/>
<circle cx="560.69" cy="721.27" r="1.05" fill="#f8766d"/>
<circle cx="565.27" cy="739.1" r="1.05" fill="#f8766d"/>
<circle cx="569.23" cy="743.12" r="1.05" fill="#f8766d"/>
<circle cx="564.49" cy="748.41" r="1.05" fill="#f8766d"/>
<circle cx="559.3" cy="746.83" r="1.05" fill="#f8766d"/>
<circle cx="556.35" cy="735.67" r="1.05" fill="#f8766d"/>
<circle cx="557.19" cy="735.26" r="1.05" fill="#f8766d"/>
<circle cx="561.21" cy="749.82" r="1.05" fill="#f8766d"/>
<circle cx="566.35" cy="733.77" r="1.05" fill="#f8766d"/>
<circle cx="561.91" cy="729.58" r="1.05" fill="#f8766d"/>
<circle cx="567.93" cy="740.79" r="1.05" fill="#f8766d"/>
<circle cx="560.05" cy="719.82" r="1.05" fill="#f8766d"/>
<circle cx="559.79" cy="741.3" r="1.05" fill="#f8766d"/>
<circle cx="559.88" cy="737.26" r="1.05" fill="#f8766d"/>
<circle cx="556.33" cy="736.1" r="1.05" fill="#f8766d"/>
<circle cx="569.4" cy="728.37" r="1.05" fill="#f8766d"/>
<circle cx="563.4" cy="742.15" r="1.05" fill="#f8766d"/>
<circle cx="569.86" cy="734.11" r="1.05" fill="#f8766d"/>
<circle cx="560.43" cy="718.67" r="1.05" fill="#f8766d"/>
<circle cx="556.22" cy="722.96" r="1.05" fill="#f8766d"/>
<circle cx="569.84" cy="726.61" r="1.05" fill="#f8766d"/>
<circle cx="557.21" cy="735.54" r="1.05" fill="#f8766d"/>
<circle cx="558.37" cy="724.35" r="1.05" fill="#f8766d"/>
<circle cx="567.65" cy="723.55" r="1.05" fill="#f8766d"/>
<circle cx="565.77" cy="726.45" r="1.05" fill="#f8766d"/>
<circle cx="564.03" cy="738.1" r="1.05" fill="#f8766d"/>
<circle cx="560.27" cy="726.16" r="1.05" fill="#f8766d"/>
<circle cx="563.98" cy="741.8" r="1.05" fill="#f8766d"/>
<circle cx="558.18" cy="738.59" r="1.05" fill="#f8766d"/>
<circle cx="563.06" cy="737.8" r="1.05" fill="#f8766d"/>
<circle cx="570.79" cy="726.26" r="1.05" fill="#f8766d"/>
<circle cx="566.02" cy="723.52" r="1.05" fill="#f8766d"/>
<circle cx="568" cy="735.68" r="1.05" fill="#f8766d"/>
<circle cx="558.5" cy="725.91" r="1.05" fill="#f8766d"/>
<circle cx="565.65" cy="744.72" r="1.05" fill="#f8766d"/>
<circle cx="558.25" cy="738.51" r="1.05" fill="#f8766d"/>
<circle cx="566.82" cy="731.06" r="1.05" fill="#f8766d"/>
<circle cx="561.97" cy="734.27" r="1.05" fill="#f8766d"/>
<circle cx="560.6" cy="726.34" r="1.05" fill="#f8766d"/>
<circle cx="558.52" cy="741.08" r="1.05" fill="#f8766d"/>
<circle cx="566.04" cy="735.64" r="1.05" fill="#f8766d"/>
<circle cx="570.21" cy="716.99" r="1.05" fill="#f8766d"/>
<circle cx="557.64" cy="725.17" r="1.05" fill="#f8766d"/>
<circle cx="558.93" cy="748.64" r="1.05" fill="#f8766d"/>
<circle cx="570.27" cy="746.42" r="1.05" fill="#f8766d"/>
<circle cx="556.67" cy="736.36" r="1.05" fill="#f8766d"/>
<circle cx="560.35" cy="731.78" r="1.05" fill="#f8766d"/>
<circle cx="564.38" cy="737.88" r="1.05" fill="#f8766d"/>
<circle cx="568" cy="720.54" r="1.05" fill="#f8766d"/>
<circle cx="556.89" cy="741.25" r="1.05" fill="#f8766d"/>
<circle cx="568.73" cy="739.77" r="1.05" fill="#f8766d"/>
<circle cx="556.84" cy="742.13" r="1.05" fill="#f8766d"/>
<circle cx="559.54" cy="715.52" r="1.05" fill="#f8766d"/>
<circle cx="557.27" cy="720.69" r="1.05" fill="#f8766d"/>
<circle cx="566.52" cy="744" r="1.05" fill="#f8766d"/>
<circle cx="566.9" cy="727.32" r="1.05" fill="#f8766d"/>
<circle cx="559.6" cy="747.79" r="1.05" fill="#f8766d"/>
<circle cx="565.76" cy="750.98" r="1.05" fill="#f8766d"/>
<circle cx="556.28" cy="729.08" r="1.05" fill="#f8766d"/>
<circle cx="558.07" cy="731.23" r="1.05" fill="#f8766d"/>
<circle cx="560.72" cy="726.54" r="1.05" fill="#f8766d"/>
<circle cx="560.01" cy="721.36" r="1.05" fill="#f8766d"/>
<circle cx="570.6" cy="718.04" r="1.05" fill="#f8766d"/>
<circle cx="558.97" cy="730.63" r="1.05" fill="#f8766d"/>
<circle cx="569.16" cy="741.8" r="1.05" fill="#f8766d"/>
<circle cx="566.9" cy="744.43" r="1.05" fill="#f8766d"/>
<circle cx="563.68" cy="723.27" r="1.05" fill="#f8766d"/>
<circle cx="564.48" cy="738.83" r="1.05" fill="#f8766d"/>
<circle cx="558.46" cy="747.41" r="1.05" fill="#f8766d"/>
<circle cx="557.15" cy="726.93" r="1.05" fill="#f8766d"/>
<circle cx="562.41" cy="748.13" r="1.05" fill="#f8766d"/>
<circle cx="560.8" cy="731.65" r="1.05" fill="#f8766d"/>
<circle cx="559.88" cy="723.03" r="1.05" fill="#f8766d"/>
<circle cx="561.82" cy="726.04" r="1.05" fill="#f8766d"/>
<circle cx="556.38" cy="720.38" r="1.05" fill="#f8766d"/>
<circle cx="569.9" cy="742.14" r="1.05" fill="#f8766d"/>
<circle cx="559.35" cy="744.34" r="1.05" fill="#f8766d"/>
<circle cx="557.39" cy="746.55" r="1.05" fill="#f8766d"/>
<circle cx="565.14" cy="737.23" r="1.05" fill="#f8766d"/>
<circle cx="555.98" cy="740.67" r="1.05" fill="#f8766d"/>
<circle cx="570.03" cy="725.51" r="1.05" fill="#f8766d"/>
<circle cx="568.25" cy="739.17" r="1.05" fill="#f8766d"/>
<circle cx="556.9" cy="719.23" r="1.05" fill="#f8766d"/>
<circle cx="566.83" cy="751.86" r="1.05" fill="#f8766d"/>
<circle cx="569.41" cy="728.75" r="1.05" fill="#f8766d"/>
<circle cx="562.65" cy="710.25" r="1.05" fill="#f8766d"/>
<circle cx="560.18" cy="739.82" r="1.05" fill="#f8766d"/>
<line x1="563.4" y1="706" x2="563.4" y2="727.3" stroke="#f8766d" stroke-width="0.6"/>
<line x1="563.4" y1="740.4" x2="563.4" y2="754" stroke="#f8766d" stroke-width="0.6"/>
<rect x="552.45" y="727.3" width="21.9" height="13.1" fill="none" stroke="#f8766d" stroke-width="0.6"/>
<line x1="552.45" y1="734.3" x2="574.35" y2="734.3" stroke="#f8766d" stroke-width="0.8"/>
<circle cx="595.21" cy="732.45" r="1.05" fill="#7cae00"/>
<circle cx="588.52" cy="713.84" r="1.05" fill="#7cae00"/>
<circle cx="594.78" cy="729.85" r="1.05" fill="#7cae00"/>
<circle cx="591.13" cy="725.59" r="1.05" fill="#7cae00"/>
<circle cx="599.58" cy="744.74" r="1.05" fill="#7cae00"/>
<circle cx="600.25" cy="714.5" r="1.05" fill="#7cae00"/>
<circle cx="595.22" cy="703.35" r="1.05" fill="#7cae00"/>
<circle cx="589.6" cy="734.77" r="1.05" fill="#7cae00"/>
<circle cx="598.59" cy="730.04" r="1.05" fill="#7cae00"/>
<circle cx="589.06" cy="732.17" r="1.05" fill="#7cae00"/>
<circle cx="597.86" cy="749.38" r="1.05" fill="#7cae00"/>
<circle cx="596.99" cy="700.43" r="1.05" fill="#7cae00"/>
<circle cx="593.68" cy="731.46" r="1.05" fill="#7cae00"/>
<circle cx="587.61" cy="736.86" r="1.05" fill="#7cae00"/>
<circle cx="601.52" cy="725.68" r="1.05" fill="#7cae00"/>
<circle cx="594.26" cy="740.87" r="1.05" fill="#7cae00"/>
<circle cx="601.75" cy="720.88" r="1.05" fill="#7cae00"/>
<circle cx="598.76" cy="710.63" r="1.05" fill="#7cae00"/>
<circle cx="594.89" cy="740.79" r="1.05" fill="#7cae00"/>
<circle cx="596.97" cy="744.73" r="1.05" fill="#7cae00"/>
<circle cx="587.73" cy="750.1" r="1.05" fill="#7cae00"/>
<circle cx="597.08" cy="748.14" r="1.05" fill="#7cae00"/>
<circle cx="600.97" cy="725.37" r="1.05" fill="#7cae00"/>
<circle cx="594.18" cy="726.46" r="1.05" fill="#7cae00"/>
<circle cx="598.71" cy="744.15" r="1.05" fill="#7cae00"/>
<circle cx="592.95" cy="728.93" r="1.05" fill="#7cae00"/>
<circle cx="596.18" cy="743.09" r="1.05" fill="#7cae00"/>
<circle cx="599.82" cy="750.84" r="1.05" fill="#7cae00"/>
<circle cx="593.26" cy="728.77" r="1.05" fill="#7cae00"/>
<circle cx="599.2" cy="737.96" r="1.05" fill="#7cae00"/>
<circle cx="597.48" cy="734.06" r="1.05" fill="#7cae00"/>
<circle cx="588.34" cy="739.81" r="1.05" fill="#7cae00"/>
<circle cx="590.75" cy="737.51" r="1.05" fill="#7cae00"/>
<circle cx="595.65" cy="731.42" r="1.05" fill="#7cae00"/>
<circle cx="599.81" cy="705" r="1.05" fill="#7cae00"/>
<circle cx="589.3" cy="719.22" r="1.05" fill="#7cae00"/>
<circle cx="597.87" cy="734.35" r="1.05" fill="#7cae00"/>
<circle cx="590.43" cy="721.13" r="1.05" fill="#7cae00"/>
<circle cx="598.97" cy="707.21" r="1.05" fill="#7cae00"/>
<circle cx="597.58" cy="737.69" r="1.05" fill="#7cae00"/>
<circle cx="588.02" cy="701.48" r="1.05" fill="#7cae00"/>
<circle cx="588.16" cy="738.4" r="1.05" fill="#7cae00"/>
<circle cx="594.48" cy="706.59" r="1.05" fill="#7cae00"/>
<circle cx="597.65" cy="723.4" r="1.05" fill="#7cae00"/>
<circle cx="600.22" cy="722.17" r="1.05" fill="#7cae00"/>
<circle cx="596.33" cy="724.37" r="1.05" fill="#7cae00"/>
<circle cx="599.01" cy="725.39" r="1.05" fill="#7cae00"/>
<circle cx="599.59" cy="723.52" r="1.05" fill="#7cae00"/>
<circle cx="588.82" cy="699.24" r="1.05" fill="#7cae00"/>
<circle cx="592.86" cy="703.14" r="1.05" fill="#7cae00"/>
<circle cx="600.16" cy="748.28" r="1.05" fill="#7cae00"/>
<circle cx="587.3" cy="747.89" r="1.05" fill="#7cae00"/>
<circle cx="588.16" cy="729.63" r="1.05" fill="#7cae00"/>
<circle cx="597.06" cy="721.66" r="1.05" fill="#7cae00"/>
<circle cx="597.2" cy="720.12" r="1.05" fill="#7cae00"/>
<circle cx="598.66" cy="717.81" r="1.05" fill="#7cae00"/>
<circle cx="596.77" cy="750.88" r="1.05" fill="#7cae00"/>
<circle cx="590.45" cy="734.77" r="1.05" fill="#7cae00"/>
<circle cx="590.85" cy="723.62" r="1.05" fill="#7cae00"/>
<circle cx="597.11" cy="721.29" r="1.05" fill="#7cae00"/>
<circle cx="590.44" cy="725.31" r="1.05" fill="#7cae00"/>
<circle cx="600.19" cy="709.32" r="1.05" fill="#7cae00"/>
<circle cx="597.05" cy="729.89" r="1.05" fill="#7cae00"/>
<circle cx="592.44" cy="724.77" r="1.05" fill="#7cae00"/>
<circle cx="590.67" cy="735.58" r="1.05" fill="#7cae00"/>
<circle cx="589.06" cy="734.84" r="1.05" fill="#7cae00"/>
<circle cx="594.64" cy="724.56" r="1.05" fill="#7cae00"/>
<circle cx="596.68" cy="709.9" r="1.05" fill="#7cae00"/>
<circle cx="600.65" cy="735.92" r="1.05" fill="#7cae00"/>
<circle cx="595.98" cy="745.86" r="1.05" fill="#7cae00"/>
<circle cx="594.9" cy="738.5" r="1.05" fill="#7cae00"/>
<circle cx="599.78" cy="726.14" r="1.05" fill="#7cae00"/>
<circle cx="594.04" cy="724.01" r="1.05" fill="#7cae00"/>
<circle cx="594.51" cy="728.13" r="1.05" fill="#7cae00"/>
<circle cx="600.75" cy="733.98" r="1.05" fill="#7cae00"/>
<circle cx="594.72" cy="727.34" r="1.05" fill="#7cae00"/>
<circle cx="591.79" cy="742.92" r="1.05" fill="#7cae00"/>
<circle cx="601.05" cy="743.24" r="1.05" fill="#7cae00"/>
<circle cx="587.25" cy="729.84" r="1.05" fill="#7cae00"/>
<circle cx="601.61" cy="728.37" r="1.05" fill="#7cae00"/>
<circle cx="595.82" cy="728.6" r="1.05" fill="#7cae00"/>
<circle cx="594.74" cy="716.36" r="1.05" fill="#7cae00"/>
<circle cx="595.66" cy="742.61" r="1.05" fill="#7cae00"/>
<circle cx="588.61" cy="710.65" r="1.05" fill="#7cae00"/>
<circle cx="598.15" cy="735.96" r="1.05" fill="#7cae00"/>
<circle cx="597.56" cy="750.85" r="1.05" fill="#7cae00"/>
<circle cx="600.2" cy="724.53" r="1.05" fill="#7cae00"/>
<circle cx="590.67" cy="728.76" r="1.05" fill="#7cae00"/>
<circle cx="597.58" cy="731.81" r="1.05" fill="#7cae00"/>
<circle cx="592.96" cy="702.5" r="1.05" fill="#7cae00"/>
<line x1="594.5" y1="695" x2="594.5" y2="719.3" stroke="#7cae00" stroke-width="0.6"/>
<line x1="594.5" y1="738.7" x2="594.5" y2="751" stroke="#7cae00" stroke-width="0.6"/>
<rect x="583.7" y="719.3" width="21.6" height="19.4" fill="none" stroke="#7cae00" stroke-width="0.6"/>
<line x1="583.7" y1="729.5" x2="605.3" y2="729.5" stroke="#7cae00" stroke-width="0.8"/>
<circle cx="629.22" cy="716.73" r="1.05" fill="#00bfc4"/>
<circle cx="620.62" cy="735.1" r="1.05" fill="#00bfc4"/>
<circle cx="625.03" cy="740.68" r="1.05" fill="#00bfc4"/>
<circle cx="618.02" cy="728.23" r="1.05" fill="#00bfc4"/>
<circle cx="617.5" cy="740.13" r="1.05" fill="#00bfc4"/>
<circle cx="629.13" cy="723.37" r="1.05" fill="#00bfc4"/>
<circle cx="626.38" cy="722.65" r="1.05" fill="#00bfc4"/>
<circle cx="624.83" cy="733.7" r="1.05" fill="#00bfc4"/>
<circle cx="626.82" cy="746.25" r="1.05" fill="#00bfc4"/>
<circle cx="621.06" cy="720.97" r="1.05" fill="#00bfc4"/>
<circle cx="631.8" cy="740.39" r="1.05" fill="#00bfc4"/>
<circle cx="630.86" cy="716.78" r="1.05" fill="#00bfc4"/>
<circle cx="630.53" cy="726.86" r="1.05" fill="#00bfc4"/>
<circle cx="631.58" cy="744.85" r="1.05" fill="#00bfc4"/>
<circle cx="623.06" cy="722.62" r="1.05" fill="#00bfc4"/>
<circle cx="620.32" cy="735.68" r="1.05" fill="#00bfc4"/>
<circle cx="621.84" cy="723.69" r="1.05" fill="#00bfc4"/>
<circle cx="629.24" cy="725.55" r="1.05" fill="#00bfc4"/>
<circle cx="631.18" cy="722.85" r="1.05" fill="#00bfc4"/>
<circle cx="620.91" cy="728.55" r="1.05" fill="#00bfc4"/>
<circle cx="619.01" cy="730.3" r="1.05" fill="#00bfc4"/>
<circle cx="624.21" cy="738.7" r="1.05" fill="#00bfc4"/>
<circle cx="623.67" cy="727.36" r="1.05" fill="#00bfc4"/>
<circle cx="624.43" cy="740.97" r="1.05" fill="#00bfc4"/>
<circle cx="617.57" cy="741.94" r="1.05" fill="#00bfc4"/>
<circle cx="629.95" cy="715.6" r="1.05" fill="#00bfc4"/>
<circle cx="621.76" cy="734.74" r="1.05" fill="#00bfc4"/>
<circle cx="619.44" cy="713.16" r="1.05" fill="#00bfc4"/>
<circle cx="618.56" cy="698.06" r="1.05" fill="#00bfc4"/>
<circle cx="631.16" cy="736.87" r="1.05" fill="#00bfc4"/>
<circle cx="619.13" cy="724.47" r="1.05" fill="#00bfc4"/>
<circle cx="630.04" cy="724.07" r="1.05" fill="#00bfc4"/>
<circle cx="627.39" cy="743.58" r="1.05" fill="#00bfc4"/>
<circle cx="621.31" cy="740.59" r="1.05" fill="#00bfc4"/>
<circle cx="620.46" cy="724.19" r="1.05" fill="#00bfc4"/>
<circle cx="625.69" cy="727.36" r="1.05" fill="#00bfc4"/>
<circle cx="619.92" cy="725.69" r="1.05" fill="#00bfc4"/>
<circle cx="617.06" cy="727.6" r="1.05" fill="#00bfc4"/>
<circle cx="618.71" cy="722.35" r="1.05" fill="#00bfc4"/>
<circle cx="621.9" cy="726.85" r="1.05" fill="#00bfc4"/>
<circle cx="617" cy="717.23" r="1.05" fill="#00bfc4"/>
<circle cx="617.96" cy="746.41" r="1.05" fill="#00bfc4"/>
<circle cx="623.71" cy="737.59" r="1.05" fill="#00bfc4"/>
<circle cx="624.98" cy="716.15" r="1.05" fill="#00bfc4"/>
<circle cx="620.62" cy="733.06" r="1.05" fill="#00bfc4"/>
<circle cx="620.97" cy="749.16" r="1.05" fill="#00bfc4"/>
<circle cx="630.65" cy="712.39" r="1.05" fill="#00bfc4"/>
<circle cx="630.82" cy="730.24" r="1.05" fill="#00bfc4"/>
<circle cx="628" cy="722.14" r="1.05" fill="#00bfc4"/>
<circle cx="621.25" cy="747.83" r="1.05" fill="#00bfc4"/>
<circle cx="619.72" cy="725.69" r="1.05" fill="#00bfc4"/>
<circle cx="619.62" cy="716.02" r="1.05" fill="#00bfc4"/>
<circle cx="617.14" cy="722.79" r="1.05" fill="#00bfc4"/>
<circle cx="618.94" cy="723.85" r="1.05" fill="#00bfc4"/>
<circle cx="627.52" cy="729.91" r="1.05" fill="#00bfc4"/>
<circle cx="627.5" cy="733.93" r="1.05" fill="#00bfc4"/>
<circle cx="625.94" cy="721.53" r="1.05" fill="#00bfc4"/>
<circle cx="631.03" cy="715.59" r="1.05" fill="#00bfc4"/>
<circle cx="617.74" cy="735.35" r="1.05" fill="#00bfc4"/>
<circle cx="619.52" cy="734.37" r="1.05" fill="#00bfc4"/>
<circle cx="629.6" cy="712.71" r="1.05" fill="#00bfc4"/>
<circle cx="618.52" cy="709.8" r="1.05" fill="#00bfc4"/>
<circle cx="620.22" cy="725.25" r="1.05" fill="#00bfc4"/>
<circle cx="628.37" cy="728.42" r="1.05" fill="#00bfc4"/>
<circle cx="619.92" cy="714.8" r="1.05" fill="#00bfc4"/>
<circle cx="629.93" cy="749.31" r="1.05" fill="#00bfc4"/>
<circle cx="631.32" cy="729.9" r="1.05" fill="#00bfc4"/>
<circle cx="622.11" cy="717.75" r="1.05" fill="#00bfc4"/>
<circle cx="630.53" cy="737.6" r="1.05" fill="#00bfc4"/>
<circle cx="626.05" cy="713.02" r="1.05" fill="#00bfc4"/>
<circle cx="631.24" cy="749.04" r="1.05" fill="#00bfc4"/>
<circle cx="628.31" cy="723.41" r="1.05" fill="#00bfc4"/>
<circle cx="621" cy="722.82" r="1.05" fill="#00bfc4"/>
<circle cx="626.14" cy="742.07" r="1.05" fill="#00bfc4"/>
<circle cx="620.86" cy="743.16" r="1.05" fill="#00bfc4"/>
<circle cx="616.95" cy="711.88" r="1.05" fill="#00bfc4"/>
<circle cx="621.67" cy="733.6" r="1.05" fill="#00bfc4"/>
<circle cx="631.12" cy="731.93" r="1.05" fill="#00bfc4"/>
<circle cx="623.64" cy="731.74" r="1.05" fill="#00bfc4"/>
<circle cx="630.62" cy="725.31" r="1.05" fill="#00bfc4"/>
<circle cx="630.37" cy="734.32" r="1.05" fill="#00bfc4"/>
<circle cx="625.47" cy="732.61" r="1.05" fill="#00bfc4"/>
<circle cx="618.37" cy="729.49" r="1.05" fill="#00bfc4"/>
<circle cx="622.31" cy="736.82" r="1.05" fill="#00bfc4"/>
<circle cx="624.06" cy="722.29" r="1.05" fill="#00bfc4"/>
<circle cx="629.64" cy="743.39" r="1.05" fill="#00bfc4"/>
<circle cx="622.63" cy="722.35" r="1.05" fill="#00bfc4"/>
<circle cx="623.48" cy="714.07" r="1.05" fill="#00bfc4"/>
<circle cx="631.31" cy="716.17" r="1.05" fill="#00bfc4"/>
<circle cx="630.05" cy="721.49" r="1.05" fill="#00bfc4"/>
<circle cx="629.54" cy="726.52" r="1.05" fill="#00bfc4"/>
<circle cx="622.96" cy="735.09" r="1.05" fill="#00bfc4"/>
<circle cx="621.73" cy="738.59" r="1.05" fill="#00bfc4"/>
<circle cx="620.75" cy="715.71" r="1.05" fill="#00bfc4"/>
<circle cx="623.79" cy="714.22" r="1.05" fill="#00bfc4"/>
<line x1="624.4" y1="695" x2="624.4" y2="720.1" stroke="#00bfc4" stroke-width="0.6"/>
<line x1="624.4" y1="739.1" x2="624.4" y2="752.6" stroke="#00bfc4" stroke-width="0.6"/>
<rect x="613.45" y="720.1" width="21.9" height="19" fill="none" stroke="#00bfc4" stroke-width="0.6"/>
<line x1="613.45" y1="729.5" x2="635.35" y2="729.5" stroke="#00bfc4" stroke-width="0.8"/>
<circle cx="662.14" cy="727.97" r="1.05" fill="#c77cff"/>
<circle cx="650.54" cy="735.19" r="1.05" fill="#c77cff"/>
<circle cx="650.9" cy="722.24" r="1.05" fill="#c77cff"/>
<circle cx="654.24" cy="728.91" r="1.05" fill="#c77cff"/>
<line x1="655.5" y1="713.6" x2="655.5" y2="720.3" stroke="#c77cff" stroke-width="0.6"/>
<line x1="655.5" y1="735.5" x2="655.5" y2="755.5" stroke="#c77cff" stroke-width="0.6"/>
<rect x="644.7" y="720.3" width="21.6" height="15.2" fill="none" stroke="#c77cff" stroke-width="0.6"/>
<line x1="644.7" y1="731.6" x2="666.3" y2="731.6" stroke="#c77cff" stroke-width="0.8"/>
<circle cx="562.9" cy="698.9" r="1.05" fill="#f8766d"/>
<circle cx="654" cy="698.26" r="1.05" fill="#c77cff"/>
<circle cx="655.2" cy="713.67" r="1.05" fill="#c77cff"/>
<circle cx="658" cy="719.37" r="1.05" fill="#c77cff"/>
<circle cx="657" cy="732.02" r="1.05" fill="#c77cff"/>
<circle cx="653" cy="737.3" r="1.05" fill="#c77cff"/>
<circle cx="651" cy="739.41" r="1.05" fill="#c77cff"/>
<circle cx="654.5" cy="755.24" r="1.05" fill="#c77cff"/>
<circle cx="658.5" cy="735.19" r="1.05" fill="#c77cff"/>
<rect x="0" y="0" width="2" height="790" fill="#3c3c3c" stroke="none" stroke-width="0.8"/>
<rect x="0" y="0" width="685" height="2" fill="#444" stroke="none" stroke-width="0.8"/>
<rect x="0" y="788" width="685" height="2" fill="#3c3c3c" stroke="none" stroke-width="0.8"/>
<rect x="683" y="0" width="1" height="790" fill="#111" stroke="none" stroke-width="0.8"/>
<text transform="translate(29.3 105.2) rotate(-90) scale(1.0000 1.1500)" font-size="14.6" text-anchor="middle" fill="#111" stroke="#111" stroke-width="0.15">TCGA expression</text>
<text transform="translate(28.7 324) rotate(-90) scale(1.0000 1.1500)" font-size="14.5" text-anchor="middle" fill="#111" stroke="#111" stroke-width="0.15">GEO expression</text>
<text transform="translate(32.2 511) rotate(-90) scale(1.0000 1.1500)" font-size="14.2" text-anchor="middle" fill="#111" stroke="#111" stroke-width="0.15">OS  DSS  DFS  PFS</text>
<text transform="translate(32.3 693.6) rotate(-90) scale(1.0000 1.1500)" font-size="14.4" text-anchor="middle" fill="#111" stroke="#111" stroke-width="0.15">Clinical</text>
</svg>
</body></html>
